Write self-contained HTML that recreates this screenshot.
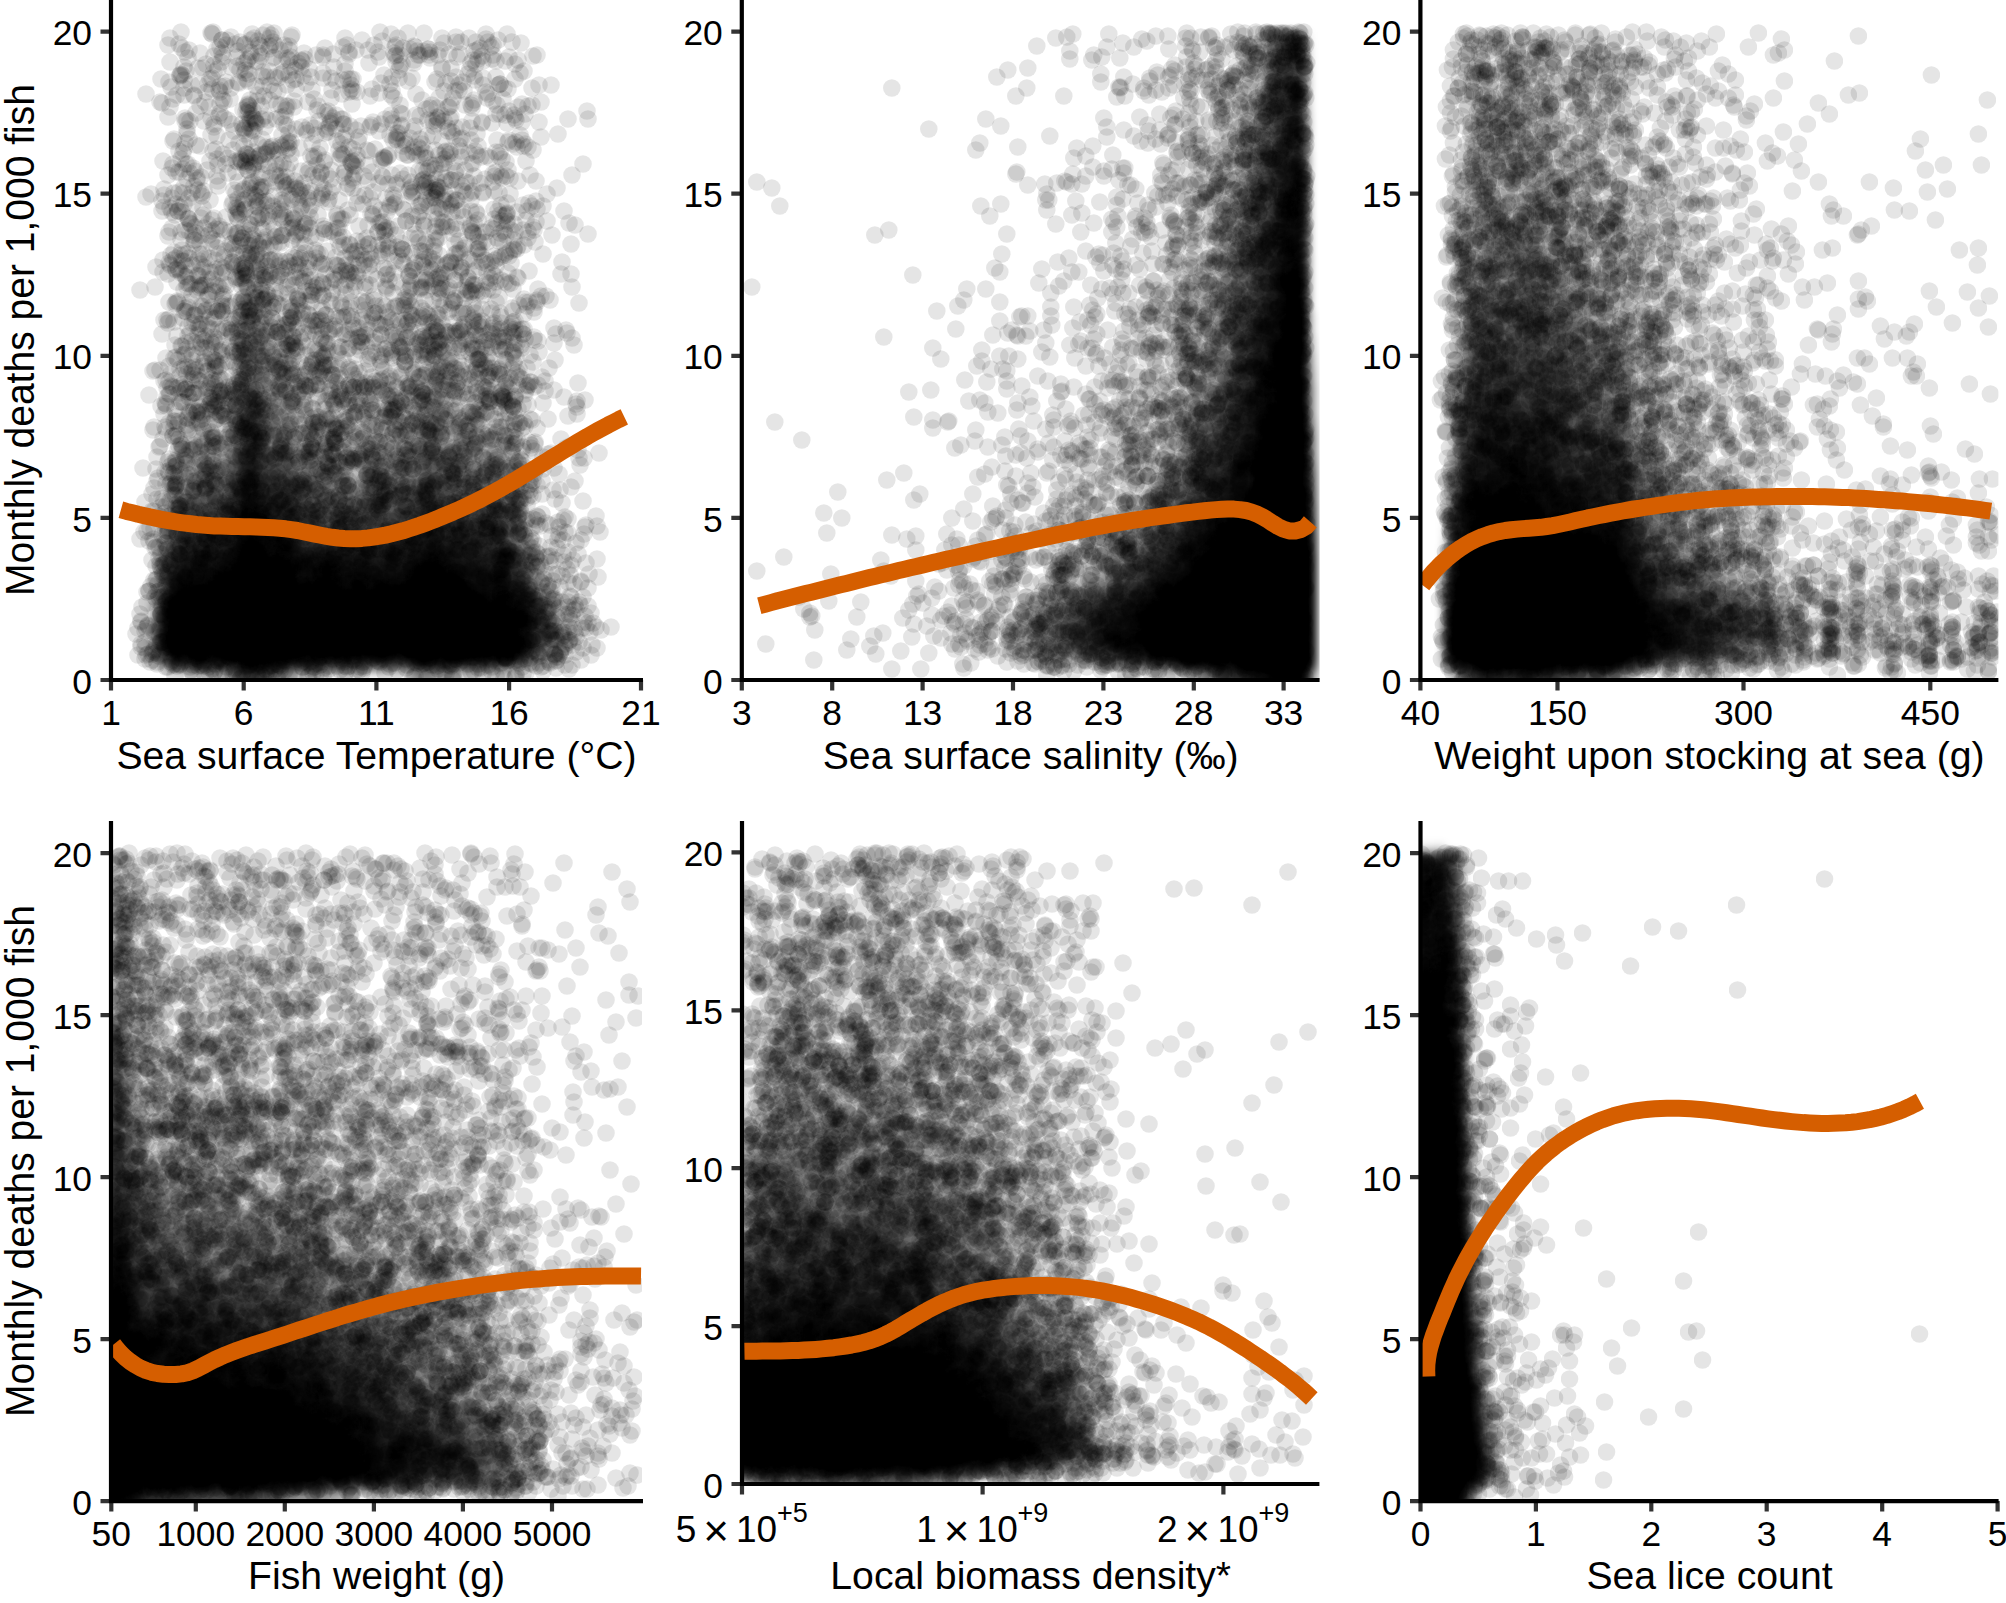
<!DOCTYPE html>
<html><head><meta charset="utf-8"><title>Mortality scatter panels</title>
<style>
html,body{margin:0;padding:0;background:#fff}
svg{display:block}
text{font-family:"Liberation Sans",sans-serif;fill:#000}
.tk{font-size:35.4px}
.tt{font-size:39.2px}
.ax{stroke:#000;stroke-width:4.2;fill:none;stroke-linecap:butt}
.ti{stroke:#333;stroke-width:4.2;fill:none}
.cv{stroke:#d55e00;stroke-width:17;fill:none;stroke-linejoin:round}
.d{fill:none;stroke:none;marker-start:url(#m);marker-mid:url(#m);marker-end:url(#m)}
</style></head><body>
<svg width="2006" height="1603" viewBox="0 0 2006 1603">
<rect width="2006" height="1603" fill="#fff"/>
<defs>
<clipPath id="c1"><rect x="111.0" y="0.0" width="531.0" height="680.0"/></clipPath>
<clipPath id="c2"><rect x="741.8" y="0.0" width="577.8" height="680.0"/></clipPath>
<clipPath id="c3"><rect x="1420.4" y="0.0" width="578.0" height="680.0"/></clipPath>
<clipPath id="c4"><rect x="111.0" y="821.0" width="531.0" height="680.0999999999999"/></clipPath>
<clipPath id="c5"><rect x="742.0" y="821.0" width="577.4000000000001" height="663.0"/></clipPath>
<clipPath id="c6"><rect x="1420.5" y="821.0" width="578.0999999999999" height="680.0999999999999"/></clipPath>
<marker id="m" markerUnits="userSpaceOnUse" markerWidth="18" markerHeight="18" refX="9" refY="9" viewBox="0 0 18 18"><circle cx="9" cy="9" r="8.8" fill="#000" fill-opacity=".1"/></marker>
<filter id="bl" x="-5%" y="-5%" width="110%" height="110%"><feGaussianBlur stdDeviation="4"/></filter>
</defs>
<g clip-path="url(#c1)">
<g filter="url(#bl)">
<path fill="#000" fill-opacity="0.062" d="M239,264h8v8h-8zM239,272h16v8h-16zM247,280h8v8h-8zM255,296h8v8h-8zM263,312h8v8h-8zM287,328h8v8h-8zM231,336h8v8h-8zM287,336h8v8h-8zM423,336h8v8h-8zM231,344h8v8h-8zM279,344h8v8h-8zM431,344h8v8h-8zM231,352h8v8h-8zM431,352h8v8h-8zM231,368h8v8h-8zM279,368h8v8h-8zM423,368h8v8h-8zM439,368h8v8h-8zM231,376h8v8h-8zM415,376h8v8h-8zM439,376h8v8h-8zM487,376h16v8h-16zM223,384h8v8h-8zM295,384h8v8h-8zM439,384h8v8h-8zM479,384h8v8h-8zM495,384h8v8h-8zM215,392h8v8h-8zM295,392h8v8h-8zM375,392h8v8h-8zM407,392h8v8h-8zM439,392h8v8h-8zM463,392h8v8h-8zM367,400h16v8h-16zM415,400h8v8h-8zM447,400h8v8h-8zM295,408h8v8h-8zM367,408h8v8h-8zM415,408h8v8h-8zM471,408h32v8h-32zM199,416h16v8h-16zM295,416h8v8h-8zM319,416h24v8h-24zM367,416h32v8h-32zM487,416h16v8h-16zM215,424h8v8h-8zM295,424h8v8h-8zM311,424h8v8h-8zM327,424h8v8h-8zM359,424h8v8h-8zM375,424h24v8h-24zM407,424h8v8h-8zM487,424h8v8h-8zM327,432h8v8h-8zM359,432h8v8h-8zM391,432h16v8h-16zM503,432h8v8h-8zM175,440h8v8h-8zM207,440h8v8h-8zM359,440h8v8h-8zM207,448h8v8h-8zM343,448h16v8h-16zM511,456h8v8h-8zM175,464h8v8h-8zM159,520h8v8h-8zM159,528h8v8h-8zM159,536h8v8h-8zM527,544h8v8h-8zM535,560h8v8h-8zM559,608h8v8h-8zM567,632h8v8h-8zM567,640h8v8h-8zM191,672h32v8h-32zM303,672h8v8h-8zM471,672h8v8h-8zM191,680h32v8h-32zM303,680h8v8h-8zM471,680h8v8h-8zM191,688h32v8h-32zM303,688h8v8h-8zM471,688h8v8h-8z"/>
<path fill="#000" fill-opacity="0.125" d="M247,240h8v8h-8zM255,248h8v8h-8zM247,256h16v8h-16zM247,264h8v8h-8zM239,288h8v8h-8zM255,304h8v8h-8zM263,320h24v8h-24zM271,336h16v8h-16zM271,344h8v8h-8zM423,344h8v8h-8zM279,352h8v8h-8zM423,352h8v8h-8zM231,360h8v8h-8zM279,360h8v8h-8zM423,360h16v8h-16zM431,368h8v8h-8zM279,376h16v8h-16zM431,376h8v8h-8zM487,384h8v8h-8zM223,392h8v8h-8zM223,400h8v8h-8zM223,408h8v8h-8zM375,408h8v8h-8zM447,408h8v8h-8zM223,416h8v8h-8zM455,416h16v8h-16zM479,416h8v8h-8zM183,424h8v8h-8zM199,424h16v8h-16zM223,424h8v8h-8zM319,424h8v8h-8zM367,424h8v8h-8zM455,424h16v8h-16zM479,424h8v8h-8zM199,432h24v8h-24zM295,432h32v8h-32zM375,432h8v8h-8zM407,432h8v8h-8zM463,432h8v8h-8zM487,432h16v8h-16zM199,440h8v8h-8zM311,440h24v8h-24zM383,440h24v8h-24zM175,448h8v8h-8zM199,448h8v8h-8zM335,448h8v8h-8zM359,448h8v8h-8zM391,448h16v8h-16zM175,456h8v8h-8zM199,456h16v8h-16zM343,456h16v8h-16zM511,464h8v8h-8zM175,472h8v8h-8zM511,472h8v8h-8zM167,488h8v8h-8zM167,496h8v8h-8zM519,504h8v8h-8zM535,568h8v8h-8zM543,584h8v8h-8zM551,600h8v8h-8zM151,656h8v8h-8zM407,672h8v8h-8zM447,672h24v8h-24zM407,680h8v8h-8zM447,680h24v8h-24zM407,688h8v8h-8zM447,688h24v8h-24z"/>
<path fill="#000" fill-opacity="0.188" d="M247,248h8v8h-8zM247,288h8v8h-8zM239,296h8v8h-8zM239,304h8v8h-8zM255,312h8v8h-8zM263,328h24v8h-24zM263,336h8v8h-8zM263,344h8v8h-8zM271,352h8v8h-8zM271,368h8v8h-8zM271,376h8v8h-8zM423,376h8v8h-8zM231,384h8v8h-8zM287,384h8v8h-8zM415,384h8v8h-8zM431,384h8v8h-8zM287,392h8v8h-8zM415,392h8v8h-8zM431,392h8v8h-8zM287,400h8v8h-8zM439,400h8v8h-8zM439,408h8v8h-8zM415,416h8v8h-8zM439,416h16v8h-16zM471,416h8v8h-8zM191,424h8v8h-8zM447,424h8v8h-8zM471,424h8v8h-8zM183,432h8v8h-8zM223,432h8v8h-8zM367,432h8v8h-8zM439,432h24v8h-24zM471,432h16v8h-16zM215,440h8v8h-8zM295,440h16v8h-16zM367,440h16v8h-16zM407,440h8v8h-8zM463,440h16v8h-16zM503,440h8v8h-8zM183,448h16v8h-16zM215,448h8v8h-8zM311,448h24v8h-24zM383,448h8v8h-8zM407,448h8v8h-8zM471,448h8v8h-8zM503,448h8v8h-8zM183,456h8v8h-8zM311,456h32v8h-32zM383,456h24v8h-24zM311,464h8v8h-8zM343,464h8v8h-8zM175,480h8v8h-8zM519,512h8v8h-8zM519,520h8v8h-8zM159,544h8v8h-8zM527,552h8v8h-8zM535,576h8v8h-8zM151,592h8v8h-8zM559,616h8v8h-8zM559,640h8v8h-8zM551,648h8v8h-8zM223,672h8v8h-8zM295,672h8v8h-8zM439,672h8v8h-8zM223,680h8v8h-8zM295,680h8v8h-8zM439,680h8v8h-8zM223,688h8v8h-8zM295,688h8v8h-8zM439,688h8v8h-8z"/>
<path fill="#000" fill-opacity="0.250" d="M247,296h8v8h-8zM247,304h8v8h-8zM239,312h16v8h-16zM239,320h8v8h-8zM255,320h8v8h-8zM263,352h8v8h-8zM271,360h8v8h-8zM263,368h8v8h-8zM263,376h8v8h-8zM263,384h24v8h-24zM423,384h8v8h-8zM271,392h16v8h-16zM423,392h8v8h-8zM271,400h16v8h-16zM423,400h8v8h-8zM287,408h8v8h-8zM423,408h8v8h-8zM287,416h8v8h-8zM287,424h8v8h-8zM415,424h8v8h-8zM439,424h8v8h-8zM191,432h8v8h-8zM415,432h8v8h-8zM183,440h16v8h-16zM223,440h8v8h-8zM447,440h16v8h-16zM479,440h24v8h-24zM295,448h16v8h-16zM367,448h16v8h-16zM463,448h8v8h-8zM479,448h8v8h-8zM495,448h8v8h-8zM191,456h8v8h-8zM215,456h8v8h-8zM303,456h8v8h-8zM359,456h8v8h-8zM375,456h8v8h-8zM463,456h24v8h-24zM503,456h8v8h-8zM183,464h24v8h-24zM303,464h8v8h-8zM319,464h24v8h-24zM351,464h8v8h-8zM471,464h8v8h-8zM183,472h8v8h-8zM343,472h16v8h-16zM511,480h8v8h-8zM167,504h8v8h-8zM519,528h8v8h-8zM543,592h8v8h-8zM551,608h8v8h-8zM559,624h8v8h-8zM559,632h8v8h-8zM535,656h8v8h-8zM167,664h8v8h-8zM511,664h8v8h-8z"/>
<path fill="#000" fill-opacity="0.312" d="M239,328h8v8h-8zM239,336h8v8h-8zM239,344h8v8h-8zM255,344h8v8h-8zM239,352h8v8h-8zM263,360h8v8h-8zM231,392h8v8h-8zM263,392h8v8h-8zM263,400h8v8h-8zM431,400h8v8h-8zM431,408h8v8h-8zM423,416h16v8h-16zM431,424h8v8h-8zM287,432h8v8h-8zM431,432h8v8h-8zM287,440h8v8h-8zM415,440h8v8h-8zM439,440h8v8h-8zM223,448h8v8h-8zM455,448h8v8h-8zM487,448h8v8h-8zM223,456h8v8h-8zM295,456h8v8h-8zM367,456h8v8h-8zM407,456h8v8h-8zM487,456h16v8h-16zM207,464h24v8h-24zM295,464h8v8h-8zM359,464h48v8h-48zM463,464h8v8h-8zM479,464h32v8h-32zM191,472h8v8h-8zM303,472h16v8h-16zM335,472h8v8h-8zM471,472h16v8h-16zM495,472h16v8h-16zM183,480h8v8h-8zM335,480h16v8h-16zM175,488h8v8h-8zM335,488h8v8h-8zM511,488h8v8h-8zM511,496h8v8h-8zM519,536h8v8h-8zM159,552h8v8h-8zM527,560h8v8h-8zM543,600h8v8h-8zM551,616h8v8h-8zM287,672h8v8h-8zM415,672h8v8h-8zM431,672h8v8h-8zM287,680h8v8h-8zM415,680h8v8h-8zM431,680h8v8h-8zM287,688h8v8h-8zM415,688h8v8h-8zM431,688h8v8h-8z"/>
<path fill="#000" fill-opacity="0.375" d="M247,320h8v8h-8zM255,328h8v8h-8zM255,336h8v8h-8zM247,344h8v8h-8zM247,352h16v8h-16zM239,360h8v8h-8zM255,360h8v8h-8zM239,368h8v8h-8zM255,368h8v8h-8zM239,376h8v8h-8zM255,376h8v8h-8zM231,400h8v8h-8zM231,408h8v8h-8zM263,408h24v8h-24zM231,416h8v8h-8zM263,416h8v8h-8zM231,424h8v8h-8zM279,424h8v8h-8zM423,424h8v8h-8zM231,432h8v8h-8zM271,432h16v8h-16zM423,432h8v8h-8zM415,448h8v8h-8zM447,448h8v8h-8zM447,456h16v8h-16zM407,464h8v8h-8zM447,464h16v8h-16zM199,472h8v8h-8zM223,472h8v8h-8zM319,472h16v8h-16zM359,472h8v8h-8zM391,472h24v8h-24zM455,472h16v8h-16zM487,472h8v8h-8zM191,480h8v8h-8zM311,480h8v8h-8zM327,480h8v8h-8zM351,480h8v8h-8zM391,480h24v8h-24zM471,480h40v8h-40zM327,488h8v8h-8zM343,488h8v8h-8zM375,488h8v8h-8zM391,488h16v8h-16zM175,496h8v8h-8zM335,496h8v8h-8zM511,504h8v8h-8zM167,512h8v8h-8zM519,544h8v8h-8zM159,560h8v8h-8zM535,584h8v8h-8zM151,600h8v8h-8zM543,608h8v8h-8zM551,624h8v8h-8zM551,640h8v8h-8zM271,672h16v8h-16zM423,672h8v8h-8zM271,680h16v8h-16zM423,680h8v8h-8zM271,688h16v8h-16zM423,688h8v8h-8z"/>
<path fill="#000" fill-opacity="0.438" d="M247,328h8v8h-8zM247,336h8v8h-8zM247,360h8v8h-8zM247,368h8v8h-8zM239,384h8v8h-8zM255,384h8v8h-8zM255,392h8v8h-8zM271,416h16v8h-16zM271,424h8v8h-8zM231,440h8v8h-8zM279,440h8v8h-8zM423,440h16v8h-16zM287,448h8v8h-8zM439,448h8v8h-8zM415,456h8v8h-8zM439,456h8v8h-8zM439,464h8v8h-8zM207,472h16v8h-16zM295,472h8v8h-8zM367,472h24v8h-24zM447,472h8v8h-8zM199,480h32v8h-32zM303,480h8v8h-8zM319,480h8v8h-8zM359,480h16v8h-16zM455,480h16v8h-16zM183,488h8v8h-8zM215,488h16v8h-16zM303,488h24v8h-24zM351,488h24v8h-24zM383,488h8v8h-8zM455,488h16v8h-16zM487,488h24v8h-24zM215,496h8v8h-8zM319,496h16v8h-16zM343,496h16v8h-16zM367,496h40v8h-40zM503,496h8v8h-8zM175,504h8v8h-8zM335,504h16v8h-16zM511,512h8v8h-8zM167,520h8v8h-8zM511,520h8v8h-8zM167,528h8v8h-8zM527,568h8v8h-8zM543,616h8v8h-8zM551,632h8v8h-8zM543,648h8v8h-8zM175,664h8v8h-8zM351,664h8v8h-8zM391,664h16v8h-16zM503,664h8v8h-8zM231,672h8v8h-8zM263,672h8v8h-8zM231,680h8v8h-8zM263,680h8v8h-8zM231,688h8v8h-8zM263,688h8v8h-8z"/>
<path fill="#000" fill-opacity="0.500" d="M247,376h8v8h-8zM247,384h8v8h-8zM239,392h8v8h-8zM255,400h8v8h-8zM263,424h8v8h-8zM263,432h8v8h-8zM271,440h8v8h-8zM231,448h8v8h-8zM279,448h8v8h-8zM423,448h16v8h-16zM287,456h8v8h-8zM431,456h8v8h-8zM287,464h8v8h-8zM415,464h8v8h-8zM431,464h8v8h-8zM415,472h8v8h-8zM439,472h8v8h-8zM295,480h8v8h-8zM375,480h16v8h-16zM447,480h8v8h-8zM191,488h24v8h-24zM407,488h8v8h-8zM447,488h8v8h-8zM471,488h16v8h-16zM183,496h8v8h-8zM207,496h8v8h-8zM223,496h8v8h-8zM303,496h16v8h-16zM359,496h8v8h-8zM463,496h40v8h-40zM311,504h24v8h-24zM351,504h16v8h-16zM471,504h40v8h-40zM319,512h40v8h-40zM479,512h16v8h-16zM511,528h8v8h-8zM167,536h8v8h-8zM519,552h8v8h-8zM159,568h8v8h-8zM527,576h8v8h-8zM535,592h8v8h-8zM151,608h8v8h-8zM151,648h8v8h-8zM527,656h8v8h-8zM335,664h16v8h-16zM359,664h8v8h-8zM383,664h8v8h-8zM487,664h16v8h-16z"/>
<path fill="#000" fill-opacity="0.562" d="M247,392h8v8h-8zM239,400h8v8h-8zM255,408h8v8h-8zM255,416h8v8h-8zM263,440h8v8h-8zM263,448h16v8h-16zM231,456h8v8h-8zM271,456h16v8h-16zM423,456h8v8h-8zM423,464h8v8h-8zM287,472h8v8h-8zM431,472h8v8h-8zM415,480h8v8h-8zM439,480h8v8h-8zM295,488h8v8h-8zM191,496h16v8h-16zM407,496h8v8h-8zM447,496h16v8h-16zM183,504h40v8h-40zM303,504h8v8h-8zM367,504h48v8h-48zM463,504h8v8h-8zM175,512h32v8h-32zM311,512h8v8h-8zM359,512h8v8h-8zM447,512h8v8h-8zM471,512h8v8h-8zM495,512h16v8h-16zM335,520h40v8h-40zM511,536h8v8h-8zM167,544h8v8h-8zM519,560h8v8h-8zM159,576h8v8h-8zM151,616h8v8h-8zM543,624h8v8h-8zM151,640h8v8h-8zM543,640h8v8h-8zM183,664h8v8h-8zM311,664h24v8h-24zM367,664h16v8h-16zM471,664h16v8h-16z"/>
<path fill="#000" fill-opacity="0.625" d="M247,400h8v8h-8zM239,408h8v8h-8zM239,416h8v8h-8zM239,424h8v8h-8zM255,424h8v8h-8zM239,432h8v8h-8zM239,440h8v8h-8zM263,456h8v8h-8zM231,464h8v8h-8zM271,464h16v8h-16zM231,472h8v8h-8zM279,472h8v8h-8zM423,472h8v8h-8zM231,480h8v8h-8zM287,480h8v8h-8zM431,480h8v8h-8zM415,488h8v8h-8zM439,488h8v8h-8zM295,496h8v8h-8zM439,496h8v8h-8zM223,504h8v8h-8zM447,504h16v8h-16zM207,512h16v8h-16zM303,512h8v8h-8zM367,512h48v8h-48zM455,512h16v8h-16zM175,520h32v8h-32zM215,520h8v8h-8zM311,520h24v8h-24zM375,520h32v8h-32zM447,520h8v8h-8zM479,520h16v8h-16zM503,520h8v8h-8zM175,528h8v8h-8zM351,528h32v8h-32zM503,528h8v8h-8zM511,544h8v8h-8zM519,568h8v8h-8zM159,584h8v8h-8zM527,584h8v8h-8zM535,600h8v8h-8zM151,624h8v8h-8zM151,632h8v8h-8zM543,632h8v8h-8zM535,648h8v8h-8zM159,656h8v8h-8zM191,664h32v8h-32zM303,664h8v8h-8zM407,664h8v8h-8zM447,664h24v8h-24zM255,672h8v8h-8zM255,680h8v8h-8zM255,688h8v8h-8z"/>
<path fill="#000" fill-opacity="0.688" d="M247,408h8v8h-8zM247,416h8v8h-8zM247,424h8v8h-8zM247,432h16v8h-16zM247,440h16v8h-16zM239,448h8v8h-8zM255,448h8v8h-8zM263,464h8v8h-8zM263,472h16v8h-16zM279,480h8v8h-8zM423,480h8v8h-8zM231,488h8v8h-8zM287,488h8v8h-8zM423,488h16v8h-16zM231,496h8v8h-8zM287,496h8v8h-8zM415,496h8v8h-8zM431,496h8v8h-8zM287,504h16v8h-16zM415,504h8v8h-8zM439,504h8v8h-8zM223,512h8v8h-8zM295,512h8v8h-8zM439,512h8v8h-8zM207,520h8v8h-8zM223,520h8v8h-8zM295,520h16v8h-16zM407,520h8v8h-8zM455,520h24v8h-24zM495,520h8v8h-8zM183,528h24v8h-24zM215,528h16v8h-16zM303,528h48v8h-48zM383,528h32v8h-32zM455,528h8v8h-8zM479,528h24v8h-24zM175,536h8v8h-8zM311,536h16v8h-16zM351,536h8v8h-8zM399,536h8v8h-8zM503,536h8v8h-8zM167,552h8v8h-8zM511,552h8v8h-8zM527,592h8v8h-8zM535,608h8v8h-8zM535,616h8v8h-8zM519,656h8v8h-8zM223,664h8v8h-8zM295,664h8v8h-8zM439,664h8v8h-8zM239,672h16v8h-16zM239,680h16v8h-16zM239,688h16v8h-16z"/>
<path fill="#000" fill-opacity="0.750" d="M247,448h8v8h-8zM239,456h8v8h-8zM255,456h8v8h-8zM263,480h16v8h-16zM263,488h24v8h-24zM271,496h16v8h-16zM423,496h8v8h-8zM231,504h8v8h-8zM423,504h16v8h-16zM287,512h8v8h-8zM415,512h8v8h-8zM439,520h8v8h-8zM207,528h8v8h-8zM295,528h8v8h-8zM447,528h8v8h-8zM463,528h16v8h-16zM183,536h48v8h-48zM327,536h24v8h-24zM359,536h40v8h-40zM407,536h8v8h-8zM447,536h16v8h-16zM479,536h24v8h-24zM175,544h24v8h-24zM383,544h24v8h-24zM479,544h32v8h-32zM167,560h8v8h-8zM511,560h8v8h-8zM511,568h8v8h-8zM519,576h8v8h-8zM159,592h8v8h-8zM535,624h8v8h-8zM535,632h8v8h-8zM535,640h8v8h-8zM287,664h8v8h-8zM415,664h8v8h-8zM431,664h8v8h-8z"/>
<path fill="#000" fill-opacity="0.812" d="M247,456h8v8h-8zM239,464h8v8h-8zM255,464h8v8h-8zM239,472h8v8h-8zM255,472h8v8h-8zM239,480h8v8h-8zM255,480h8v8h-8zM255,488h8v8h-8zM263,496h8v8h-8zM271,504h16v8h-16zM271,512h16v8h-16zM423,512h16v8h-16zM287,520h8v8h-8zM415,520h24v8h-24zM415,528h8v8h-8zM439,528h8v8h-8zM295,536h16v8h-16zM415,536h8v8h-8zM439,536h8v8h-8zM463,536h16v8h-16zM199,544h24v8h-24zM303,544h80v8h-80zM407,544h8v8h-8zM447,544h32v8h-32zM175,552h16v8h-16zM199,552h16v8h-16zM327,552h32v8h-32zM375,552h8v8h-8zM399,552h8v8h-8zM471,552h40v8h-40zM487,560h24v8h-24zM167,568h8v8h-8zM511,576h8v8h-8zM519,584h8v8h-8zM159,600h8v8h-8zM527,600h8v8h-8zM527,648h8v8h-8zM511,656h8v8h-8zM231,664h8v8h-8zM263,664h24v8h-24zM423,664h8v8h-8z"/>
<path fill="#000" fill-opacity="0.875" d="M247,464h8v8h-8zM247,472h8v8h-8zM247,480h8v8h-8zM239,488h16v8h-16zM239,496h8v8h-8zM255,496h8v8h-8zM255,504h16v8h-16zM231,512h8v8h-8zM263,512h8v8h-8zM231,520h8v8h-8zM263,520h24v8h-24zM231,528h8v8h-8zM263,528h32v8h-32zM423,528h16v8h-16zM231,536h8v8h-8zM287,536h8v8h-8zM423,536h16v8h-16zM223,544h8v8h-8zM295,544h8v8h-8zM415,544h8v8h-8zM439,544h8v8h-8zM191,552h8v8h-8zM215,552h16v8h-16zM295,552h32v8h-32zM359,552h16v8h-16zM383,552h16v8h-16zM407,552h8v8h-8zM447,552h24v8h-24zM175,560h48v8h-48zM311,560h72v8h-72zM399,560h8v8h-8zM471,560h16v8h-16zM487,568h24v8h-24zM167,576h8v8h-8zM503,576h8v8h-8zM511,584h8v8h-8zM519,592h8v8h-8zM519,600h8v8h-8zM159,608h8v8h-8zM527,608h8v8h-8zM527,616h8v8h-8zM527,624h8v8h-8zM527,632h8v8h-8zM159,640h8v8h-8zM527,640h8v8h-8zM159,648h8v8h-8zM167,656h8v8h-8zM503,656h8v8h-8z"/>
<path fill="#000" fill-opacity="0.938" d="M247,496h8v8h-8zM239,504h16v8h-16zM239,512h24v8h-24zM239,520h24v8h-24zM239,528h24v8h-24zM239,536h8v8h-8zM255,536h32v8h-32zM231,544h8v8h-8zM263,544h32v8h-32zM423,544h16v8h-16zM231,552h8v8h-8zM271,552h24v8h-24zM415,552h32v8h-32zM223,560h8v8h-8zM287,560h24v8h-24zM383,560h16v8h-16zM407,560h16v8h-16zM431,560h40v8h-40zM175,568h56v8h-56zM295,568h120v8h-120zM439,568h48v8h-48zM175,576h48v8h-48zM295,576h120v8h-120zM463,576h40v8h-40zM167,584h16v8h-16zM343,584h8v8h-8zM367,584h8v8h-8zM471,584h40v8h-40zM167,592h8v8h-8zM487,592h32v8h-32zM167,600h8v8h-8zM503,600h16v8h-16zM519,608h8v8h-8zM159,616h8v8h-8zM519,616h8v8h-8zM159,624h8v8h-8zM519,624h8v8h-8zM159,632h8v8h-8zM519,632h8v8h-8zM519,640h8v8h-8zM511,648h16v8h-16zM175,656h48v8h-48zM303,656h112v8h-112zM463,656h40v8h-40zM239,664h24v8h-24z"/>
<path fill="#000" fill-opacity="1.000" d="M247,536h8v8h-8zM239,544h24v8h-24zM239,552h32v8h-32zM231,560h56v8h-56zM423,560h8v8h-8zM231,568h64v8h-64zM415,568h24v8h-24zM223,576h72v8h-72zM415,576h48v8h-48zM183,584h160v8h-160zM351,584h16v8h-16zM375,584h96v8h-96zM175,592h312v8h-312zM175,600h328v8h-328zM167,608h352v8h-352zM167,616h352v8h-352zM167,624h352v8h-352zM167,632h352v8h-352zM167,640h352v8h-352zM167,648h344v8h-344zM223,656h80v8h-80zM415,656h48v8h-48z"/>
</g>
<polyline class="d" fill="none" stroke="none" marker-start="url(#m)" marker-mid="url(#m)" marker-end="url(#m)" transform="translate(111.0,0.0)" points="59,38 70,32 100,33 101,34 102,32 120,37 140,40 141,34 143,38 152,35 156,32 159,38 160,35 163,33 180,37 181,35 234,38 269,32 280,34 287,38 297,33 313,33 331,38 345,37 358,38 375,34 375,39 396,34 50,79 57,45 59,62 68,44 69,76 69,75 70,74 71,48 71,75 73,67 74,52 75,71 77,58 78,50 87,68 89,53 92,68 95,64 99,79 101,78 103,65 103,56 103,72 106,49 107,69 109,47 110,62 111,40 111,53 111,40 112,57 115,45 116,40 120,67 124,44 126,57 126,66 127,51 129,42 129,70 133,45 133,63 134,73 134,44 135,70 135,79 136,61 137,59 138,74 139,52 140,56 145,61 147,41 147,62 148,45 148,53 150,47 150,56 151,76 152,72 156,77 158,71 158,49 159,46 162,42 162,58 163,57 164,45 164,77 167,78 169,50 170,74 171,61 173,45 173,72 176,58 178,50 178,60 178,75 178,46 180,67 180,57 184,70 185,79 187,63 190,60 190,67 191,61 192,76 193,53 194,59 198,69 200,77 205,55 212,78 212,73 212,55 212,57 214,48 220,78 222,54 223,67 232,47 234,71 234,64 236,45 237,79 238,52 238,54 240,79 242,79 245,50 251,40 257,50 258,63 263,45 267,52 268,57 271,41 273,75 281,77 283,53 284,47 284,56 285,55 285,62 285,45 288,70 288,78 289,55 289,66 291,64 292,48 299,49 301,78 303,63 303,46 303,60 304,47 306,51 307,55 309,55 313,51 317,49 318,49 318,55 319,52 319,58 326,79 327,55 329,50 331,67 331,69 333,43 338,54 340,68 345,77 345,42 346,57 349,54 350,42 357,74 359,69 360,63 362,60 363,76 363,51 364,80 365,64 365,42 366,50 367,59 369,48 371,56 372,61 372,78 377,42 380,47 381,59 382,55 382,45 385,77 385,61 387,40 394,61 398,57 401,42 404,64 404,79 407,60 409,73 410,43 413,71 422,56 426,55 35,94 49,102 51,103 57,117 58,82 59,107 60,87 62,99 66,95 73,80 73,95 73,88 74,118 80,84 83,95 83,96 85,113 88,85 89,106 94,102 95,92 97,84 98,107 100,118 101,89 108,90 108,116 109,92 109,104 109,113 109,86 111,99 113,101 113,118 114,86 115,82 117,120 119,99 120,88 127,82 128,83 132,110 135,112 136,107 137,105 137,113 137,81 137,104 138,110 138,106 139,100 139,119 141,116 142,118 142,111 144,119 145,86 146,101 147,95 150,106 151,119 152,86 153,96 154,116 159,85 159,100 163,91 165,119 166,104 167,91 170,117 170,105 174,116 175,106 175,110 176,85 177,106 182,80 183,101 183,107 185,89 195,83 197,102 201,90 203,99 206,110 207,106 214,112 217,111 218,115 220,98 221,90 222,118 225,115 225,81 230,119 231,94 232,80 232,119 238,92 240,89 240,85 241,104 242,91 246,92 259,96 261,89 268,93 270,83 274,119 279,84 280,95 280,119 280,115 281,91 283,98 289,105 289,113 291,114 297,81 305,94 305,115 309,116 311,100 315,109 317,120 319,108 321,105 324,82 326,108 326,120 326,117 327,118 328,98 330,115 333,91 335,83 337,107 338,107 339,119 340,81 340,117 340,105 342,98 344,91 348,90 348,85 352,82 353,91 354,105 360,105 361,108 362,103 363,100 372,85 375,92 376,98 377,94 382,101 385,114 386,105 387,85 389,84 389,84 389,114 392,99 393,88 394,115 397,89 398,111 403,115 404,118 407,107 411,104 414,114 417,106 421,105 421,88 428,85 430,102 440,85 457,119 476,111 477,119 62,141 63,139 68,151 70,159 72,153 73,149 74,143 74,121 76,133 76,129 76,120 78,139 79,121 85,145 89,146 93,121 100,135 102,151 103,124 103,127 105,149 106,159 106,136 112,154 117,158 118,140 121,124 122,150 123,131 128,143 129,159 131,124 132,128 133,146 133,130 134,134 134,128 135,154 136,158 136,154 137,123 137,155 139,157 139,128 139,139 139,123 141,130 142,152 143,131 144,159 144,121 145,123 146,123 147,144 148,156 149,155 151,139 153,154 154,127 155,147 155,154 156,152 157,120 159,149 160,147 162,151 162,146 164,150 167,154 170,145 171,147 171,135 173,124 175,143 176,126 176,150 177,141 178,133 178,143 178,148 180,142 180,154 185,129 188,148 191,127 195,130 196,133 199,125 200,156 201,144 203,158 203,128 203,156 205,135 207,154 208,121 209,148 214,160 214,133 215,129 217,132 218,127 219,123 220,121 225,129 226,141 228,150 229,158 230,144 230,154 231,155 232,138 232,124 233,124 233,154 235,135 238,147 239,126 242,149 245,130 246,160 246,155 247,141 248,137 250,126 256,150 258,151 259,127 260,125 262,122 264,149 268,131 270,124 273,157 273,160 273,158 274,158 277,156 278,155 279,135 282,140 282,123 285,139 286,140 286,137 286,133 288,133 290,126 291,125 292,146 292,153 293,140 295,144 296,155 297,155 299,138 302,131 302,152 303,147 304,126 306,155 307,147 309,139 309,155 310,149 311,144 314,158 314,153 316,136 316,158 322,136 322,121 323,126 324,150 326,124 328,155 331,141 333,121 333,159 334,152 335,151 336,157 337,128 337,131 339,154 339,151 341,132 343,136 345,128 348,146 349,139 350,157 350,151 351,138 351,127 358,153 359,128 360,140 361,121 364,151 366,134 366,155 367,146 370,157 371,123 371,122 375,156 379,158 381,123 385,152 386,140 388,156 389,152 391,159 396,123 397,142 398,140 402,144 405,142 405,120 406,147 409,135 411,140 411,122 412,146 414,144 417,147 422,150 428,122 430,137 447,134 35,197 40,194 52,161 53,189 53,195 57,175 61,198 61,168 62,164 63,193 65,172 68,172 68,192 72,193 72,169 73,187 75,164 76,179 77,164 78,198 79,173 81,193 82,168 83,186 84,171 86,180 86,178 87,190 90,193 90,177 91,196 93,191 96,170 99,161 106,176 107,181 107,165 107,186 115,164 117,173 123,190 125,161 125,193 125,172 127,162 127,199 127,182 130,160 131,191 131,162 133,189 134,166 134,161 135,163 137,170 137,198 137,170 139,185 139,162 139,188 140,194 140,183 142,168 142,182 142,166 144,195 144,163 146,185 146,197 148,177 149,190 149,161 150,190 150,187 151,174 152,164 152,187 156,186 158,166 159,178 163,196 164,171 165,164 165,175 165,182 169,165 169,176 171,200 172,163 172,182 172,181 173,188 175,177 175,186 176,169 176,185 179,195 179,163 179,184 181,199 184,181 184,187 185,189 187,188 187,198 189,191 190,171 190,195 191,188 193,183 196,193 197,173 197,200 198,198 198,169 200,191 202,175 206,165 207,177 207,198 209,183 210,172 210,173 211,193 211,195 211,199 213,189 213,162 216,175 218,199 219,192 220,179 220,170 222,187 233,173 233,177 234,171 236,188 237,184 240,162 240,163 241,164 242,161 242,166 242,180 242,188 242,178 244,174 245,166 247,196 253,176 254,195 257,181 257,165 259,198 261,172 262,192 268,183 270,160 271,176 272,177 275,198 277,184 281,175 282,195 283,198 285,185 286,183 289,173 292,179 297,175 298,191 299,189 300,182 301,196 301,193 301,187 303,192 308,171 310,185 311,181 312,170 312,180 313,191 313,179 314,183 314,187 316,171 316,182 318,168 318,188 319,183 320,165 320,198 321,192 323,197 324,165 324,190 324,169 324,198 325,190 325,179 326,186 326,190 326,194 326,192 327,187 329,188 330,164 330,173 332,199 333,163 334,194 334,182 335,178 340,199 340,180 341,180 343,190 343,162 344,173 345,171 345,200 346,180 351,186 352,191 354,170 355,182 355,194 358,183 360,164 360,193 362,163 362,191 363,176 369,183 372,192 372,193 374,179 382,182 382,174 383,191 384,176 385,172 388,193 390,176 391,178 395,162 395,176 397,170 399,194 399,178 407,181 415,161 419,175 425,181 436,194 446,188 461,175 472,164 51,211 51,201 53,207 57,236 58,232 59,208 61,228 61,212 64,215 65,204 67,211 67,211 69,207 70,232 70,240 71,212 73,204 74,230 77,219 77,218 78,231 78,219 79,223 80,224 82,235 82,203 84,227 85,233 90,235 90,218 92,208 92,215 93,228 97,224 98,235 99,200 101,239 101,231 101,220 103,218 105,229 108,226 109,229 113,230 115,217 119,232 121,205 122,202 124,234 125,236 125,207 125,214 126,208 126,233 126,217 127,233 127,210 127,219 128,212 130,214 131,238 131,238 132,204 133,200 133,227 133,234 134,210 134,209 138,224 139,230 140,225 141,239 142,235 143,216 144,200 145,206 147,202 147,218 147,218 147,207 149,201 150,215 150,228 152,218 152,229 153,202 155,237 156,205 156,201 157,216 158,213 158,221 162,206 163,229 163,211 164,237 165,236 169,218 169,214 169,209 170,236 171,203 171,235 172,211 172,235 172,220 174,202 174,217 177,228 181,228 181,223 182,220 182,218 183,227 183,219 184,236 184,215 185,234 187,232 188,204 190,208 191,232 191,206 193,234 193,223 194,226 195,224 197,223 198,210 199,228 199,217 200,206 200,236 205,238 207,215 212,226 213,229 213,233 214,229 217,202 219,231 222,232 226,216 226,214 226,228 227,220 228,200 228,228 228,236 230,219 232,237 232,219 237,210 239,215 246,203 248,226 252,204 256,238 257,225 260,214 262,214 262,216 263,206 267,232 267,232 268,223 270,222 270,210 272,222 272,227 273,231 274,230 274,235 276,228 276,212 279,205 279,207 279,229 283,204 285,235 285,202 287,226 292,209 293,210 295,221 295,221 300,238 301,216 302,224 304,234 307,238 307,216 308,206 309,212 310,205 311,203 313,226 313,221 313,225 315,200 318,206 323,213 324,232 325,240 325,226 325,206 325,238 326,219 328,238 328,208 330,227 331,222 331,210 332,227 333,222 334,201 335,209 336,226 340,204 340,227 340,206 341,212 342,234 343,202 345,223 346,229 346,200 347,211 351,210 353,217 359,228 360,225 360,231 360,211 360,200 362,234 362,232 362,233 363,223 365,212 366,214 367,236 367,220 372,232 375,232 380,228 383,229 383,209 383,219 386,238 386,223 387,211 389,215 389,233 390,205 391,221 393,216 393,231 395,215 395,235 396,221 396,203 396,224 396,213 396,214 400,230 403,224 404,232 406,212 412,205 412,230 415,220 416,211 417,238 417,232 418,203 421,206 422,227 423,230 425,222 425,201 426,209 432,206 436,221 441,235 453,211 458,223 464,225 477,234 45,267 52,260 52,272 57,274 58,263 59,265 60,255 62,260 63,252 65,270 65,258 65,269 67,268 68,270 69,255 70,273 71,250 71,261 73,261 74,254 74,276 75,266 75,277 77,274 77,253 78,258 81,265 83,244 83,240 84,240 87,276 87,275 87,260 89,254 89,276 89,243 89,264 91,270 92,254 93,259 93,267 97,279 98,258 99,272 100,243 101,279 104,260 104,272 105,269 106,248 106,241 108,254 110,267 111,273 113,257 113,268 114,251 115,272 120,244 121,249 121,264 121,262 122,243 122,262 123,266 123,248 125,277 125,255 125,279 126,265 128,278 129,245 130,279 130,241 130,271 131,269 131,264 132,273 132,276 132,278 133,253 134,263 134,268 134,268 135,275 135,273 135,270 136,275 136,253 137,256 137,245 138,258 138,242 140,255 140,246 140,253 142,263 144,241 145,271 145,255 146,268 146,254 146,261 146,279 147,244 148,246 149,264 149,275 149,270 151,275 151,259 152,278 152,242 152,248 153,240 154,275 154,277 155,248 156,266 157,261 158,277 159,272 159,245 159,260 160,260 160,275 163,245 164,259 164,261 166,277 167,275 168,242 168,266 169,276 169,261 170,243 170,272 173,269 175,261 176,268 177,280 178,262 179,266 181,240 181,257 184,265 184,277 184,258 185,272 187,264 188,253 189,243 189,278 189,260 189,270 190,258 194,245 194,276 194,253 195,268 197,268 198,261 198,259 199,276 204,250 205,258 206,253 208,262 209,254 210,266 211,264 213,264 215,274 216,251 223,279 223,274 224,265 225,257 226,265 227,240 227,266 229,247 230,275 230,271 233,245 234,258 235,271 235,265 236,270 237,274 237,280 238,244 239,272 239,245 240,273 240,252 241,264 242,254 244,251 244,275 245,258 246,273 246,241 246,251 247,276 248,265 250,255 252,241 253,265 253,247 253,260 256,259 257,244 258,244 258,266 259,253 260,259 260,275 261,264 266,279 267,245 268,256 271,253 271,250 272,244 273,268 275,275 276,274 277,241 277,269 277,248 278,246 278,253 283,273 284,261 286,247 287,256 290,243 291,261 291,249 291,249 292,250 293,264 293,254 298,276 298,276 298,272 301,253 301,270 302,270 303,268 304,263 308,242 309,251 311,251 311,262 312,265 313,259 314,252 314,244 314,267 315,278 316,242 316,280 318,257 319,268 321,270 322,262 322,259 322,279 323,246 323,251 325,279 326,264 327,277 328,255 329,278 329,275 331,273 333,274 335,265 337,263 338,271 339,262 340,261 340,263 344,280 344,254 344,280 344,263 344,244 346,253 348,241 349,253 349,272 349,250 350,267 350,270 351,268 353,248 353,262 355,245 357,277 357,278 358,259 363,271 363,261 366,249 367,249 367,252 368,248 368,242 368,267 370,255 371,262 372,242 374,260 376,264 376,272 376,242 379,278 380,262 381,273 383,256 384,276 384,260 385,266 387,258 388,241 390,257 390,280 392,242 394,255 395,253 397,273 398,256 399,251 400,263 403,250 403,240 403,249 406,277 406,249 407,278 407,246 413,245 418,271 424,242 432,254 450,274 451,262 460,244 460,274 29,290 44,287 53,320 58,302 58,319 64,304 65,303 66,301 66,282 67,302 72,318 73,290 73,311 74,308 74,311 76,312 76,283 76,287 77,307 78,284 79,302 80,284 81,295 83,315 84,315 86,290 86,311 88,287 89,288 89,285 90,286 90,306 91,314 92,306 92,285 94,311 94,285 95,310 96,299 97,295 98,295 99,317 101,291 101,307 103,319 104,285 104,318 105,292 106,311 107,286 107,309 107,311 109,288 111,304 111,311 111,306 111,311 112,296 112,313 112,299 113,284 113,294 116,306 116,285 120,306 121,318 124,319 125,302 128,317 129,302 130,285 130,312 130,316 131,309 131,299 133,302 133,311 133,283 133,301 133,297 135,282 136,308 136,287 137,288 137,302 137,317 138,310 138,311 138,316 139,310 140,316 140,308 141,298 141,320 143,315 143,293 144,314 144,290 144,283 145,305 145,297 146,311 146,298 147,302 148,285 149,318 150,290 150,294 151,286 151,300 152,299 152,304 152,310 153,300 153,316 154,299 155,280 155,317 156,297 156,293 157,295 158,310 159,301 161,318 161,318 162,307 162,307 164,291 164,298 164,283 165,303 167,304 169,293 171,306 175,317 176,287 177,294 178,302 179,318 180,311 180,285 180,318 180,311 181,307 182,316 183,285 183,317 186,296 186,311 187,299 187,300 187,298 188,305 189,301 190,318 191,313 192,281 192,311 193,282 195,291 196,301 197,314 198,315 199,291 200,302 200,295 200,280 201,295 202,287 203,292 206,285 206,288 208,295 209,282 209,319 210,311 211,308 212,295 212,284 212,296 212,283 215,315 215,315 219,301 220,282 221,304 221,293 222,290 225,280 225,316 228,318 230,287 230,305 230,303 232,317 232,307 233,317 234,285 235,294 236,315 239,308 240,291 240,302 240,316 241,319 243,282 244,286 248,305 251,320 251,301 251,317 254,283 254,287 254,310 254,303 256,301 259,285 261,316 262,318 263,313 263,300 263,296 264,313 265,306 267,312 272,305 275,306 275,286 275,288 276,289 276,312 277,317 278,280 282,293 282,320 283,308 285,282 285,306 287,306 292,305 292,288 293,308 293,300 294,320 294,305 295,297 297,301 298,312 298,298 298,290 300,281 300,306 300,286 300,288 300,315 301,319 301,315 304,302 309,318 310,288 310,289 310,280 310,308 310,287 311,316 312,287 313,311 313,317 314,300 315,282 316,290 316,314 318,316 321,286 322,301 326,314 327,318 327,293 328,288 328,315 329,307 329,299 329,289 330,283 331,290 332,288 333,305 337,312 337,290 338,287 340,309 341,300 341,303 343,301 343,302 345,298 347,313 349,290 349,313 352,313 353,309 354,287 354,298 355,293 356,314 357,290 357,281 360,292 360,291 361,294 362,304 362,318 362,285 363,284 364,313 364,310 365,290 365,285 366,293 371,309 371,291 372,295 375,282 377,289 379,283 380,309 381,313 382,290 385,302 385,282 388,297 389,313 390,317 394,282 397,284 400,283 401,308 402,289 402,311 408,305 413,314 413,299 414,302 416,306 418,302 423,312 423,308 426,300 426,302 427,289 430,296 435,296 439,300 461,287 468,303 51,334 55,358 56,320 57,323 63,322 63,358 64,345 65,357 66,336 67,360 70,346 71,346 72,355 74,354 75,343 76,349 77,336 77,327 79,333 81,341 81,355 81,323 81,360 84,322 85,343 86,354 87,335 87,327 88,324 89,329 90,343 90,324 90,347 92,348 92,339 94,358 94,341 95,336 96,348 96,327 97,325 100,342 100,354 100,329 101,344 102,359 103,337 104,342 106,339 107,329 108,351 109,345 111,352 111,355 111,331 111,350 113,328 116,328 119,347 119,330 120,324 121,336 121,332 121,333 122,352 122,351 126,328 126,353 126,344 127,356 127,341 127,338 127,331 129,350 129,353 129,351 129,320 129,329 130,339 131,345 131,331 132,341 132,355 133,348 134,349 134,355 134,331 136,322 136,330 137,357 138,328 138,353 139,344 139,343 141,322 142,341 144,336 145,347 146,339 146,329 146,355 146,350 148,343 148,357 149,327 150,337 150,323 150,356 151,335 152,356 156,334 156,331 156,348 156,351 157,342 158,348 160,327 160,331 162,357 162,355 164,339 165,323 166,332 166,332 167,332 168,328 169,357 170,334 170,349 171,338 172,349 174,325 174,333 174,349 176,350 176,343 177,324 177,345 177,330 177,323 178,356 179,346 180,320 181,343 181,344 181,350 181,340 182,336 182,337 182,323 182,358 183,343 184,346 184,348 186,328 186,351 186,327 186,348 189,337 191,342 193,333 195,355 196,346 197,334 198,326 200,320 200,351 202,321 202,331 203,325 204,349 205,335 205,321 206,326 207,351 207,320 210,339 210,338 210,358 211,329 211,354 211,321 212,356 213,358 213,343 214,355 214,326 214,342 216,353 216,343 216,344 217,350 218,331 218,333 218,324 221,329 224,329 224,326 227,351 227,353 229,347 230,347 231,335 232,359 233,334 235,334 237,349 238,330 238,348 240,339 242,325 242,328 244,355 246,346 246,342 247,338 248,328 248,336 249,337 249,350 250,342 251,337 251,342 254,334 255,335 256,347 256,323 257,359 258,330 259,356 261,353 262,342 264,338 265,352 266,323 268,324 269,360 269,344 270,335 270,334 270,325 271,356 274,354 274,323 274,349 275,327 276,348 279,337 280,350 280,322 281,358 281,353 281,355 282,332 282,335 285,338 286,341 287,321 288,346 289,337 289,348 289,347 289,357 290,324 291,353 291,347 292,345 294,355 294,331 295,356 296,337 296,325 296,338 297,323 297,322 299,331 299,337 302,357 302,321 302,347 304,352 305,354 306,344 307,339 309,342 309,345 310,337 310,355 311,350 312,336 312,332 313,324 313,355 314,341 315,338 316,357 316,338 317,345 317,354 317,322 317,352 320,335 320,346 320,332 321,359 321,322 322,355 322,331 323,356 323,342 323,323 323,349 324,351 324,330 324,356 326,327 326,331 326,331 326,340 326,332 327,349 327,343 328,342 329,340 329,347 331,344 331,324 332,340 332,351 333,352 335,331 336,335 336,343 336,332 336,360 338,332 338,348 340,358 343,323 343,333 343,348 343,336 345,331 346,333 348,345 349,330 349,348 349,330 349,344 351,332 351,351 352,327 352,341 353,324 353,329 355,339 358,352 358,340 361,345 361,348 361,355 361,336 362,349 362,321 362,327 363,320 364,330 365,334 366,360 366,349 366,347 367,322 367,359 367,359 367,325 368,360 368,336 369,354 369,359 369,324 370,336 371,347 371,321 371,327 373,342 375,348 376,340 377,355 378,340 378,333 378,358 380,331 381,347 382,342 382,325 382,328 382,334 383,323 386,329 387,341 388,337 388,346 389,349 390,329 390,323 391,350 392,338 393,341 394,349 394,347 394,359 395,335 395,337 395,360 398,328 399,327 401,332 401,324 402,352 402,353 402,337 402,322 402,355 403,333 403,343 404,321 404,350 404,329 405,358 406,343 408,330 410,345 411,348 411,329 412,334 412,334 413,329 414,339 419,355 423,340 423,337 427,341 428,352 443,328 443,343 445,334 455,330 456,333 461,338 463,345 38,395 42,371 44,370 49,370 53,381 55,380 56,388 56,397 58,394 58,382 58,366 59,394 60,386 60,374 62,387 66,388 68,393 69,369 69,376 69,386 70,388 73,369 73,390 73,384 74,366 75,389 75,389 76,374 77,367 77,392 78,397 80,382 81,369 81,372 82,379 82,393 82,393 83,375 83,393 84,367 85,370 85,393 87,376 87,380 88,389 89,381 92,366 93,362 95,391 96,382 96,364 96,388 96,371 97,371 98,397 98,388 99,398 100,379 100,383 101,398 102,362 102,394 103,387 104,380 104,371 104,360 104,384 104,368 105,361 105,366 107,395 107,366 108,367 108,380 109,392 109,391 109,378 110,395 111,391 111,364 112,390 112,380 113,395 113,398 115,393 117,361 117,387 118,391 121,376 121,399 122,392 122,389 123,385 123,362 124,394 125,367 126,397 126,383 127,389 128,377 129,382 129,392 129,367 129,379 130,385 130,384 130,390 131,361 131,397 132,379 132,380 133,369 134,362 134,372 134,400 136,378 137,373 137,368 137,368 137,385 138,396 138,397 139,363 140,394 141,399 141,389 143,367 143,374 144,399 145,373 145,390 145,390 145,399 149,396 150,374 151,380 151,367 151,375 152,365 152,399 152,361 153,385 157,398 158,382 158,364 160,388 161,393 161,377 163,367 163,365 164,361 165,365 166,372 167,386 167,399 168,370 168,369 168,382 168,372 168,389 169,362 169,392 170,391 170,384 171,368 172,380 172,374 174,390 174,377 174,373 174,363 175,390 176,392 176,373 178,364 179,393 180,375 180,363 180,369 181,366 181,373 181,399 182,398 182,375 183,383 183,374 186,382 187,386 187,394 189,391 189,362 190,382 190,389 190,380 191,376 192,399 194,392 194,386 194,374 194,385 195,386 196,366 197,390 197,370 198,372 199,386 199,387 200,367 201,364 201,363 202,360 202,384 204,376 205,370 205,398 205,385 205,360 206,385 206,368 207,396 208,377 208,384 209,373 209,389 211,370 212,367 212,374 212,363 213,376 213,365 214,367 216,365 218,365 218,395 219,388 219,391 220,380 220,365 221,391 221,399 221,374 221,375 223,375 225,382 226,397 227,384 227,368 228,391 228,364 228,378 229,389 229,375 229,396 230,394 232,399 234,389 237,399 238,385 238,369 238,367 238,385 239,395 239,387 240,371 242,375 242,388 242,392 243,387 243,387 244,369 245,379 248,382 248,398 248,373 249,400 249,387 250,385 253,390 253,388 253,387 254,371 255,383 256,387 256,396 257,387 258,364 259,399 261,384 261,377 262,388 262,387 263,394 264,381 268,387 269,381 269,380 270,390 270,363 270,367 271,393 272,379 273,391 273,370 276,395 277,384 277,378 277,396 279,390 279,376 279,399 280,395 282,381 283,397 285,400 285,371 286,387 286,388 289,377 290,374 294,361 294,365 294,362 294,362 295,383 295,398 296,394 296,388 297,389 297,386 298,385 299,387 300,386 301,369 301,392 302,374 303,373 305,370 306,388 306,382 308,396 308,377 309,377 311,391 311,392 311,393 311,397 312,375 312,364 313,391 313,394 314,375 314,394 316,372 321,376 322,370 322,397 323,387 324,385 325,379 325,377 325,399 326,381 326,396 326,373 327,375 328,367 329,390 329,371 329,384 330,363 331,367 331,400 331,397 332,389 333,381 334,368 335,400 336,385 336,376 337,371 337,390 338,383 338,360 339,365 339,378 340,372 341,390 342,399 343,380 343,368 343,391 344,393 345,369 345,391 346,388 346,373 346,383 347,382 347,362 348,397 349,376 350,370 351,366 352,393 353,387 353,377 357,394 357,399 358,374 359,379 360,385 361,394 361,372 362,362 364,377 365,370 365,388 366,368 366,392 367,379 368,373 370,395 370,364 370,370 372,386 373,387 373,365 375,396 375,388 375,368 376,362 376,399 376,377 377,375 377,386 378,376 378,390 378,398 378,399 379,368 379,372 380,394 381,379 382,368 383,372 388,374 388,374 388,369 388,398 389,371 390,392 391,396 391,396 391,399 391,391 392,375 392,366 393,394 393,398 393,397 394,383 395,386 395,382 398,388 399,378 401,385 401,369 403,363 404,396 404,397 404,399 405,375 406,372 407,385 408,377 408,369 411,379 414,394 415,390 416,368 416,385 417,386 418,385 419,382 420,382 422,362 423,387 427,385 431,377 434,391 434,381 438,368 443,390 444,360 453,397 467,383 474,400 42,430 43,427 50,406 52,439 53,414 54,403 54,427 55,406 55,404 55,430 58,423 62,436 62,436 63,428 63,421 64,421 64,410 65,436 65,417 66,434 67,424 68,439 68,421 69,402 71,402 71,402 73,402 76,429 76,418 76,425 77,418 78,412 78,430 79,413 81,415 81,420 82,402 83,410 86,412 86,423 86,413 87,411 88,420 88,406 89,423 89,407 90,412 91,419 91,415 92,428 93,431 96,409 96,411 97,439 97,424 99,404 99,404 100,432 100,409 100,413 100,401 101,438 101,435 102,437 103,407 103,438 103,405 104,401 104,437 104,420 105,406 106,419 106,412 106,403 108,402 109,415 110,415 111,411 112,416 113,413 113,409 114,424 114,416 116,437 116,404 116,419 117,406 119,438 119,434 120,430 122,405 123,435 123,435 123,419 124,416 125,423 125,405 125,406 125,406 126,436 126,425 126,419 129,408 129,424 130,422 130,437 130,421 131,431 131,428 132,403 132,428 133,426 134,433 134,422 134,413 135,429 136,428 136,434 137,423 137,439 137,416 138,419 138,428 138,406 139,436 140,433 140,431 141,431 142,408 142,411 143,435 143,401 144,419 144,412 146,421 146,410 146,406 147,432 147,405 147,432 148,417 148,434 149,428 149,401 150,417 150,438 151,411 151,438 151,422 151,408 152,438 152,404 152,433 153,428 154,410 155,415 155,433 159,406 160,421 160,411 161,423 162,401 162,430 163,435 163,436 164,413 167,407 169,434 169,417 173,438 173,435 174,433 177,413 177,431 177,425 177,406 179,402 179,421 180,429 180,424 181,401 181,404 183,437 183,437 183,402 183,405 185,416 185,439 188,420 188,434 189,424 191,406 191,433 193,433 193,410 194,404 194,423 194,407 195,415 195,439 198,429 198,431 199,434 200,432 201,418 201,408 202,422 202,424 202,439 202,409 203,423 204,437 205,430 205,416 206,422 206,432 207,422 207,427 208,417 208,424 209,422 211,438 212,430 212,406 214,409 215,401 215,418 216,419 217,416 218,430 218,439 219,419 219,428 222,417 222,403 222,439 222,424 222,400 222,426 223,405 223,437 223,437 223,429 223,439 224,404 225,429 225,427 226,410 226,428 226,433 229,434 230,428 230,433 231,401 232,400 232,422 232,440 234,439 234,420 234,417 234,432 234,406 236,426 236,421 236,428 238,405 238,403 238,425 239,417 242,432 243,415 243,416 243,413 244,437 244,405 245,412 246,402 246,404 246,412 246,433 248,429 250,439 251,406 252,438 252,417 252,432 253,418 253,434 253,414 256,410 258,423 258,421 259,404 260,403 261,425 261,410 262,413 262,410 262,405 263,437 264,430 265,426 270,418 271,428 271,434 271,430 272,422 273,408 274,415 274,417 275,416 275,410 276,428 278,409 279,417 279,404 280,417 280,410 281,413 282,407 282,411 282,434 282,433 283,410 284,409 284,429 284,425 284,416 285,430 286,436 286,406 286,403 287,421 287,408 288,432 289,434 289,422 290,436 290,401 290,402 291,403 291,422 291,415 293,431 293,418 294,412 294,405 295,435 296,419 296,430 297,435 298,425 298,405 299,401 299,431 301,423 301,424 302,408 302,421 302,438 303,410 305,421 306,413 306,425 307,419 308,403 309,430 309,402 309,427 310,422 310,414 311,400 312,431 312,400 314,435 314,415 314,410 315,405 316,428 317,430 317,421 317,439 317,431 317,409 318,401 318,430 319,440 319,435 319,423 320,432 320,423 321,407 322,424 323,407 324,436 325,424 326,423 327,432 329,427 329,415 330,433 330,417 330,437 330,413 330,436 331,434 331,411 334,419 334,409 335,420 336,434 337,416 340,426 340,410 343,428 344,411 344,432 345,410 348,427 348,404 348,418 349,426 349,423 350,421 351,438 352,420 354,437 355,416 355,431 356,426 357,431 358,431 358,424 358,436 358,412 359,412 360,439 362,416 362,414 362,412 364,403 365,419 365,425 365,402 365,414 366,437 366,436 367,420 368,409 368,424 370,410 372,414 372,434 372,401 374,403 375,439 375,412 376,436 376,412 378,432 378,402 379,414 379,402 379,438 379,401 383,435 383,439 384,419 385,427 386,432 387,407 388,401 389,427 390,408 391,421 391,427 393,400 393,435 394,413 394,402 395,436 396,424 396,405 398,401 398,413 400,436 401,405 401,400 402,406 402,407 402,407 402,431 403,425 403,437 403,422 403,411 405,429 405,419 406,439 407,409 408,423 409,423 411,428 412,404 413,422 414,426 417,405 419,419 421,420 426,428 432,403 437,419 450,439 457,416 465,404 466,401 466,414 466,407 32,468 45,469 46,457 47,478 48,447 49,446 54,472 57,462 57,471 58,459 58,473 60,466 62,474 62,463 63,467 63,473 64,476 65,462 65,466 65,460 66,465 67,450 68,446 68,476 69,470 70,444 71,449 71,445 72,449 73,460 74,477 74,455 75,456 75,473 75,460 76,463 79,475 79,450 81,450 83,467 83,449 83,445 86,447 89,459 89,465 90,447 90,479 90,452 91,440 92,461 92,471 93,444 94,464 94,479 95,468 95,469 95,475 96,457 97,450 97,452 97,466 99,472 99,468 100,471 101,446 102,465 102,454 102,442 102,461 102,446 104,447 104,473 106,444 106,471 108,443 110,448 110,470 111,462 111,460 112,467 113,444 115,479 115,477 116,468 121,451 122,444 123,479 123,456 124,468 125,457 126,467 128,460 128,441 130,456 131,451 131,447 133,477 133,476 135,456 136,469 136,457 136,478 136,459 137,449 137,443 138,453 139,479 139,465 140,477 140,451 140,448 143,456 143,451 143,468 144,441 144,480 144,467 144,453 146,450 147,443 148,446 149,442 149,462 149,473 150,461 150,446 151,451 151,441 156,454 157,462 159,456 160,478 160,455 160,460 161,472 164,459 164,476 164,458 166,452 167,472 167,478 168,453 169,448 170,445 170,446 170,441 170,449 170,453 173,464 173,450 174,454 175,478 175,453 175,462 176,452 178,461 178,451 179,446 180,477 181,479 181,465 183,455 184,468 187,458 188,462 188,462 190,474 190,480 191,452 192,476 192,480 193,454 194,451 194,446 194,457 196,461 197,478 198,474 198,457 198,452 199,452 199,449 199,468 199,460 199,461 200,446 200,445 201,447 201,449 202,440 202,462 203,448 204,458 206,474 206,451 206,469 207,469 210,457 210,471 211,474 213,444 213,454 213,477 214,451 214,463 214,473 215,446 215,443 215,457 215,472 216,463 216,447 217,466 217,476 217,464 218,467 220,455 221,454 221,451 221,467 222,470 222,443 222,465 222,454 223,474 223,455 224,443 224,441 224,443 225,473 225,443 225,466 225,453 227,461 228,449 228,462 229,463 230,478 231,476 232,447 233,452 234,467 234,475 236,458 236,462 236,463 236,457 237,480 238,455 239,444 240,458 240,460 240,448 241,441 242,461 242,463 243,461 243,458 243,459 247,458 247,441 248,454 249,459 250,456 251,454 252,461 252,465 253,450 255,451 256,475 256,475 256,473 256,448 256,444 258,449 259,465 259,477 260,456 260,477 260,470 260,444 261,449 261,457 261,454 262,459 262,475 263,474 265,441 265,460 267,452 267,479 268,466 268,442 269,459 269,453 269,476 269,442 270,467 270,476 270,471 272,466 273,457 274,478 275,445 275,451 275,462 276,441 277,443 278,479 281,449 281,460 282,472 282,448 284,462 285,465 285,456 286,459 287,453 287,468 289,470 290,477 290,463 290,467 291,448 292,468 293,448 293,468 294,449 294,446 294,455 295,461 296,455 297,451 298,474 298,464 298,450 298,457 298,466 301,465 301,457 302,469 302,469 302,446 302,444 307,446 308,446 308,451 309,449 310,454 311,462 312,461 312,472 312,467 315,457 317,451 320,451 321,448 321,466 321,453 321,448 322,445 323,465 323,452 326,457 326,454 326,462 331,477 332,460 332,464 333,475 334,466 334,463 335,446 336,451 337,471 338,455 338,457 338,457 339,466 341,474 341,471 341,465 341,473 341,452 342,477 342,448 343,474 343,473 343,453 344,479 347,453 347,468 347,469 348,463 348,479 349,462 349,447 350,450 350,461 351,441 351,443 351,479 351,465 352,474 353,456 353,453 354,464 354,448 358,457 360,480 361,449 361,477 362,469 362,464 363,469 363,452 363,448 363,479 363,472 364,444 364,455 364,447 366,442 367,443 370,477 372,457 372,473 372,458 373,475 374,475 375,467 376,472 376,470 376,460 379,451 380,467 380,440 381,464 382,472 382,473 384,454 385,460 385,469 385,465 386,479 387,464 387,457 388,467 390,470 391,462 392,445 392,479 394,441 395,472 395,446 396,443 396,468 400,471 401,453 401,451 401,443 402,465 402,447 404,461 404,475 404,467 404,444 405,443 407,462 407,463 407,471 407,480 409,459 410,469 411,451 411,465 411,461 412,447 415,474 418,442 419,480 420,445 420,448 423,451 423,474 424,444 424,442 426,468 432,457 432,469 437,454 440,453 443,468 448,474 455,448 459,446 467,450 468,458 469,465 473,458 488,453 34,502 41,494 41,511 43,488 43,511 46,481 46,499 48,516 50,507 51,498 53,501 54,517 54,513 55,506 55,484 59,484 59,501 59,516 60,490 60,483 62,495 62,486 63,484 64,495 64,487 65,490 65,483 65,485 65,486 65,508 66,484 66,504 66,519 67,514 68,514 68,508 68,508 68,505 69,501 69,506 69,510 70,506 72,497 73,518 75,506 75,502 75,487 77,502 78,515 81,511 82,491 82,490 82,481 82,517 83,488 83,491 83,505 84,481 85,513 85,502 85,483 88,518 89,504 89,488 89,511 92,520 93,511 94,486 94,488 94,490 95,488 95,488 98,512 98,499 98,481 99,510 100,484 100,511 101,496 102,516 102,480 103,481 104,496 104,519 104,497 104,494 105,501 105,485 105,484 105,507 109,502 111,510 111,485 114,507 114,514 114,503 115,501 115,510 115,505 116,483 116,492 117,512 117,513 118,506 118,500 119,514 119,484 119,510 119,518 120,495 120,491 122,506 122,489 123,481 126,497 126,482 127,518 127,486 128,509 128,509 128,513 128,489 129,487 130,497 130,489 131,497 131,494 132,510 132,518 132,514 132,493 135,481 136,519 136,483 136,501 138,508 138,487 138,509 138,517 138,486 138,517 138,493 139,502 139,492 139,513 140,482 140,510 140,482 144,492 144,501 146,488 146,500 147,517 147,499 147,519 147,520 147,516 148,483 149,513 150,480 150,489 150,514 150,491 151,491 151,498 152,514 152,504 152,510 152,482 153,519 154,503 159,506 160,496 160,511 160,492 161,511 161,484 163,508 163,509 164,492 164,494 165,503 165,491 167,503 169,482 169,500 169,518 169,500 171,501 171,484 172,500 173,509 173,514 175,512 175,516 176,497 176,488 176,481 177,509 177,494 178,492 179,504 179,504 180,517 180,485 181,506 181,517 181,487 182,497 183,500 183,517 185,507 186,514 186,484 186,514 186,486 188,511 189,483 189,512 189,492 189,495 190,485 191,490 192,492 192,500 192,515 193,503 193,483 193,487 193,489 196,509 197,510 197,489 199,520 199,483 200,500 201,484 201,512 201,515 201,505 202,505 202,505 203,497 204,484 204,490 205,491 206,518 206,511 206,489 206,511 207,489 208,509 208,511 208,518 210,507 210,494 212,515 213,515 213,481 213,495 213,501 215,500 217,497 217,506 217,485 219,505 220,489 220,500 220,511 222,497 223,515 223,488 225,508 226,518 227,520 227,502 228,480 228,500 228,496 228,495 228,519 228,500 228,514 230,511 230,516 231,512 232,486 232,511 232,485 233,519 234,486 234,493 234,506 235,505 236,514 236,501 237,486 237,485 237,485 238,491 238,514 239,517 240,519 240,492 240,507 241,514 243,505 243,504 244,518 246,519 247,507 249,515 249,503 250,488 252,498 253,515 253,507 254,505 254,480 255,500 256,488 257,506 258,502 259,488 259,517 260,493 261,512 261,485 262,519 263,493 263,489 264,505 264,502 264,487 265,520 266,509 266,502 267,482 267,510 268,498 268,518 268,505 269,505 269,512 269,481 269,501 270,497 270,490 271,505 271,507 271,495 271,514 272,482 272,504 273,481 274,495 274,501 274,495 274,492 274,488 275,481 277,501 278,490 278,501 278,492 279,499 279,485 279,486 280,499 281,517 283,496 284,495 286,516 286,481 288,517 288,497 289,495 290,485 291,511 291,492 291,494 291,485 291,506 291,489 292,491 292,510 293,505 294,494 295,507 295,519 295,494 295,506 296,487 296,507 296,483 297,519 297,482 298,515 299,493 301,514 303,498 303,487 303,519 304,494 305,508 306,516 307,500 308,505 308,488 309,486 311,507 311,492 311,497 312,514 313,501 314,490 315,491 315,498 315,481 315,486 316,495 316,494 316,480 317,499 317,485 317,483 318,510 318,518 318,503 318,514 321,520 321,509 322,488 322,487 323,504 323,483 324,510 325,504 325,513 325,480 325,481 326,498 326,481 328,513 329,508 329,502 332,483 332,505 332,489 335,482 335,491 336,499 337,513 338,504 339,504 340,484 340,516 342,482 343,483 343,493 343,502 344,503 345,507 345,499 345,510 346,503 347,509 348,488 348,510 349,494 349,498 350,510 350,515 351,512 351,510 351,506 352,487 352,499 354,509 354,483 354,487 356,501 357,500 358,483 359,491 359,508 360,510 361,487 362,495 363,485 363,490 363,484 365,515 366,511 367,497 369,494 369,515 370,483 370,516 371,482 372,487 372,495 373,515 373,496 374,513 376,485 377,509 377,513 377,499 379,514 380,480 381,501 382,506 382,504 384,500 384,505 384,492 384,510 384,511 385,482 385,481 385,507 386,489 387,506 387,511 390,514 390,510 391,510 391,512 391,492 394,487 394,514 394,485 395,504 396,485 397,505 397,491 399,497 399,512 400,511 400,497 401,512 401,494 402,510 402,514 402,494 403,497 404,513 405,501 406,484 406,491 406,504 407,510 407,517 407,499 407,483 407,518 408,515 409,509 409,502 409,500 409,489 409,497 410,513 410,486 412,498 415,491 416,519 416,505 416,498 418,485 419,495 419,490 420,484 422,496 422,519 422,481 425,520 426,485 426,516 427,517 431,494 431,514 431,481 442,490 444,499 449,490 451,503 454,517 457,519 460,487 464,481 472,501 485,516 29,539 33,532 36,531 38,541 39,528 42,539 43,542 43,529 44,548 45,547 48,558 48,547 49,520 50,554 51,535 52,520 54,543 54,536 55,543 55,531 55,550 56,548 57,531 57,549 57,528 57,531 57,533 59,523 62,521 63,550 65,552 66,535 66,533 67,535 68,554 68,544 68,554 69,556 69,521 70,524 70,546 70,554 71,540 71,534 72,536 75,536 76,545 77,552 77,548 77,521 78,554 78,535 80,527 80,545 82,540 82,542 83,538 83,524 83,544 84,558 86,557 89,559 90,521 90,549 90,534 90,548 90,558 91,552 91,533 92,558 92,554 93,524 93,534 93,559 94,536 94,550 94,538 95,525 95,539 96,527 96,539 97,535 97,534 98,548 99,520 99,553 99,554 99,539 99,552 101,545 101,530 101,552 103,550 103,525 104,534 104,535 105,537 105,555 106,526 107,524 107,527 107,537 108,539 108,527 108,559 109,537 109,522 110,532 111,539 112,540 112,538 113,551 113,558 115,538 115,547 116,556 117,525 117,545 117,538 118,534 118,527 119,527 119,527 120,534 120,557 121,556 122,536 123,542 124,559 126,551 127,531 127,530 129,552 130,548 131,524 133,545 134,545 134,534 134,537 135,543 135,522 138,535 139,527 139,540 139,557 140,553 141,528 142,558 143,550 144,528 144,534 144,524 145,549 145,521 146,524 146,555 146,524 147,534 147,524 147,553 147,552 148,541 149,522 149,522 150,556 151,532 151,537 151,525 151,544 152,529 154,540 155,526 155,546 158,528 158,540 158,523 159,522 159,557 161,532 162,545 163,541 163,533 164,527 164,527 165,554 165,547 166,538 166,524 166,534 167,532 167,530 169,552 170,534 170,529 170,528 171,546 172,557 172,548 173,545 173,554 174,542 174,553 175,537 176,542 179,540 179,549 180,523 181,544 181,526 182,549 182,545 182,522 185,534 185,545 185,559 188,555 188,526 189,531 193,537 194,555 195,521 195,556 195,532 196,537 197,527 198,555 199,523 199,559 201,522 202,550 204,541 205,552 206,522 206,528 207,535 207,524 208,535 209,551 210,555 211,547 213,534 214,558 214,551 215,524 217,554 218,533 219,548 220,560 221,521 221,535 222,527 222,559 222,559 224,557 224,553 224,544 224,550 226,552 226,537 227,523 227,528 228,528 228,528 229,530 230,528 230,558 231,527 231,538 232,539 232,556 233,541 234,543 235,547 235,553 235,548 235,539 235,524 236,536 237,543 238,548 238,545 238,539 239,532 239,535 239,525 240,528 241,538 241,540 241,544 242,535 242,557 242,531 242,545 243,540 244,538 244,521 246,552 246,542 247,543 247,536 248,521 249,559 249,543 249,526 251,558 252,547 252,525 253,524 254,544 254,533 255,523 255,548 256,556 257,538 257,547 257,545 257,523 258,549 258,551 258,550 258,536 258,551 260,538 264,549 265,528 266,540 267,541 268,531 268,549 269,550 272,526 274,531 274,558 275,550 276,532 276,548 276,530 276,551 277,530 279,526 280,552 280,535 280,521 280,553 282,528 282,541 282,555 283,549 283,553 283,559 284,556 286,547 286,546 286,557 286,553 287,543 287,530 288,537 288,547 290,528 290,542 291,559 292,531 293,541 295,556 295,535 296,549 296,551 297,534 297,538 298,542 299,550 300,555 301,548 301,537 301,536 302,538 302,523 303,543 303,545 304,544 304,539 305,559 306,552 308,537 309,537 310,529 312,558 313,530 313,531 314,529 316,548 316,521 316,549 317,529 319,526 319,540 321,551 322,521 322,542 324,547 324,528 325,535 325,538 325,534 326,550 327,558 329,534 329,523 331,554 331,524 332,544 332,559 333,521 333,532 335,547 336,524 336,544 336,530 337,549 338,534 338,533 341,544 341,560 342,559 342,524 344,535 344,527 344,538 344,547 344,550 345,521 345,524 346,523 346,550 346,535 347,537 347,549 347,554 348,550 349,530 349,521 349,531 349,541 350,535 350,534 353,542 354,526 354,523 355,524 355,529 357,552 357,528 357,542 359,551 359,551 359,542 361,537 361,526 362,547 362,558 363,522 363,549 364,555 365,538 366,527 366,526 368,540 369,529 369,550 369,539 371,554 372,522 372,529 373,547 373,542 374,522 374,540 375,528 376,529 376,528 376,520 376,531 377,537 378,521 378,524 378,522 378,551 379,527 381,558 382,555 382,522 382,537 384,520 384,545 385,528 385,535 386,538 386,536 387,551 387,559 387,556 387,533 388,535 388,528 389,524 389,535 389,555 389,529 390,537 390,531 391,550 392,557 393,547 395,556 396,557 396,550 397,556 397,555 397,548 397,549 398,528 398,526 399,529 399,551 401,552 402,560 403,560 404,552 405,557 405,525 406,555 407,535 407,534 407,533 407,523 408,527 408,532 409,529 410,558 410,534 411,548 413,530 413,552 413,535 414,536 414,560 415,521 416,543 418,555 419,541 420,538 420,555 421,552 421,548 421,528 422,541 425,557 425,552 425,558 426,525 427,554 428,546 429,526 435,523 435,557 437,556 439,525 440,547 440,556 441,536 446,548 447,522 447,539 448,527 448,534 452,555 452,520 452,540 454,532 457,552 457,533 465,543 467,554 470,540 473,534 474,527 475,525 486,559 486,526 489,532 36,592 38,591 38,591 40,586 41,560 43,580 44,597 45,566 45,580 46,579 46,600 46,592 47,584 48,597 48,591 49,566 49,563 50,568 51,597 51,572 52,565 52,575 53,563 53,596 54,564 54,576 55,586 56,579 56,560 57,572 57,577 58,560 59,598 59,565 60,566 61,595 62,560 63,580 64,587 65,573 67,585 67,583 67,591 69,561 71,573 74,582 74,577 74,578 74,594 75,596 75,577 75,589 77,560 78,566 80,570 82,564 84,582 84,577 85,575 85,595 86,597 87,573 87,587 87,594 88,564 88,569 90,593 90,594 91,564 92,585 93,592 94,572 96,563 96,569 97,597 98,565 99,561 100,581 101,576 101,589 101,586 101,577 102,592 104,578 105,589 106,584 106,584 106,591 107,595 107,588 108,565 108,571 108,600 109,594 110,578 111,579 111,561 111,573 111,575 112,600 113,587 113,569 113,575 115,562 115,582 116,580 116,575 116,573 116,587 118,585 119,582 121,580 122,573 122,596 125,597 126,585 126,594 127,590 127,575 128,582 129,565 129,592 129,594 130,572 131,600 131,585 132,590 133,578 134,569 135,584 137,580 137,578 138,590 138,586 139,574 139,574 139,570 141,594 142,576 143,563 143,572 143,575 143,577 144,574 145,595 146,575 147,599 147,562 149,564 149,585 149,572 149,585 152,576 153,582 153,568 153,597 153,574 154,583 154,570 156,571 156,566 156,599 156,589 156,594 159,584 160,571 161,561 162,588 162,593 163,569 164,564 165,564 165,596 166,570 166,562 166,584 166,567 167,590 167,597 168,579 168,562 168,577 169,572 169,572 169,568 170,590 171,595 171,597 171,584 171,564 172,574 172,584 173,581 174,573 175,576 176,583 176,585 177,569 177,578 177,580 178,592 178,596 178,571 179,562 180,566 181,594 181,568 182,567 182,577 183,565 185,587 186,565 186,594 189,595 190,582 190,561 190,594 190,572 191,590 191,585 191,585 193,562 193,564 194,592 194,600 195,567 197,573 198,566 198,585 200,590 201,593 201,583 202,565 203,590 203,581 203,563 204,584 204,576 205,561 206,597 209,565 209,571 210,577 210,568 210,574 210,595 211,586 211,575 211,570 211,595 211,587 212,572 212,596 213,584 215,562 215,599 216,586 216,591 216,598 216,566 216,590 217,568 217,570 218,563 218,583 220,570 220,581 220,574 220,567 220,596 221,568 221,595 222,575 222,586 223,582 223,579 223,564 224,598 224,573 225,564 227,584 229,585 231,595 232,562 232,575 233,563 233,574 234,598 236,562 237,569 237,591 237,569 237,599 237,581 238,598 239,584 239,560 243,577 245,588 246,589 246,576 246,567 247,562 247,598 248,580 249,583 250,598 250,581 250,567 251,588 251,562 252,560 252,579 252,574 252,595 254,570 258,598 259,599 259,584 260,563 260,571 262,574 263,562 263,598 263,574 265,587 265,582 265,588 267,594 269,590 269,564 270,580 270,578 271,588 273,593 276,587 276,573 278,563 278,583 282,587 282,572 282,563 284,586 284,600 287,594 289,581 290,595 291,571 292,583 295,577 297,595 297,589 298,588 299,585 299,570 299,563 300,568 300,566 300,593 301,583 301,570 303,577 303,587 304,585 304,587 304,579 305,598 305,587 307,584 307,574 309,580 309,597 310,567 312,570 313,574 314,571 314,585 315,587 316,590 316,578 316,575 317,585 317,578 318,566 318,588 318,561 319,571 319,582 319,577 319,597 320,563 320,588 321,573 321,567 322,561 324,580 324,585 324,566 325,594 325,573 326,560 327,569 328,577 328,580 330,576 331,586 331,574 331,562 332,575 333,592 334,571 334,596 334,584 335,560 336,575 338,574 338,568 339,584 339,598 339,597 339,591 341,599 342,597 342,583 342,572 343,592 344,577 345,592 345,591 345,579 346,571 346,572 346,587 347,598 347,586 348,573 351,588 352,599 353,588 353,574 355,588 357,591 357,568 358,589 360,571 362,599 362,568 366,579 367,564 367,591 369,596 369,575 371,563 371,592 373,578 374,567 374,578 374,581 376,573 379,562 380,589 380,583 383,572 386,594 386,574 386,577 386,600 387,575 388,578 388,561 388,588 389,570 389,594 389,561 390,570 390,594 390,585 390,594 391,578 391,565 391,574 391,569 392,576 392,569 392,579 392,583 394,599 394,599 394,560 395,561 395,594 396,562 399,571 400,589 402,589 402,568 405,588 405,597 406,584 406,580 408,568 409,569 409,596 410,584 410,590 411,579 413,582 414,576 414,565 414,600 416,599 416,570 416,595 417,589 417,600 418,594 418,596 418,586 419,572 420,562 420,590 421,564 421,594 422,562 423,599 425,577 426,567 426,566 427,596 429,562 430,582 430,566 431,583 432,592 433,579 434,573 437,597 437,585 437,586 439,591 439,562 441,574 441,589 442,599 442,581 443,598 444,560 446,574 449,587 451,576 453,562 456,569 457,582 459,596 459,575 460,597 460,565 462,560 463,584 470,581 470,582 472,597 475,563 477,588 478,574 487,577 25,634 27,628 29,614 30,622 30,621 31,607 34,631 35,628 36,603 37,626 37,625 43,632 49,637 49,629 50,614 50,614 50,615 51,607 53,617 54,619 55,602 56,601 56,640 56,635 57,640 57,608 58,605 59,610 60,610 60,618 60,604 60,624 61,605 61,631 62,603 63,615 64,637 64,637 65,607 65,602 66,630 66,605 67,640 67,633 67,600 68,626 68,604 68,623 69,632 70,602 73,634 74,638 74,610 75,639 76,604 77,625 78,630 80,604 81,613 81,628 81,619 82,616 82,623 82,609 82,639 83,618 84,631 85,608 85,613 86,617 87,608 87,619 89,629 89,629 90,638 91,625 92,600 92,612 92,624 92,618 93,640 95,611 95,615 96,619 96,612 96,630 96,624 97,604 98,625 98,626 100,602 102,601 102,613 103,631 104,618 104,624 105,605 106,601 106,623 106,630 108,639 108,633 108,615 108,614 111,635 111,614 111,612 112,629 112,632 113,639 113,627 114,607 114,621 114,620 115,632 115,606 116,624 116,621 117,627 117,632 119,607 122,613 123,618 124,603 126,626 127,611 127,607 127,635 127,625 127,605 127,627 128,603 130,639 131,606 131,638 131,629 132,635 134,608 134,627 134,624 135,618 135,608 137,604 137,624 138,619 139,619 139,630 139,619 139,618 139,627 140,611 140,621 141,631 143,639 144,607 144,611 144,627 144,616 146,632 147,605 147,626 147,628 148,636 148,622 148,629 149,634 150,613 150,626 150,638 151,603 151,622 151,619 152,603 153,620 153,602 156,609 156,624 158,618 158,610 159,608 160,621 161,602 162,603 162,634 163,627 163,635 163,609 166,610 166,636 167,601 168,617 171,616 172,625 172,634 173,638 173,630 173,601 174,601 174,631 174,618 174,612 175,632 175,638 176,612 176,613 176,627 176,625 176,615 177,630 178,635 178,610 179,610 180,603 184,605 184,602 186,627 187,621 187,620 187,631 188,614 189,632 189,630 190,618 191,636 193,612 193,601 194,614 194,611 195,603 196,611 197,604 199,626 199,601 200,606 201,628 204,636 204,602 204,603 205,604 206,615 206,610 207,609 207,616 208,615 208,634 208,635 208,630 210,640 210,626 211,604 211,605 214,625 215,612 216,634 217,603 217,605 218,621 219,626 220,624 221,631 221,631 221,608 222,636 222,639 223,629 223,624 225,619 226,629 227,626 228,637 229,617 229,629 229,623 231,604 231,632 232,634 232,614 233,616 233,617 234,608 234,628 235,600 235,614 235,639 236,636 236,608 238,613 241,622 241,607 241,614 241,631 243,614 244,635 246,622 248,637 250,622 250,639 252,634 252,631 253,610 253,606 253,624 254,614 254,624 254,630 254,614 255,637 256,622 256,625 257,616 258,602 258,611 259,612 261,626 261,611 261,620 263,612 264,640 264,616 264,632 265,628 265,614 266,617 267,639 268,626 268,633 268,633 270,633 270,603 271,614 271,617 272,633 273,623 273,639 273,610 274,623 274,606 274,603 276,613 277,603 277,629 277,619 278,623 278,629 279,622 279,638 280,631 280,617 283,602 284,615 285,636 285,638 286,638 287,612 287,617 287,602 287,613 287,623 289,625 290,632 290,636 290,611 290,616 291,624 291,623 291,632 292,620 292,615 293,618 294,629 295,609 295,601 295,637 297,602 298,627 298,627 299,603 300,626 300,610 301,612 302,640 302,636 304,611 304,605 307,629 308,615 308,624 309,636 310,600 310,611 310,620 313,610 313,632 315,631 316,622 317,628 318,631 319,610 319,634 320,626 322,612 322,625 322,615 323,613 323,614 323,635 324,632 324,609 325,608 327,631 327,607 328,607 329,602 330,623 330,616 330,628 332,601 332,615 332,613 332,610 333,603 333,614 334,639 337,629 337,621 338,623 338,614 338,626 339,603 339,606 340,636 340,638 344,613 345,600 345,613 345,624 346,625 346,629 347,615 348,613 349,610 349,634 349,615 349,632 351,614 352,626 352,612 353,635 354,608 354,614 355,624 356,610 357,601 357,604 358,621 359,610 360,626 361,616 361,629 362,635 362,612 362,615 363,607 363,603 364,609 366,605 368,637 368,614 370,615 371,607 372,618 372,624 373,620 373,633 373,631 374,619 374,623 375,617 376,625 376,601 377,620 377,627 379,634 379,638 380,631 380,612 382,633 383,620 383,631 384,636 384,612 386,606 386,633 387,628 387,609 388,617 388,610 388,639 389,638 390,638 390,600 393,620 394,603 394,640 394,603 395,634 396,626 396,636 396,630 396,640 396,639 398,615 399,620 400,601 400,631 400,602 402,636 402,606 404,637 404,631 406,609 408,619 409,615 410,611 410,619 410,631 410,608 411,613 411,620 412,626 412,603 412,607 413,639 413,622 413,618 414,624 414,618 416,605 417,624 418,640 418,624 419,622 419,628 419,614 422,620 422,622 424,636 425,600 426,607 426,606 427,616 427,612 428,606 429,606 429,624 429,617 429,639 430,604 430,621 431,625 431,622 433,605 433,618 433,639 433,637 435,612 436,633 437,621 437,609 437,612 438,630 438,619 439,608 439,634 440,621 440,631 441,633 441,639 442,605 442,631 442,601 442,623 443,625 444,631 444,600 446,617 448,608 450,633 451,602 451,637 452,632 453,635 455,614 457,607 457,602 458,614 458,627 458,632 458,640 458,618 460,621 461,615 463,610 463,629 464,633 464,605 465,609 465,637 468,602 469,605 471,628 473,622 474,616 475,628 477,606 477,623 479,632 480,613 482,623 485,627 490,630 500,627 27,655 30,647 30,644 34,659 34,648 34,642 35,655 37,654 39,662 41,660 41,654 42,652 43,650 45,653 46,662 46,644 46,664 48,656 49,654 50,642 50,642 52,642 54,647 55,667 57,667 58,644 59,648 59,644 60,662 61,647 61,660 62,665 63,664 63,648 64,676 65,646 65,643 66,666 66,649 67,664 68,653 68,649 69,658 69,664 69,665 71,643 72,661 74,644 75,655 78,643 79,667 80,670 81,645 81,642 82,650 82,665 82,674 83,657 84,641 85,653 85,662 86,658 86,641 86,653 86,656 86,646 87,666 87,645 87,659 88,651 89,661 89,654 90,641 90,665 91,652 92,666 92,653 92,655 92,651 93,660 93,663 94,674 95,665 97,667 98,641 99,675 101,669 101,654 102,649 102,646 103,672 104,671 104,664 106,660 107,661 108,647 109,646 109,658 110,642 110,656 110,661 110,673 111,659 112,663 113,671 114,645 116,667 117,643 117,656 119,658 119,644 119,652 119,657 122,653 122,653 122,674 123,670 124,668 126,642 126,674 127,654 127,653 128,656 129,679 130,678 130,646 131,651 132,672 133,650 135,657 135,666 136,660 136,660 138,651 138,644 138,666 139,671 139,665 139,664 140,644 141,671 141,651 142,654 142,661 142,641 144,649 146,673 146,647 146,663 147,677 147,655 147,666 150,665 150,675 151,660 152,677 154,669 154,653 154,662 155,660 155,656 155,674 155,641 156,671 156,658 158,666 159,671 160,649 160,677 160,666 162,665 163,648 163,643 164,646 164,669 164,650 165,648 165,651 166,652 166,664 166,642 166,677 166,644 166,646 167,642 168,661 168,665 169,642 169,643 169,671 170,650 170,666 170,649 171,647 172,656 172,660 172,650 174,661 174,670 177,654 178,675 179,657 181,655 183,641 184,647 184,646 184,640 186,659 190,663 191,667 192,667 192,654 193,661 196,659 197,663 197,645 197,677 198,676 201,666 201,661 201,668 202,673 203,667 203,641 204,664 205,674 205,657 206,644 207,642 207,663 207,652 208,644 208,658 208,652 209,665 209,656 210,673 210,657 211,649 211,649 212,677 213,647 213,668 214,656 215,647 217,647 218,669 218,666 220,656 221,648 221,652 222,651 222,659 223,650 225,655 226,666 229,651 229,670 229,646 230,643 231,645 231,655 231,660 232,649 232,658 232,662 234,641 234,674 234,666 235,671 235,653 236,667 237,655 238,666 241,656 242,660 242,643 242,659 244,661 244,647 245,651 245,670 248,670 249,667 249,653 251,673 252,645 252,662 253,650 253,666 253,668 254,656 256,647 261,649 262,643 262,658 266,654 267,656 267,661 269,654 269,662 270,649 271,647 273,648 273,648 273,659 274,642 274,673 274,650 276,646 276,656 277,652 278,667 279,664 281,647 283,663 285,641 286,641 286,670 289,642 290,656 290,641 290,644 292,652 295,659 295,640 295,668 296,647 296,665 297,649 297,641 298,649 300,649 300,651 302,652 302,678 303,662 304,676 306,655 306,663 308,657 309,661 309,640 309,658 311,664 312,642 312,650 313,657 313,663 314,656 316,651 316,678 316,651 317,662 317,646 318,648 318,658 319,658 319,652 320,643 321,665 323,649 324,646 326,666 327,669 328,657 329,641 332,664 333,660 333,673 335,674 335,646 338,665 339,661 339,653 340,663 340,666 340,650 341,679 342,655 342,664 342,678 342,675 343,652 344,650 344,659 345,655 345,659 348,663 351,646 351,653 351,644 352,660 353,657 353,643 354,651 355,649 355,656 355,640 356,641 356,657 357,664 357,642 358,643 358,653 360,650 360,672 361,657 361,647 363,657 363,645 363,652 363,671 365,649 367,664 367,668 369,653 370,668 370,645 370,654 370,650 370,659 372,674 372,657 372,649 372,642 373,657 374,646 375,648 377,665 381,660 381,672 381,667 381,659 382,652 384,652 384,647 384,650 385,676 385,655 390,663 391,645 391,647 391,654 392,658 392,671 393,678 394,656 394,657 394,658 395,658 395,658 396,642 396,661 397,643 397,658 397,660 398,644 398,649 400,642 400,653 400,650 401,646 401,652 403,652 403,661 404,678 404,647 405,676 405,660 405,674 405,644 406,643 406,651 406,645 408,663 409,660 410,657 411,645 411,667 412,674 412,644 413,647 414,659 415,649 415,673 416,641 418,663 418,642 419,658 421,651 421,640 421,640 421,664 425,666 426,652 427,654 428,663 429,656 430,667 432,671 432,666 433,652 438,662 438,660 439,663 439,649 442,640 443,654 444,655 444,654 445,668 445,661 445,657 445,640 446,660 446,640 447,657 449,654 449,653 450,649 450,651 454,665 454,644 454,655 454,647 458,669 458,642 459,640 461,665 462,645 465,652 468,642 470,660 472,648 480,655 481,645 486,648"/>
<path class="cv" d="M120.9,509.8 126.6,511.4 132.4,512.8 138.1,514.3 143.9,515.6 149.7,516.9 155.5,518.1 161.4,519.3 167.2,520.4 173.1,521.4 179.0,522.3 184.9,523.1 190.8,523.8 196.7,524.5 202.6,525.0 208.5,525.5 214.4,525.9 220.4,526.1 226.3,526.3 232.2,526.5 238.2,526.6 244.1,526.7 250.1,526.8 256.0,527.0 261.9,527.2 267.9,527.4 273.8,527.8 279.7,528.2 285.7,528.8 291.5,529.6 297.4,530.5 303.2,531.7 309.1,532.9 314.9,534.1 320.7,535.3 326.5,536.4 332.4,537.3 338.3,538.0 344.2,538.5 350.2,538.7 356.1,538.7 362.1,538.4 368.0,537.9 373.9,537.1 379.8,536.2 385.6,535.1 391.4,533.8 397.2,532.3 402.9,530.8 408.6,529.0 414.3,527.2 419.9,525.3 425.5,523.2 431.1,521.1 436.6,519.0 442.1,516.7 447.6,514.4 453.1,512.1 458.5,509.7 464.0,507.2 469.3,504.7 474.7,502.1 480.0,499.5 485.3,496.8 490.5,494.0 495.8,491.2 501.0,488.3 506.1,485.4 511.3,482.5 516.4,479.4 521.5,476.4 526.6,473.3 531.7,470.2 536.7,467.1 541.8,464.0 546.9,460.9 551.9,457.8 557.0,454.7 562.0,451.6 567.1,448.5 572.2,445.4 577.3,442.3 582.4,439.3 587.5,436.3 592.7,433.4 597.9,430.5 603.1,427.7 608.3,424.9 613.6,422.2 618.9,419.5 624.3,416.9"/>
</g>
<g clip-path="url(#c2)">
<g filter="url(#bl)">
<path fill="#000" fill-opacity="0.062" d="M1253,56h8v8h-8zM1253,64h8v8h-8zM1245,104h8v8h-8zM1245,112h8v8h-8zM1245,120h8v8h-8zM1245,144h8v8h-8zM1245,152h8v8h-8zM1245,160h8v8h-8zM1237,176h8v8h-8zM1237,184h8v8h-8zM1229,200h8v8h-8zM1205,288h8v8h-8zM1213,304h8v8h-8zM1309,312h8v8h-8zM1205,320h8v8h-8zM1309,320h8v8h-8zM1205,328h8v8h-8zM1309,328h8v8h-8zM1197,344h8v8h-8zM1189,352h8v8h-8zM1189,360h8v8h-8zM1181,384h8v8h-8zM1173,408h8v8h-8zM1173,416h8v8h-8zM1173,424h8v8h-8zM1173,432h8v8h-8zM1173,440h8v8h-8zM1165,456h8v8h-8zM1149,480h8v8h-8zM1125,512h16v8h-16zM1101,544h8v8h-8zM1093,552h8v8h-8zM1069,576h8v8h-8zM1061,584h8v8h-8zM1053,592h8v8h-8zM1037,600h8v8h-8zM1029,608h8v8h-8zM1021,640h8v8h-8z"/>
<path fill="#000" fill-opacity="0.125" d="M1301,32h8v8h-8zM1253,72h8v8h-8zM1253,80h8v8h-8zM1245,168h8v8h-8zM1229,208h8v8h-8zM1221,216h8v8h-8zM1221,224h8v8h-8zM1229,232h8v8h-8zM1229,240h8v8h-8zM1221,248h8v8h-8zM1213,256h8v8h-8zM1213,264h8v8h-8zM1213,272h8v8h-8zM1213,280h8v8h-8zM1213,296h8v8h-8zM1205,336h8v8h-8zM1309,336h8v8h-8zM1309,344h8v8h-8zM1197,352h8v8h-8zM1189,368h8v8h-8zM1181,392h8v8h-8zM1181,400h8v8h-8zM1181,408h8v8h-8zM1181,416h8v8h-8zM1181,424h8v8h-8zM1173,448h8v8h-8zM1165,464h8v8h-8zM1157,472h8v8h-8zM1141,512h8v8h-8zM1125,520h16v8h-16zM1125,528h8v8h-8zM1117,536h8v8h-8zM1085,560h16v8h-16zM1077,568h8v8h-8zM1021,624h8v8h-8zM1021,632h8v8h-8zM1029,640h8v8h-8zM1045,648h8v8h-8zM1069,656h8v8h-8zM1181,672h8v8h-8zM1181,680h8v8h-8zM1181,688h8v8h-8z"/>
<path fill="#000" fill-opacity="0.188" d="M1261,40h8v8h-8zM1261,48h8v8h-8zM1261,56h8v8h-8zM1253,88h8v8h-8zM1253,96h8v8h-8zM1253,104h8v8h-8zM1253,112h8v8h-8zM1253,120h8v8h-8zM1253,128h8v8h-8zM1253,136h8v8h-8zM1245,176h8v8h-8zM1237,192h8v8h-8zM1229,216h8v8h-8zM1229,224h16v8h-16zM1237,232h8v8h-8zM1221,280h8v8h-8zM1213,288h8v8h-8zM1213,312h8v8h-8zM1205,344h8v8h-8zM1309,352h8v8h-8zM1197,360h8v8h-8zM1309,360h8v8h-8zM1197,368h16v8h-16zM1189,376h8v8h-8zM1189,408h8v8h-8zM1189,416h8v8h-8zM1181,432h8v8h-8zM1181,440h8v8h-8zM1173,456h8v8h-8zM1165,472h8v8h-8zM1157,480h8v8h-8zM1149,488h8v8h-8zM1149,496h8v8h-8zM1149,504h8v8h-8zM1141,520h8v8h-8zM1125,536h8v8h-8zM1109,544h8v8h-8zM1101,552h8v8h-8zM1085,568h16v8h-16zM1077,576h8v8h-8zM1069,584h8v8h-8zM1061,592h8v8h-8zM1045,600h8v8h-8zM1029,616h8v8h-8zM1029,624h16v8h-16zM1029,632h8v8h-8zM1037,640h8v8h-8zM1053,648h8v8h-8zM1077,656h8v8h-8zM1141,664h8v8h-8zM1189,672h8v8h-8zM1189,680h8v8h-8zM1189,688h8v8h-8z"/>
<path fill="#000" fill-opacity="0.250" d="M1261,64h8v8h-8zM1261,72h8v8h-8zM1261,80h8v8h-8zM1253,144h8v8h-8zM1253,152h8v8h-8zM1253,160h8v8h-8zM1245,184h8v8h-8zM1237,200h8v8h-8zM1237,208h8v8h-8zM1237,216h8v8h-8zM1245,224h8v8h-8zM1237,240h8v8h-8zM1229,248h8v8h-8zM1221,256h8v8h-8zM1221,264h8v8h-8zM1221,272h8v8h-8zM1221,288h8v8h-8zM1221,296h8v8h-8zM1221,304h8v8h-8zM1213,328h8v8h-8zM1213,336h8v8h-8zM1205,352h8v8h-8zM1205,360h8v8h-8zM1213,368h8v8h-8zM1309,368h8v8h-8zM1197,376h16v8h-16zM1309,376h8v8h-8zM1189,384h8v8h-8zM1189,400h16v8h-16zM1197,408h8v8h-8zM1197,416h8v8h-8zM1189,424h8v8h-8zM1181,448h8v8h-8zM1173,464h8v8h-8zM1173,472h8v8h-8zM1165,480h16v8h-16zM1133,528h8v8h-8zM1117,544h8v8h-8zM1101,560h8v8h-8zM1085,576h8v8h-8zM1053,600h16v8h-16zM1037,608h8v8h-8zM1037,616h16v8h-16zM1045,624h8v8h-8zM1037,632h16v8h-16zM1045,640h8v8h-8zM1085,656h8v8h-8zM1149,664h8v8h-8z"/>
<path fill="#000" fill-opacity="0.312" d="M1269,32h8v8h-8zM1301,40h8v8h-8zM1261,88h8v8h-8zM1261,112h8v8h-8zM1261,120h8v8h-8zM1245,192h8v8h-8zM1245,216h8v8h-8zM1245,232h8v8h-8zM1237,248h8v8h-8zM1229,256h8v8h-8zM1229,280h8v8h-8zM1229,288h8v8h-8zM1213,320h8v8h-8zM1213,344h8v8h-8zM1213,352h8v8h-8zM1213,360h8v8h-8zM1213,376h8v8h-8zM1197,384h16v8h-16zM1309,384h8v8h-8zM1189,392h16v8h-16zM1309,392h8v8h-8zM1309,400h8v8h-8zM1205,408h8v8h-8zM1309,408h8v8h-8zM1181,456h8v8h-8zM1157,488h8v8h-8zM1149,512h8v8h-8zM1149,520h8v8h-8zM1141,528h8v8h-8zM1125,544h8v8h-8zM1109,552h8v8h-8zM1101,568h8v8h-8zM1093,576h8v8h-8zM1077,584h8v8h-8zM1069,592h8v8h-8zM1045,608h16v8h-16zM1053,616h8v8h-8zM1061,648h8v8h-8zM1093,656h8v8h-8zM1197,672h8v8h-8zM1197,680h8v8h-8zM1197,688h8v8h-8z"/>
<path fill="#000" fill-opacity="0.375" d="M1277,32h8v8h-8zM1301,48h8v8h-8zM1261,96h8v8h-8zM1261,104h8v8h-8zM1261,128h8v8h-8zM1261,136h8v8h-8zM1261,144h8v8h-8zM1253,168h8v8h-8zM1253,184h8v8h-8zM1245,200h8v8h-8zM1245,208h8v8h-8zM1229,264h8v8h-8zM1229,272h8v8h-8zM1229,296h8v8h-8zM1229,304h8v8h-8zM1221,312h8v8h-8zM1221,320h8v8h-8zM1221,328h8v8h-8zM1221,336h8v8h-8zM1221,344h8v8h-8zM1221,352h8v8h-8zM1221,360h8v8h-8zM1205,392h8v8h-8zM1205,400h8v8h-8zM1205,416h8v8h-8zM1309,416h8v8h-8zM1197,424h8v8h-8zM1189,432h8v8h-8zM1189,440h8v8h-8zM1181,464h8v8h-8zM1181,472h8v8h-8zM1181,480h8v8h-8zM1165,488h16v8h-16zM1157,496h8v8h-8zM1157,504h8v8h-8zM1133,536h8v8h-8zM1117,552h16v8h-16zM1109,560h8v8h-8zM1101,576h8v8h-8zM1085,584h8v8h-8zM1069,600h8v8h-8zM1061,608h8v8h-8zM1053,624h8v8h-8zM1053,632h8v8h-8zM1053,640h8v8h-8zM1157,664h8v8h-8zM1309,672h8v8h-8zM1309,680h8v8h-8zM1309,688h8v8h-8z"/>
<path fill="#000" fill-opacity="0.438" d="M1269,40h8v8h-8zM1269,48h8v8h-8zM1269,56h8v8h-8zM1301,56h8v8h-8zM1269,64h8v8h-8zM1301,64h8v8h-8zM1301,72h8v8h-8zM1301,96h8v8h-8zM1301,104h8v8h-8zM1261,152h8v8h-8zM1261,160h8v8h-8zM1253,176h8v8h-8zM1253,192h8v8h-8zM1253,200h8v8h-8zM1253,208h8v8h-8zM1253,216h8v8h-8zM1253,224h8v8h-8zM1245,240h8v8h-8zM1237,256h8v8h-8zM1237,264h8v8h-8zM1237,272h8v8h-8zM1237,280h8v8h-8zM1237,288h8v8h-8zM1237,296h8v8h-8zM1237,304h8v8h-8zM1229,312h8v8h-8zM1229,320h8v8h-8zM1229,328h8v8h-8zM1221,368h8v8h-8zM1213,384h8v8h-8zM1309,424h8v8h-8zM1189,448h8v8h-8zM1189,456h8v8h-8zM1165,496h8v8h-8zM1165,504h8v8h-8zM1157,512h8v8h-8zM1157,520h8v8h-8zM1149,528h8v8h-8zM1141,536h8v8h-8zM1133,544h8v8h-8zM1133,552h8v8h-8zM1117,560h8v8h-8zM1109,568h8v8h-8zM1093,584h8v8h-8zM1077,592h8v8h-8zM1061,640h8v8h-8zM1069,648h8v8h-8zM1101,656h8v8h-8zM1165,664h8v8h-8zM1205,672h8v8h-8zM1205,680h8v8h-8zM1205,688h8v8h-8z"/>
<path fill="#000" fill-opacity="0.500" d="M1285,32h16v8h-16zM1277,40h8v8h-8zM1277,48h8v8h-8zM1269,72h8v8h-8zM1269,80h8v8h-8zM1301,80h8v8h-8zM1269,88h8v8h-8zM1301,88h8v8h-8zM1269,104h8v8h-8zM1269,112h8v8h-8zM1269,120h8v8h-8zM1253,232h8v8h-8zM1245,248h8v8h-8zM1245,256h8v8h-8zM1245,280h8v8h-8zM1237,312h8v8h-8zM1229,336h8v8h-8zM1229,344h8v8h-8zM1229,352h8v8h-8zM1229,360h8v8h-8zM1221,376h8v8h-8zM1213,392h8v8h-8zM1213,400h8v8h-8zM1213,408h8v8h-8zM1213,416h8v8h-8zM1205,424h8v8h-8zM1197,432h8v8h-8zM1309,432h8v8h-8zM1309,440h8v8h-8zM1309,448h8v8h-8zM1189,464h8v8h-8zM1189,472h8v8h-8zM1181,488h8v8h-8zM1173,496h8v8h-8zM1165,512h8v8h-8zM1165,520h8v8h-8zM1157,528h8v8h-8zM1149,536h8v8h-8zM1141,544h8v8h-8zM1141,552h8v8h-8zM1125,560h8v8h-8zM1117,568h8v8h-8zM1109,576h8v8h-8zM1101,584h8v8h-8zM1077,600h8v8h-8zM1069,608h8v8h-8zM1061,616h8v8h-8zM1061,632h8v8h-8z"/>
<path fill="#000" fill-opacity="0.562" d="M1277,56h8v8h-8zM1269,96h8v8h-8zM1301,112h8v8h-8zM1269,128h8v8h-8zM1269,136h8v8h-8zM1301,136h8v8h-8zM1269,144h8v8h-8zM1301,144h8v8h-8zM1269,152h8v8h-8zM1261,168h8v8h-8zM1261,176h8v8h-8zM1261,184h8v8h-8zM1261,192h8v8h-8zM1261,200h8v8h-8zM1261,208h8v8h-8zM1261,216h8v8h-8zM1253,240h8v8h-8zM1253,248h8v8h-8zM1253,256h8v8h-8zM1245,264h8v8h-8zM1245,272h8v8h-8zM1245,288h8v8h-8zM1245,296h8v8h-8zM1245,304h8v8h-8zM1237,320h8v8h-8zM1221,384h8v8h-8zM1221,392h8v8h-8zM1213,424h8v8h-8zM1197,440h8v8h-8zM1197,448h16v8h-16zM1197,456h8v8h-8zM1309,456h8v8h-8zM1189,480h8v8h-8zM1173,504h8v8h-8zM1173,512h8v8h-8zM1133,560h8v8h-8zM1125,568h8v8h-8zM1117,576h8v8h-8zM1109,584h8v8h-8zM1085,592h8v8h-8zM1077,608h8v8h-8zM1061,624h8v8h-8zM1069,640h8v8h-8zM1077,648h8v8h-8zM1109,656h8v8h-8zM1173,664h8v8h-8z"/>
<path fill="#000" fill-opacity="0.625" d="M1285,40h16v8h-16zM1285,48h8v8h-8zM1285,56h8v8h-8zM1277,64h8v8h-8zM1277,72h8v8h-8zM1301,120h8v8h-8zM1301,128h8v8h-8zM1301,152h8v8h-8zM1261,224h8v8h-8zM1261,248h8v8h-8zM1261,256h8v8h-8zM1253,264h8v8h-8zM1253,272h8v8h-8zM1253,280h8v8h-8zM1253,288h8v8h-8zM1245,312h8v8h-8zM1237,328h8v8h-8zM1237,336h8v8h-8zM1237,344h8v8h-8zM1237,352h8v8h-8zM1237,360h8v8h-8zM1229,368h8v8h-8zM1229,376h8v8h-8zM1221,400h8v8h-8zM1221,408h8v8h-8zM1221,416h8v8h-8zM1221,424h8v8h-8zM1205,432h8v8h-8zM1205,440h8v8h-8zM1197,464h8v8h-8zM1309,464h8v8h-8zM1197,472h8v8h-8zM1197,480h8v8h-8zM1189,488h8v8h-8zM1181,496h8v8h-8zM1181,504h8v8h-8zM1173,520h8v8h-8zM1165,528h8v8h-8zM1157,536h8v8h-8zM1149,544h8v8h-8zM1149,552h8v8h-8zM1141,560h8v8h-8zM1133,568h8v8h-8zM1125,576h8v8h-8zM1117,584h8v8h-8zM1093,592h8v8h-8zM1069,616h8v8h-8zM1069,632h8v8h-8zM1085,648h8v8h-8zM1117,656h8v8h-8zM1181,664h8v8h-8zM1213,672h8v8h-8zM1213,680h8v8h-8zM1213,688h8v8h-8z"/>
<path fill="#000" fill-opacity="0.688" d="M1293,48h8v8h-8zM1277,80h8v8h-8zM1277,88h8v8h-8zM1277,96h8v8h-8zM1277,104h8v8h-8zM1277,112h8v8h-8zM1277,120h8v8h-8zM1269,160h8v8h-8zM1301,160h8v8h-8zM1301,168h8v8h-8zM1269,176h8v8h-8zM1301,176h8v8h-8zM1269,184h8v8h-8zM1301,184h8v8h-8zM1269,192h8v8h-8zM1261,232h8v8h-8zM1261,240h8v8h-8zM1261,264h8v8h-8zM1253,296h8v8h-8zM1253,304h8v8h-8zM1245,320h8v8h-8zM1245,344h8v8h-8zM1237,368h8v8h-8zM1237,376h8v8h-8zM1229,384h8v8h-8zM1229,392h8v8h-8zM1229,400h8v8h-8zM1229,408h8v8h-8zM1213,432h16v8h-16zM1213,440h8v8h-8zM1213,448h8v8h-8zM1205,456h8v8h-8zM1205,464h8v8h-8zM1205,472h8v8h-8zM1309,472h8v8h-8zM1309,480h8v8h-8zM1197,488h8v8h-8zM1181,512h8v8h-8zM1165,536h8v8h-8zM1157,544h8v8h-8zM1141,568h8v8h-8zM1133,576h8v8h-8zM1125,584h8v8h-8zM1101,592h16v8h-16zM1085,600h8v8h-8zM1085,608h8v8h-8zM1077,616h8v8h-8zM1069,624h8v8h-8zM1077,640h8v8h-8zM1093,648h8v8h-8zM1125,656h8v8h-8zM1221,672h8v8h-8zM1221,680h8v8h-8zM1221,688h8v8h-8z"/>
<path fill="#000" fill-opacity="0.750" d="M1293,56h8v8h-8zM1285,64h16v8h-16zM1285,72h16v8h-16zM1285,80h8v8h-8zM1285,88h8v8h-8zM1285,96h8v8h-8zM1285,104h16v8h-16zM1277,128h8v8h-8zM1277,136h8v8h-8zM1277,144h8v8h-8zM1277,152h8v8h-8zM1269,168h8v8h-8zM1301,192h8v8h-8zM1269,200h8v8h-8zM1301,200h8v8h-8zM1269,208h8v8h-8zM1301,208h8v8h-8zM1269,216h8v8h-8zM1269,224h8v8h-8zM1261,272h8v8h-8zM1261,280h8v8h-8zM1253,312h8v8h-8zM1245,328h8v8h-8zM1245,336h8v8h-8zM1245,352h8v8h-8zM1245,360h8v8h-8zM1245,368h8v8h-8zM1245,376h8v8h-8zM1237,384h8v8h-8zM1237,392h8v8h-8zM1237,400h8v8h-8zM1237,408h8v8h-8zM1229,416h8v8h-8zM1229,424h8v8h-8zM1221,440h8v8h-8zM1221,448h8v8h-8zM1213,456h8v8h-8zM1205,480h8v8h-8zM1205,488h8v8h-8zM1309,488h8v8h-8zM1189,496h16v8h-16zM1309,496h8v8h-8zM1189,504h16v8h-16zM1189,512h8v8h-8zM1181,520h8v8h-8zM1173,528h8v8h-8zM1165,544h8v8h-8zM1157,552h8v8h-8zM1149,560h8v8h-8zM1141,576h8v8h-8zM1117,592h8v8h-8zM1093,600h16v8h-16zM1093,608h8v8h-8zM1085,616h8v8h-8zM1077,624h8v8h-8zM1077,632h8v8h-8zM1085,640h8v8h-8zM1101,648h8v8h-8zM1133,656h8v8h-8zM1189,664h8v8h-8zM1229,672h8v8h-8zM1229,680h8v8h-8zM1229,688h8v8h-8z"/>
<path fill="#000" fill-opacity="0.812" d="M1293,80h8v8h-8zM1293,88h8v8h-8zM1293,96h8v8h-8zM1285,112h16v8h-16zM1285,120h8v8h-8zM1285,128h8v8h-8zM1285,136h16v8h-16zM1285,144h16v8h-16zM1285,152h16v8h-16zM1277,160h8v8h-8zM1277,176h8v8h-8zM1277,184h8v8h-8zM1277,192h8v8h-8zM1277,200h8v8h-8zM1301,216h8v8h-8zM1301,224h8v8h-8zM1269,232h8v8h-8zM1301,232h8v8h-8zM1269,240h8v8h-8zM1301,240h8v8h-8zM1269,248h8v8h-8zM1301,248h8v8h-8zM1269,256h8v8h-8zM1269,264h8v8h-8zM1261,288h8v8h-8zM1261,296h8v8h-8zM1261,304h8v8h-8zM1261,312h8v8h-8zM1253,320h8v8h-8zM1253,328h8v8h-8zM1253,336h8v8h-8zM1253,344h8v8h-8zM1253,352h8v8h-8zM1245,384h8v8h-8zM1245,392h8v8h-8zM1245,400h8v8h-8zM1237,416h8v8h-8zM1237,424h8v8h-8zM1229,432h16v8h-16zM1229,440h8v8h-8zM1229,448h8v8h-8zM1221,456h16v8h-16zM1213,464h16v8h-16zM1213,472h16v8h-16zM1213,480h8v8h-8zM1213,488h8v8h-8zM1205,496h8v8h-8zM1309,504h8v8h-8zM1197,512h8v8h-8zM1309,512h8v8h-8zM1189,520h8v8h-8zM1181,528h8v8h-8zM1173,536h16v8h-16zM1173,544h8v8h-8zM1165,552h16v8h-16zM1157,560h16v8h-16zM1149,568h8v8h-8zM1133,584h8v8h-8zM1125,592h8v8h-8zM1109,600h16v8h-16zM1101,608h16v8h-16zM1093,616h16v8h-16zM1085,624h16v8h-16zM1085,632h16v8h-16zM1093,640h8v8h-8zM1109,648h8v8h-8zM1141,656h8v8h-8zM1197,664h8v8h-8zM1309,664h8v8h-8zM1237,672h8v8h-8zM1237,680h8v8h-8zM1237,688h8v8h-8z"/>
<path fill="#000" fill-opacity="0.875" d="M1293,120h8v8h-8zM1293,128h8v8h-8zM1285,160h16v8h-16zM1277,168h8v8h-8zM1285,176h8v8h-8zM1285,184h8v8h-8zM1285,192h8v8h-8zM1285,200h16v8h-16zM1277,208h8v8h-8zM1277,216h8v8h-8zM1277,224h8v8h-8zM1277,232h8v8h-8zM1277,248h8v8h-8zM1277,256h8v8h-8zM1301,256h8v8h-8zM1301,264h8v8h-8zM1269,272h8v8h-8zM1301,272h8v8h-8zM1269,280h8v8h-8zM1301,280h8v8h-8zM1269,288h8v8h-8zM1301,288h8v8h-8zM1269,296h8v8h-8zM1301,296h8v8h-8zM1269,304h8v8h-8zM1269,312h8v8h-8zM1261,320h8v8h-8zM1261,328h8v8h-8zM1261,336h8v8h-8zM1261,344h8v8h-8zM1261,352h8v8h-8zM1253,360h8v8h-8zM1253,368h8v8h-8zM1253,376h8v8h-8zM1253,384h8v8h-8zM1253,392h8v8h-8zM1253,400h8v8h-8zM1245,408h8v8h-8zM1245,416h8v8h-8zM1245,424h8v8h-8zM1245,432h8v8h-8zM1237,440h16v8h-16zM1237,448h8v8h-8zM1237,456h8v8h-8zM1229,464h8v8h-8zM1229,472h8v8h-8zM1221,480h8v8h-8zM1221,488h8v8h-8zM1213,496h16v8h-16zM1205,504h16v8h-16zM1205,512h8v8h-8zM1197,520h8v8h-8zM1309,520h8v8h-8zM1189,528h16v8h-16zM1309,528h8v8h-8zM1189,536h8v8h-8zM1181,544h8v8h-8zM1173,560h8v8h-8zM1157,568h16v8h-16zM1149,576h16v8h-16zM1141,584h16v8h-16zM1133,592h16v8h-16zM1125,600h16v8h-16zM1117,608h16v8h-16zM1109,616h8v8h-8zM1101,624h16v8h-16zM1101,632h8v8h-8zM1101,640h8v8h-8zM1117,648h16v8h-16zM1149,656h16v8h-16zM1205,664h8v8h-8zM1245,672h8v8h-8zM1245,680h8v8h-8zM1245,688h8v8h-8z"/>
<path fill="#000" fill-opacity="0.938" d="M1285,168h16v8h-16zM1293,176h8v8h-8zM1293,184h8v8h-8zM1293,192h8v8h-8zM1285,208h16v8h-16zM1285,216h16v8h-16zM1285,224h16v8h-16zM1285,232h16v8h-16zM1277,240h24v8h-24zM1285,248h16v8h-16zM1285,256h8v8h-8zM1277,264h16v8h-16zM1277,272h8v8h-8zM1277,280h8v8h-8zM1277,288h8v8h-8zM1277,296h8v8h-8zM1277,304h8v8h-8zM1301,304h8v8h-8zM1277,312h8v8h-8zM1301,312h8v8h-8zM1269,320h16v8h-16zM1301,320h8v8h-8zM1269,328h16v8h-16zM1301,328h8v8h-8zM1269,336h8v8h-8zM1301,336h8v8h-8zM1269,344h8v8h-8zM1301,344h8v8h-8zM1269,352h8v8h-8zM1301,352h8v8h-8zM1261,360h16v8h-16zM1301,360h8v8h-8zM1261,368h16v8h-16zM1301,368h8v8h-8zM1261,376h16v8h-16zM1261,384h16v8h-16zM1261,392h16v8h-16zM1261,400h16v8h-16zM1253,408h16v8h-16zM1253,416h16v8h-16zM1253,424h8v8h-8zM1253,432h16v8h-16zM1253,440h8v8h-8zM1245,448h16v8h-16zM1245,456h8v8h-8zM1237,464h16v8h-16zM1237,472h16v8h-16zM1229,480h24v8h-24zM1229,488h16v8h-16zM1229,496h16v8h-16zM1221,504h16v8h-16zM1213,512h16v8h-16zM1205,520h24v8h-24zM1205,528h16v8h-16zM1197,536h24v8h-24zM1309,536h8v8h-8zM1189,544h24v8h-24zM1309,544h8v8h-8zM1181,552h24v8h-24zM1181,560h16v8h-16zM1173,568h16v8h-16zM1165,576h16v8h-16zM1157,584h16v8h-16zM1149,592h16v8h-16zM1141,600h16v8h-16zM1133,608h16v8h-16zM1117,616h24v8h-24zM1117,624h24v8h-24zM1109,632h24v8h-24zM1109,640h32v8h-32zM1133,648h16v8h-16zM1165,656h16v8h-16zM1213,664h24v8h-24zM1253,672h16v8h-16zM1253,680h16v8h-16zM1253,688h16v8h-16z"/>
<path fill="#000" fill-opacity="1.000" d="M1293,256h8v8h-8zM1293,264h8v8h-8zM1285,272h16v8h-16zM1285,280h16v8h-16zM1285,288h16v8h-16zM1285,296h16v8h-16zM1285,304h16v8h-16zM1285,312h16v8h-16zM1285,320h16v8h-16zM1285,328h16v8h-16zM1277,336h24v8h-24zM1277,344h24v8h-24zM1277,352h24v8h-24zM1277,360h24v8h-24zM1277,368h24v8h-24zM1277,376h32v8h-32zM1277,384h32v8h-32zM1277,392h32v8h-32zM1277,400h32v8h-32zM1269,408h40v8h-40zM1269,416h40v8h-40zM1261,424h48v8h-48zM1269,432h40v8h-40zM1261,440h48v8h-48zM1261,448h48v8h-48zM1253,456h56v8h-56zM1253,464h56v8h-56zM1253,472h56v8h-56zM1253,480h56v8h-56zM1245,488h64v8h-64zM1245,496h64v8h-64zM1237,504h72v8h-72zM1229,512h80v8h-80zM1229,520h80v8h-80zM1221,528h88v8h-88zM1221,536h88v8h-88zM1213,544h96v8h-96zM1205,552h112v8h-112zM1197,560h120v8h-120zM1189,568h128v8h-128zM1181,576h136v8h-136zM1173,584h144v8h-144zM1165,592h152v8h-152zM1157,600h160v8h-160zM1149,608h168v8h-168zM1141,616h176v8h-176zM1141,624h176v8h-176zM1133,632h184v8h-184zM1141,640h176v8h-176zM1149,648h168v8h-168zM1181,656h136v8h-136zM1237,664h72v8h-72zM1269,672h40v8h-40zM1269,680h40v8h-40zM1269,688h40v8h-40z"/>
</g>
<polyline class="d" fill="none" stroke="none" marker-start="url(#m)" marker-mid="url(#m)" marker-end="url(#m)" transform="translate(741.8,0.0)" points="314,38 325,37 331,34 367,34 400,39 414,36 426,36 444,38 445,33 449,38 459,37 467,37 467,38 470,36 489,34 496,32 502,36 503,33 514,32 515,34 522,33 525,32 526,34 526,38 527,34 527,33 530,33 530,34 532,35 534,37 535,33 539,33 540,35 541,33 544,36 544,33 545,37 548,35 549,33 550,39 552,38 555,38 557,37 557,32 558,39 558,39 558,33 562,32 255,77 266,70 286,68 295,46 328,59 328,51 350,60 352,55 359,74 360,57 365,47 378,58 381,43 382,77 392,47 405,41 408,78 415,72 416,75 427,49 427,77 429,75 430,69 433,65 433,71 444,67 444,46 445,57 447,74 450,78 450,49 451,51 452,63 453,69 455,66 455,76 458,52 460,80 464,70 466,69 470,66 470,79 472,47 474,67 474,48 474,61 474,72 475,45 476,54 479,78 480,59 483,79 483,47 489,80 489,44 490,76 491,75 492,73 492,50 493,76 494,77 495,66 496,42 498,70 499,43 500,51 501,48 502,57 502,53 503,45 503,68 505,67 505,44 506,73 506,61 507,50 507,46 508,47 508,69 509,52 509,74 510,65 512,54 512,71 512,44 513,65 514,57 515,73 515,54 515,59 515,53 516,47 516,58 517,58 519,52 521,40 522,47 524,72 525,64 526,61 527,60 529,71 530,49 530,67 531,61 532,59 532,57 532,78 533,49 533,68 534,43 534,50 535,57 536,64 536,65 539,67 539,52 540,62 541,80 541,43 541,65 542,47 542,57 542,57 542,65 543,58 543,52 543,73 544,71 546,53 546,42 547,50 548,53 548,46 548,51 550,57 551,43 551,55 552,51 552,42 553,61 554,64 555,55 555,54 555,48 556,62 556,56 557,46 557,51 558,43 559,43 559,61 560,56 560,45 560,50 561,74 561,61 561,54 562,67 562,44 562,59 562,67 563,66 563,74 563,43 563,66 563,68 564,45 565,63 150,88 244,119 274,96 285,88 322,96 359,82 362,118 375,97 377,87 378,88 379,87 383,96 391,84 398,117 402,88 402,91 407,95 408,81 414,90 418,114 420,92 427,88 429,118 432,115 432,85 434,111 441,119 442,98 443,84 446,92 447,113 447,80 448,99 448,89 449,105 449,91 455,106 459,107 464,80 466,90 467,87 467,120 468,94 470,92 473,99 475,104 476,86 476,97 477,108 477,110 477,94 478,83 480,108 480,118 480,115 481,99 481,107 483,115 485,100 485,106 485,88 486,81 486,83 486,90 486,90 490,110 491,85 493,85 495,95 498,90 498,100 498,112 498,105 499,107 502,94 502,102 503,80 503,113 506,88 507,105 507,103 508,89 509,81 509,110 512,107 515,98 516,97 516,101 517,110 518,107 519,103 520,113 521,118 521,112 522,90 522,81 522,102 522,94 524,96 524,117 524,116 525,109 525,103 525,116 527,98 527,92 528,84 528,96 528,101 529,115 530,110 530,82 531,82 531,92 531,87 532,81 532,109 533,112 533,85 533,108 533,106 534,114 534,93 534,82 534,99 535,106 536,87 536,119 536,95 536,105 536,111 536,108 538,90 539,88 539,81 540,112 541,107 542,94 542,104 544,118 546,84 547,100 548,104 549,84 549,81 549,85 549,118 550,100 550,106 550,90 551,91 551,84 552,89 552,117 552,112 553,85 553,102 553,95 554,93 555,94 555,91 556,102 557,89 557,105 557,84 557,115 557,100 558,89 558,105 558,90 559,112 559,97 559,100 561,97 561,83 561,114 562,94 563,93 564,98 187,129 234,150 238,143 259,126 276,147 308,136 332,158 335,148 344,156 351,146 365,137 365,127 371,155 382,130 392,136 399,141 406,143 406,125 407,131 414,139 418,130 419,144 426,138 426,135 427,134 433,125 434,124 434,142 435,152 436,157 436,151 440,152 446,140 447,139 447,136 447,143 448,122 448,148 448,127 451,153 451,153 454,121 455,153 455,135 457,134 457,143 458,158 459,150 460,135 460,146 460,157 465,158 467,154 468,122 470,145 474,150 474,136 475,121 479,123 479,146 480,130 480,160 483,123 483,157 484,149 486,132 487,142 488,121 488,140 489,159 489,153 490,160 490,156 494,155 494,121 494,137 494,136 495,143 495,143 496,139 497,146 497,128 500,127 501,159 501,157 502,136 502,139 502,160 502,152 503,151 504,142 504,129 504,143 504,159 505,160 505,121 505,124 506,134 506,139 506,130 506,138 507,121 507,155 507,150 507,127 508,134 510,143 510,146 511,135 511,135 513,134 514,157 515,136 515,153 516,126 516,156 517,151 517,134 517,147 520,122 520,137 520,121 521,131 521,153 521,140 521,147 521,138 521,121 523,122 523,157 524,153 524,152 524,135 524,148 526,149 527,158 527,154 527,156 527,159 528,140 529,126 530,129 530,159 530,159 532,150 532,160 533,158 533,127 533,145 536,134 536,126 538,152 538,139 539,158 539,145 539,156 539,149 539,150 541,124 541,136 542,150 542,145 543,132 543,147 546,139 548,125 548,136 548,133 549,125 549,149 549,132 551,159 551,141 551,140 552,128 553,154 553,143 553,141 553,124 554,135 554,124 555,145 556,128 560,147 560,130 561,152 561,133 561,134 561,135 562,122 563,149 563,136 563,133 564,145 564,138 15,182 30,188 274,174 275,172 286,185 303,184 304,200 305,194 307,200 315,183 323,181 325,182 330,184 331,174 340,184 344,176 351,167 362,176 362,171 370,169 375,197 377,180 381,168 381,199 382,173 383,168 386,185 389,185 394,189 413,193 416,196 419,175 419,181 421,183 421,163 422,195 422,165 425,195 427,175 428,193 430,170 431,189 434,183 435,168 435,196 436,183 438,183 441,199 443,186 445,200 447,169 448,185 449,185 450,160 451,197 453,180 455,184 455,165 457,180 457,199 459,198 460,169 460,183 462,161 463,174 464,193 464,163 464,192 464,199 465,192 465,190 466,198 470,197 471,164 471,189 473,191 473,173 473,186 473,167 473,174 473,194 474,189 474,163 475,185 476,194 476,183 476,179 477,178 478,183 480,173 481,168 481,187 481,185 482,162 483,186 483,171 485,180 486,162 487,177 490,198 490,189 490,181 492,180 492,190 492,190 493,166 495,166 496,189 496,178 497,196 498,193 498,187 500,197 500,190 501,169 501,163 502,161 502,171 503,178 504,196 504,195 505,197 506,180 506,193 507,160 508,173 508,163 509,183 511,165 511,185 512,177 512,196 513,190 513,183 513,180 514,168 514,176 514,160 516,192 516,191 516,186 517,197 517,188 517,196 518,192 520,166 520,171 520,161 520,194 522,193 523,170 523,177 523,161 523,192 524,185 525,182 525,180 526,189 526,193 526,197 527,192 527,166 527,185 529,186 531,166 531,164 533,188 535,172 535,179 535,197 537,179 537,163 537,191 537,166 538,160 538,180 539,198 540,197 540,183 540,166 541,199 541,200 543,173 544,200 545,195 545,191 545,189 548,164 549,184 550,197 550,198 551,170 551,187 552,194 552,176 553,196 554,167 555,188 555,164 556,199 556,162 556,190 557,182 557,194 558,167 558,191 558,164 558,178 559,161 560,184 560,179 560,178 561,178 561,168 562,198 562,193 562,172 562,170 562,179 562,193 563,184 563,190 563,184 564,180 564,195 565,176 38,206 133,235 147,230 239,206 248,216 259,204 265,234 305,210 314,224 330,215 334,201 339,232 340,213 352,223 358,202 370,219 370,232 372,222 375,205 375,227 376,216 391,239 393,219 394,216 395,227 396,203 400,224 400,232 403,218 403,233 405,222 405,227 406,205 407,230 407,210 409,237 414,207 420,230 426,203 428,218 429,220 429,215 432,224 432,222 433,221 434,234 435,240 435,226 435,235 441,236 444,227 446,218 447,217 447,212 448,206 449,220 449,238 450,232 450,204 452,213 452,223 454,222 455,233 455,227 455,215 457,203 459,200 460,202 462,202 467,237 467,231 468,222 468,206 469,234 470,217 471,231 474,237 474,232 474,225 474,211 476,233 476,238 478,208 478,226 479,211 479,225 479,227 480,217 481,204 482,210 482,210 482,234 483,205 483,224 483,233 485,202 486,218 486,239 486,232 486,220 487,233 487,216 488,204 488,217 489,224 489,206 491,233 492,216 493,229 494,236 494,222 495,210 496,209 496,239 497,201 499,209 499,206 500,231 500,211 500,233 501,231 502,239 502,218 502,236 502,227 503,212 505,234 505,226 505,210 505,220 505,234 507,208 507,203 509,224 509,213 509,221 510,216 510,228 510,203 510,211 511,216 511,214 512,223 514,202 514,204 515,208 516,233 516,209 517,212 517,204 517,214 517,235 517,213 518,212 518,205 519,237 520,226 521,203 521,230 522,220 522,202 523,229 523,219 525,235 525,223 527,230 528,229 528,238 529,228 529,225 530,205 533,212 534,211 534,231 535,207 535,231 536,231 537,237 537,231 538,219 539,229 539,238 539,223 540,231 540,219 540,206 540,210 541,213 542,202 542,214 543,220 543,232 543,209 544,201 545,205 548,209 548,213 548,213 548,219 548,239 549,204 550,202 551,234 553,207 553,210 553,221 554,216 554,208 554,231 556,211 556,220 558,224 559,207 559,207 560,219 560,211 561,239 561,231 562,209 562,207 562,229 562,214 563,238 563,226 564,204 564,224 171,275 253,268 258,272 260,254 300,269 316,262 327,258 330,272 337,272 344,251 354,257 357,254 358,263 361,255 362,271 371,265 372,253 374,269 374,243 379,256 380,272 380,280 381,261 382,269 389,246 394,265 398,269 401,253 410,251 411,264 421,264 422,264 424,243 425,255 428,267 428,279 430,249 431,247 431,272 432,245 432,260 433,264 434,259 436,245 436,246 437,262 440,279 443,270 448,258 448,243 448,268 448,265 450,260 452,241 452,246 453,267 453,253 455,276 459,277 460,240 461,271 463,271 463,261 465,259 466,268 467,258 467,255 467,263 471,266 472,263 473,257 473,256 473,243 474,261 477,263 478,253 478,259 479,248 479,263 480,241 480,277 481,264 482,269 483,261 485,269 485,247 486,242 487,261 487,256 488,278 489,245 490,280 491,263 494,270 494,263 494,257 494,269 494,251 494,259 495,247 496,250 497,248 498,272 498,271 499,268 499,241 500,258 501,244 501,269 502,257 503,248 504,253 504,249 505,257 506,279 506,250 506,262 506,259 506,263 508,247 508,244 508,266 509,266 510,259 511,261 512,243 513,245 513,240 513,242 513,259 513,250 514,276 514,267 515,259 516,245 516,254 517,259 517,257 517,272 517,250 518,278 519,272 519,242 520,251 521,253 521,273 521,241 521,255 522,245 522,246 523,257 523,259 524,262 524,268 525,244 525,248 525,261 525,242 527,240 527,261 527,246 528,244 528,247 528,264 530,259 532,241 533,250 533,249 534,272 535,267 535,268 536,278 539,261 539,246 539,245 540,259 542,273 543,245 543,258 544,241 544,256 544,255 545,255 546,248 547,280 547,276 548,270 548,246 549,270 549,244 549,248 550,258 552,252 553,268 553,244 555,254 555,242 558,250 558,272 559,280 559,266 559,253 561,261 561,278 562,249 562,275 563,250 563,272 10,287 195,311 216,306 222,300 225,289 244,289 258,302 278,317 280,316 286,316 297,283 309,307 309,293 309,316 317,286 322,281 332,307 348,305 349,285 351,310 353,317 355,314 356,298 360,289 368,288 371,294 373,311 374,303 376,287 381,293 383,314 386,314 387,318 387,293 388,309 394,307 398,285 403,304 404,287 405,290 405,291 405,310 406,317 407,316 407,313 408,313 410,315 410,307 411,281 412,317 412,281 413,307 415,290 415,305 416,298 417,295 420,315 420,293 422,309 422,291 425,309 427,295 429,317 430,309 432,288 432,304 435,305 436,307 439,302 439,289 439,297 440,283 440,308 440,291 440,316 441,294 442,316 444,310 444,313 445,287 446,290 446,316 447,283 447,306 447,310 447,315 448,307 448,308 449,294 450,282 451,303 451,291 452,283 452,309 452,315 456,313 457,294 460,280 460,291 461,297 461,306 462,315 462,317 463,290 464,316 464,319 464,283 465,284 466,314 466,318 467,281 467,308 467,282 468,301 468,304 469,285 470,300 472,285 472,303 473,280 474,300 476,307 476,308 476,317 476,294 476,300 476,289 477,290 479,291 480,319 481,306 481,309 481,301 482,295 483,285 483,304 486,296 486,293 486,318 487,282 487,307 488,315 490,311 491,306 491,303 492,291 492,294 493,315 494,288 494,311 495,310 495,296 495,289 496,309 496,304 497,313 498,295 498,285 498,283 499,318 500,312 500,303 500,304 501,300 502,290 502,319 502,316 503,304 505,306 506,305 507,304 508,295 508,289 509,308 509,300 511,315 512,282 512,313 513,283 514,294 515,288 515,300 515,309 517,319 517,283 518,307 519,284 521,305 521,291 523,305 523,312 524,292 525,312 525,283 525,283 527,284 528,302 528,309 529,306 531,319 533,296 534,310 534,282 535,282 536,309 536,284 536,308 536,280 537,307 540,317 541,289 541,285 541,282 542,305 542,315 543,284 543,302 543,285 545,296 546,310 547,281 547,288 550,287 551,284 551,297 553,304 553,302 553,287 553,313 554,306 554,314 554,286 554,315 554,285 555,299 557,287 557,309 558,283 559,286 559,292 559,316 560,310 560,317 560,292 562,305 562,300 563,288 563,305 564,306 142,337 191,348 199,359 214,329 240,350 251,335 258,321 258,356 266,333 267,356 270,330 275,335 276,336 276,359 284,336 288,331 300,352 302,330 304,343 308,357 310,325 328,345 331,328 333,358 337,344 338,322 339,341 346,348 346,320 349,325 350,348 352,339 354,355 355,334 355,353 363,358 366,330 371,347 379,350 379,355 380,339 381,343 382,331 388,326 389,348 391,349 395,347 396,320 397,324 397,338 397,330 400,351 401,325 404,338 405,359 405,352 406,353 407,346 407,348 408,342 410,344 412,335 412,360 414,325 414,343 414,349 415,351 417,343 420,323 421,347 421,324 422,350 422,341 424,347 427,347 429,325 430,325 432,359 433,325 433,332 434,332 437,346 437,336 438,335 438,343 438,352 438,354 439,325 440,331 440,337 441,348 441,332 441,324 442,344 442,320 443,335 443,332 443,349 445,354 446,353 447,353 447,348 447,346 448,349 448,332 449,354 450,341 451,341 452,335 452,354 452,360 453,344 455,327 456,358 456,328 456,321 457,348 458,357 458,341 459,322 461,325 462,360 462,322 463,332 463,329 464,351 466,328 466,332 467,358 467,355 467,329 468,349 470,344 471,348 471,346 471,337 472,334 475,358 476,337 476,342 477,347 478,354 479,339 479,338 479,329 481,331 481,336 481,357 482,323 484,359 485,336 486,327 486,324 487,327 487,326 488,327 490,321 490,341 490,331 491,322 493,341 494,328 495,338 495,345 495,348 496,339 496,335 497,346 497,322 497,351 498,351 498,349 499,325 500,348 500,343 501,330 503,357 505,338 506,322 506,341 507,337 507,343 511,346 512,346 512,328 512,332 513,341 513,322 513,343 514,325 514,357 514,359 516,327 517,325 518,343 518,333 520,325 520,356 520,322 520,359 520,328 523,345 523,329 523,334 525,326 526,322 527,338 527,326 529,340 530,348 531,320 532,323 533,351 533,341 533,329 534,347 535,357 535,354 536,358 536,351 538,349 539,352 539,357 540,323 540,358 540,359 541,347 543,321 544,328 546,326 546,324 546,341 547,332 547,332 547,325 547,356 547,330 547,337 549,322 549,342 550,338 550,346 550,346 551,323 551,341 552,336 552,351 553,328 553,346 553,325 553,347 554,333 554,323 554,343 554,347 555,334 557,347 557,358 558,328 558,335 558,336 559,320 560,323 560,356 560,325 561,351 561,326 561,326 561,350 561,356 561,353 561,340 561,341 562,328 562,354 563,337 564,348 167,392 189,390 223,380 235,366 240,361 245,382 249,369 261,369 265,389 265,371 265,381 280,386 288,397 296,376 306,381 319,392 319,384 320,391 332,387 344,394 344,366 347,399 348,399 353,387 357,366 360,381 366,388 367,380 368,364 371,380 372,386 375,373 377,382 377,366 378,381 378,400 381,382 383,398 383,387 384,385 385,365 387,399 387,363 387,385 395,372 396,377 397,398 398,397 398,386 398,399 403,390 406,390 406,380 406,377 406,376 408,378 409,394 411,376 414,366 416,373 418,400 419,365 419,387 420,390 422,385 425,382 426,377 428,394 431,380 431,399 432,362 435,398 435,386 435,371 437,378 437,397 438,367 439,398 440,361 442,368 443,381 443,379 443,375 444,393 444,375 445,378 445,378 445,377 446,363 446,361 447,380 449,369 449,361 451,361 452,383 453,387 453,363 454,388 454,362 455,373 456,383 456,390 456,376 457,384 457,380 458,362 459,398 461,384 461,365 463,364 465,364 466,376 467,392 467,369 468,372 468,360 469,369 470,393 471,399 471,390 472,364 472,368 474,394 475,379 477,366 478,398 480,394 480,374 482,390 483,394 483,391 484,377 484,379 487,368 488,389 490,368 490,388 491,362 491,390 491,377 492,366 492,393 493,394 493,387 494,368 494,390 495,371 496,373 497,364 497,397 497,363 498,365 499,373 499,365 499,376 501,384 501,397 502,377 502,363 502,373 504,390 505,372 505,367 507,397 507,366 508,362 508,372 508,398 509,395 510,389 511,367 512,367 512,368 512,361 512,389 513,395 513,360 515,370 516,373 516,398 516,384 516,398 518,378 519,367 520,370 520,376 520,388 521,388 522,395 522,389 522,389 522,379 523,382 525,390 525,373 525,377 526,367 527,374 528,360 528,380 529,369 530,371 531,392 531,382 531,392 532,367 532,379 533,380 534,362 535,371 535,378 535,376 536,365 537,389 537,398 539,383 539,392 539,380 540,389 543,368 543,386 544,387 545,380 545,387 546,392 548,387 549,367 551,368 551,367 552,363 552,399 554,369 557,387 558,383 558,360 559,392 559,386 559,384 560,385 561,388 561,367 561,376 562,376 33,422 60,440 172,417 191,428 191,420 206,422 207,421 227,401 234,430 238,400 243,403 246,412 256,413 263,437 275,410 276,403 277,429 279,436 290,406 292,421 304,429 311,415 312,427 312,420 315,401 324,409 326,426 329,421 329,424 333,428 342,415 345,425 346,437 347,414 349,440 353,404 353,422 358,411 358,401 358,433 359,428 360,414 362,410 365,416 368,412 370,436 371,409 371,418 373,428 373,416 374,439 374,424 374,407 376,428 378,423 379,416 380,430 382,413 383,425 384,407 385,410 385,423 387,426 388,436 389,435 390,407 390,435 391,426 394,433 395,408 397,413 398,423 399,420 399,440 400,418 403,418 404,412 405,409 405,433 407,431 409,406 410,404 410,439 411,421 412,409 412,439 413,407 415,430 416,411 416,408 417,429 417,416 417,408 418,434 418,436 420,411 420,410 421,401 421,402 422,424 422,417 422,431 424,407 424,432 425,429 426,415 426,429 428,405 430,438 430,429 431,407 433,412 433,414 435,402 436,420 437,427 437,407 438,424 438,430 438,402 439,424 441,419 441,417 441,408 442,419 442,428 444,425 446,434 446,413 447,433 448,429 448,437 449,426 449,435 450,418 450,402 450,420 450,403 451,422 453,401 454,431 455,438 455,408 455,415 455,418 457,409 457,432 458,428 458,438 459,414 460,413 460,412 461,409 461,413 461,415 462,424 462,409 463,425 464,430 464,413 464,429 466,413 467,413 469,402 471,407 472,423 475,417 475,406 475,405 476,404 476,405 476,420 476,414 477,403 477,417 478,414 478,429 479,432 479,439 479,428 480,433 481,404 484,423 486,402 486,417 487,435 489,436 489,432 490,425 490,405 490,432 490,417 490,422 492,400 492,412 492,412 492,423 493,429 493,413 494,408 494,417 495,423 495,413 498,432 500,440 500,419 501,416 502,403 502,407 503,432 503,423 505,403 505,432 506,401 507,407 508,405 509,408 510,419 512,431 512,400 514,406 514,415 515,422 520,425 520,423 521,400 521,438 522,431 522,434 522,428 522,415 523,422 523,406 523,408 525,418 525,438 525,427 525,436 526,413 527,423 527,434 527,440 527,409 529,425 531,412 531,401 531,411 532,401 533,440 533,406 533,431 534,401 534,433 535,439 536,416 536,440 537,413 539,436 540,431 540,425 541,439 541,404 541,433 542,436 542,416 543,422 544,411 544,401 547,418 547,403 548,430 549,400 549,404 550,411 550,412 550,438 551,417 552,413 552,428 553,420 554,415 554,435 557,423 557,436 557,421 558,416 558,439 558,409 558,410 559,404 559,436 559,421 560,414 561,422 562,401 563,414 563,434 563,440 563,432 564,430 564,438 145,480 162,473 213,448 219,445 233,441 236,477 243,474 246,447 250,467 260,445 263,471 264,456 274,476 274,455 279,453 285,458 286,441 289,473 296,452 296,449 305,473 307,471 307,443 311,460 312,447 319,455 323,475 323,460 323,441 324,479 325,455 327,450 328,464 330,451 331,453 334,474 337,458 337,443 339,445 339,459 341,459 343,449 345,449 346,480 346,465 347,468 348,455 348,448 358,479 358,457 360,457 361,476 363,466 365,461 367,450 368,472 368,452 370,467 374,477 374,452 375,466 379,479 380,472 382,471 383,457 384,444 384,456 384,450 385,469 386,474 386,443 388,445 388,441 389,456 390,457 390,466 390,453 390,465 390,441 391,464 391,457 392,441 392,480 394,477 394,462 395,477 396,476 397,456 397,442 399,461 401,447 401,455 402,450 402,475 403,463 405,476 405,445 405,440 406,476 406,476 406,449 408,462 408,454 409,474 410,455 410,457 412,466 416,442 418,466 420,458 422,459 422,460 423,465 424,441 424,480 425,452 425,454 425,476 426,469 426,470 427,465 427,446 428,462 429,479 429,462 430,474 431,477 431,478 431,472 432,441 433,475 433,464 434,461 435,443 436,443 436,478 437,467 439,477 439,458 439,467 442,464 443,444 443,457 443,472 445,455 445,445 447,467 447,442 448,450 449,476 449,465 449,479 449,476 449,478 451,441 451,462 451,468 452,478 453,454 453,472 454,473 455,468 455,441 455,459 456,475 456,472 456,445 456,454 456,464 458,458 458,442 458,457 458,447 458,466 459,469 461,460 461,444 461,460 461,478 462,473 463,454 463,458 463,452 465,457 465,474 466,447 467,477 467,468 468,443 468,473 469,442 471,461 472,459 472,449 473,456 473,459 473,441 474,467 475,449 476,458 481,441 482,460 482,453 482,457 483,445 484,443 485,477 485,453 485,463 487,445 488,475 488,451 490,478 490,470 491,448 494,470 494,454 495,468 496,462 497,472 497,467 498,449 499,468 499,464 500,461 500,459 500,460 500,456 500,470 500,462 504,464 504,443 504,469 504,472 506,456 506,449 507,442 508,443 510,442 511,445 511,463 512,449 512,459 513,468 515,448 515,466 516,468 517,477 517,471 518,457 518,470 518,459 519,448 520,450 521,458 522,443 522,454 522,479 522,448 523,467 525,447 525,469 525,459 526,478 526,455 527,466 528,444 529,445 529,472 530,465 530,440 530,449 530,454 530,468 531,440 531,453 531,451 532,478 532,477 533,467 534,463 534,455 535,441 536,462 537,453 538,446 539,463 539,463 540,479 540,471 540,450 542,444 542,460 542,457 542,449 543,447 545,440 546,472 548,457 548,458 549,472 549,474 550,449 550,457 550,446 551,463 552,452 552,477 552,468 553,464 554,454 555,458 556,466 557,454 557,463 557,461 558,449 559,441 561,459 561,471 561,444 561,443 561,466 562,454 562,440 562,444 563,463 563,474 563,467 564,454 564,463 82,513 96,492 100,518 172,500 178,494 210,518 222,509 231,494 251,519 251,506 254,518 255,516 264,518 264,510 265,485 267,486 269,503 269,494 276,500 280,503 281,503 286,483 286,493 291,487 293,497 302,513 309,516 312,506 314,511 315,499 315,490 317,482 318,506 322,506 323,515 324,500 326,496 331,494 333,516 334,498 334,506 334,520 335,482 338,514 339,487 339,494 341,514 341,512 341,517 343,499 344,488 344,490 347,502 347,492 348,520 352,505 353,480 353,505 355,505 356,504 357,502 362,482 364,492 364,515 365,493 365,484 367,511 369,515 369,495 376,497 379,505 382,518 382,514 382,502 383,495 383,504 383,503 384,513 384,501 385,518 386,503 387,487 387,500 392,513 392,502 393,503 393,503 394,485 395,483 398,503 399,514 402,491 403,515 403,481 404,498 406,502 406,503 407,513 407,515 407,519 408,520 408,497 408,501 409,501 409,511 410,497 412,505 412,495 414,498 415,484 416,519 416,505 416,500 416,481 417,481 417,494 417,508 417,496 418,490 418,511 419,516 420,500 420,515 420,513 421,481 421,510 422,509 422,499 422,519 422,509 422,493 423,502 425,496 426,494 426,517 426,509 428,502 429,491 429,489 430,493 430,490 431,483 432,517 434,491 436,492 436,513 436,516 437,490 437,505 440,488 440,489 440,518 441,514 441,517 442,503 442,500 443,509 443,510 444,509 444,510 445,498 447,519 447,481 448,513 450,486 452,483 453,487 453,500 454,498 455,508 456,515 456,485 457,503 457,504 457,486 458,517 460,483 460,511 460,483 460,482 460,511 461,506 462,490 463,487 463,519 465,485 466,497 468,487 468,504 468,508 469,516 469,483 470,489 470,514 472,490 472,490 472,497 472,493 473,500 474,489 475,484 476,482 476,511 477,485 478,486 478,480 479,517 480,502 481,506 483,510 484,486 486,495 486,485 486,503 488,496 492,513 495,502 496,485 496,494 497,480 497,481 499,490 500,513 501,502 501,495 501,516 503,489 505,508 506,513 508,511 509,512 509,505 510,504 511,508 512,495 513,508 514,519 515,520 515,507 515,510 516,505 516,489 517,495 519,486 520,485 520,483 521,499 525,489 525,510 526,495 527,487 528,489 528,490 528,514 528,492 529,491 530,481 531,514 531,487 532,491 533,514 534,508 536,519 538,519 539,520 540,515 541,507 541,518 542,481 543,489 543,496 543,486 544,497 546,509 546,519 546,488 547,511 548,511 548,518 550,500 550,497 550,484 550,514 551,510 551,480 551,518 551,505 553,493 553,497 553,518 554,491 556,495 556,493 556,511 557,514 558,500 559,484 560,514 561,486 561,513 561,500 561,514 562,497 562,495 562,493 563,496 563,506 563,502 563,515 564,488 564,481 564,501 42,557 85,533 150,535 165,539 174,536 174,550 203,550 205,534 210,545 215,539 217,545 231,559 231,521 232,557 234,546 236,540 243,553 243,535 245,534 249,522 250,551 259,550 261,530 263,556 264,558 265,558 268,531 269,552 269,541 272,532 272,548 273,525 274,543 274,536 274,551 276,559 277,559 278,547 278,549 278,544 284,522 288,557 290,533 292,524 294,560 295,531 297,536 298,558 299,539 302,557 303,557 304,521 306,551 308,520 309,534 313,543 314,523 314,539 317,530 317,557 318,530 319,521 319,560 320,531 322,556 324,540 324,536 325,551 327,521 328,552 331,553 331,560 332,533 332,551 333,530 333,555 334,533 336,553 338,528 338,528 340,556 340,556 340,527 343,550 344,545 345,533 345,542 346,538 346,550 346,540 346,541 348,552 348,546 350,556 351,534 351,556 351,554 352,551 355,531 355,521 356,537 356,537 358,553 359,556 360,522 361,538 362,555 362,538 362,531 362,547 364,552 364,539 368,529 368,533 369,522 369,530 370,544 371,540 371,542 374,533 374,538 374,555 375,546 375,548 375,536 376,532 376,554 377,536 378,550 379,524 379,537 379,547 380,547 381,545 382,550 383,527 384,526 384,553 385,543 385,540 385,544 386,548 386,559 386,551 387,555 387,553 387,543 387,525 387,539 387,542 388,548 388,553 388,531 389,540 389,553 390,558 390,525 391,520 392,521 393,538 394,551 394,549 397,555 397,530 399,530 402,523 402,522 403,537 403,528 403,532 405,547 405,536 406,555 406,551 407,536 408,549 409,534 410,542 410,539 410,560 410,532 411,541 413,555 414,545 414,556 415,531 416,548 417,528 418,538 419,535 419,551 420,558 420,525 422,526 424,521 424,532 424,527 424,545 424,536 424,526 425,533 425,551 426,540 426,530 427,541 429,548 432,540 432,555 435,554 435,556 436,546 437,557 437,532 439,532 440,528 441,539 442,553 442,551 442,554 442,543 443,536 444,552 445,550 445,546 447,528 447,554 447,546 448,543 448,521 449,559 450,552 451,529 452,530 452,549 453,537 454,523 455,529 455,546 455,543 457,559 460,543 460,520 460,557 460,527 462,537 464,554 464,542 464,539 465,536 465,543 466,552 466,560 468,560 469,520 470,537 470,555 470,539 470,549 471,538 472,529 472,546 473,524 473,556 473,521 474,539 475,528 476,550 476,539 478,544 478,540 480,559 480,551 480,532 481,545 481,535 481,557 481,550 481,557 482,554 482,525 482,527 482,524 483,531 483,531 483,545 484,534 485,527 485,533 486,557 487,522 490,529 490,548 492,536 493,523 494,524 495,534 495,549 495,531 496,552 496,549 497,535 498,530 498,523 501,544 501,559 503,524 505,553 505,546 507,542 507,538 507,547 508,536 509,553 510,555 510,536 511,545 511,523 512,525 512,556 513,559 514,532 514,537 514,543 515,525 515,529 518,528 518,552 519,537 522,551 522,538 522,530 525,531 526,557 527,537 527,537 528,556 530,547 530,555 531,556 532,527 533,560 533,548 533,539 534,537 534,545 535,526 538,558 538,559 539,531 539,559 540,541 540,532 541,557 542,540 545,530 545,531 546,542 546,541 546,553 547,539 548,552 548,552 549,524 550,522 550,522 550,557 551,541 551,536 552,540 552,538 554,534 554,559 556,537 557,532 558,533 558,544 558,554 558,524 559,554 559,532 561,553 561,534 561,551 561,548 562,528 562,558 562,559 563,530 563,548 563,534 564,547 565,523 15,571 57,597 89,574 139,560 142,571 149,576 174,581 175,596 177,594 190,598 193,587 197,591 197,564 200,563 205,570 212,588 214,565 217,572 217,585 218,580 218,569 221,582 222,566 223,588 228,584 230,590 235,591 237,561 239,562 248,581 251,584 252,576 253,567 253,594 253,582 254,586 260,597 260,560 260,579 261,579 263,581 263,568 267,579 268,594 269,584 269,590 269,571 270,575 271,578 272,574 273,573 275,566 277,567 280,560 282,576 283,579 284,597 285,597 289,582 292,600 297,596 300,582 301,591 304,597 305,591 305,598 305,584 306,593 307,561 308,593 310,570 312,575 312,578 313,572 315,592 315,593 315,570 316,577 316,580 316,597 316,566 317,564 317,586 318,575 318,561 318,570 319,590 319,575 319,592 320,575 320,585 320,587 321,563 321,589 322,575 322,575 322,563 323,566 324,597 325,569 326,580 326,596 326,564 326,565 327,591 329,571 329,590 329,595 329,575 330,597 330,569 331,598 332,564 332,592 334,569 334,567 336,595 337,569 337,583 339,596 343,594 343,597 347,590 347,561 347,580 347,597 349,581 349,575 350,596 350,575 351,590 352,567 354,594 355,585 357,563 358,561 359,573 360,590 363,564 363,563 365,594 365,566 367,566 368,596 370,564 371,566 371,573 371,568 372,581 372,570 372,578 373,591 373,588 373,594 374,593 374,596 374,587 375,573 377,589 377,592 378,571 378,572 380,585 380,581 380,594 380,578 384,581 386,568 386,598 386,572 387,571 388,569 389,589 390,572 390,587 391,562 392,572 392,599 392,585 394,565 395,569 395,572 396,598 396,590 396,597 398,594 399,563 399,563 400,564 403,599 403,573 403,560 404,567 404,587 404,564 404,581 407,587 409,577 409,593 409,566 411,586 411,579 412,564 414,569 414,565 415,576 415,598 416,591 418,586 418,581 418,599 419,596 421,589 422,572 422,592 422,592 422,588 423,591 424,580 424,589 426,593 426,573 427,591 427,596 428,566 428,563 428,581 429,563 430,568 430,589 432,587 432,563 432,571 434,582 438,568 438,596 439,580 441,590 442,564 442,591 442,584 444,585 444,595 444,580 446,596 446,593 447,597 449,583 450,569 452,586 452,567 454,589 454,584 455,565 456,583 456,564 456,593 456,566 456,574 458,564 459,575 460,571 461,561 462,587 462,570 462,577 463,584 463,591 463,575 465,568 465,596 465,594 466,595 466,566 468,569 468,571 468,561 469,598 469,582 470,593 471,562 471,570 471,595 472,587 472,564 472,580 472,570 474,564 474,593 474,597 475,576 476,588 476,569 476,592 481,581 482,571 483,563 484,594 485,566 487,592 487,573 488,574 488,590 489,587 489,599 490,569 492,598 492,596 492,560 493,595 493,592 495,580 495,563 498,563 499,562 499,581 501,563 502,580 503,570 504,586 504,581 505,583 506,582 509,584 510,592 510,578 510,577 510,589 510,578 511,561 511,577 511,565 513,582 513,576 513,585 513,561 516,594 516,577 518,585 519,579 520,572 521,575 521,583 522,561 522,599 524,585 524,586 524,585 525,562 526,565 527,596 527,562 527,580 527,575 528,599 528,579 528,563 530,592 530,590 531,571 531,596 531,594 533,584 534,588 535,577 536,569 537,575 538,590 538,563 538,587 539,577 540,572 540,584 540,595 541,574 541,597 542,594 542,560 542,592 544,573 544,573 545,569 545,574 546,579 546,600 546,583 547,586 547,581 548,576 549,586 549,564 550,592 550,565 551,575 551,595 553,564 553,567 553,560 553,596 554,584 555,589 556,566 557,562 560,570 560,563 560,575 561,579 561,577 561,565 561,590 561,583 562,591 564,567 564,587 564,589 34,601 62,609 68,613 68,617 70,616 73,630 87,601 109,639 115,617 119,602 132,636 141,633 161,618 167,610 170,637 171,604 172,624 181,603 185,626 190,615 192,636 199,638 199,620 202,616 206,612 208,615 209,633 210,606 211,622 213,624 214,621 219,635 221,600 222,624 223,605 223,633 224,619 225,608 225,639 225,602 229,627 232,628 235,636 236,600 237,602 238,634 239,622 240,629 241,632 242,606 243,605 244,622 246,620 246,637 248,632 249,617 250,620 250,631 250,631 251,615 255,622 256,610 258,606 262,604 263,605 265,640 266,630 266,627 266,636 268,634 268,617 268,632 270,635 271,622 272,630 273,620 275,636 276,632 278,629 279,629 279,614 279,612 280,634 280,613 281,609 282,618 282,602 283,626 283,611 284,621 284,637 284,601 287,617 289,638 290,616 291,631 292,614 293,629 293,632 294,603 294,620 294,640 295,604 295,629 295,625 296,600 296,623 297,627 297,609 297,638 298,624 298,624 299,629 300,627 300,634 301,622 302,618 302,612 303,623 303,619 304,621 305,613 306,636 308,606 308,639 308,633 308,627 309,604 310,615 310,600 313,613 313,607 313,615 314,634 314,618 314,629 315,611 316,609 316,633 316,630 318,622 318,632 320,621 320,611 321,614 322,630 322,633 322,605 324,605 326,611 326,632 327,633 327,627 328,637 329,608 330,631 330,622 331,612 332,631 332,610 333,606 335,632 335,634 335,618 335,640 336,611 336,608 336,637 336,604 339,629 340,639 342,608 342,608 343,626 343,634 343,611 344,614 345,610 345,607 346,624 349,632 349,612 351,617 352,627 353,621 353,619 355,639 356,619 356,617 356,602 357,638 358,625 358,624 358,617 358,636 359,638 360,607 361,601 361,637 362,622 362,608 362,611 364,636 364,618 365,615 366,618 366,627 366,609 366,605 368,632 369,603 370,632 370,633 370,635 371,623 371,639 372,640 372,606 373,630 374,639 374,616 375,601 376,616 376,621 378,617 378,602 380,638 380,640 381,613 382,606 382,624 383,607 385,602 385,628 386,638 388,611 388,609 388,608 389,636 389,612 391,623 392,638 392,614 393,622 394,600 395,619 396,628 397,623 398,613 399,619 400,607 402,639 402,620 402,612 403,632 403,636 403,610 403,613 404,601 405,619 405,612 406,607 407,618 407,605 407,608 407,623 408,619 409,628 411,637 411,637 413,601 413,607 414,639 415,623 415,615 415,624 415,631 415,611 416,608 417,616 417,610 417,635 419,629 419,602 420,608 421,627 421,635 422,634 422,635 422,613 423,637 424,615 425,618 426,610 426,607 427,636 427,606 428,614 429,611 431,639 431,602 431,622 433,622 433,633 434,619 434,623 434,619 435,606 435,609 435,615 435,632 436,631 436,628 436,608 437,624 437,633 437,611 438,620 438,635 438,634 438,627 439,618 439,636 439,632 439,613 439,617 440,630 441,627 442,616 442,631 443,623 444,631 445,635 445,640 445,626 446,609 446,626 446,605 446,637 448,631 448,634 448,625 448,633 449,606 450,636 451,625 451,629 451,614 452,613 452,604 453,629 453,606 453,605 453,601 454,626 454,635 455,619 456,639 456,634 456,612 457,636 457,632 457,626 458,630 459,630 460,620 462,622 463,627 464,635 464,613 464,616 464,634 465,623 468,619 469,633 472,608 472,613 472,614 472,637 474,615 474,635 475,608 475,631 475,618 476,615 478,604 479,604 479,604 479,636 480,627 481,617 481,639 481,609 482,638 483,603 483,638 484,601 484,635 484,601 485,608 486,631 486,600 486,631 486,601 486,623 486,636 486,628 487,604 487,624 487,624 488,604 488,635 488,635 490,606 491,625 491,613 494,628 494,610 495,623 495,636 496,605 496,629 498,631 498,633 498,638 498,637 498,625 499,620 499,626 499,624 500,630 500,626 500,603 500,636 501,636 503,639 504,615 504,625 504,633 505,627 505,614 506,623 506,602 508,613 509,637 510,613 511,622 511,639 511,609 511,617 513,605 515,634 515,608 515,639 516,605 517,626 519,602 520,613 521,634 523,630 524,601 525,621 527,617 527,622 528,619 528,612 529,622 529,633 531,617 531,607 531,609 532,614 532,629 532,639 533,607 534,617 534,627 535,637 536,617 537,640 537,621 539,625 539,609 539,630 540,628 540,625 540,603 541,623 541,634 541,621 542,619 544,612 545,619 545,605 547,602 547,634 548,604 549,628 550,603 550,615 551,639 551,602 551,622 551,640 551,603 552,627 552,623 553,601 554,614 555,608 555,603 557,638 557,636 558,627 558,603 558,608 558,610 559,626 560,620 560,601 560,631 560,618 560,630 561,619 561,619 562,636 562,614 562,632 563,623 24,644 72,660 105,650 128,646 134,654 150,669 159,651 179,669 187,653 210,644 213,649 217,644 219,647 221,664 222,668 226,641 229,663 233,649 237,652 238,640 238,645 243,644 246,650 247,647 250,649 256,656 264,649 265,662 266,642 268,641 269,653 271,648 273,651 274,646 276,661 279,656 279,653 281,650 282,655 282,650 282,664 283,644 286,652 290,650 291,663 293,650 293,642 293,664 294,650 295,647 296,661 297,649 297,662 297,644 299,659 299,654 301,661 302,644 303,654 304,653 304,656 305,666 305,657 305,665 305,675 306,645 307,650 307,652 307,666 309,649 311,647 312,667 312,667 312,663 313,644 315,668 315,652 315,655 317,654 317,660 319,660 319,645 320,651 320,665 320,666 321,648 322,671 322,659 323,648 324,649 324,642 325,645 327,660 327,664 332,649 332,651 332,671 336,665 337,654 338,645 338,646 340,641 341,660 342,656 344,661 344,651 344,660 345,667 347,647 347,654 348,654 350,654 350,656 352,653 353,642 353,662 355,651 356,649 356,646 359,670 360,658 360,664 360,658 360,666 361,667 361,661 361,653 364,665 366,655 366,661 366,665 366,662 366,656 368,647 370,663 370,642 373,653 373,644 375,664 376,671 376,644 377,662 377,663 378,664 380,652 380,650 381,647 381,646 383,652 384,660 384,675 385,641 386,664 388,650 388,671 389,672 390,646 390,656 390,674 391,655 391,664 391,664 391,662 392,645 393,656 393,661 394,642 394,668 394,657 396,669 396,642 399,647 399,667 401,662 402,657 403,667 406,653 407,656 409,673 410,661 410,642 410,645 411,646 411,669 412,650 413,646 413,662 413,641 413,662 414,670 414,643 414,653 414,644 415,660 416,644 416,658 416,648 417,672 417,670 417,657 418,657 418,652 421,663 421,653 422,641 422,661 423,661 424,646 424,646 425,648 425,678 427,657 427,648 428,648 428,640 429,648 430,647 430,652 431,672 432,653 432,645 432,663 432,660 435,663 436,654 436,665 438,653 439,663 439,640 439,640 439,667 440,668 440,652 441,645 441,649 441,641 442,669 443,657 445,656 446,641 446,673 446,656 446,660 447,657 447,653 447,656 447,648 447,659 448,661 448,649 448,658 449,670 449,645 451,657 451,662 452,672 453,668 453,655 454,657 456,666 457,656 457,660 458,657 460,673 461,664 461,655 462,657 463,648 465,676 465,661 467,645 467,644 470,664 470,657 470,644 471,658 472,647 472,669 472,656 474,669 475,667 475,642 477,640 478,660 478,663 478,651 479,673 479,658 479,677 480,657 480,643 481,647 482,673 482,674 483,661 483,652 484,647 485,675 487,646 488,643 489,656 489,652 490,650 493,650 494,669 495,649 495,647 496,656 496,652 497,673 498,653 499,645 499,654 499,666 500,661 500,648 502,668 502,659 504,655 504,671 504,665 507,674 507,641 507,641 507,659 508,656 508,662 508,662 509,676 509,655 509,652 510,667 510,647 512,643 512,652 512,651 513,669 513,643 514,645 514,646 515,640 515,661 515,652 516,644 519,664 520,665 520,648 521,673 522,643 523,650 524,659 525,675 525,670 526,643 526,665 526,651 527,642 527,665 528,661 528,645 529,658 530,650 531,640 532,670 533,649 533,642 535,652 535,662 537,648 539,665 539,657 539,658 540,657 541,652 541,645 541,645 541,660 541,647 542,644 542,661 542,649 542,652 543,641 543,655 544,673 544,673 545,650 548,645 548,676 548,640 549,640 550,657 550,649 551,644 551,658 551,663 554,644 554,657 556,662 557,660 558,674 559,661 559,652 559,647 559,646 560,674 560,668 560,655 560,658 561,644 561,664 561,660 561,662 562,664 563,676 564,651"/>
<path class="cv" d="M759.3,605.7 765.1,604.2 770.9,602.6 776.7,601.1 782.5,599.6 788.3,598.1 794.1,596.6 799.9,595.1 805.7,593.6 811.5,592.2 817.3,590.7 823.1,589.2 828.9,587.7 834.7,586.3 840.5,584.8 846.3,583.4 852.1,581.9 857.9,580.5 863.8,579.1 869.6,577.6 875.4,576.2 881.2,574.8 887.0,573.4 892.9,572.0 898.7,570.6 904.5,569.2 910.3,567.8 916.2,566.4 922.0,565.1 927.8,563.7 933.7,562.3 939.5,561.0 945.3,559.6 951.2,558.3 957.0,556.9 962.8,555.6 968.7,554.3 974.5,552.9 980.4,551.6 986.2,550.3 992.0,549.0 997.9,547.7 1003.7,546.4 1009.6,545.1 1015.4,543.8 1021.3,542.5 1027.1,541.2 1033.0,540.0 1038.8,538.7 1044.7,537.4 1050.6,536.2 1056.4,534.9 1062.3,533.7 1068.1,532.5 1074.0,531.3 1079.9,530.1 1085.8,529.0 1091.6,527.8 1097.5,526.7 1103.4,525.6 1109.3,524.5 1115.2,523.4 1121.1,522.4 1127.0,521.4 1132.9,520.4 1138.8,519.5 1144.7,518.6 1150.7,517.7 1156.6,516.8 1162.5,516.0 1168.5,515.2 1174.4,514.4 1180.3,513.6 1186.3,512.8 1192.2,512.1 1198.2,511.4 1204.1,510.8 1210.1,510.1 1216.1,509.6 1222.0,509.2 1228.0,509.0 1234.0,509.1 1240.0,509.6 1246.0,510.5 1251.8,512.1 1257.4,514.2 1262.6,516.9 1267.8,520.0 1272.8,523.3 1278.0,526.5 1283.4,529.2 1289.2,530.9 1295.2,531.0 1301.1,529.5 1306.3,526.5 1310.3,521.9"/>
</g>
<g clip-path="url(#c3)">
<g filter="url(#bl)">
<path fill="#000" fill-opacity="0.062" d="M1492,96h8v8h-8zM1492,104h8v8h-8zM1500,152h8v8h-8zM1484,160h8v8h-8zM1508,160h8v8h-8zM1516,168h40v8h-40zM1484,176h16v8h-16zM1508,176h40v8h-40zM1492,184h16v8h-16zM1532,184h16v8h-16zM1476,200h8v8h-8zM1508,200h8v8h-8zM1564,208h8v8h-8zM1468,216h8v8h-8zM1548,216h8v8h-8zM1572,216h8v8h-8zM1468,232h8v8h-8zM1564,240h8v8h-8zM1604,240h8v8h-8zM1460,248h8v8h-8zM1572,248h8v8h-8zM1604,248h8v8h-8zM1572,256h8v8h-8zM1580,264h8v8h-8zM1580,272h24v8h-24zM1580,280h16v8h-16zM1460,288h8v8h-8zM1620,296h8v8h-8zM1612,304h8v8h-8zM1596,312h16v8h-16zM1596,320h8v8h-8zM1604,328h24v8h-24zM1452,360h8v8h-8zM1628,360h8v8h-8zM1452,368h8v8h-8zM1452,376h8v8h-8zM1452,384h8v8h-8zM1636,384h8v8h-8zM1452,392h8v8h-8zM1636,392h8v8h-8zM1636,400h8v8h-8zM1636,408h8v8h-8zM1636,416h8v8h-8zM1636,440h8v8h-8zM1644,448h8v8h-8zM1660,480h8v8h-8zM1668,504h8v8h-8zM1668,512h8v8h-8zM1668,520h24v8h-24zM1692,528h8v8h-8zM1692,536h24v8h-24zM1708,544h8v8h-8zM1708,560h8v8h-8zM1716,568h8v8h-8zM1780,608h8v8h-8zM1788,616h8v8h-8zM1828,624h8v8h-8zM1444,664h8v8h-8z"/>
<path fill="#000" fill-opacity="0.125" d="M1492,160h16v8h-16zM1492,168h8v8h-8zM1508,168h8v8h-8zM1500,176h8v8h-8zM1476,184h16v8h-16zM1508,184h24v8h-24zM1476,192h40v8h-40zM1524,192h24v8h-24zM1484,200h24v8h-24zM1516,200h16v8h-16zM1476,208h48v8h-48zM1540,208h8v8h-8zM1500,216h8v8h-8zM1532,216h16v8h-16zM1556,216h16v8h-16zM1468,224h8v8h-8zM1540,224h16v8h-16zM1564,224h8v8h-8zM1564,232h8v8h-8zM1468,240h8v8h-8zM1564,248h8v8h-8zM1468,264h8v8h-8zM1572,264h8v8h-8zM1468,272h8v8h-8zM1564,272h16v8h-16zM1564,280h16v8h-16zM1596,280h16v8h-16zM1580,288h40v8h-40zM1460,296h8v8h-8zM1588,296h32v8h-32zM1596,304h16v8h-16zM1588,312h8v8h-8zM1620,336h8v8h-8zM1620,344h8v8h-8zM1628,368h8v8h-8zM1644,456h8v8h-8zM1652,472h8v8h-8zM1660,488h8v8h-8zM1444,520h8v8h-8zM1684,528h8v8h-8zM1684,536h8v8h-8zM1692,544h16v8h-16zM1700,552h8v8h-8zM1724,568h16v8h-16zM1740,584h8v8h-8zM1764,592h8v8h-8zM1772,600h8v8h-8zM1780,616h8v8h-8zM1796,616h8v8h-8zM1780,624h16v8h-16zM1804,624h8v8h-8zM1780,632h16v8h-16zM1804,632h8v8h-8zM1828,632h8v8h-8zM1780,640h16v8h-16zM1804,640h8v8h-8zM1828,640h8v8h-8zM1748,648h8v8h-8zM1660,664h8v8h-8z"/>
<path fill="#000" fill-opacity="0.188" d="M1500,168h8v8h-8zM1516,192h8v8h-8zM1532,200h16v8h-16zM1524,208h16v8h-16zM1476,216h24v8h-24zM1508,216h24v8h-24zM1500,224h16v8h-16zM1532,224h8v8h-8zM1556,224h8v8h-8zM1500,232h16v8h-16zM1476,240h16v8h-16zM1556,240h8v8h-8zM1556,248h8v8h-8zM1564,256h8v8h-8zM1564,264h8v8h-8zM1556,272h8v8h-8zM1556,280h8v8h-8zM1556,288h24v8h-24zM1580,296h8v8h-8zM1460,304h8v8h-8zM1588,304h8v8h-8zM1460,312h8v8h-8zM1460,320h8v8h-8zM1588,320h8v8h-8zM1460,328h8v8h-8zM1596,328h8v8h-8zM1460,336h8v8h-8zM1612,336h8v8h-8zM1628,376h8v8h-8zM1628,384h8v8h-8zM1452,400h8v8h-8zM1452,408h8v8h-8zM1628,408h8v8h-8zM1452,416h8v8h-8zM1628,416h8v8h-8zM1636,448h8v8h-8zM1644,464h8v8h-8zM1644,472h8v8h-8zM1660,496h8v8h-8zM1660,504h8v8h-8zM1660,520h8v8h-8zM1444,528h8v8h-8zM1668,528h16v8h-16zM1676,536h8v8h-8zM1684,544h8v8h-8zM1692,552h8v8h-8zM1700,560h8v8h-8zM1708,568h8v8h-8zM1716,576h24v8h-24zM1748,592h16v8h-16zM1748,608h8v8h-8zM1756,648h8v8h-8zM1772,648h8v8h-8zM1716,656h8v8h-8zM1644,664h16v8h-16zM1628,672h8v8h-8zM1628,680h8v8h-8zM1628,688h8v8h-8z"/>
<path fill="#000" fill-opacity="0.250" d="M1476,224h8v8h-8zM1492,224h8v8h-8zM1516,224h16v8h-16zM1476,232h24v8h-24zM1540,232h24v8h-24zM1492,240h8v8h-8zM1548,240h8v8h-8zM1468,248h24v8h-24zM1516,248h8v8h-8zM1548,248h8v8h-8zM1468,256h8v8h-8zM1540,256h24v8h-24zM1476,264h8v8h-8zM1548,264h16v8h-16zM1476,272h8v8h-8zM1468,280h8v8h-8zM1556,296h24v8h-24zM1572,304h16v8h-16zM1572,312h16v8h-16zM1580,320h8v8h-8zM1604,336h8v8h-8zM1612,344h8v8h-8zM1620,352h8v8h-8zM1612,368h16v8h-16zM1612,376h16v8h-16zM1620,384h8v8h-8zM1628,392h8v8h-8zM1628,400h8v8h-8zM1452,424h8v8h-8zM1628,424h8v8h-8zM1452,432h8v8h-8zM1452,440h8v8h-8zM1628,440h8v8h-8zM1636,456h8v8h-8zM1652,480h8v8h-8zM1652,488h8v8h-8zM1660,512h8v8h-8zM1660,528h8v8h-8zM1444,536h8v8h-8zM1668,536h8v8h-8zM1676,544h8v8h-8zM1692,560h8v8h-8zM1740,592h8v8h-8zM1748,600h8v8h-8zM1772,608h8v8h-8zM1796,624h8v8h-8zM1796,648h8v8h-8zM1732,656h8v8h-8zM1452,672h8v8h-8zM1452,680h8v8h-8zM1452,688h8v8h-8z"/>
<path fill="#000" fill-opacity="0.312" d="M1484,224h8v8h-8zM1516,232h8v8h-8zM1532,232h8v8h-8zM1500,240h24v8h-24zM1540,240h8v8h-8zM1492,248h24v8h-24zM1524,248h8v8h-8zM1540,248h8v8h-8zM1476,256h48v8h-48zM1532,256h8v8h-8zM1484,264h8v8h-8zM1540,264h8v8h-8zM1484,272h8v8h-8zM1548,272h8v8h-8zM1492,280h16v8h-16zM1548,280h8v8h-8zM1468,288h8v8h-8zM1548,288h8v8h-8zM1468,296h8v8h-8zM1548,296h8v8h-8zM1564,304h8v8h-8zM1572,320h8v8h-8zM1572,328h24v8h-24zM1596,336h8v8h-8zM1460,344h8v8h-8zM1596,344h16v8h-16zM1596,352h24v8h-24zM1588,360h40v8h-40zM1588,368h24v8h-24zM1604,376h8v8h-8zM1612,384h8v8h-8zM1628,432h8v8h-8zM1452,448h8v8h-8zM1628,448h8v8h-8zM1636,464h8v8h-8zM1644,480h8v8h-8zM1652,496h8v8h-8zM1660,536h8v8h-8zM1684,552h8v8h-8zM1684,560h8v8h-8zM1684,568h24v8h-24zM1708,576h8v8h-8zM1716,584h8v8h-8zM1732,584h8v8h-8zM1756,600h16v8h-16zM1748,616h8v8h-8zM1748,624h8v8h-8zM1796,632h8v8h-8zM1748,640h8v8h-8zM1796,640h8v8h-8zM1740,648h8v8h-8zM1764,648h8v8h-8zM1708,656h8v8h-8zM1724,656h8v8h-8z"/>
<path fill="#000" fill-opacity="0.375" d="M1524,232h8v8h-8zM1524,240h16v8h-16zM1532,248h8v8h-8zM1524,256h8v8h-8zM1492,264h24v8h-24zM1532,264h8v8h-8zM1492,272h16v8h-16zM1476,280h16v8h-16zM1540,288h8v8h-8zM1532,296h16v8h-16zM1468,304h8v8h-8zM1548,304h16v8h-16zM1468,312h8v8h-8zM1556,312h16v8h-16zM1468,320h8v8h-8zM1564,320h8v8h-8zM1564,328h8v8h-8zM1572,336h24v8h-24zM1588,344h8v8h-8zM1460,352h8v8h-8zM1588,352h8v8h-8zM1580,360h8v8h-8zM1596,376h8v8h-8zM1604,384h8v8h-8zM1620,392h8v8h-8zM1620,400h8v8h-8zM1620,408h8v8h-8zM1620,416h8v8h-8zM1452,456h8v8h-8zM1628,456h8v8h-8zM1636,472h8v8h-8zM1644,488h8v8h-8zM1652,504h8v8h-8zM1652,512h8v8h-8zM1652,520h8v8h-8zM1652,528h8v8h-8zM1444,544h8v8h-8zM1668,544h8v8h-8zM1676,552h8v8h-8zM1676,560h8v8h-8zM1676,568h8v8h-8zM1684,576h8v8h-8zM1724,584h8v8h-8zM1740,600h8v8h-8zM1740,608h8v8h-8zM1756,608h8v8h-8zM1740,616h8v8h-8zM1772,616h8v8h-8zM1772,624h8v8h-8zM1748,632h8v8h-8zM1772,632h8v8h-8zM1756,640h8v8h-8zM1772,640h8v8h-8zM1636,664h8v8h-8z"/>
<path fill="#000" fill-opacity="0.438" d="M1516,264h16v8h-16zM1508,272h40v8h-40zM1508,280h8v8h-8zM1524,280h24v8h-24zM1476,288h8v8h-8zM1492,288h16v8h-16zM1524,288h16v8h-16zM1524,296h8v8h-8zM1532,304h16v8h-16zM1476,312h8v8h-8zM1548,312h8v8h-8zM1548,320h16v8h-16zM1468,328h8v8h-8zM1556,328h8v8h-8zM1468,336h8v8h-8zM1556,336h16v8h-16zM1468,344h8v8h-8zM1556,344h16v8h-16zM1580,344h8v8h-8zM1556,352h16v8h-16zM1580,352h8v8h-8zM1460,360h8v8h-8zM1564,360h16v8h-16zM1460,368h8v8h-8zM1580,368h8v8h-8zM1460,376h8v8h-8zM1580,376h16v8h-16zM1460,384h8v8h-8zM1580,384h24v8h-24zM1460,392h8v8h-8zM1580,392h16v8h-16zM1604,392h16v8h-16zM1580,400h16v8h-16zM1596,408h8v8h-8zM1636,480h8v8h-8zM1636,488h8v8h-8zM1644,496h8v8h-8zM1644,504h8v8h-8zM1644,512h8v8h-8zM1652,536h8v8h-8zM1660,544h8v8h-8zM1444,552h8v8h-8zM1668,552h8v8h-8zM1668,560h8v8h-8zM1676,576h8v8h-8zM1692,576h8v8h-8zM1684,584h8v8h-8zM1708,584h8v8h-8zM1716,592h8v8h-8zM1732,592h8v8h-8zM1764,608h8v8h-8zM1756,616h8v8h-8zM1740,624h8v8h-8zM1756,624h8v8h-8zM1740,632h8v8h-8zM1756,632h8v8h-8zM1740,640h8v8h-8zM1620,672h8v8h-8zM1620,680h8v8h-8zM1620,688h8v8h-8z"/>
<path fill="#000" fill-opacity="0.500" d="M1516,280h8v8h-8zM1484,288h8v8h-8zM1508,288h16v8h-16zM1476,296h8v8h-8zM1492,296h16v8h-16zM1516,296h8v8h-8zM1476,304h8v8h-8zM1508,304h24v8h-24zM1484,312h16v8h-16zM1540,312h8v8h-8zM1476,320h8v8h-8zM1540,320h8v8h-8zM1516,328h8v8h-8zM1540,328h16v8h-16zM1500,336h16v8h-16zM1548,336h8v8h-8zM1548,344h8v8h-8zM1572,344h8v8h-8zM1548,352h8v8h-8zM1572,352h8v8h-8zM1556,360h8v8h-8zM1564,368h16v8h-16zM1572,376h8v8h-8zM1572,384h8v8h-8zM1572,392h8v8h-8zM1596,392h8v8h-8zM1460,400h8v8h-8zM1572,400h8v8h-8zM1596,400h24v8h-24zM1588,408h8v8h-8zM1604,408h16v8h-16zM1596,416h24v8h-24zM1620,424h8v8h-8zM1620,432h8v8h-8zM1620,440h8v8h-8zM1452,464h8v8h-8zM1628,464h8v8h-8zM1452,472h8v8h-8zM1628,472h8v8h-8zM1636,496h8v8h-8zM1644,520h8v8h-8zM1652,544h8v8h-8zM1660,552h8v8h-8zM1444,560h8v8h-8zM1668,568h8v8h-8zM1700,576h8v8h-8zM1724,592h8v8h-8zM1716,600h16v8h-16zM1716,608h8v8h-8zM1764,616h8v8h-8zM1764,624h8v8h-8zM1764,632h8v8h-8zM1764,640h8v8h-8zM1676,656h32v8h-32z"/>
<path fill="#000" fill-opacity="0.562" d="M1484,296h8v8h-8zM1508,296h8v8h-8zM1484,304h24v8h-24zM1500,312h40v8h-40zM1484,320h16v8h-16zM1508,320h32v8h-32zM1476,328h8v8h-8zM1492,328h24v8h-24zM1524,328h16v8h-16zM1476,336h24v8h-24zM1516,336h32v8h-32zM1476,344h48v8h-48zM1532,344h16v8h-16zM1468,352h8v8h-8zM1500,352h16v8h-16zM1540,352h8v8h-8zM1468,360h8v8h-8zM1548,360h8v8h-8zM1468,368h8v8h-8zM1556,368h8v8h-8zM1564,376h8v8h-8zM1564,384h8v8h-8zM1460,408h8v8h-8zM1580,408h8v8h-8zM1460,416h8v8h-8zM1588,416h8v8h-8zM1460,424h8v8h-8zM1596,424h24v8h-24zM1604,432h16v8h-16zM1620,448h8v8h-8zM1620,456h8v8h-8zM1620,464h8v8h-8zM1452,480h8v8h-8zM1628,480h8v8h-8zM1452,488h8v8h-8zM1628,488h8v8h-8zM1636,504h8v8h-8zM1636,512h8v8h-8zM1636,520h8v8h-8zM1644,528h8v8h-8zM1644,536h8v8h-8zM1660,560h8v8h-8zM1444,568h8v8h-8zM1668,576h8v8h-8zM1676,584h8v8h-8zM1692,584h16v8h-16zM1684,592h8v8h-8zM1708,592h8v8h-8zM1732,600h8v8h-8zM1724,608h16v8h-16zM1716,616h8v8h-8zM1716,648h24v8h-24zM1460,672h8v8h-8zM1604,672h16v8h-16zM1460,680h8v8h-8zM1604,680h16v8h-16zM1460,688h8v8h-8zM1604,688h16v8h-16z"/>
<path fill="#000" fill-opacity="0.625" d="M1500,320h8v8h-8zM1484,328h8v8h-8zM1524,344h8v8h-8zM1476,352h24v8h-24zM1516,352h24v8h-24zM1476,360h8v8h-8zM1500,360h24v8h-24zM1540,360h8v8h-8zM1540,368h16v8h-16zM1468,376h8v8h-8zM1540,376h24v8h-24zM1468,384h8v8h-8zM1532,384h32v8h-32zM1468,392h8v8h-8zM1540,392h8v8h-8zM1564,392h8v8h-8zM1564,400h8v8h-8zM1564,408h16v8h-16zM1572,416h16v8h-16zM1572,424h8v8h-8zM1588,424h8v8h-8zM1460,432h8v8h-8zM1572,432h8v8h-8zM1596,432h8v8h-8zM1460,440h8v8h-8zM1604,440h16v8h-16zM1460,448h8v8h-8zM1612,448h8v8h-8zM1620,472h8v8h-8zM1452,496h8v8h-8zM1628,496h8v8h-8zM1628,504h8v8h-8zM1644,544h8v8h-8zM1652,552h8v8h-8zM1652,560h8v8h-8zM1660,568h8v8h-8zM1660,576h8v8h-8zM1676,592h8v8h-8zM1692,592h16v8h-16zM1708,600h8v8h-8zM1708,608h8v8h-8zM1724,616h16v8h-16zM1716,624h24v8h-24zM1716,632h8v8h-8zM1732,632h8v8h-8zM1732,640h8v8h-8zM1708,648h8v8h-8zM1668,656h8v8h-8zM1628,664h8v8h-8zM1572,672h32v8h-32zM1572,680h32v8h-32zM1572,688h32v8h-32z"/>
<path fill="#000" fill-opacity="0.688" d="M1484,360h16v8h-16zM1524,360h16v8h-16zM1476,368h48v8h-48zM1532,368h8v8h-8zM1476,376h64v8h-64zM1476,384h56v8h-56zM1476,392h16v8h-16zM1508,392h32v8h-32zM1548,392h16v8h-16zM1468,400h8v8h-8zM1532,400h32v8h-32zM1468,408h8v8h-8zM1548,408h16v8h-16zM1468,416h8v8h-8zM1556,416h16v8h-16zM1468,424h8v8h-8zM1564,424h8v8h-8zM1580,424h8v8h-8zM1564,432h8v8h-8zM1580,432h16v8h-16zM1564,440h40v8h-40zM1572,448h40v8h-40zM1460,456h8v8h-8zM1580,456h16v8h-16zM1604,456h16v8h-16zM1612,464h8v8h-8zM1620,480h8v8h-8zM1452,504h8v8h-8zM1452,512h8v8h-8zM1628,512h8v8h-8zM1636,528h8v8h-8zM1636,536h8v8h-8zM1636,544h8v8h-8zM1644,552h8v8h-8zM1644,560h8v8h-8zM1644,568h16v8h-16zM1444,576h8v8h-8zM1652,576h8v8h-8zM1660,584h16v8h-16zM1684,600h24v8h-24zM1708,616h8v8h-8zM1708,624h8v8h-8zM1724,632h8v8h-8zM1716,640h16v8h-16zM1660,656h8v8h-8zM1468,672h8v8h-8zM1564,672h8v8h-8zM1468,680h8v8h-8zM1564,680h8v8h-8zM1468,688h8v8h-8zM1564,688h8v8h-8z"/>
<path fill="#000" fill-opacity="0.750" d="M1524,368h8v8h-8zM1492,392h16v8h-16zM1476,400h56v8h-56zM1476,408h8v8h-8zM1532,408h16v8h-16zM1476,416h8v8h-8zM1540,416h16v8h-16zM1548,424h16v8h-16zM1468,432h8v8h-8zM1548,432h16v8h-16zM1468,440h8v8h-8zM1548,440h16v8h-16zM1468,448h8v8h-8zM1556,448h16v8h-16zM1572,456h8v8h-8zM1596,456h8v8h-8zM1460,464h8v8h-8zM1580,464h32v8h-32zM1580,472h16v8h-16zM1612,472h8v8h-8zM1620,488h8v8h-8zM1620,496h8v8h-8zM1452,520h8v8h-8zM1628,520h8v8h-8zM1636,552h8v8h-8zM1644,576h8v8h-8zM1444,584h8v8h-8zM1652,584h8v8h-8zM1660,592h16v8h-16zM1676,600h8v8h-8zM1684,608h24v8h-24zM1700,616h8v8h-8zM1708,632h8v8h-8zM1708,640h8v8h-8zM1684,648h24v8h-24zM1444,656h8v8h-8zM1652,656h8v8h-8zM1452,664h8v8h-8zM1556,672h8v8h-8zM1556,680h8v8h-8zM1556,688h8v8h-8z"/>
<path fill="#000" fill-opacity="0.812" d="M1484,408h48v8h-48zM1484,416h56v8h-56zM1476,424h72v8h-72zM1476,432h8v8h-8zM1500,432h48v8h-48zM1476,440h8v8h-8zM1500,440h48v8h-48zM1476,448h8v8h-8zM1508,448h8v8h-8zM1540,448h16v8h-16zM1468,456h8v8h-8zM1548,456h24v8h-24zM1548,464h32v8h-32zM1460,472h8v8h-8zM1556,472h24v8h-24zM1596,472h16v8h-16zM1460,480h8v8h-8zM1580,480h40v8h-40zM1460,488h8v8h-8zM1588,488h32v8h-32zM1596,496h24v8h-24zM1620,504h8v8h-8zM1620,512h8v8h-8zM1452,528h8v8h-8zM1628,528h8v8h-8zM1628,536h8v8h-8zM1636,560h8v8h-8zM1636,568h8v8h-8zM1644,584h8v8h-8zM1444,592h8v8h-8zM1652,592h8v8h-8zM1668,600h8v8h-8zM1676,608h8v8h-8zM1684,616h16v8h-16zM1684,624h24v8h-24zM1684,632h24v8h-24zM1684,640h24v8h-24zM1668,648h16v8h-16zM1644,656h8v8h-8zM1620,664h8v8h-8zM1476,672h8v8h-8zM1492,672h24v8h-24zM1532,672h24v8h-24zM1476,680h8v8h-8zM1492,680h24v8h-24zM1532,680h24v8h-24zM1476,688h8v8h-8zM1492,688h24v8h-24zM1532,688h24v8h-24z"/>
<path fill="#000" fill-opacity="0.875" d="M1484,432h16v8h-16zM1484,440h16v8h-16zM1484,448h24v8h-24zM1516,448h24v8h-24zM1476,456h72v8h-72zM1468,464h32v8h-32zM1524,464h24v8h-24zM1468,472h16v8h-16zM1540,472h16v8h-16zM1468,480h8v8h-8zM1548,480h32v8h-32zM1468,488h8v8h-8zM1556,488h32v8h-32zM1460,496h8v8h-8zM1572,496h24v8h-24zM1460,504h8v8h-8zM1580,504h40v8h-40zM1604,512h16v8h-16zM1612,520h16v8h-16zM1620,528h8v8h-8zM1452,536h8v8h-8zM1452,544h8v8h-8zM1628,544h8v8h-8zM1628,552h8v8h-8zM1636,576h8v8h-8zM1636,584h8v8h-8zM1644,592h8v8h-8zM1444,600h8v8h-8zM1652,600h16v8h-16zM1660,608h16v8h-16zM1668,616h16v8h-16zM1668,624h16v8h-16zM1668,632h16v8h-16zM1668,640h16v8h-16zM1652,648h16v8h-16zM1636,656h8v8h-8zM1460,664h8v8h-8zM1612,664h8v8h-8zM1484,672h8v8h-8zM1516,672h16v8h-16zM1484,680h8v8h-8zM1516,680h16v8h-16zM1484,688h8v8h-8zM1516,688h16v8h-16z"/>
<path fill="#000" fill-opacity="0.938" d="M1500,464h24v8h-24zM1484,472h56v8h-56zM1476,480h72v8h-72zM1476,488h80v8h-80zM1468,496h104v8h-104zM1468,504h8v8h-8zM1532,504h48v8h-48zM1460,512h16v8h-16zM1548,512h56v8h-56zM1460,520h16v8h-16zM1556,520h56v8h-56zM1460,528h8v8h-8zM1572,528h48v8h-48zM1460,536h8v8h-8zM1596,536h32v8h-32zM1620,544h8v8h-8zM1452,552h8v8h-8zM1620,552h8v8h-8zM1452,560h8v8h-8zM1628,560h8v8h-8zM1452,568h8v8h-8zM1628,568h8v8h-8zM1628,576h8v8h-8zM1636,592h8v8h-8zM1636,600h16v8h-16zM1444,608h8v8h-8zM1644,608h16v8h-16zM1444,616h8v8h-8zM1644,616h24v8h-24zM1444,624h8v8h-8zM1644,624h24v8h-24zM1444,632h8v8h-8zM1644,632h24v8h-24zM1444,640h8v8h-8zM1644,640h24v8h-24zM1444,648h8v8h-8zM1644,648h8v8h-8zM1628,656h8v8h-8zM1468,664h8v8h-8zM1556,664h56v8h-56z"/>
<path fill="#000" fill-opacity="1.000" d="M1476,504h56v8h-56zM1476,512h72v8h-72zM1476,520h80v8h-80zM1468,528h104v8h-104zM1468,536h128v8h-128zM1460,544h160v8h-160zM1460,552h160v8h-160zM1460,560h168v8h-168zM1460,568h168v8h-168zM1452,576h176v8h-176zM1452,584h184v8h-184zM1452,592h184v8h-184zM1452,600h184v8h-184zM1452,608h192v8h-192zM1452,616h192v8h-192zM1452,624h192v8h-192zM1452,632h192v8h-192zM1452,640h192v8h-192zM1452,648h192v8h-192zM1452,656h176v8h-176zM1476,664h80v8h-80z"/>
</g>
<polyline class="d" fill="none" stroke="none" marker-start="url(#m)" marker-mid="url(#m)" marker-end="url(#m)" transform="translate(1420.4,0.0)" points="43,34 43,38 46,33 47,36 51,40 59,35 60,36 66,36 73,37 73,34 75,38 77,35 80,40 81,33 82,38 87,35 100,33 102,37 102,37 103,38 113,33 120,38 126,34 130,37 138,35 144,40 155,33 155,35 169,35 170,34 175,38 181,33 195,39 206,37 212,32 226,32 241,37 296,34 338,33 361,39 438,36 27,70 32,67 33,59 33,50 38,42 39,78 41,61 41,67 46,72 46,54 46,54 47,65 48,51 49,54 50,43 52,73 52,71 53,45 54,77 55,67 55,74 57,40 57,65 58,73 59,54 59,47 60,73 61,58 62,61 62,67 63,50 63,70 64,71 65,76 66,78 66,71 66,43 67,71 67,69 68,51 68,74 69,44 71,75 73,53 75,47 75,69 79,49 80,73 80,43 82,49 82,64 82,72 83,58 84,48 85,64 85,65 86,76 88,52 88,70 89,61 89,74 89,59 91,80 93,78 93,56 93,61 94,71 95,59 95,72 95,76 95,41 96,72 96,63 97,49 97,53 97,51 97,79 99,63 99,78 101,58 101,78 101,40 103,64 108,77 108,50 108,75 109,68 110,59 112,68 112,60 114,47 115,52 115,58 116,47 117,48 117,65 118,50 118,76 118,42 119,75 120,53 120,68 121,56 122,52 123,48 124,41 124,53 125,48 126,48 126,73 129,46 129,68 130,50 132,49 132,59 133,62 133,66 134,63 134,66 138,75 140,52 141,50 144,67 145,42 146,74 147,49 148,74 151,67 156,77 156,64 157,77 158,53 159,59 159,59 159,64 160,63 160,49 161,46 164,53 168,79 168,58 169,55 169,71 169,72 169,68 170,68 173,51 173,63 174,73 174,49 176,66 176,61 177,45 179,52 179,44 181,65 182,52 182,54 183,64 184,74 187,65 187,59 188,77 189,71 191,62 192,51 193,50 195,42 196,74 196,55 200,66 200,74 201,61 202,62 207,61 207,78 209,55 211,72 212,55 213,68 214,60 214,49 214,62 217,54 220,67 223,67 224,58 227,41 228,65 229,62 237,74 243,70 244,47 245,73 245,40 247,69 253,41 254,59 255,67 255,55 260,47 264,61 266,80 266,43 268,71 268,58 276,78 277,51 281,41 289,47 298,71 302,65 308,74 315,80 328,47 353,55 358,53 364,50 414,61 511,75 26,107 30,101 30,113 30,86 33,96 34,96 35,117 38,88 38,88 41,116 42,83 43,95 45,94 46,109 47,105 50,91 51,81 52,91 52,97 53,83 54,94 54,92 57,112 59,117 59,120 59,107 60,103 61,95 61,105 61,80 62,106 62,118 63,95 63,99 63,115 64,82 65,120 67,103 67,103 67,96 69,87 70,83 70,103 71,115 71,99 72,97 72,115 74,81 74,111 74,103 76,112 77,108 77,119 78,110 81,93 82,106 82,107 84,119 84,104 84,90 86,94 87,107 88,83 88,88 88,97 88,118 89,113 89,104 91,95 91,109 91,102 91,93 92,111 95,108 96,86 96,119 97,118 97,92 98,108 98,87 98,117 101,85 102,112 102,80 104,93 104,103 104,89 105,99 108,116 108,94 109,112 109,106 110,101 111,86 111,98 114,118 114,115 115,111 115,82 118,104 119,100 121,92 121,108 121,91 123,87 124,119 124,109 124,112 125,92 125,97 125,114 126,83 128,109 129,100 129,93 130,104 130,104 130,106 131,115 131,120 131,83 132,107 132,102 135,104 136,81 138,120 139,92 140,116 142,93 146,90 146,93 147,103 149,84 151,90 151,86 152,87 153,90 153,115 153,88 154,110 156,107 157,80 158,108 160,82 160,98 160,99 160,92 161,101 162,120 163,102 163,112 163,109 165,96 166,92 166,117 166,84 167,85 170,113 172,95 173,109 173,85 173,110 177,116 179,118 181,81 182,92 182,113 183,99 183,86 184,107 185,96 185,83 187,106 187,82 188,104 191,88 192,105 193,98 193,91 194,85 196,109 197,95 199,86 199,88 199,119 200,90 202,93 203,104 206,110 210,82 211,99 213,118 215,87 220,111 222,114 224,107 226,81 229,88 234,113 237,87 237,95 246,102 247,107 251,105 252,107 252,115 254,96 256,100 265,119 266,96 267,96 267,113 271,112 274,109 277,100 282,83 286,94 290,86 295,98 298,91 308,98 313,105 314,107 315,95 326,116 326,120 330,111 334,104 353,98 364,81 398,103 409,114 428,95 439,93 567,100 25,159 25,126 29,155 30,131 31,128 33,143 43,152 44,126 46,144 50,134 50,123 51,122 51,158 51,157 51,130 52,146 52,160 53,125 53,142 55,155 55,151 56,145 56,130 59,128 59,136 61,143 61,155 62,133 64,129 64,124 64,120 65,140 65,138 65,140 66,153 66,150 67,129 68,144 68,143 69,123 69,155 71,144 71,152 71,159 72,150 73,132 73,142 76,141 76,127 76,128 76,123 77,127 77,127 77,136 77,146 79,158 80,128 80,125 80,153 81,145 82,153 82,121 82,132 83,136 84,139 84,132 84,145 85,142 85,155 87,139 87,128 87,142 88,157 91,132 91,120 91,147 91,140 92,129 92,153 92,125 93,122 94,152 95,153 97,135 97,142 97,131 97,121 97,130 100,151 101,153 101,122 102,133 103,122 104,126 104,138 105,139 105,147 105,143 106,150 106,154 107,143 108,120 109,126 109,138 111,142 112,144 114,131 114,150 115,155 117,147 118,155 120,129 120,144 121,131 121,155 122,147 122,140 122,128 123,132 123,152 124,159 124,158 125,135 128,142 129,142 129,142 130,132 132,134 133,149 133,141 134,129 134,144 137,154 137,139 138,139 140,130 142,132 142,159 142,156 146,126 147,159 147,148 148,133 150,160 150,151 150,149 150,133 152,126 155,154 155,147 158,143 158,148 159,143 161,128 163,142 165,125 167,151 168,152 169,144 170,136 170,149 171,134 171,128 173,140 174,156 175,144 176,160 176,130 177,128 179,124 181,142 184,132 186,136 191,149 191,158 192,122 193,126 195,148 195,138 195,134 197,128 197,122 197,152 200,125 201,133 202,124 204,129 205,135 206,148 209,159 209,148 209,132 210,122 210,156 211,150 212,152 213,133 213,136 214,156 215,130 221,158 225,145 228,155 233,147 236,144 237,137 240,128 240,141 243,145 244,144 245,121 246,148 253,158 259,130 264,130 265,154 265,139 266,127 269,131 270,128 271,127 273,157 273,147 277,135 286,126 295,148 303,148 303,130 310,146 316,150 320,139 324,152 345,143 352,153 357,156 363,132 374,160 378,144 387,124 495,151 500,139 558,134 32,176 33,174 35,192 35,187 40,195 41,171 41,181 41,160 42,167 43,181 43,186 47,177 48,176 49,194 50,166 51,169 52,182 52,189 53,196 53,175 53,171 54,177 55,181 56,162 56,190 57,200 58,165 58,173 59,182 59,162 59,180 60,194 60,187 60,166 61,169 62,171 63,195 64,187 64,190 65,176 65,200 66,169 66,198 67,187 67,188 68,182 68,181 71,164 71,192 71,187 72,196 72,197 72,174 75,181 75,178 76,162 77,166 77,166 78,170 78,196 79,171 80,171 86,194 86,182 86,179 87,178 88,163 89,169 89,172 89,191 92,178 92,180 92,183 92,184 93,174 94,161 95,161 95,194 95,176 96,178 96,160 96,168 97,162 97,170 99,183 99,165 100,180 100,170 101,168 102,168 103,160 105,200 106,173 107,161 107,177 107,190 109,170 109,170 109,178 110,168 110,194 111,194 112,200 112,182 113,163 114,192 114,166 115,179 115,161 116,199 119,163 120,161 120,179 120,189 121,198 122,174 122,188 123,185 123,195 123,164 124,197 125,164 126,172 126,200 126,181 127,168 132,192 133,177 133,182 133,167 134,181 134,191 136,168 136,177 136,189 137,196 137,178 138,186 139,192 139,178 140,188 140,194 141,187 141,189 141,190 144,163 144,184 145,186 145,188 145,197 147,195 147,163 148,186 149,172 150,173 150,189 151,178 152,181 153,200 155,180 156,176 156,185 158,164 158,179 161,190 162,189 162,161 162,167 162,199 163,199 163,169 163,175 167,175 168,172 169,188 169,164 170,184 173,189 173,187 174,170 175,167 176,186 176,171 178,180 178,167 178,161 180,181 181,163 182,178 182,182 182,167 184,196 184,180 186,169 188,177 188,179 190,189 191,183 198,189 199,186 199,189 199,186 199,190 200,174 201,169 203,167 205,188 209,197 209,189 210,165 213,193 214,184 218,194 221,198 224,198 225,164 225,163 226,176 226,184 227,195 229,175 229,172 232,177 233,171 234,191 236,165 236,197 237,182 237,173 238,169 238,199 239,190 239,173 241,173 243,177 244,179 247,188 249,192 249,167 251,182 253,192 257,164 258,200 259,167 261,185 267,183 270,199 272,182 275,163 277,198 278,195 280,177 286,165 286,179 287,175 293,198 295,172 305,166 307,198 312,174 312,173 319,200 320,190 324,183 327,173 329,186 347,161 372,191 381,171 398,182 449,182 473,188 505,170 507,192 523,165 527,189 561,165 24,206 28,204 28,235 30,203 31,240 31,238 32,216 32,207 33,229 35,240 36,221 37,211 39,237 39,220 40,209 41,224 41,206 42,220 42,229 42,203 43,232 44,222 45,213 45,216 45,222 47,228 48,227 48,239 50,222 50,215 52,215 52,208 53,201 54,219 54,230 55,239 58,205 58,237 59,237 60,210 61,217 61,215 61,230 63,227 63,232 63,213 64,223 64,201 66,209 67,238 68,203 69,220 69,233 69,212 69,204 69,232 72,209 72,218 72,205 73,237 73,230 74,215 75,225 75,209 77,218 77,204 77,227 77,219 78,230 79,212 79,231 80,219 81,222 81,236 82,227 82,221 82,224 83,211 83,207 85,228 86,224 86,207 86,221 86,226 87,203 87,231 88,205 89,238 91,218 91,202 91,232 92,234 92,229 93,239 95,231 95,227 96,225 99,221 99,222 99,202 100,233 100,211 101,224 101,215 101,227 101,215 102,202 103,212 103,230 104,234 105,236 105,213 105,227 105,217 107,214 109,216 110,202 110,220 111,227 113,236 114,205 115,234 115,212 115,210 115,221 116,236 117,235 117,213 117,208 118,227 119,231 119,221 120,202 121,212 121,226 122,202 123,215 123,211 124,207 124,234 124,221 125,224 126,210 127,205 127,216 128,216 129,217 130,217 130,215 130,205 133,238 134,210 134,236 135,211 135,222 137,219 137,216 137,202 137,223 137,215 137,237 138,235 139,230 139,217 139,234 140,212 140,207 140,229 141,227 142,227 142,228 143,239 143,201 144,203 144,210 145,210 146,220 149,214 149,233 149,213 149,210 150,203 153,219 155,240 156,224 158,218 158,235 158,220 158,234 159,210 160,206 162,217 162,218 163,210 163,233 164,225 164,201 164,227 165,218 165,226 166,204 168,225 168,219 168,205 170,212 171,213 173,201 174,223 174,205 175,210 175,221 175,209 176,227 176,231 177,232 177,232 179,236 180,235 180,226 180,216 180,211 183,240 183,230 186,208 186,227 186,226 186,235 186,229 187,208 187,225 187,204 189,218 190,220 190,227 190,220 191,211 192,208 192,223 192,218 193,223 193,231 194,218 195,203 196,201 196,211 196,240 196,223 197,212 198,226 198,202 199,225 199,201 200,230 201,214 201,205 203,207 204,236 204,239 204,205 205,227 206,218 208,225 214,228 217,206 217,223 218,212 219,237 220,218 220,231 220,240 223,208 226,238 227,207 228,231 229,214 230,211 231,228 232,222 233,231 235,239 236,232 239,205 246,238 246,211 246,216 246,208 247,227 248,221 248,228 250,230 250,226 251,232 254,203 259,221 259,229 260,215 263,229 265,204 268,207 270,223 271,204 271,238 273,203 276,225 276,232 276,206 277,233 282,232 284,204 286,204 289,224 290,201 290,232 292,206 293,219 306,239 310,201 321,221 321,231 333,214 334,235 336,209 351,229 361,234 368,226 409,204 411,216 413,210 423,216 437,235 438,234 441,230 451,226 474,210 489,211 515,220 26,257 27,255 31,245 33,251 34,257 34,244 34,247 35,244 37,273 38,249 38,278 39,273 40,258 40,250 40,254 41,258 42,271 42,279 42,242 42,248 42,247 43,250 43,257 43,262 43,266 44,273 44,244 45,243 45,276 45,277 46,258 46,269 46,275 47,255 47,260 47,254 48,265 48,269 50,240 51,259 52,267 53,273 53,245 54,243 54,258 56,263 57,271 60,241 60,276 61,271 61,273 61,241 62,271 63,252 63,269 64,264 64,263 65,243 65,246 65,268 66,258 67,276 68,267 69,274 69,266 70,276 70,255 71,268 72,254 73,273 74,250 75,246 76,265 76,270 76,259 77,272 77,262 79,247 79,241 80,270 81,255 81,243 82,259 83,245 84,271 85,269 85,247 85,271 87,242 87,250 87,260 91,256 91,249 92,268 92,263 93,241 93,262 95,258 95,241 96,243 96,256 97,271 97,247 98,269 99,264 101,267 101,254 102,256 102,261 103,275 104,243 104,242 105,275 105,273 105,258 107,268 108,273 109,271 110,265 110,245 111,244 111,257 113,254 114,250 114,260 115,269 115,271 116,270 116,245 116,259 117,280 118,254 119,268 119,260 120,265 122,273 122,254 123,264 123,270 125,273 125,265 125,271 127,271 129,272 130,256 130,267 130,242 131,262 131,264 132,268 132,279 133,275 135,258 135,276 136,247 136,247 137,248 138,248 139,266 139,249 140,248 141,264 141,266 141,279 141,266 142,245 144,278 145,249 145,256 145,242 145,255 146,262 149,262 149,254 150,268 150,256 152,276 152,263 152,274 154,255 154,242 154,255 154,253 155,279 155,252 155,256 156,270 157,255 157,242 157,277 158,271 158,269 158,247 159,254 159,272 162,258 162,273 162,264 162,271 163,263 163,279 164,279 165,242 165,266 165,253 166,244 166,272 166,250 167,279 168,254 168,249 170,278 172,268 172,240 172,271 173,241 173,276 174,249 180,274 180,256 180,240 180,279 181,249 181,263 183,250 184,268 186,266 187,260 188,258 188,261 189,248 189,246 190,269 190,250 190,273 191,268 191,255 193,280 193,266 193,251 194,250 196,266 197,279 197,243 198,277 198,277 198,279 198,275 198,243 199,241 199,242 202,268 202,246 202,263 202,258 203,245 205,272 207,256 207,244 207,255 207,266 210,241 210,280 211,267 212,272 214,274 214,264 215,247 215,258 216,273 216,256 217,277 217,270 218,256 218,242 220,265 220,276 221,252 223,245 225,277 226,256 226,259 227,243 233,269 233,273 234,279 234,278 234,254 237,245 237,247 238,274 239,278 240,274 244,254 244,254 245,251 246,263 246,262 247,279 247,268 251,263 252,246 252,253 253,241 255,242 259,261 259,254 263,243 263,276 265,264 268,270 268,270 269,276 269,257 270,266 271,280 271,279 274,249 279,267 280,276 282,259 283,255 283,269 289,274 290,259 293,248 294,254 295,245 296,260 298,255 304,262 310,244 315,248 317,273 320,245 326,268 329,262 340,260 346,244 347,250 347,276 350,248 352,261 353,258 363,260 367,241 368,274 371,245 375,264 376,252 402,250 412,248 539,250 557,265 558,248 22,298 26,302 30,282 30,284 30,304 33,302 33,318 34,309 35,285 35,299 36,287 37,310 37,282 38,286 41,285 41,310 42,308 43,288 43,306 44,296 44,296 45,311 47,315 47,283 48,282 48,308 48,309 49,287 49,296 51,311 51,291 51,305 51,307 51,292 52,297 53,285 54,290 54,302 55,319 55,311 56,300 56,294 57,304 58,317 58,295 59,296 60,316 60,302 61,296 62,282 64,320 65,299 66,285 66,314 67,284 68,311 69,293 70,306 70,305 71,284 72,310 72,281 73,311 73,297 74,291 75,317 76,288 78,309 79,291 79,306 80,316 81,284 81,310 82,309 83,293 83,314 84,317 85,315 85,295 85,313 85,298 86,298 86,283 87,290 87,294 88,311 89,290 90,315 90,315 90,309 92,287 93,307 94,297 94,319 94,303 94,308 96,302 96,281 96,281 97,288 98,308 98,287 99,312 99,313 101,286 101,307 102,314 104,310 104,314 105,302 106,292 107,281 107,296 108,305 108,306 110,299 110,285 111,308 111,294 112,289 113,290 115,319 115,315 115,302 115,313 115,317 116,307 118,293 118,282 119,319 119,287 120,304 120,301 120,301 120,290 122,315 123,293 123,302 125,302 125,304 125,316 125,282 127,281 127,312 127,292 128,294 129,282 130,316 130,284 131,299 132,317 132,298 133,291 136,302 137,305 137,280 138,293 139,281 139,302 139,315 139,315 140,287 141,283 141,311 142,309 143,309 144,320 144,317 145,308 145,298 145,294 147,316 148,291 149,295 150,311 153,302 154,310 154,302 154,318 154,293 156,294 156,302 156,304 157,284 157,299 158,315 159,299 159,297 161,281 162,295 162,301 163,307 165,293 166,290 166,309 166,293 168,299 170,283 170,297 170,287 170,308 172,314 175,319 176,307 177,298 177,304 177,295 177,303 177,318 178,308 178,309 178,299 180,280 180,304 181,299 182,281 182,287 182,283 184,312 184,313 185,303 185,304 187,312 189,313 189,283 190,307 190,297 191,295 191,295 191,283 192,290 196,303 197,281 197,301 200,319 200,293 200,319 201,315 202,290 205,299 206,320 206,316 207,293 208,310 209,302 210,285 211,290 211,307 212,282 214,319 215,291 216,284 218,295 221,295 221,316 221,311 223,309 224,294 224,312 225,281 229,319 230,314 230,294 231,299 231,281 232,314 233,317 233,291 235,291 238,287 238,319 239,282 240,300 240,319 241,312 243,315 244,310 246,296 249,293 249,304 251,312 252,300 252,320 252,287 253,300 253,305 254,313 256,295 256,298 262,285 266,306 267,319 267,312 267,297 268,308 270,314 271,304 273,296 273,316 273,311 277,293 278,284 280,282 282,312 282,305 286,282 288,315 295,305 296,312 298,301 301,316 304,293 305,309 312,291 312,309 322,306 325,294 333,310 333,295 334,320 335,298 336,285 337,309 338,285 345,320 347,288 350,291 355,298 361,301 382,287 384,300 394,287 407,283 417,315 438,309 438,281 438,299 445,297 447,301 509,291 516,307 547,292 558,308 569,296 29,350 31,324 32,326 32,330 33,351 34,360 37,328 37,345 39,337 42,330 43,346 44,342 45,343 47,325 47,341 48,333 49,342 50,337 50,355 50,326 51,322 51,353 51,323 52,324 52,331 53,339 55,339 56,352 56,344 57,341 57,346 58,320 58,325 59,322 59,329 60,352 61,343 61,328 62,349 63,351 64,333 64,327 64,336 65,337 66,330 66,356 67,350 67,353 68,352 69,359 69,353 69,332 71,339 71,352 72,344 73,337 74,327 74,354 75,329 75,334 76,329 76,331 76,333 77,345 77,346 79,348 79,352 81,348 81,341 81,326 84,339 85,342 86,346 87,357 88,349 89,351 90,347 93,334 93,333 93,354 93,332 93,346 94,341 96,323 98,359 98,339 99,351 100,322 100,321 101,349 101,355 102,326 103,333 103,334 104,327 105,331 105,323 105,320 107,345 107,325 107,357 107,334 110,320 110,330 111,343 111,347 112,339 113,358 113,344 113,326 113,331 113,329 114,351 119,358 119,320 119,333 119,330 120,337 120,325 120,336 121,356 121,334 121,324 122,338 122,324 123,350 123,328 123,349 123,320 125,358 126,324 126,344 127,320 128,327 130,329 130,326 131,337 132,341 134,358 135,356 135,356 136,323 136,339 136,355 137,320 137,344 137,334 138,358 139,329 139,353 139,342 142,345 142,349 142,324 143,328 144,322 145,354 145,342 145,333 145,341 148,356 150,340 150,330 150,354 151,341 153,335 155,344 156,330 156,346 157,348 157,348 158,335 158,344 158,338 159,322 159,324 160,346 160,336 161,357 163,343 165,326 166,325 168,343 168,331 168,354 168,327 170,330 171,353 171,350 171,331 171,329 174,358 175,350 176,330 177,336 178,335 179,348 180,328 180,327 180,343 180,335 180,337 181,342 181,339 182,353 183,334 183,356 184,356 185,331 186,343 187,322 189,349 189,329 190,334 191,342 191,354 192,323 192,354 192,352 193,338 193,332 194,334 195,359 196,351 197,332 197,334 197,359 197,352 198,348 198,326 199,339 199,326 200,348 200,357 202,337 204,330 205,357 206,360 207,331 207,342 207,347 208,322 208,353 209,326 209,332 210,321 211,342 211,325 213,342 213,352 214,356 215,350 216,332 217,351 219,347 222,340 222,344 223,359 224,340 225,330 225,343 226,325 226,331 226,326 227,347 227,322 227,330 229,346 229,341 229,323 230,341 230,356 231,331 232,332 233,359 233,336 233,346 233,352 233,355 233,342 234,333 235,322 236,354 236,326 239,335 240,331 240,355 241,349 241,355 241,325 242,326 242,360 243,341 244,354 244,329 245,330 245,332 247,336 248,347 253,353 254,327 255,355 255,354 257,345 261,357 265,358 266,346 270,343 273,325 274,359 275,341 279,343 279,329 280,344 281,355 281,325 290,351 292,333 294,335 297,341 298,352 298,350 299,358 304,335 306,340 309,348 312,359 313,322 322,340 323,352 328,336 333,342 334,360 337,337 339,320 339,352 339,327 342,358 346,335 347,349 348,342 388,345 397,329 398,330 411,342 412,334 413,329 437,358 444,358 460,326 464,339 472,358 474,332 486,336 487,358 489,332 494,324 532,323 568,327 21,381 22,398 24,377 26,393 29,374 30,397 31,385 31,383 32,371 33,392 33,390 33,387 34,360 35,380 36,378 36,373 36,360 36,377 37,380 38,378 40,393 42,392 43,373 45,368 45,376 45,386 45,386 46,386 47,367 47,374 50,365 51,389 52,393 52,397 53,381 53,379 53,390 55,392 55,372 55,370 55,386 56,382 56,387 57,400 59,364 60,394 60,371 60,360 60,387 61,361 62,400 62,381 63,388 63,382 64,377 64,398 65,376 65,367 66,368 67,376 68,372 69,400 73,392 73,384 73,398 73,398 74,377 74,371 74,388 75,361 76,392 77,364 78,364 78,373 78,369 79,376 80,369 80,379 80,366 80,361 81,392 82,397 82,389 85,373 85,368 85,397 85,396 86,396 86,364 87,378 88,398 88,396 88,361 88,390 90,386 90,389 90,367 91,399 91,366 92,389 92,369 92,392 94,379 95,377 96,381 98,384 101,388 101,386 103,381 104,367 104,389 104,373 106,361 106,380 108,375 109,390 111,391 111,379 113,396 114,367 114,380 115,368 116,369 117,381 117,398 117,367 118,389 118,383 120,373 121,397 123,387 123,388 123,393 124,370 124,383 124,367 125,395 125,399 127,377 127,375 127,385 128,383 128,365 130,364 130,391 130,395 130,361 130,370 131,375 134,365 134,378 134,399 134,395 136,396 137,394 137,379 139,361 139,366 140,397 140,377 141,389 141,378 142,394 143,381 144,397 144,365 144,378 144,364 145,360 146,370 146,361 147,369 147,382 147,394 148,376 149,388 149,394 151,396 152,377 153,390 153,394 153,374 154,364 157,371 157,392 158,383 159,373 159,389 159,361 161,377 161,360 161,371 163,364 163,397 164,364 164,390 165,373 166,361 167,395 167,386 167,379 167,384 168,376 168,366 170,382 170,390 171,394 171,367 173,393 174,387 174,390 175,391 175,372 175,393 176,376 177,381 177,361 178,376 179,376 179,381 180,368 181,373 183,378 183,381 184,371 184,383 185,387 185,397 185,366 187,380 187,364 187,362 188,377 189,361 190,373 191,383 192,365 192,366 193,367 193,385 193,395 195,385 195,372 195,381 196,364 196,375 197,374 198,377 198,388 198,389 202,382 202,382 203,396 204,391 204,373 206,395 206,369 207,376 209,383 209,377 209,367 210,390 211,378 212,394 214,364 214,392 216,398 217,391 218,365 219,365 220,398 220,389 220,386 222,397 224,360 224,395 224,382 225,373 225,363 226,396 227,394 229,376 229,387 229,370 230,386 231,372 231,396 233,388 233,371 235,384 235,397 238,386 238,363 239,363 239,394 239,377 240,366 240,388 242,389 243,385 243,384 245,394 246,394 247,363 248,394 250,379 252,381 254,391 255,379 255,384 256,374 257,384 261,363 263,381 263,398 264,385 266,369 266,397 268,368 269,380 272,394 273,395 276,388 277,365 277,381 279,367 279,368 282,391 285,389 288,364 289,362 289,393 292,397 299,387 300,375 301,366 302,363 302,374 303,380 305,386 308,366 310,368 313,371 314,376 315,366 316,394 316,365 319,389 320,373 321,380 323,367 324,386 324,371 328,383 332,363 336,384 345,361 349,380 350,361 351,394 355,360 355,366 361,399 362,396 362,399 371,387 380,374 382,364 395,374 405,376 410,399 417,381 419,388 423,375 433,382 437,384 449,364 456,398 491,376 493,372 496,376 497,364 509,388 549,384 570,394 20,400 25,432 25,431 26,432 28,417 29,402 29,407 29,410 30,409 32,412 32,417 33,404 34,410 35,438 36,405 36,408 37,412 37,422 38,433 38,429 38,428 39,429 39,411 39,424 39,435 39,410 39,415 39,431 40,424 40,437 41,415 41,429 41,414 41,437 42,403 42,408 43,402 43,400 45,414 46,430 46,428 47,424 47,408 48,413 48,406 50,420 51,402 52,406 52,411 52,401 53,420 54,414 54,414 55,420 55,430 56,439 56,431 58,414 60,420 60,437 61,434 62,403 62,434 63,415 64,400 64,416 65,422 66,428 66,423 68,423 68,413 68,406 69,417 69,418 69,434 70,427 71,420 72,420 73,432 73,402 73,401 75,436 75,403 77,410 77,416 78,414 78,423 80,434 80,425 80,406 80,401 81,425 81,433 81,433 82,430 82,402 82,421 82,406 83,437 83,432 83,439 84,436 84,403 86,425 86,416 86,437 87,432 89,421 90,419 90,433 92,425 92,407 93,428 95,434 95,401 96,413 97,433 99,419 99,409 100,437 100,427 101,421 101,420 101,435 102,421 106,426 106,429 107,429 107,436 109,420 109,436 109,400 109,439 111,435 112,402 114,425 114,433 115,426 116,412 116,436 116,416 117,429 117,404 118,437 118,407 119,416 120,407 120,408 121,425 121,419 123,417 123,424 124,409 124,421 125,410 126,439 126,431 127,434 127,425 128,427 128,428 129,437 129,421 129,401 129,416 129,410 130,427 130,424 132,416 133,422 134,414 135,422 135,435 136,419 137,430 139,423 139,438 139,433 140,407 140,421 141,430 141,429 142,414 142,435 142,405 143,432 143,410 143,415 144,406 144,421 145,432 145,439 146,410 147,437 147,413 147,403 148,437 148,435 149,400 150,439 150,416 151,409 151,437 153,438 154,404 156,412 156,404 156,434 156,437 156,432 156,436 157,405 157,401 158,401 159,410 159,407 161,400 162,429 162,433 162,439 163,409 163,427 163,400 163,411 164,423 166,422 166,428 168,434 168,429 169,415 170,423 171,440 171,423 171,438 173,405 173,400 173,405 174,416 175,413 175,438 177,402 179,437 179,428 179,437 179,407 180,416 181,423 183,402 184,433 186,438 187,426 189,435 189,416 189,431 189,419 190,439 191,422 191,406 191,409 195,436 195,406 196,419 196,427 197,415 198,427 199,403 199,406 200,412 200,415 200,415 201,406 201,402 202,423 202,401 202,402 202,407 202,413 203,415 203,420 204,430 206,403 206,436 207,412 207,415 209,420 210,402 210,432 210,419 211,430 212,409 216,431 216,406 219,418 220,433 221,426 223,416 223,428 223,423 225,421 226,408 227,400 227,404 228,438 228,401 229,426 230,438 231,416 231,419 231,433 232,417 232,421 232,417 232,432 232,421 234,424 235,405 235,425 235,412 236,408 236,409 237,436 238,437 240,419 242,436 243,409 244,411 244,414 245,410 246,412 248,424 248,421 248,430 249,423 250,420 251,429 252,402 253,410 255,433 256,412 257,426 258,426 260,435 262,413 264,413 265,432 266,404 266,425 266,404 266,405 267,430 267,407 269,416 271,434 272,437 273,405 273,423 273,417 274,418 274,409 275,438 277,429 277,422 278,409 279,406 280,404 281,400 282,403 282,412 284,400 288,433 290,430 291,409 293,433 296,424 296,431 297,419 297,403 298,413 299,412 299,424 300,428 300,421 303,402 303,421 304,414 305,404 305,435 307,439 308,435 310,430 319,401 322,405 323,404 325,418 327,425 327,435 328,433 329,402 330,410 330,426 331,403 332,403 333,438 335,417 337,409 338,400 338,428 338,420 338,431 340,436 340,405 341,438 342,416 344,415 348,430 349,414 353,418 355,425 355,433 358,423 358,438 360,430 360,412 362,425 364,404 366,430 393,405 397,404 397,427 399,419 403,409 404,426 407,439 409,406 410,430 416,432 440,405 452,416 463,424 463,427 510,426 513,434 23,477 26,480 27,458 29,448 29,472 30,476 31,469 31,480 32,463 34,478 35,475 35,456 40,450 41,447 41,451 42,451 43,471 43,464 44,442 45,476 46,452 46,466 46,479 46,461 47,473 47,473 48,450 49,457 49,463 49,463 52,477 54,465 55,442 55,443 55,444 55,446 56,468 56,452 58,459 58,447 59,447 61,463 61,469 62,471 62,450 62,455 62,449 63,445 64,444 65,447 68,447 69,449 69,445 70,451 70,461 71,445 73,457 74,464 74,450 74,469 75,478 75,476 76,453 76,465 77,454 78,476 79,457 80,447 82,451 83,443 83,459 83,458 84,463 86,454 86,467 87,451 87,453 87,449 88,472 89,465 89,464 89,460 89,472 90,464 90,466 93,476 93,453 94,463 96,448 96,456 97,461 97,453 97,477 97,453 98,472 98,466 98,452 98,465 99,469 99,470 100,443 100,480 100,446 101,447 101,455 101,441 101,449 104,456 105,469 105,474 107,470 107,440 109,463 109,448 110,458 110,465 110,460 110,447 112,446 115,473 117,465 117,472 118,461 118,441 118,445 118,468 121,441 121,444 121,456 123,453 124,476 124,469 124,451 126,473 126,455 126,477 127,476 127,466 127,449 128,479 128,451 129,449 130,453 130,452 131,463 132,475 133,469 133,461 133,473 135,440 138,444 140,448 140,445 141,452 142,455 143,449 143,459 144,472 145,466 149,480 149,444 150,464 150,465 150,478 150,446 152,478 155,454 156,455 157,450 158,465 159,444 162,461 163,464 163,442 163,464 164,443 166,477 166,450 166,462 167,455 167,468 168,441 168,472 169,463 169,443 170,471 170,442 171,441 171,479 172,475 172,474 173,476 173,447 174,464 175,443 177,447 177,467 177,459 179,452 179,451 179,459 180,458 181,479 181,457 182,467 182,463 182,442 183,477 185,469 185,445 188,467 188,450 188,453 188,445 189,479 189,452 189,441 189,453 190,471 191,471 192,456 193,475 194,452 195,464 196,461 196,449 196,443 196,445 196,478 196,444 197,448 198,477 198,460 198,452 199,449 199,480 200,464 201,474 202,447 203,479 203,462 203,472 203,454 203,474 204,463 204,449 204,469 205,450 205,479 205,448 206,469 207,470 209,470 209,464 209,448 210,463 211,472 211,462 212,473 212,449 212,470 213,447 213,474 213,443 215,469 216,478 216,454 218,456 218,441 220,474 221,450 221,477 221,459 222,442 222,458 222,441 223,468 224,456 225,456 225,447 226,440 227,458 227,480 227,448 228,453 228,474 228,466 229,461 229,441 229,441 230,462 230,447 231,449 231,467 234,475 235,448 235,476 235,469 236,447 236,454 237,457 237,460 238,477 238,466 238,451 240,452 240,453 242,473 242,465 242,455 242,475 243,461 245,459 246,475 246,441 248,469 249,450 249,480 252,477 253,473 253,471 254,465 255,440 255,470 257,471 257,445 259,464 259,468 259,449 259,459 261,478 262,453 262,465 262,441 264,452 265,451 265,465 266,447 266,464 269,461 271,477 271,458 271,440 272,470 272,459 274,455 276,458 277,474 277,450 278,466 280,441 280,460 281,463 284,444 284,449 287,444 287,470 288,458 290,473 291,444 293,475 298,473 299,478 301,440 303,465 303,474 304,467 306,441 307,448 309,450 310,473 311,445 313,465 313,446 313,448 316,471 317,456 318,442 326,457 326,459 328,460 328,458 331,465 332,470 334,461 340,448 342,456 342,440 342,445 343,473 345,458 348,465 349,476 352,460 358,456 362,473 363,478 364,468 366,444 366,457 370,441 374,448 379,442 380,441 410,450 416,460 417,448 424,470 460,476 470,479 470,446 487,450 491,475 508,466 508,473 509,472 510,476 511,478 521,472 531,480 545,449 554,454 559,479 572,479 24,512 25,515 25,499 26,483 27,520 27,516 28,506 28,497 28,520 29,516 29,492 30,516 31,514 32,514 32,484 32,492 34,501 35,489 35,515 36,513 36,480 37,515 37,490 38,506 39,500 39,502 40,498 40,501 42,503 42,507 43,505 43,518 43,494 44,513 45,508 46,504 48,482 48,487 48,502 48,520 49,498 49,515 50,495 50,489 50,487 50,481 50,491 52,488 52,501 53,489 53,507 53,512 54,506 55,499 55,500 55,510 56,506 56,496 57,488 57,498 58,507 60,488 60,482 60,505 60,490 61,503 61,501 63,494 63,489 63,503 64,499 65,484 67,488 68,507 68,516 68,514 69,505 70,483 70,499 71,513 72,502 72,504 72,508 73,516 73,481 74,494 74,490 74,492 74,500 76,503 77,509 77,504 78,496 78,511 79,511 79,512 80,511 80,500 81,497 82,498 83,497 84,515 84,516 84,505 85,493 85,483 86,501 87,502 87,493 87,490 88,493 88,485 88,504 89,503 89,517 90,504 90,490 91,496 91,491 92,512 92,490 92,492 94,505 94,513 95,501 95,492 95,516 96,497 96,512 97,482 98,481 99,494 99,510 99,508 101,502 102,484 102,490 104,511 105,500 105,484 106,503 106,497 106,493 108,484 108,481 108,492 108,512 111,493 112,510 112,503 112,492 113,502 113,510 113,509 114,497 115,491 115,510 116,520 116,515 117,508 118,520 118,483 119,506 119,485 119,503 121,483 123,483 124,510 124,491 127,493 128,484 129,490 130,514 130,508 131,492 131,487 134,489 134,498 135,504 135,497 136,499 136,520 137,484 137,518 138,490 138,488 138,520 139,511 139,502 139,482 139,502 140,509 142,499 145,505 146,516 146,484 146,490 148,486 149,512 150,484 151,511 152,499 152,495 153,503 154,482 154,490 155,497 155,518 156,504 157,483 157,486 158,518 158,497 159,491 159,505 159,504 159,504 160,487 160,514 161,511 162,506 164,490 164,510 164,483 166,482 167,495 168,517 170,515 171,505 171,493 172,495 173,482 173,491 174,517 175,502 175,515 175,494 176,514 177,480 178,504 179,503 181,493 181,508 182,499 183,490 183,486 185,496 185,494 186,508 187,507 188,512 190,512 192,510 192,514 192,486 193,486 194,503 194,518 197,506 198,514 199,491 199,503 199,505 200,487 200,516 201,497 201,519 202,491 203,509 204,493 204,513 205,492 206,493 206,496 206,493 207,482 207,498 208,486 208,513 208,492 210,514 211,505 214,504 214,484 215,518 215,518 215,509 216,503 216,484 217,508 217,493 217,507 218,510 218,498 221,511 222,507 222,486 222,507 223,498 224,516 224,492 226,498 226,496 226,505 228,480 228,494 229,497 232,483 233,518 234,516 234,494 235,480 235,495 236,499 237,490 237,480 238,483 238,514 238,491 239,506 239,494 241,485 241,487 242,485 242,512 242,505 242,506 243,493 244,492 244,484 245,506 245,488 246,505 247,511 248,494 248,496 248,517 250,516 250,488 252,497 253,516 253,481 254,508 255,510 256,487 256,487 257,515 258,484 259,500 259,483 259,519 261,515 261,518 261,497 262,508 262,484 262,510 263,492 264,497 265,519 267,506 267,484 267,490 268,509 269,505 271,484 273,484 274,487 274,518 274,498 276,514 276,508 277,511 279,484 279,495 279,492 280,505 280,506 282,519 282,491 282,513 284,480 286,496 287,494 287,513 288,518 289,485 291,516 294,517 295,480 296,483 297,516 298,514 299,491 300,502 300,496 300,488 301,517 302,488 305,513 305,507 306,489 306,489 307,516 308,519 309,489 309,492 309,484 310,484 311,510 311,487 311,506 314,509 315,512 316,519 317,494 318,483 320,519 320,493 321,502 322,485 322,480 323,498 323,517 325,487 327,516 327,495 331,511 332,506 339,484 341,496 341,501 343,501 343,516 343,498 344,512 344,484 346,506 347,483 348,517 353,519 353,515 356,509 362,505 372,517 374,512 376,512 381,480 406,484 426,519 436,490 439,515 440,505 445,489 460,517 469,484 472,504 472,495 482,485 488,517 491,518 508,502 508,511 510,497 532,502 533,519 536,506 537,498 558,493 566,507 570,515 25,552 28,551 29,558 29,531 30,551 30,533 30,536 30,528 30,522 31,521 32,548 32,532 32,532 34,526 35,523 35,541 36,553 36,540 36,532 38,539 38,533 40,527 40,547 41,540 43,551 46,560 46,520 46,556 46,556 47,556 48,551 48,556 49,560 49,551 50,523 51,554 52,530 52,544 53,549 53,539 54,551 54,556 55,529 55,554 56,526 58,531 58,528 58,524 60,532 61,554 61,538 62,526 63,558 64,522 64,535 64,548 64,530 64,535 67,558 68,556 68,551 69,539 70,522 70,539 71,559 72,557 72,557 73,549 73,544 74,538 75,531 75,558 76,558 77,531 77,538 77,532 79,544 79,555 79,535 82,559 82,559 82,535 82,558 82,524 83,533 83,547 85,558 85,521 85,533 85,540 86,545 87,558 87,552 87,522 87,559 88,554 89,544 91,553 91,537 92,559 93,540 93,546 93,544 94,530 95,559 95,551 95,522 95,559 95,540 96,544 96,528 97,531 98,523 100,520 102,520 102,521 102,554 105,553 105,531 105,556 106,558 107,551 107,553 107,540 107,557 109,545 109,549 110,552 110,543 110,553 110,544 112,550 112,539 112,540 112,529 113,520 114,554 114,536 114,531 115,545 115,548 115,523 116,548 116,559 117,553 117,559 118,533 118,547 118,548 119,538 120,539 120,560 120,536 120,553 121,560 121,536 122,557 122,537 124,553 124,547 125,549 126,549 126,555 126,550 128,551 129,529 129,551 129,530 131,549 131,527 131,527 131,526 132,552 132,557 133,557 133,554 134,537 134,558 135,528 135,555 135,528 135,538 135,520 136,538 136,522 137,550 137,526 137,528 139,521 140,521 141,558 141,559 144,536 145,549 145,521 145,540 147,521 147,545 149,560 150,548 151,548 154,542 155,527 156,538 156,554 156,530 157,524 157,557 157,559 158,542 160,546 162,541 162,532 162,556 163,535 163,529 164,555 164,526 164,537 164,538 164,521 165,545 166,545 166,555 166,544 169,543 170,554 170,546 170,534 171,545 173,541 173,521 173,539 173,554 174,530 174,558 174,544 175,542 175,544 175,524 176,553 176,550 176,543 180,538 181,538 184,557 184,560 185,528 186,555 187,524 187,532 187,552 188,549 188,544 188,538 190,534 191,535 192,528 193,522 193,535 194,541 194,547 195,523 198,521 198,557 200,544 201,527 201,531 204,523 204,534 205,524 205,533 206,520 206,520 208,541 211,555 212,547 212,548 214,556 215,530 216,537 216,552 217,553 217,547 217,532 218,532 218,529 220,526 220,549 220,546 222,528 222,542 222,551 224,521 226,544 226,532 227,545 228,552 229,552 229,526 232,545 233,544 234,542 236,544 237,539 237,533 238,531 238,535 238,543 240,553 241,544 241,552 243,531 243,537 243,554 244,553 246,527 246,537 247,529 248,527 248,552 248,520 249,551 250,551 251,555 251,529 252,522 254,540 255,550 256,543 256,539 258,524 258,526 259,544 259,529 260,532 260,536 263,535 263,532 264,541 265,553 266,537 266,544 267,530 271,556 272,536 274,545 274,551 275,538 277,525 277,530 277,531 277,524 278,549 278,532 278,554 279,548 280,522 280,550 281,556 281,533 282,540 283,555 284,521 284,544 284,555 284,527 284,531 285,546 286,526 286,559 287,545 289,525 290,543 290,547 290,550 291,524 291,530 291,522 292,557 296,538 296,559 296,554 297,521 298,546 298,543 299,549 300,541 303,556 305,527 306,552 306,538 308,550 308,542 309,549 310,537 310,525 311,540 311,531 311,527 311,532 313,548 313,553 313,555 313,540 316,560 316,551 316,560 316,558 316,545 317,525 318,538 318,549 321,549 321,553 321,556 322,536 323,530 325,558 327,551 328,537 330,530 331,557 331,560 331,556 332,553 333,558 334,550 334,549 334,542 335,555 337,525 338,537 340,536 342,522 344,526 345,538 345,557 346,529 346,543 347,527 348,524 348,551 349,543 350,542 352,560 352,527 354,556 355,521 357,526 357,537 360,557 360,559 360,529 371,526 372,548 380,533 382,540 388,526 393,543 404,521 404,544 411,541 411,554 418,548 419,537 423,550 431,530 432,557 438,527 438,549 440,542 442,524 442,528 449,534 453,547 456,531 464,554 471,549 471,546 472,530 475,533 475,529 476,557 477,551 482,530 482,522 482,540 485,560 490,526 496,547 505,537 508,549 520,558 526,536 529,525 533,545 556,537 556,525 556,543 557,530 559,545 561,551 568,537 568,551 568,522 569,521 570,523 571,540 577,535 19,599 21,581 23,597 23,591 24,589 25,596 27,578 28,566 29,571 30,582 30,569 30,591 31,599 31,563 31,591 32,568 34,600 34,563 34,577 34,584 35,588 37,585 37,575 37,561 37,579 38,564 39,598 39,562 40,570 41,591 42,580 42,560 42,585 43,599 43,595 44,587 46,571 46,583 47,584 47,562 47,581 48,569 48,579 48,565 49,577 49,572 49,598 49,585 50,591 50,593 50,593 50,574 51,563 51,565 52,564 53,587 53,596 54,586 54,582 54,595 54,583 55,569 56,580 56,561 57,584 58,587 58,588 60,594 60,560 61,583 61,597 62,570 62,587 64,573 66,581 66,587 66,570 67,583 67,584 68,564 71,575 71,582 71,576 72,567 73,561 76,574 77,563 77,588 77,586 78,596 78,570 78,579 80,595 80,574 81,586 81,563 83,573 84,586 84,561 85,592 86,583 87,562 87,592 87,595 88,586 88,589 88,570 89,569 89,600 90,566 90,592 91,577 92,566 92,592 93,565 93,577 94,565 94,581 95,578 97,594 98,575 98,571 99,581 100,576 100,591 100,596 100,596 101,594 103,593 103,591 103,577 104,586 104,577 105,563 105,562 106,594 108,598 108,595 109,582 109,578 109,587 109,595 110,597 110,590 110,595 113,572 113,581 113,573 114,585 114,585 114,588 115,596 115,576 116,575 116,569 116,587 118,567 119,586 119,567 119,581 120,582 121,585 122,597 123,590 123,574 124,593 124,590 126,569 126,574 128,587 129,575 129,578 130,586 130,569 131,582 132,598 133,599 133,580 135,582 140,578 140,579 142,579 144,562 144,576 145,584 146,583 146,566 147,599 147,572 147,560 149,579 149,565 151,593 151,562 152,571 153,570 153,585 153,585 153,590 155,571 157,583 157,578 157,596 158,568 158,579 160,569 161,597 161,586 162,563 163,580 163,566 164,595 165,592 166,593 166,598 167,585 167,586 167,582 168,588 168,581 170,586 170,562 170,580 171,567 171,566 172,575 172,566 176,578 177,577 178,569 178,581 179,595 181,574 181,584 181,576 182,589 182,570 182,592 184,594 184,583 184,564 184,587 185,571 185,592 186,571 186,560 187,581 188,600 189,572 189,571 189,589 189,590 189,564 190,598 191,562 191,569 193,564 194,592 194,578 194,587 195,591 195,596 195,584 196,594 197,595 198,599 198,591 199,600 199,562 200,594 201,587 202,582 203,571 203,593 204,584 204,581 204,597 209,594 210,593 210,584 210,568 211,597 211,561 212,572 213,564 214,581 215,560 216,579 217,589 218,585 219,568 220,569 222,592 222,568 223,596 224,595 226,567 226,579 226,567 226,576 227,586 227,590 228,576 228,579 228,583 228,587 228,571 229,583 229,574 229,576 229,599 230,574 232,584 232,563 233,566 236,598 236,564 237,582 237,577 238,587 238,598 238,589 238,568 240,563 241,580 242,569 242,580 244,582 246,567 246,576 246,568 247,567 247,572 248,568 248,563 249,595 250,576 250,581 251,586 252,573 252,561 253,578 254,566 255,565 258,571 259,578 260,561 260,578 260,588 261,578 261,568 261,577 262,575 263,569 263,567 264,564 265,567 265,571 266,590 267,577 267,570 267,581 267,571 267,587 268,581 268,571 268,598 269,578 270,599 271,581 274,568 274,589 275,582 275,588 276,562 277,561 277,570 277,570 277,572 278,564 278,575 278,597 279,562 280,580 280,565 281,564 282,562 282,578 285,583 285,599 285,599 286,562 287,600 288,598 288,595 288,587 289,599 289,563 291,565 291,564 292,572 292,570 292,590 293,563 294,570 294,572 297,589 297,576 297,581 297,589 297,593 298,597 298,568 300,563 300,563 301,593 302,584 302,561 304,567 308,565 308,580 311,563 311,598 311,567 312,590 312,599 312,563 313,588 314,577 316,575 317,587 319,598 323,565 325,588 325,592 326,591 326,574 327,571 328,596 329,588 330,579 331,593 331,582 332,573 333,570 335,561 338,590 338,584 340,563 340,587 340,592 341,588 342,560 342,589 343,567 343,565 343,575 345,570 345,569 346,591 347,590 347,582 347,595 348,584 350,582 352,577 357,574 358,584 359,590 361,595 365,593 366,591 367,577 372,569 372,566 373,590 377,581 379,572 379,584 379,585 381,585 383,600 383,578 384,586 384,585 384,592 385,566 386,594 387,566 388,588 390,594 391,585 392,596 393,565 393,565 394,597 397,600 398,576 398,576 399,597 408,569 409,562 409,582 409,589 409,595 411,589 412,578 414,582 417,590 418,583 424,561 426,582 430,594 434,574 436,598 436,584 436,568 436,571 437,572 437,564 437,579 437,588 438,598 438,566 439,573 445,576 446,598 450,561 455,594 455,561 457,584 457,594 462,572 462,585 470,571 471,597 471,589 471,596 472,581 472,593 472,569 472,584 473,591 473,586 473,573 474,592 484,569 488,567 489,585 490,597 491,588 492,586 492,565 495,590 495,587 497,567 499,591 504,596 507,567 509,587 510,565 510,592 510,572 510,589 511,566 511,596 511,587 511,570 513,580 517,576 518,579 518,593 521,587 523,586 524,563 527,587 531,570 533,600 537,584 537,572 538,579 543,590 544,578 558,576 558,589 562,584 567,581 570,592 570,585 573,576 573,586 575,591 21,637 22,640 23,625 26,602 28,618 28,618 28,639 29,610 30,637 31,635 31,617 32,626 34,632 34,610 34,614 35,623 37,623 38,638 39,609 39,621 39,627 40,609 40,628 40,633 40,639 41,609 42,640 43,637 44,626 44,601 46,632 47,613 48,631 49,603 50,624 50,633 52,607 52,604 52,634 52,615 53,638 53,637 54,604 54,632 54,623 54,636 55,606 55,619 56,624 56,614 57,608 57,637 58,600 58,621 59,611 59,627 59,612 59,608 61,624 63,623 64,625 64,624 64,632 65,605 66,625 67,638 70,627 71,622 72,629 72,624 73,608 74,601 75,622 77,608 78,607 79,633 80,621 81,610 81,629 82,634 82,622 82,625 84,604 85,610 89,617 91,628 92,618 93,622 93,615 93,627 93,629 94,631 95,635 95,621 95,607 95,606 96,609 96,628 97,627 98,635 98,637 99,614 99,614 100,606 104,605 104,625 105,621 106,632 106,600 107,635 107,623 108,604 109,619 112,621 113,604 113,621 113,622 113,626 114,603 114,610 114,637 114,616 115,624 117,622 117,603 118,626 118,623 118,636 118,638 119,635 119,631 119,615 120,629 120,618 121,612 121,634 121,634 123,612 125,636 126,619 127,610 128,636 128,619 128,633 129,622 129,602 130,619 130,614 131,618 132,626 132,626 133,623 134,611 134,612 137,638 137,601 138,624 139,619 139,621 140,628 142,622 143,609 143,638 145,620 145,614 145,621 146,625 147,616 148,640 151,615 152,622 152,635 153,603 153,614 156,606 156,638 158,615 158,625 158,619 159,611 160,614 160,634 162,601 162,607 163,619 163,619 164,615 164,619 165,620 166,627 166,634 167,639 167,607 169,638 170,633 170,609 175,602 175,625 177,627 177,630 178,631 179,632 179,611 180,624 180,602 181,618 181,612 181,614 183,605 183,616 183,622 183,611 185,620 185,612 188,609 190,608 191,638 191,626 192,605 192,608 192,628 193,631 193,639 193,619 193,623 194,611 195,635 196,637 196,627 197,637 197,608 198,627 199,603 200,634 201,629 201,626 201,617 201,610 201,631 202,639 203,632 204,616 204,614 204,639 205,635 206,637 206,620 207,633 208,612 209,629 209,638 210,627 212,631 213,624 213,629 215,630 215,614 217,615 217,635 218,605 219,628 219,600 219,606 220,608 220,604 221,622 221,612 221,608 221,625 222,632 224,639 224,631 226,611 226,614 226,632 226,603 228,637 228,620 229,624 230,609 230,632 230,622 232,634 234,619 235,629 236,608 236,635 236,607 237,622 238,620 239,636 239,624 239,622 241,628 241,612 243,637 243,638 245,627 245,630 246,618 246,607 247,602 248,627 249,617 249,610 251,637 252,607 253,612 253,625 255,629 255,607 256,628 257,607 258,637 258,630 258,640 260,601 261,606 261,624 261,614 261,615 261,613 261,637 262,616 262,609 263,617 264,614 264,604 264,631 265,616 267,613 268,611 268,603 269,630 270,637 270,610 271,624 271,618 273,615 273,600 274,627 276,612 276,605 278,635 279,625 279,628 280,619 281,629 282,606 283,628 283,613 283,637 283,613 283,625 285,637 285,617 287,627 288,638 289,601 290,602 291,629 292,606 292,623 293,621 293,626 293,626 294,629 295,622 295,636 296,631 296,612 296,618 297,618 297,608 298,638 299,631 299,623 300,623 301,606 304,615 304,622 304,635 304,609 305,634 305,612 305,604 306,612 306,627 307,632 308,614 309,627 309,616 310,637 310,613 311,612 312,635 312,625 312,606 312,611 313,624 314,613 314,612 315,615 315,632 315,627 316,611 317,625 317,630 318,610 320,624 321,602 322,616 322,638 322,601 323,631 323,630 324,619 325,636 326,622 326,637 326,614 326,619 327,604 328,623 328,634 328,606 328,617 329,621 330,609 330,628 331,635 331,612 332,617 332,615 332,630 333,617 333,638 334,607 334,605 334,630 334,614 334,627 336,637 338,630 338,639 339,616 340,631 341,609 341,608 342,633 342,618 344,600 344,624 344,633 344,619 344,600 345,639 346,631 346,603 346,617 346,615 347,606 347,629 347,616 348,600 349,637 349,628 350,601 350,628 351,632 351,618 351,608 352,640 352,631 353,624 353,615 354,619 354,619 355,603 355,615 356,624 356,630 356,637 358,633 360,638 361,604 361,639 363,612 364,604 365,624 365,623 365,609 366,610 367,630 367,638 368,639 368,639 370,616 370,617 371,625 373,635 373,623 374,608 375,614 375,603 376,618 376,618 376,600 376,612 378,627 379,618 379,635 380,628 380,613 380,613 381,630 382,602 383,621 384,631 385,633 388,629 389,628 390,634 391,606 394,626 395,600 396,621 403,622 403,607 404,627 406,629 407,609 407,635 408,626 408,614 408,636 408,603 408,607 409,609 409,634 410,609 410,639 410,633 410,607 410,627 410,612 411,604 411,630 411,628 411,634 412,607 412,612 412,628 413,633 414,635 414,618 415,640 419,625 419,617 420,610 420,602 421,633 423,636 424,614 425,610 426,621 428,617 430,602 430,627 431,636 433,632 434,621 436,608 436,613 436,609 436,631 437,632 437,635 437,625 438,624 438,640 438,635 439,623 439,628 440,601 440,610 442,606 445,621 448,615 452,606 454,629 454,619 454,623 455,602 455,634 457,610 460,637 460,609 461,628 461,629 463,624 464,635 465,600 466,613 470,630 472,601 474,618 474,614 475,610 476,608 477,629 479,624 482,614 482,634 483,632 483,625 492,624 492,602 493,634 493,630 494,621 494,600 494,603 499,617 501,616 501,605 502,624 503,624 505,630 507,619 507,628 507,626 508,639 510,601 510,615 510,618 510,602 510,624 511,622 512,602 512,629 513,626 513,636 516,638 516,634 517,638 519,613 520,635 529,624 530,602 530,634 531,630 532,622 532,629 532,601 532,627 532,637 532,627 533,601 541,622 546,607 551,632 552,638 553,637 554,634 554,623 557,634 558,634 558,633 558,607 559,613 560,608 560,627 561,613 561,623 564,602 566,608 567,619 568,611 568,634 568,611 569,621 569,618 569,634 570,632 570,615 570,633 571,615 571,638 571,632 572,626 576,612 578,618 21,659 23,642 28,665 28,667 29,657 29,665 30,656 30,655 31,663 32,655 32,672 34,646 35,646 35,643 36,660 36,646 36,641 37,661 38,666 38,649 39,666 40,643 41,648 41,648 41,665 42,680 42,648 42,666 43,642 44,647 44,678 45,669 46,648 46,674 46,644 48,642 48,645 49,655 49,645 50,649 51,646 51,642 51,655 51,652 52,654 52,646 53,649 54,656 56,672 56,643 56,657 57,643 58,652 59,663 59,662 59,674 60,673 60,642 61,667 61,653 61,644 62,662 63,659 63,646 64,655 65,661 66,646 67,661 68,641 69,647 70,670 71,665 71,664 72,647 72,659 73,659 73,660 73,671 74,667 74,678 75,675 77,645 77,654 79,647 80,647 81,663 82,643 82,649 82,661 82,642 83,669 83,641 84,662 84,674 84,652 85,668 85,658 86,651 88,652 89,660 90,645 90,649 90,661 92,656 93,660 94,660 94,652 95,668 95,655 95,649 96,658 96,666 96,676 98,660 99,650 99,660 99,642 102,645 104,659 104,670 104,679 105,649 105,654 109,672 109,654 110,673 110,662 111,666 112,661 112,670 113,645 113,648 114,649 114,648 114,661 114,675 115,668 115,650 115,647 116,665 117,652 118,648 118,654 118,663 121,648 121,658 121,668 124,671 125,671 126,658 126,641 127,667 128,654 128,669 128,642 129,642 131,646 131,651 132,647 132,658 133,642 135,671 135,655 136,643 136,665 136,649 136,652 138,664 139,642 140,654 143,667 143,657 144,655 146,667 147,644 148,656 149,662 149,672 150,664 150,668 150,666 151,661 151,644 153,647 153,665 154,660 154,664 155,648 155,640 156,648 156,656 157,672 157,657 157,676 159,645 160,669 161,643 164,643 165,663 165,645 165,640 165,659 166,649 167,665 168,645 169,662 170,658 170,664 171,657 171,646 172,644 173,648 174,642 175,659 176,669 176,642 176,646 177,676 177,670 177,671 178,648 178,675 180,651 180,642 180,641 181,665 182,655 183,647 183,666 184,657 184,667 186,656 186,665 187,668 187,652 187,663 187,657 189,646 190,666 190,657 191,648 191,677 193,646 193,653 195,653 195,658 195,670 195,664 195,660 196,661 196,643 197,648 198,653 200,653 201,645 203,643 204,656 204,653 204,644 204,641 204,652 204,660 204,666 206,666 206,644 206,655 211,648 212,674 213,664 213,645 213,668 215,648 215,668 216,644 217,652 218,642 218,666 219,642 220,659 220,668 221,650 221,647 222,659 222,655 223,641 224,655 225,660 225,651 226,640 226,662 226,659 226,665 228,670 229,669 231,659 232,666 232,644 233,664 234,657 234,660 234,657 237,650 240,653 240,651 243,670 243,642 243,641 246,642 247,669 247,642 248,649 248,659 248,652 248,641 250,667 250,670 250,660 250,646 250,677 251,663 252,643 253,670 253,642 254,664 256,646 256,654 257,664 260,648 262,659 263,668 265,652 265,641 266,645 266,656 267,645 267,659 270,676 271,655 272,647 273,642 273,669 273,670 274,658 275,651 277,667 277,654 278,658 278,670 278,662 279,644 281,652 282,649 283,675 283,665 284,659 285,646 285,658 286,642 286,650 286,671 287,654 288,666 289,663 290,667 290,671 290,657 292,645 293,670 293,677 293,651 295,658 296,676 297,647 298,650 299,661 299,655 299,650 300,665 304,647 306,669 308,649 310,655 310,652 311,673 312,655 312,665 313,654 315,656 316,657 318,665 319,653 320,647 321,659 321,662 322,664 324,660 325,648 327,655 328,642 328,660 329,668 329,654 331,657 331,651 333,669 334,640 336,649 336,658 336,665 337,656 338,664 338,657 341,661 347,647 347,650 348,661 349,654 349,644 350,646 350,658 351,641 352,655 354,649 356,663 357,670 358,655 359,642 359,657 359,658 361,667 362,654 362,648 363,671 365,654 371,664 371,645 375,655 375,648 375,644 375,665 376,649 380,642 383,662 383,660 383,643 384,653 384,657 384,645 384,650 387,648 392,656 396,653 397,659 398,658 403,654 403,650 404,656 404,640 407,648 408,650 408,643 409,659 409,649 409,651 409,667 410,643 412,648 412,653 412,650 412,653 417,675 419,651 421,656 423,654 423,653 431,641 432,663 432,647 433,666 434,666 437,649 437,651 438,664 440,655 441,642 442,657 449,642 453,640 454,650 458,650 459,641 460,653 465,668 466,646 466,666 468,649 468,641 470,672 471,667 472,641 472,649 472,654 473,651 473,643 474,664 474,663 474,670 474,654 475,649 475,642 477,673 481,647 484,643 488,647 488,646 491,659 491,652 493,642 493,649 494,649 495,665 497,650 497,645 499,656 500,663 506,659 507,656 508,649 508,656 509,656 509,654 509,642 509,644 509,660 509,673 509,661 509,655 510,666 511,641 511,661 511,666 511,643 517,660 521,646 530,662 530,660 530,645 532,660 533,662 533,650 533,650 534,646 535,658 535,656 535,642 537,657 537,656 541,659 547,669 547,657 551,648 551,647 554,671 555,651 556,644 557,665 557,648 557,650 557,658 558,643 559,642 559,642 561,645 562,656 568,651 568,671 568,668 568,672 569,641 571,653 572,653 572,657 572,648 572,651"/>
<path class="cv" d="M1422.5,585.1 1426.1,580.4 1429.9,575.9 1433.8,571.4 1438.0,567.0 1442.2,562.8 1446.7,558.8 1451.3,554.9 1456.1,551.2 1461.0,547.8 1466.0,544.6 1471.2,541.7 1476.6,539.0 1482.1,536.7 1487.7,534.7 1493.4,533.0 1499.3,531.6 1505.1,530.5 1511.1,529.7 1517.0,529.1 1523.0,528.6 1528.9,528.2 1534.9,527.8 1540.8,527.3 1546.7,526.5 1552.6,525.6 1558.4,524.5 1564.2,523.3 1570.1,522.0 1575.9,520.6 1581.7,519.3 1587.6,517.9 1593.4,516.7 1599.2,515.5 1605.1,514.3 1610.9,513.2 1616.8,512.1 1622.7,511.0 1628.5,510.0 1634.4,509.0 1640.3,508.1 1646.2,507.2 1652.1,506.3 1658.0,505.4 1663.9,504.6 1669.8,503.7 1675.7,503.0 1681.6,502.2 1687.6,501.6 1693.5,500.9 1699.4,500.3 1705.4,499.8 1711.3,499.3 1717.3,498.8 1723.2,498.5 1729.2,498.1 1735.1,497.8 1741.1,497.5 1747.0,497.3 1753.0,497.1 1759.0,496.9 1764.9,496.8 1770.9,496.7 1776.9,496.6 1782.8,496.5 1788.8,496.5 1794.7,496.4 1800.7,496.5 1806.7,496.5 1812.6,496.6 1818.6,496.7 1824.6,496.8 1830.5,497.0 1836.5,497.2 1842.4,497.4 1848.4,497.6 1854.3,497.9 1860.3,498.3 1866.2,498.6 1872.2,499.0 1878.2,499.4 1884.1,499.8 1890.1,500.2 1896.0,500.7 1901.9,501.1 1907.9,501.6 1913.8,502.1 1919.8,502.7 1925.7,503.3 1931.6,503.8 1937.6,504.5 1943.5,505.1 1949.4,505.8 1955.3,506.5 1961.3,507.2 1967.2,507.9 1973.1,508.7 1979.0,509.5 1984.9,510.3 1990.8,511.2"/>
</g>
<g clip-path="url(#c4)">
<g filter="url(#bl)">
<path fill="#000" fill-opacity="0.062" d="M95,973h24v8h-24zM95,981h24v8h-24zM119,989h8v8h-8zM119,997h8v8h-8zM127,1053h8v8h-8zM135,1117h8v8h-8zM159,1125h8v8h-8zM159,1133h8v8h-8zM143,1141h24v8h-24zM231,1141h16v8h-16zM159,1149h8v8h-8zM231,1149h16v8h-16zM151,1165h8v8h-8zM183,1165h8v8h-8zM207,1165h8v8h-8zM151,1173h32v8h-32zM215,1173h24v8h-24zM255,1181h32v8h-32zM239,1189h8v8h-8zM255,1189h16v8h-16zM287,1189h24v8h-24zM239,1197h8v8h-8zM255,1197h8v8h-8zM271,1197h40v8h-40zM255,1205h8v8h-8zM279,1205h8v8h-8zM295,1205h24v8h-24zM271,1213h8v8h-8zM319,1213h8v8h-8zM327,1221h8v8h-8zM335,1237h8v8h-8zM351,1237h8v8h-8zM375,1253h16v8h-16zM367,1261h24v8h-24zM399,1261h16v8h-16zM375,1269h16v8h-16zM407,1269h8v8h-8zM407,1277h8v8h-8zM391,1285h8v8h-8zM423,1293h16v8h-16zM431,1301h8v8h-8zM415,1309h8v8h-8zM407,1317h8v8h-8zM447,1317h8v8h-8zM415,1325h8v8h-8zM431,1325h16v8h-16zM455,1325h8v8h-8zM439,1333h24v8h-24zM455,1349h16v8h-16zM463,1357h8v8h-8zM471,1365h8v8h-8zM487,1381h8v8h-8zM487,1397h8v8h-8zM511,1413h8v8h-8zM511,1437h8v8h-8zM511,1445h8v8h-8zM511,1453h8v8h-8zM511,1469h8v8h-8z"/>
<path fill="#000" fill-opacity="0.125" d="M95,989h24v8h-24zM95,997h24v8h-24zM95,1005h32v8h-32zM95,1013h32v8h-32zM119,1037h8v8h-8zM119,1045h8v8h-8zM127,1061h8v8h-8zM135,1125h8v8h-8zM135,1133h8v8h-8zM143,1149h16v8h-16zM143,1157h24v8h-24zM143,1165h8v8h-8zM159,1165h8v8h-8zM191,1165h16v8h-16zM143,1173h8v8h-8zM199,1173h16v8h-16zM239,1173h16v8h-16zM151,1181h24v8h-24zM207,1181h48v8h-48zM231,1189h8v8h-8zM247,1189h8v8h-8zM271,1189h16v8h-16zM231,1197h8v8h-8zM247,1197h8v8h-8zM231,1205h24v8h-24zM287,1205h8v8h-8zM263,1213h8v8h-8zM279,1213h8v8h-8zM295,1213h24v8h-24zM271,1221h40v8h-40zM263,1229h8v8h-8zM303,1229h8v8h-8zM343,1245h8v8h-8zM359,1245h8v8h-8zM367,1253h8v8h-8zM391,1261h8v8h-8zM367,1269h8v8h-8zM391,1269h16v8h-16zM383,1277h16v8h-16zM383,1285h8v8h-8zM399,1285h16v8h-16zM391,1293h8v8h-8zM415,1293h8v8h-8zM415,1301h16v8h-16zM407,1309h8v8h-8zM447,1325h8v8h-8zM423,1333h16v8h-16zM439,1341h16v8h-16zM463,1365h8v8h-8zM479,1373h8v8h-8zM479,1389h8v8h-8zM479,1397h8v8h-8zM487,1405h24v8h-24zM503,1413h8v8h-8zM495,1421h8v8h-8zM495,1429h8v8h-8zM511,1461h8v8h-8zM407,1485h8v8h-8zM423,1485h8v8h-8zM343,1493h8v8h-8zM343,1501h8v8h-8zM343,1509h8v8h-8zM343,1517h8v8h-8z"/>
<path fill="#000" fill-opacity="0.188" d="M119,1021h8v8h-8zM127,1069h8v8h-8zM127,1077h8v8h-8zM127,1101h8v8h-8zM135,1141h8v8h-8zM135,1149h8v8h-8zM183,1173h16v8h-16zM143,1181h8v8h-8zM175,1181h32v8h-32zM167,1189h64v8h-64zM223,1205h8v8h-8zM231,1213h32v8h-32zM287,1213h8v8h-8zM255,1221h16v8h-16zM311,1221h16v8h-16zM255,1229h8v8h-8zM271,1229h32v8h-32zM311,1229h8v8h-8zM327,1229h8v8h-8zM295,1237h24v8h-24zM287,1245h24v8h-24zM335,1245h8v8h-8zM351,1245h8v8h-8zM287,1253h8v8h-8zM343,1253h8v8h-8zM359,1253h8v8h-8zM351,1261h16v8h-16zM351,1269h16v8h-16zM351,1277h16v8h-16zM375,1277h8v8h-8zM399,1277h8v8h-8zM351,1285h16v8h-16zM351,1293h16v8h-16zM383,1293h8v8h-8zM399,1293h16v8h-16zM399,1301h16v8h-16zM399,1309h8v8h-8zM399,1317h8v8h-8zM407,1325h8v8h-8zM423,1341h16v8h-16zM431,1349h8v8h-8zM447,1349h8v8h-8zM439,1357h24v8h-24zM455,1365h8v8h-8zM479,1381h8v8h-8zM479,1405h8v8h-8zM495,1413h8v8h-8zM503,1437h8v8h-8zM503,1469h8v8h-8zM495,1477h8v8h-8zM399,1485h8v8h-8zM415,1485h8v8h-8zM335,1493h8v8h-8zM335,1501h8v8h-8zM335,1509h8v8h-8zM335,1517h8v8h-8z"/>
<path fill="#000" fill-opacity="0.250" d="M95,1021h24v8h-24zM119,1029h8v8h-8zM95,1037h24v8h-24zM95,1045h24v8h-24zM119,1053h8v8h-8zM127,1085h8v8h-8zM127,1093h8v8h-8zM127,1109h8v8h-8zM135,1157h8v8h-8zM135,1165h8v8h-8zM135,1173h8v8h-8zM151,1189h16v8h-16zM159,1197h32v8h-32zM215,1197h16v8h-16zM159,1205h16v8h-16zM167,1213h8v8h-8zM207,1213h8v8h-8zM223,1213h8v8h-8zM191,1221h64v8h-64zM215,1229h16v8h-16zM247,1229h8v8h-8zM319,1229h8v8h-8zM255,1237h40v8h-40zM327,1237h8v8h-8zM279,1245h8v8h-8zM311,1245h24v8h-24zM279,1253h8v8h-8zM295,1253h24v8h-24zM335,1253h8v8h-8zM351,1253h8v8h-8zM343,1261h8v8h-8zM343,1269h8v8h-8zM335,1277h16v8h-16zM367,1277h8v8h-8zM319,1285h16v8h-16zM343,1285h8v8h-8zM367,1285h16v8h-16zM327,1293h8v8h-8zM367,1293h16v8h-16zM359,1301h40v8h-40zM367,1309h8v8h-8zM391,1309h8v8h-8zM383,1317h16v8h-16zM383,1325h8v8h-8zM399,1325h8v8h-8zM415,1333h8v8h-8zM415,1341h8v8h-8zM423,1349h8v8h-8zM439,1349h8v8h-8zM431,1357h8v8h-8zM431,1365h24v8h-24zM439,1373h40v8h-40zM471,1381h8v8h-8zM471,1389h8v8h-8zM471,1397h8v8h-8zM479,1413h16v8h-16zM487,1421h8v8h-8zM495,1437h8v8h-8zM503,1445h8v8h-8zM503,1453h8v8h-8zM503,1461h8v8h-8zM487,1477h8v8h-8zM327,1493h8v8h-8zM327,1501h8v8h-8zM327,1509h8v8h-8zM327,1517h8v8h-8z"/>
<path fill="#000" fill-opacity="0.312" d="M95,1029h24v8h-24zM95,1053h24v8h-24zM95,1061h32v8h-32zM127,1117h8v8h-8zM135,1181h8v8h-8zM143,1189h8v8h-8zM191,1197h24v8h-24zM175,1205h16v8h-16zM215,1205h8v8h-8zM159,1213h8v8h-8zM175,1213h32v8h-32zM215,1213h8v8h-8zM159,1221h32v8h-32zM207,1229h8v8h-8zM231,1229h8v8h-8zM215,1237h16v8h-16zM247,1237h8v8h-8zM319,1237h8v8h-8zM247,1245h16v8h-16zM271,1245h8v8h-8zM271,1253h8v8h-8zM319,1253h16v8h-16zM303,1261h24v8h-24zM311,1269h8v8h-8zM335,1269h8v8h-8zM319,1277h16v8h-16zM335,1285h8v8h-8zM319,1293h8v8h-8zM335,1293h16v8h-16zM351,1301h8v8h-8zM359,1309h8v8h-8zM375,1309h16v8h-16zM367,1317h16v8h-16zM375,1325h8v8h-8zM391,1325h8v8h-8zM383,1333h16v8h-16zM407,1333h8v8h-8zM391,1341h24v8h-24zM399,1349h24v8h-24zM415,1357h16v8h-16zM423,1365h8v8h-8zM431,1373h8v8h-8zM439,1381h32v8h-32zM463,1389h8v8h-8zM471,1405h8v8h-8zM471,1413h8v8h-8zM479,1421h8v8h-8zM487,1429h8v8h-8zM391,1485h8v8h-8zM319,1493h8v8h-8zM319,1501h8v8h-8zM319,1509h8v8h-8zM319,1517h8v8h-8z"/>
<path fill="#000" fill-opacity="0.375" d="M95,1069h32v8h-32zM127,1125h8v8h-8zM127,1141h8v8h-8zM135,1189h8v8h-8zM151,1197h8v8h-8zM151,1205h8v8h-8zM191,1205h24v8h-24zM151,1213h8v8h-8zM151,1221h8v8h-8zM159,1229h48v8h-48zM239,1229h8v8h-8zM231,1237h8v8h-8zM207,1245h24v8h-24zM239,1245h8v8h-8zM263,1245h8v8h-8zM215,1253h56v8h-56zM223,1261h16v8h-16zM271,1261h32v8h-32zM327,1261h16v8h-16zM303,1269h8v8h-8zM319,1269h16v8h-16zM311,1277h8v8h-8zM311,1285h8v8h-8zM311,1293h8v8h-8zM327,1301h24v8h-24zM351,1309h8v8h-8zM359,1317h8v8h-8zM359,1325h16v8h-16zM399,1333h8v8h-8zM383,1341h8v8h-8zM391,1349h8v8h-8zM407,1357h8v8h-8zM423,1373h8v8h-8zM431,1381h8v8h-8zM431,1389h32v8h-32zM439,1397h8v8h-8zM463,1397h8v8h-8zM487,1437h8v8h-8zM495,1445h8v8h-8zM495,1461h8v8h-8zM495,1469h8v8h-8zM479,1477h8v8h-8zM375,1485h16v8h-16zM295,1493h24v8h-24zM295,1501h24v8h-24zM295,1509h24v8h-24zM295,1517h24v8h-24z"/>
<path fill="#000" fill-opacity="0.438" d="M95,1077h32v8h-32zM119,1085h8v8h-8zM127,1133h8v8h-8zM127,1149h8v8h-8zM135,1197h16v8h-16zM143,1205h8v8h-8zM143,1213h8v8h-8zM143,1221h8v8h-8zM143,1229h16v8h-16zM167,1237h48v8h-48zM239,1237h8v8h-8zM167,1245h24v8h-24zM199,1245h8v8h-8zM231,1245h8v8h-8zM167,1253h16v8h-16zM199,1253h16v8h-16zM215,1261h8v8h-8zM239,1261h8v8h-8zM263,1261h8v8h-8zM223,1269h16v8h-16zM271,1269h16v8h-16zM295,1269h8v8h-8zM271,1277h16v8h-16zM303,1277h8v8h-8zM271,1285h16v8h-16zM303,1285h8v8h-8zM303,1293h8v8h-8zM311,1301h16v8h-16zM335,1309h16v8h-16zM351,1317h8v8h-8zM351,1325h8v8h-8zM375,1333h8v8h-8zM399,1357h8v8h-8zM415,1365h8v8h-8zM423,1381h8v8h-8zM423,1389h8v8h-8zM431,1397h8v8h-8zM447,1397h16v8h-16zM463,1405h8v8h-8zM463,1413h8v8h-8zM471,1421h8v8h-8zM479,1429h8v8h-8zM479,1437h8v8h-8zM495,1453h8v8h-8zM463,1477h16v8h-16zM359,1485h16v8h-16zM287,1493h8v8h-8zM287,1501h8v8h-8zM287,1509h8v8h-8zM287,1517h8v8h-8z"/>
<path fill="#000" fill-opacity="0.500" d="M95,1085h24v8h-24zM95,1093h32v8h-32zM95,1101h32v8h-32zM95,1109h32v8h-32zM95,1117h32v8h-32zM95,1125h32v8h-32zM127,1157h8v8h-8zM127,1165h8v8h-8zM135,1205h8v8h-8zM135,1213h8v8h-8zM143,1237h8v8h-8zM159,1237h8v8h-8zM159,1245h8v8h-8zM191,1245h8v8h-8zM159,1253h8v8h-8zM183,1253h16v8h-16zM167,1261h16v8h-16zM199,1261h16v8h-16zM247,1261h16v8h-16zM215,1269h8v8h-8zM239,1269h32v8h-32zM287,1269h8v8h-8zM223,1277h32v8h-32zM263,1277h8v8h-8zM287,1277h16v8h-16zM239,1285h16v8h-16zM263,1285h8v8h-8zM287,1285h16v8h-16zM271,1293h16v8h-16zM295,1293h8v8h-8zM303,1301h8v8h-8zM327,1309h8v8h-8zM335,1317h16v8h-16zM327,1325h24v8h-24zM351,1333h24v8h-24zM343,1341h24v8h-24zM375,1341h8v8h-8zM383,1349h8v8h-8zM391,1357h8v8h-8zM399,1365h16v8h-16zM391,1373h16v8h-16zM415,1373h8v8h-8zM399,1381h24v8h-24zM415,1389h8v8h-8zM423,1397h8v8h-8zM423,1405h40v8h-40zM455,1413h8v8h-8zM471,1429h8v8h-8zM471,1437h8v8h-8zM487,1445h8v8h-8zM487,1453h8v8h-8zM487,1461h8v8h-8zM487,1469h8v8h-8zM431,1477h32v8h-32zM351,1485h8v8h-8zM279,1493h8v8h-8zM279,1501h8v8h-8zM279,1509h8v8h-8zM279,1517h8v8h-8z"/>
<path fill="#000" fill-opacity="0.562" d="M95,1133h32v8h-32zM119,1141h8v8h-8zM127,1173h8v8h-8zM127,1181h8v8h-8zM135,1221h8v8h-8zM135,1229h8v8h-8zM135,1237h8v8h-8zM151,1237h8v8h-8zM143,1245h16v8h-16zM143,1253h16v8h-16zM159,1261h8v8h-8zM183,1261h16v8h-16zM167,1269h16v8h-16zM199,1269h16v8h-16zM191,1277h32v8h-32zM255,1277h8v8h-8zM223,1285h16v8h-16zM255,1285h8v8h-8zM239,1293h16v8h-16zM263,1293h8v8h-8zM287,1293h8v8h-8zM279,1301h24v8h-24zM311,1309h16v8h-16zM327,1317h8v8h-8zM319,1325h8v8h-8zM335,1333h16v8h-16zM335,1341h8v8h-8zM367,1341h8v8h-8zM335,1349h48v8h-48zM367,1357h24v8h-24zM367,1365h32v8h-32zM367,1373h8v8h-8zM407,1373h8v8h-8zM391,1381h8v8h-8zM407,1389h8v8h-8zM407,1397h16v8h-16zM415,1405h8v8h-8zM415,1413h40v8h-40zM447,1421h24v8h-24zM471,1445h16v8h-16zM479,1469h8v8h-8zM423,1477h8v8h-8zM343,1485h8v8h-8zM263,1493h16v8h-16zM263,1501h16v8h-16zM263,1509h16v8h-16zM263,1517h16v8h-16z"/>
<path fill="#000" fill-opacity="0.625" d="M95,1141h24v8h-24zM119,1149h8v8h-8zM119,1157h8v8h-8zM127,1189h8v8h-8zM127,1197h8v8h-8zM127,1205h8v8h-8zM135,1245h8v8h-8zM135,1253h8v8h-8zM143,1261h16v8h-16zM159,1269h8v8h-8zM183,1269h16v8h-16zM167,1277h24v8h-24zM183,1285h40v8h-40zM223,1293h16v8h-16zM255,1293h8v8h-8zM231,1301h48v8h-48zM239,1309h8v8h-8zM287,1309h24v8h-24zM319,1317h8v8h-8zM311,1325h8v8h-8zM319,1333h16v8h-16zM327,1341h8v8h-8zM327,1349h8v8h-8zM343,1357h24v8h-24zM359,1373h8v8h-8zM375,1373h16v8h-16zM367,1381h8v8h-8zM383,1381h8v8h-8zM399,1389h8v8h-8zM399,1397h8v8h-8zM407,1405h8v8h-8zM415,1421h32v8h-32zM439,1429h32v8h-32zM463,1437h8v8h-8zM463,1445h8v8h-8zM479,1453h8v8h-8zM479,1461h8v8h-8zM463,1469h16v8h-16zM415,1477h8v8h-8zM335,1485h8v8h-8zM215,1493h8v8h-8zM239,1493h24v8h-24zM215,1501h8v8h-8zM239,1501h24v8h-24zM215,1509h8v8h-8zM239,1509h24v8h-24zM215,1517h8v8h-8zM239,1517h24v8h-24z"/>
<path fill="#000" fill-opacity="0.688" d="M95,1149h24v8h-24zM95,1157h24v8h-24zM95,1165h32v8h-32zM95,1173h32v8h-32zM119,1181h8v8h-8zM127,1213h8v8h-8zM127,1221h8v8h-8zM127,1229h8v8h-8zM135,1261h8v8h-8zM135,1269h24v8h-24zM143,1277h24v8h-24zM151,1285h8v8h-8zM175,1285h8v8h-8zM199,1293h24v8h-24zM159,1301h8v8h-8zM223,1301h8v8h-8zM231,1309h8v8h-8zM247,1309h40v8h-40zM231,1317h40v8h-40zM279,1317h40v8h-40zM287,1325h24v8h-24zM287,1333h32v8h-32zM303,1341h24v8h-24zM319,1349h8v8h-8zM335,1357h8v8h-8zM351,1365h16v8h-16zM351,1373h8v8h-8zM359,1381h8v8h-8zM375,1381h8v8h-8zM367,1389h32v8h-32zM383,1397h16v8h-16zM399,1405h8v8h-8zM407,1413h8v8h-8zM431,1429h8v8h-8zM447,1437h16v8h-16zM463,1453h16v8h-16zM471,1461h8v8h-8zM447,1469h16v8h-16zM399,1477h16v8h-16zM327,1485h8v8h-8zM191,1493h24v8h-24zM223,1493h16v8h-16zM191,1501h24v8h-24zM223,1501h16v8h-16zM191,1509h24v8h-24zM223,1509h16v8h-16zM191,1517h24v8h-24zM223,1517h16v8h-16z"/>
<path fill="#000" fill-opacity="0.750" d="M95,1181h24v8h-24zM95,1189h32v8h-32zM95,1197h32v8h-32zM119,1205h8v8h-8zM127,1237h8v8h-8zM135,1277h8v8h-8zM143,1285h8v8h-8zM159,1285h16v8h-16zM143,1293h56v8h-56zM143,1301h16v8h-16zM167,1301h56v8h-56zM151,1309h80v8h-80zM175,1317h16v8h-16zM215,1317h16v8h-16zM271,1317h8v8h-8zM223,1325h64v8h-64zM247,1333h8v8h-8zM271,1333h16v8h-16zM287,1341h16v8h-16zM303,1349h16v8h-16zM327,1357h8v8h-8zM327,1365h24v8h-24zM343,1373h8v8h-8zM351,1381h8v8h-8zM359,1389h8v8h-8zM367,1397h16v8h-16zM383,1405h16v8h-16zM391,1413h16v8h-16zM399,1421h16v8h-16zM415,1429h16v8h-16zM423,1437h24v8h-24zM455,1445h8v8h-8zM455,1453h8v8h-8zM447,1461h24v8h-24zM423,1469h24v8h-24zM391,1477h8v8h-8zM303,1485h24v8h-24zM143,1493h48v8h-48zM143,1501h48v8h-48zM143,1509h48v8h-48zM143,1517h48v8h-48z"/>
<path fill="#000" fill-opacity="0.812" d="M95,1205h24v8h-24zM95,1213h32v8h-32zM95,1221h32v8h-32zM95,1229h32v8h-32zM119,1237h8v8h-8zM127,1245h8v8h-8zM127,1253h8v8h-8zM127,1261h8v8h-8zM127,1269h8v8h-8zM135,1285h8v8h-8zM135,1293h8v8h-8zM135,1301h8v8h-8zM135,1309h16v8h-16zM143,1317h32v8h-32zM191,1317h24v8h-24zM159,1325h64v8h-64zM215,1333h32v8h-32zM255,1333h16v8h-16zM239,1341h48v8h-48zM247,1349h8v8h-8zM279,1349h24v8h-24zM287,1357h40v8h-40zM311,1365h16v8h-16zM319,1373h24v8h-24zM327,1381h24v8h-24zM343,1389h16v8h-16zM359,1397h8v8h-8zM367,1405h16v8h-16zM375,1413h16v8h-16zM383,1421h16v8h-16zM391,1429h24v8h-24zM415,1437h8v8h-8zM423,1445h32v8h-32zM423,1453h32v8h-32zM423,1461h24v8h-24zM407,1469h16v8h-16zM383,1477h8v8h-8zM287,1485h16v8h-16zM135,1493h8v8h-8zM135,1501h8v8h-8zM135,1509h8v8h-8zM135,1517h8v8h-8z"/>
<path fill="#000" fill-opacity="0.875" d="M95,1237h24v8h-24zM95,1245h32v8h-32zM119,1253h8v8h-8zM119,1261h8v8h-8zM127,1277h8v8h-8zM127,1285h8v8h-8zM135,1317h8v8h-8zM135,1325h24v8h-24zM143,1333h72v8h-72zM167,1341h72v8h-72zM183,1349h64v8h-64zM255,1349h24v8h-24zM239,1357h48v8h-48zM255,1365h16v8h-16zM287,1365h24v8h-24zM295,1373h24v8h-24zM311,1381h16v8h-16zM319,1389h24v8h-24zM327,1397h32v8h-32zM351,1405h16v8h-16zM359,1413h16v8h-16zM367,1421h16v8h-16zM375,1429h16v8h-16zM383,1437h32v8h-32zM383,1445h40v8h-40zM415,1453h8v8h-8zM407,1461h16v8h-16zM391,1469h16v8h-16zM359,1477h24v8h-24zM263,1485h24v8h-24z"/>
<path fill="#000" fill-opacity="0.938" d="M95,1253h24v8h-24zM95,1261h24v8h-24zM95,1269h32v8h-32zM95,1277h32v8h-32zM95,1285h32v8h-32zM95,1293h40v8h-40zM127,1301h8v8h-8zM127,1309h8v8h-8zM127,1317h8v8h-8zM127,1325h8v8h-8zM135,1333h8v8h-8zM135,1341h32v8h-32zM135,1349h48v8h-48zM143,1357h96v8h-96zM151,1365h104v8h-104zM271,1365h16v8h-16zM183,1373h112v8h-112zM223,1381h88v8h-88zM287,1389h32v8h-32zM295,1397h32v8h-32zM303,1405h48v8h-48zM319,1413h40v8h-40zM335,1421h32v8h-32zM343,1429h32v8h-32zM351,1437h32v8h-32zM359,1445h24v8h-24zM359,1453h56v8h-56zM367,1461h40v8h-40zM359,1469h32v8h-32zM319,1477h40v8h-40zM143,1485h120v8h-120zM127,1493h8v8h-8zM127,1501h8v8h-8zM127,1509h8v8h-8zM127,1517h8v8h-8z"/>
<path fill="#000" fill-opacity="1.000" d="M95,1301h32v8h-32zM95,1309h32v8h-32zM95,1317h32v8h-32zM95,1325h32v8h-32zM95,1333h40v8h-40zM95,1341h40v8h-40zM95,1349h40v8h-40zM95,1357h48v8h-48zM95,1365h56v8h-56zM95,1373h88v8h-88zM95,1381h128v8h-128zM95,1389h192v8h-192zM95,1397h200v8h-200zM95,1405h208v8h-208zM95,1413h224v8h-224zM95,1421h240v8h-240zM95,1429h248v8h-248zM95,1437h256v8h-256zM95,1445h264v8h-264zM95,1453h264v8h-264zM95,1461h272v8h-272zM95,1469h264v8h-264zM95,1477h224v8h-224zM95,1485h48v8h-48zM95,1493h32v8h-32zM95,1501h32v8h-32zM95,1509h32v8h-32zM95,1517h32v8h-32z"/>
</g>
<polyline class="d" fill="none" stroke="none" marker-start="url(#m)" marker-mid="url(#m)" marker-end="url(#m)" transform="translate(111.0,821.0)" points="1,53 1,42 3,44 8,35 8,36 9,51 9,39 9,35 10,54 12,39 15,43 15,38 17,42 18,32 20,50 23,58 25,51 26,55 30,44 34,37 38,39 39,35 45,35 45,41 50,53 52,40 53,52 56,58 59,33 62,41 66,59 66,32 67,53 71,47 73,52 73,43 74,33 78,53 81,40 84,48 87,50 88,47 91,42 92,46 93,55 95,56 96,50 99,49 99,50 109,37 116,40 116,51 119,57 121,43 122,37 126,39 131,42 132,50 133,51 135,34 136,53 140,56 142,54 143,46 147,40 150,53 152,36 153,59 161,54 165,45 166,58 169,59 169,57 171,59 175,35 176,39 179,54 186,37 191,45 192,57 195,32 196,50 197,56 199,52 201,39 202,36 214,45 218,56 218,51 220,48 221,55 224,54 227,53 228,43 235,36 239,33 241,55 242,50 245,56 246,58 251,37 254,34 256,43 259,45 264,48 265,48 268,57 272,58 272,42 273,42 276,42 283,49 283,42 287,45 290,48 294,50 309,47 312,58 314,32 318,59 320,40 324,53 324,44 325,36 341,34 349,48 357,52 360,32 360,33 363,36 368,43 379,35 380,42 386,56 400,49 401,53 403,43 404,33 414,51 453,42 501,51 1,77 1,65 2,79 4,67 4,90 4,86 5,96 5,62 5,91 6,89 7,82 7,78 8,67 8,63 8,98 9,98 9,73 9,74 11,61 11,73 12,93 12,82 13,92 14,94 15,87 15,74 15,59 16,99 17,84 17,94 17,80 17,61 18,77 18,93 19,89 21,80 23,78 23,98 23,84 25,65 26,87 26,86 27,72 28,77 29,97 29,68 29,66 30,83 31,92 34,92 34,86 37,90 38,90 38,73 40,66 43,59 43,91 45,81 48,80 48,86 51,79 51,98 52,83 52,94 53,66 56,91 58,86 58,92 65,82 66,88 67,84 69,84 79,88 80,74 82,88 86,72 86,76 87,83 87,65 87,92 91,94 94,90 95,72 95,66 96,82 98,61 99,79 100,65 101,94 102,69 103,85 104,90 106,91 106,73 106,77 109,80 110,81 111,92 111,73 113,94 117,86 119,89 120,79 122,74 125,69 126,86 126,73 127,93 128,81 128,75 128,81 129,62 130,97 131,69 131,85 137,89 137,91 141,76 142,86 142,98 143,61 144,69 146,78 147,83 148,93 150,59 150,68 160,93 160,69 161,74 162,87 166,85 166,59 169,86 170,98 171,82 171,92 173,60 175,75 178,72 182,79 183,73 188,61 195,61 195,77 195,88 199,72 200,70 201,68 202,64 205,94 209,93 210,74 213,97 213,59 213,59 214,87 220,93 221,66 223,99 226,60 228,92 230,79 233,92 234,94 237,82 242,91 243,70 247,81 249,87 253,93 254,60 263,65 263,70 264,88 270,78 271,60 274,84 276,71 277,70 283,94 285,86 288,76 289,62 289,71 294,65 296,60 300,77 302,71 304,91 305,86 312,84 312,71 315,86 317,92 324,89 324,96 326,60 327,93 329,65 330,75 330,94 334,69 335,67 342,69 343,90 344,79 349,73 351,85 351,62 355,89 357,87 360,88 360,94 363,92 369,95 370,92 376,76 386,66 394,66 396,95 402,65 406,93 409,66 413,89 420,75 442,62 485,94 487,86 516,68 519,81 0,105 1,105 1,139 2,99 3,129 3,128 3,120 4,133 4,112 5,137 5,128 6,128 7,104 8,105 8,111 9,134 9,124 10,133 11,101 11,137 11,122 12,113 12,130 13,107 13,126 13,114 14,113 14,101 14,137 15,112 15,125 15,123 17,126 18,110 18,102 19,127 19,123 19,134 21,113 22,103 23,135 23,106 26,133 27,135 28,136 29,105 33,135 33,117 34,101 34,108 35,129 36,136 38,118 39,122 39,104 42,125 42,117 42,121 44,139 45,132 46,130 47,133 48,100 51,135 52,124 55,131 55,99 59,102 59,124 60,100 63,107 66,104 74,108 75,119 76,113 78,131 86,135 87,108 91,109 92,115 93,100 94,136 96,113 101,103 101,110 102,133 106,113 107,139 109,134 109,116 116,135 121,138 122,101 123,103 125,137 125,136 128,121 133,132 133,125 134,111 135,132 143,114 146,133 153,99 153,109 155,105 159,132 159,117 162,131 164,108 165,105 165,126 166,135 170,111 172,109 174,138 176,125 176,99 177,126 182,107 182,111 184,109 185,114 185,111 185,128 185,126 185,103 187,115 188,126 191,110 192,129 197,135 204,118 205,104 205,101 207,122 208,132 216,117 216,108 220,137 228,120 228,131 232,102 234,130 235,118 236,110 237,107 239,114 239,122 240,122 243,103 243,129 245,135 247,134 248,129 260,107 261,122 266,118 268,114 270,123 270,131 273,128 276,113 281,100 281,119 282,129 284,136 291,130 293,131 293,119 297,126 299,135 300,127 300,119 302,108 303,101 304,106 305,112 308,137 309,133 309,111 314,128 314,112 315,112 315,126 316,130 317,127 317,134 325,103 325,101 328,119 330,137 330,113 337,138 340,115 342,130 344,125 347,110 350,114 352,133 355,137 360,116 361,105 364,111 365,124 367,112 367,111 371,100 371,125 373,134 373,114 376,124 376,115 379,128 382,133 385,118 406,130 411,103 411,105 417,125 428,127 431,127 437,129 448,133 454,109 465,127 488,112 497,115 508,132 0,151 1,176 1,166 1,145 1,176 2,147 4,147 4,140 5,148 6,143 6,166 7,149 7,165 8,175 9,154 10,140 10,150 11,145 11,149 11,151 12,178 13,169 13,149 13,141 13,168 13,160 14,171 16,161 16,179 16,164 18,173 18,147 20,150 21,144 21,160 21,140 22,164 22,144 24,150 24,177 24,164 25,156 25,150 26,175 26,153 27,164 29,164 29,156 32,167 33,144 34,171 34,172 35,167 35,174 36,144 37,161 37,155 39,141 40,146 41,146 42,161 42,146 45,162 45,173 49,167 50,173 50,160 50,158 51,149 51,149 52,173 53,176 53,164 56,176 58,174 60,154 60,166 61,164 61,175 62,173 64,160 64,142 64,178 66,156 67,165 68,143 68,158 69,146 71,159 71,142 72,172 75,175 77,175 78,166 78,153 78,173 78,154 80,175 84,154 85,163 85,146 87,160 87,170 89,146 93,143 94,144 96,163 97,149 98,154 100,146 100,178 101,140 103,173 104,163 104,175 106,144 107,163 109,148 109,150 111,170 111,150 114,157 117,177 117,171 120,166 120,157 120,170 122,149 124,142 126,154 127,166 127,158 127,162 128,173 128,175 133,162 134,144 135,142 136,175 137,150 138,169 138,148 141,172 142,175 142,143 143,179 144,150 145,161 145,176 147,179 148,144 148,141 151,155 152,144 152,147 153,151 154,165 154,157 154,147 156,169 156,160 159,156 161,146 162,179 162,178 163,156 167,159 168,172 168,176 170,161 170,178 172,154 173,145 173,170 175,141 175,156 176,148 180,144 182,178 182,153 183,150 183,160 183,144 183,143 184,178 187,174 187,142 190,170 193,156 194,177 196,177 196,163 199,143 200,169 202,168 203,144 204,149 205,145 205,150 205,154 208,167 210,150 211,165 213,162 216,148 218,164 220,149 221,160 222,163 228,175 230,161 232,152 233,176 234,142 235,173 236,166 236,153 237,154 238,175 240,157 246,151 248,145 251,161 253,147 255,153 263,142 270,176 280,155 281,157 282,167 282,169 283,171 285,161 286,144 291,159 292,167 292,152 296,170 298,145 299,178 299,167 301,156 304,177 305,154 305,163 311,171 313,161 314,155 316,160 318,160 318,157 324,147 325,145 329,150 333,140 339,145 340,168 348,164 350,147 353,177 354,175 357,148 362,164 374,171 374,165 388,156 388,153 390,149 394,161 395,178 399,176 415,175 415,141 425,150 426,149 428,146 429,150 431,175 456,165 469,146 518,161 518,174 527,175 1,192 1,212 1,211 1,180 2,203 2,216 3,209 3,202 4,212 5,217 5,218 6,181 7,200 8,202 9,192 9,189 9,216 10,201 11,215 12,214 12,188 13,193 13,208 14,209 14,184 15,198 15,197 15,195 16,200 17,179 17,187 20,191 20,212 22,185 23,198 24,189 24,185 25,218 26,204 26,193 26,204 27,205 27,185 27,190 28,215 31,192 31,207 31,184 31,214 33,199 34,192 36,191 36,184 37,202 37,190 38,194 38,205 38,210 39,184 42,186 43,194 45,189 45,212 45,198 45,206 46,179 46,182 48,194 49,209 50,211 54,207 54,189 55,191 57,216 65,196 71,196 72,194 73,200 73,215 75,216 75,209 75,199 76,201 76,199 78,215 78,191 79,207 79,218 80,180 82,210 82,212 83,186 84,195 85,189 87,199 88,219 90,216 91,211 92,201 93,184 94,212 95,199 97,198 103,218 104,200 105,199 105,185 105,197 106,192 110,213 114,204 115,182 116,217 116,194 116,215 117,192 118,212 118,189 121,179 121,193 122,211 123,193 123,201 124,217 124,216 126,196 127,189 127,212 127,198 127,189 131,202 132,197 133,206 133,215 134,192 135,200 136,195 138,216 138,195 139,206 139,210 141,187 142,216 144,192 144,209 145,207 145,191 150,211 152,189 154,184 155,216 155,211 155,190 158,194 159,191 160,207 161,202 161,209 161,213 168,196 169,179 171,203 172,181 173,188 175,189 175,188 176,205 177,186 177,211 177,218 177,190 178,195 181,190 181,187 182,209 184,219 190,188 190,186 193,190 194,214 194,190 194,208 194,203 196,187 198,214 199,184 201,192 201,217 201,182 201,201 202,181 203,211 204,219 206,186 211,210 214,214 215,217 215,217 219,205 220,211 223,209 223,183 224,191 224,182 224,192 226,209 233,211 236,196 237,183 240,217 241,210 241,195 242,193 244,180 246,190 247,181 247,201 249,209 250,209 254,186 254,202 255,189 255,211 258,207 258,182 259,191 269,213 274,183 277,195 277,215 279,207 282,192 283,202 283,185 288,204 292,197 298,212 298,218 300,188 300,218 300,216 308,216 309,189 309,193 309,217 309,181 315,186 316,202 316,211 316,203 317,195 317,201 318,216 318,205 320,185 321,217 325,217 328,198 333,201 334,196 334,198 335,185 346,193 349,208 350,183 351,207 352,201 354,204 357,214 357,181 359,179 368,198 374,202 374,197 377,186 378,204 380,217 387,187 388,208 388,191 388,188 389,212 389,180 390,211 391,199 395,212 403,189 406,193 408,200 411,189 425,209 430,192 437,207 451,206 461,195 495,179 498,214 505,201 525,197 0,238 1,235 1,246 1,257 2,256 3,256 3,229 3,221 3,221 3,225 4,226 4,243 4,256 5,224 5,238 5,223 6,222 6,239 7,241 8,246 8,240 9,233 9,225 9,239 10,229 12,243 12,249 13,224 14,238 14,220 14,248 14,234 15,229 15,237 17,247 17,238 17,228 17,241 18,221 19,227 21,247 21,222 22,249 22,252 22,223 24,241 27,227 27,228 28,243 29,236 29,254 29,240 30,231 30,250 32,224 33,244 33,219 34,219 34,233 35,247 36,248 36,232 36,247 37,233 37,247 38,250 39,224 40,234 41,231 42,220 42,235 43,256 43,249 44,256 44,244 45,237 45,258 46,228 49,256 49,252 50,247 50,227 53,234 54,234 56,243 57,237 57,239 58,246 58,240 59,223 59,223 62,235 63,230 64,244 64,243 64,247 64,240 66,251 66,249 68,231 69,258 69,256 69,245 70,220 71,251 72,219 73,240 74,224 75,223 75,240 75,239 75,233 76,223 76,244 77,256 79,226 80,230 80,253 81,251 81,252 82,254 83,237 83,222 84,228 85,227 87,226 90,231 90,256 91,253 92,252 93,232 93,255 94,244 95,254 95,219 96,223 97,227 97,227 98,225 98,246 98,227 101,225 101,223 102,221 102,241 103,249 104,224 105,238 107,232 108,236 108,228 109,233 110,221 110,246 112,234 112,245 113,244 113,254 113,221 115,240 116,249 116,256 116,247 117,236 118,243 118,242 119,255 119,256 120,232 123,237 124,225 125,231 125,223 127,224 128,250 128,234 128,233 129,233 129,229 130,243 131,238 131,247 132,224 138,249 139,247 139,239 139,245 140,226 140,229 141,250 143,224 147,235 148,237 150,245 150,258 152,231 152,243 155,255 156,228 163,227 164,229 168,224 168,226 168,245 169,256 169,246 170,251 170,246 172,230 172,238 173,232 173,227 173,237 174,228 174,246 174,258 175,230 175,256 176,223 177,235 178,257 178,253 182,244 183,251 183,222 184,255 185,244 187,219 189,234 190,223 191,229 192,258 193,258 194,219 195,251 195,226 196,249 198,248 200,227 202,240 202,255 203,240 206,241 207,222 210,253 210,227 213,241 214,254 215,230 216,251 217,236 219,243 220,227 221,241 225,238 227,250 228,256 230,237 232,226 233,221 234,257 234,227 235,239 237,239 238,253 239,231 240,225 240,228 241,234 242,220 243,256 249,257 249,254 250,234 250,245 250,224 251,227 252,229 253,250 255,252 255,220 255,252 255,224 255,223 255,243 257,231 258,237 258,225 262,246 262,220 263,226 264,225 264,222 267,220 268,257 268,242 272,229 276,249 277,246 277,235 282,254 282,252 284,240 287,230 289,221 290,240 291,238 294,228 299,234 301,247 301,240 302,254 304,229 307,219 312,230 313,247 315,227 316,228 319,228 320,222 325,253 328,223 329,234 330,223 331,253 333,255 333,226 334,233 336,258 336,226 337,227 337,236 340,231 342,230 344,224 345,226 345,231 345,250 346,236 346,230 348,226 348,234 350,245 357,232 359,248 359,226 359,236 359,232 363,246 366,230 366,249 367,232 369,245 370,236 371,245 371,237 373,253 377,233 379,252 381,253 382,259 388,229 392,244 393,229 394,256 398,249 402,247 405,229 408,227 409,235 418,226 420,222 422,236 426,246 459,221 463,240 465,235 470,251 473,231 480,250 511,240 0,270 1,267 1,286 2,293 2,287 2,265 3,291 3,268 3,276 4,272 5,292 5,260 6,261 6,289 7,278 7,271 7,296 9,292 9,264 10,281 10,274 11,281 11,294 12,284 12,287 12,270 13,275 13,288 14,297 14,277 14,298 15,265 17,274 17,261 18,287 18,277 23,261 23,297 23,264 24,282 25,268 27,291 28,294 28,267 29,282 30,288 31,297 32,275 32,278 35,288 35,266 36,274 37,267 37,279 38,270 39,273 41,273 41,287 42,269 42,287 43,283 47,272 47,274 48,283 49,280 49,261 49,299 50,282 50,274 51,265 51,284 54,289 55,269 57,278 57,264 58,291 59,262 60,295 60,272 60,290 60,297 61,282 62,263 64,294 66,283 66,284 67,285 67,275 67,268 68,272 68,287 69,290 69,286 71,296 71,281 71,281 71,297 71,299 72,267 73,276 73,273 73,278 75,291 75,275 75,286 76,296 76,262 76,293 76,294 77,262 79,274 79,280 80,290 81,288 83,283 83,282 84,290 86,299 86,263 88,260 88,279 89,276 89,295 92,289 93,292 93,262 93,285 94,296 94,263 95,286 96,298 96,277 97,295 100,293 100,291 101,296 101,269 101,275 103,287 103,279 104,288 105,287 105,295 106,286 106,284 108,295 108,277 109,298 110,291 111,288 112,265 112,294 114,293 114,282 115,271 115,294 117,294 118,297 120,265 120,274 120,266 121,281 123,274 123,286 123,280 123,274 123,286 123,284 126,298 126,263 127,290 127,259 127,282 127,270 128,298 128,280 128,285 129,294 130,268 130,289 130,273 131,295 131,290 131,287 133,266 133,286 134,281 135,293 135,298 136,275 136,282 137,269 138,293 139,262 140,298 140,275 140,288 142,289 143,280 143,286 144,272 146,279 148,282 149,287 150,276 150,275 150,292 150,288 151,281 151,266 151,291 152,286 153,287 154,281 154,291 156,288 157,290 160,292 162,286 162,276 162,275 165,297 166,275 166,292 168,290 169,286 169,270 169,268 170,291 170,291 170,280 170,291 171,293 171,287 171,287 171,272 172,285 175,284 176,285 178,287 179,269 179,264 181,279 182,270 182,266 183,297 183,276 185,298 185,260 186,270 186,296 187,293 187,270 188,274 189,273 190,276 190,298 192,278 192,298 194,289 194,277 195,260 196,271 198,284 199,290 201,283 202,285 202,270 203,265 203,287 205,292 205,288 205,267 206,288 208,271 208,276 211,295 212,279 212,259 212,287 213,286 214,284 214,275 214,289 215,291 217,266 217,293 218,265 219,276 222,260 222,281 222,272 223,282 225,270 225,293 225,263 226,262 227,279 229,274 231,260 231,274 232,265 234,271 234,295 237,288 239,293 240,295 240,283 241,266 242,277 245,263 247,275 249,277 250,286 252,296 253,280 253,288 254,291 255,291 256,289 257,289 259,278 259,264 261,297 261,267 264,278 266,264 267,289 268,272 269,292 271,296 272,269 272,263 273,264 273,295 274,266 277,279 280,280 281,285 282,294 284,278 284,280 285,274 285,273 287,266 289,296 291,263 291,267 294,267 296,276 296,294 299,271 300,263 301,273 302,269 309,276 310,266 311,297 312,260 312,294 312,296 315,288 316,263 316,276 317,262 317,289 318,282 319,277 319,295 320,299 321,268 321,261 322,296 324,265 328,268 330,287 331,269 332,269 334,289 334,262 336,278 340,271 341,291 343,278 344,269 344,281 345,296 348,293 353,274 353,266 354,289 356,283 361,280 362,285 368,260 378,290 379,276 380,297 382,274 384,285 384,287 388,279 390,286 392,264 392,272 393,280 394,260 399,278 403,275 403,297 405,288 407,277 407,288 413,298 414,297 417,297 421,263 431,283 462,294 462,271 463,281 481,266 493,269 499,268 507,266 516,286 0,327 1,315 1,316 2,313 3,302 3,333 4,333 5,301 5,334 5,322 5,330 5,322 5,315 5,317 5,303 6,318 6,316 6,301 8,337 9,319 10,304 10,334 11,332 12,320 12,299 13,319 13,305 14,322 14,320 16,320 16,333 20,336 20,303 21,302 22,305 22,317 23,309 24,338 25,307 25,335 26,317 26,334 26,302 27,333 27,328 28,335 28,316 28,336 29,333 29,336 30,309 30,329 31,304 31,318 32,320 32,303 33,313 34,337 34,314 34,309 35,310 35,306 35,337 35,322 37,323 40,300 43,306 44,301 44,309 45,300 46,311 47,338 47,308 48,329 48,312 48,306 49,300 49,309 49,316 52,313 52,310 52,305 54,328 55,324 55,336 56,308 56,338 56,300 56,308 57,308 58,330 59,303 59,309 60,338 61,315 61,310 63,310 64,334 65,325 65,305 66,310 67,300 67,302 67,329 67,331 67,336 68,309 68,325 69,309 70,308 71,337 71,312 71,313 71,313 71,309 72,323 72,332 73,302 74,327 77,325 77,310 77,325 78,317 78,311 79,319 79,300 80,335 81,333 82,299 83,310 85,310 85,316 85,319 85,333 86,301 86,320 87,312 87,325 87,305 88,338 88,313 89,310 89,317 89,318 89,321 90,321 91,327 91,303 91,320 94,335 94,327 94,314 96,331 96,331 96,338 96,307 97,329 97,329 97,319 97,319 98,336 98,313 98,330 100,324 100,304 101,311 102,307 102,301 103,308 103,329 105,333 107,338 108,308 108,317 110,310 110,336 111,317 111,303 111,329 112,313 112,315 113,338 113,317 114,301 115,325 115,332 118,300 119,328 119,314 120,328 120,304 120,319 121,307 121,312 122,317 123,314 124,301 125,319 126,337 126,333 126,315 127,311 127,322 128,312 128,305 130,318 131,333 131,305 133,305 134,307 134,313 134,309 136,316 138,309 138,303 139,311 140,333 141,328 141,320 142,303 142,339 142,313 144,338 144,322 146,306 147,304 147,308 147,339 148,321 148,319 149,324 149,338 149,312 151,317 151,332 151,338 152,309 153,331 153,302 153,338 153,321 153,331 156,315 157,333 158,309 159,330 159,329 161,329 162,333 163,302 163,322 163,327 164,318 164,337 169,301 170,308 170,319 171,331 171,332 171,320 171,305 172,330 172,314 172,328 175,315 178,306 178,329 182,329 182,323 183,321 183,319 184,328 185,310 186,327 187,335 190,329 190,334 191,333 191,335 192,309 192,318 193,324 193,322 193,312 193,311 196,327 197,303 197,304 199,301 200,324 200,330 200,311 200,324 202,310 202,306 202,299 203,320 203,319 205,339 206,328 207,335 207,302 207,338 209,300 210,326 211,323 212,301 212,308 214,328 215,301 216,306 216,328 217,318 218,320 220,330 221,322 222,322 222,300 222,308 225,331 228,333 229,302 232,332 232,322 232,334 234,337 235,301 237,323 237,309 238,326 238,313 240,339 240,301 240,314 241,331 244,316 245,319 245,301 246,303 247,309 247,306 248,316 249,306 249,330 249,321 252,329 252,312 253,323 253,318 254,320 255,303 255,327 255,304 256,299 256,336 256,308 257,338 264,327 265,326 266,304 267,316 268,330 269,299 270,322 270,304 271,314 271,307 273,326 274,300 275,333 277,305 277,334 277,328 278,301 279,312 279,309 282,315 283,334 284,320 284,311 286,304 287,320 287,314 288,338 288,320 289,320 289,331 292,330 292,312 295,310 295,301 296,306 300,331 301,320 303,305 304,303 304,333 305,333 305,315 306,305 309,316 310,311 313,330 316,307 317,321 318,329 320,308 320,323 321,337 322,303 322,319 322,316 326,332 327,316 328,332 329,338 330,338 333,314 334,326 335,322 335,301 335,339 337,320 338,333 340,337 341,317 342,306 342,328 350,316 351,326 354,322 356,309 356,316 356,337 359,324 362,326 365,304 366,304 367,335 367,334 367,313 367,333 367,339 367,320 368,299 369,326 369,307 372,326 372,314 378,325 380,310 382,311 386,320 387,310 388,314 391,301 393,327 393,339 399,299 400,322 401,311 402,310 406,305 406,325 408,310 412,320 413,313 415,337 417,333 418,320 420,318 421,317 426,324 433,326 439,329 441,307 449,311 455,334 473,317 474,301 495,312 0,369 1,351 1,365 2,375 4,377 4,346 4,346 6,351 6,350 7,361 10,354 11,364 12,372 12,361 13,370 13,357 13,346 13,357 14,358 16,352 17,359 19,345 19,341 20,357 20,353 21,360 21,372 21,360 21,364 22,356 24,360 24,372 24,371 25,358 25,343 25,363 25,365 26,369 27,377 27,358 28,350 29,357 29,373 29,356 29,370 30,349 31,355 32,350 33,353 33,376 33,366 34,364 37,358 38,347 38,343 39,359 39,346 39,353 39,358 39,365 40,371 40,361 41,348 42,379 44,359 44,350 44,371 45,372 46,342 46,375 47,354 47,355 47,368 48,344 48,360 48,362 50,366 51,366 52,351 53,376 53,356 56,360 58,344 58,343 59,343 59,341 60,357 60,375 62,349 62,350 62,374 62,350 62,354 63,352 63,369 64,348 64,359 65,354 65,347 66,351 66,350 67,366 67,361 67,364 67,376 68,378 70,354 70,353 73,342 73,378 74,340 75,355 75,356 76,369 76,356 76,341 78,362 78,362 79,372 79,368 80,349 81,344 81,349 82,356 82,362 83,350 83,375 83,356 83,343 85,369 85,359 85,353 86,378 87,371 87,349 87,342 88,366 90,369 91,368 91,379 92,375 93,377 93,369 93,356 93,340 94,365 95,361 95,353 97,349 98,351 98,351 99,339 100,370 102,364 103,365 104,364 104,348 105,345 105,377 106,356 106,363 106,364 107,374 108,368 110,364 110,353 111,344 111,377 114,372 115,369 116,357 116,345 117,369 119,358 119,349 119,374 120,351 120,359 120,344 121,375 121,351 121,345 122,377 124,362 125,367 125,356 126,375 126,368 127,357 127,345 127,364 128,365 129,363 131,365 131,367 132,360 132,343 134,343 134,368 134,343 135,366 136,348 136,349 137,360 137,345 137,371 138,345 139,364 140,359 140,372 142,372 142,346 142,343 142,340 145,378 148,368 148,344 148,352 148,375 148,368 149,345 151,377 152,342 153,340 156,375 158,360 159,353 159,344 160,364 160,346 166,354 167,340 168,379 168,346 168,347 169,340 170,378 172,371 172,344 173,371 173,353 174,345 174,375 175,342 177,364 177,358 177,355 177,369 178,356 178,354 178,350 181,372 181,355 182,356 182,356 183,367 183,373 183,341 183,377 184,351 184,370 186,347 186,353 186,368 188,342 190,354 190,347 193,350 194,349 194,362 195,361 195,369 196,346 197,370 198,374 198,368 198,373 200,345 202,343 202,370 203,370 203,353 204,372 205,361 206,359 207,373 208,352 210,354 212,363 213,374 213,344 213,367 214,366 216,366 217,365 217,352 219,373 221,352 222,357 222,348 222,371 228,354 230,357 233,354 233,377 234,359 234,371 234,375 235,379 235,359 235,369 235,370 237,360 238,376 238,353 238,346 239,372 240,350 240,375 241,361 241,347 242,345 243,374 243,350 244,372 245,375 247,347 250,350 252,348 252,364 253,342 253,352 254,365 255,352 256,347 256,349 256,363 257,342 258,371 259,347 262,378 262,343 262,376 267,354 271,378 271,370 272,374 272,348 273,369 273,366 274,360 277,356 278,343 282,364 282,367 282,376 283,346 286,360 286,344 286,373 288,346 289,370 289,366 292,358 293,367 294,349 297,347 297,355 298,349 298,371 299,372 300,364 300,359 303,348 303,340 304,362 307,348 309,363 309,352 312,344 319,349 319,352 320,368 323,379 324,343 324,374 325,371 328,352 328,379 328,377 331,351 332,362 334,376 334,356 336,347 341,369 343,356 343,377 343,374 344,374 350,377 352,350 353,341 353,357 354,367 356,346 358,375 358,346 358,363 359,353 360,359 361,343 362,342 363,344 369,344 376,370 376,363 377,344 378,377 381,347 383,376 383,360 385,353 385,371 386,350 388,374 389,349 392,360 394,342 395,374 396,360 396,358 401,343 403,361 413,375 417,350 419,354 423,349 449,376 499,349 520,363 0,384 1,381 1,411 1,407 2,393 3,404 3,400 3,406 3,415 4,383 5,405 5,394 5,396 6,400 9,412 9,414 10,381 10,410 12,398 12,398 12,387 12,387 12,403 13,380 14,413 15,381 16,416 16,386 17,416 18,395 18,406 18,396 19,400 19,390 19,400 20,383 20,397 21,418 22,380 22,416 25,396 25,405 27,394 28,418 29,410 29,385 30,403 30,387 30,405 30,414 30,397 31,381 31,414 34,396 35,410 35,393 35,418 36,407 36,404 36,381 36,388 36,386 37,401 37,413 38,390 38,380 38,406 39,405 39,409 40,409 40,390 40,411 42,415 44,395 44,389 44,391 45,417 46,404 46,409 47,402 47,414 47,389 50,407 50,381 50,380 51,394 51,387 52,399 52,402 54,387 55,416 56,402 60,389 60,400 60,409 61,395 62,415 63,406 63,395 65,393 65,390 67,382 68,386 68,381 70,410 71,416 71,407 71,401 73,412 74,413 74,389 74,380 75,393 75,381 75,403 77,402 79,388 79,382 79,414 80,381 82,379 82,407 83,414 83,379 83,397 83,398 83,401 84,406 84,397 84,409 85,413 85,417 88,416 89,413 90,380 90,398 91,400 93,404 93,408 94,411 96,398 96,383 97,415 97,405 97,392 97,380 98,385 99,415 99,392 100,401 101,418 103,418 103,414 104,406 105,393 105,388 105,414 107,385 107,410 108,399 108,405 109,399 109,413 110,418 111,398 112,410 114,399 114,379 117,407 117,380 117,395 118,379 118,413 119,384 120,388 121,383 121,395 122,390 122,403 122,393 123,413 123,418 124,411 124,410 124,388 126,419 127,379 128,410 129,408 130,392 130,396 131,416 133,417 133,418 134,402 135,404 135,398 138,390 140,403 140,401 140,417 143,380 143,416 144,393 144,405 146,391 146,395 146,386 147,394 147,407 148,411 148,418 148,384 149,412 151,383 151,406 152,401 152,402 153,388 154,388 154,416 154,408 155,417 155,380 156,413 156,401 156,391 157,384 157,386 158,406 159,380 161,387 161,416 162,404 162,387 163,388 164,393 164,382 165,415 165,398 166,400 171,397 171,391 171,400 171,409 171,397 171,388 172,397 172,392 173,395 173,408 174,389 174,402 175,405 175,380 176,404 177,415 177,383 178,416 178,384 178,418 178,389 179,398 180,393 182,405 182,406 183,383 183,415 183,407 184,411 186,386 186,381 187,381 187,401 188,407 188,402 189,394 189,404 189,406 189,398 192,392 192,413 193,384 193,380 193,405 193,417 194,382 194,380 195,401 196,416 196,380 197,379 198,396 198,386 198,399 198,417 199,419 200,409 201,395 201,414 202,395 202,401 203,410 203,396 203,389 204,382 206,399 206,390 206,385 207,409 207,383 208,412 209,392 209,416 209,396 210,400 210,394 210,413 210,392 212,401 212,386 213,411 213,383 213,417 214,385 215,386 216,386 218,387 219,388 220,386 221,405 221,399 221,381 223,381 225,395 225,402 226,409 226,412 227,385 228,395 230,386 230,380 230,382 231,405 232,387 232,419 232,406 233,402 236,413 236,408 236,383 238,394 239,409 240,410 241,392 241,394 242,416 242,404 242,407 242,416 243,383 244,388 245,395 246,415 246,385 246,417 246,383 247,400 247,393 250,409 251,410 253,406 253,402 253,388 253,405 254,392 254,401 255,387 255,379 256,419 257,398 258,392 258,389 259,407 259,391 259,390 259,397 260,405 260,414 260,384 261,414 265,395 266,410 266,384 267,395 267,407 268,415 270,381 270,381 272,385 273,409 274,404 274,412 274,381 275,418 276,403 277,393 279,391 279,390 280,410 280,398 280,380 282,417 283,405 283,395 284,419 284,412 284,381 285,382 286,386 286,398 287,386 288,383 289,394 291,402 291,411 292,400 292,392 293,412 294,391 295,385 296,417 296,410 297,411 297,382 297,389 299,402 299,409 301,403 303,410 304,413 305,397 307,408 307,382 308,404 309,380 309,382 310,380 311,395 312,418 313,414 313,391 314,381 314,384 315,381 316,401 316,410 317,416 317,414 318,392 318,397 321,395 321,390 325,387 325,410 327,410 330,397 330,418 331,401 332,410 333,383 333,400 335,384 337,417 337,383 338,408 338,409 338,406 339,391 339,387 342,392 342,414 344,399 347,417 347,415 349,414 354,381 357,409 360,393 360,388 361,398 362,397 367,388 367,411 368,413 370,390 371,418 371,408 372,406 372,418 375,414 376,385 379,401 379,397 380,384 381,396 383,384 385,407 385,395 387,398 387,413 388,381 390,410 391,398 392,389 400,401 400,398 402,399 404,394 407,397 410,412 413,391 417,406 418,395 418,391 423,409 423,402 432,388 440,407 444,418 449,401 455,388 457,398 459,402 467,387 470,389 481,396 483,417 488,395 490,396 505,383 513,413 2,427 3,451 3,422 3,443 4,434 5,455 5,454 5,438 7,441 8,430 8,429 9,420 9,429 10,425 11,424 11,432 11,450 11,443 12,443 12,424 12,444 12,452 12,432 12,454 14,449 14,436 14,431 15,431 15,429 15,438 16,450 18,429 19,420 22,448 22,456 23,423 24,454 25,454 25,422 25,457 26,452 28,427 29,426 29,438 29,433 31,435 32,436 32,450 33,432 33,450 34,438 34,445 35,456 35,451 36,432 36,452 37,422 37,443 37,451 38,442 39,458 39,443 40,458 41,459 41,443 42,436 42,450 42,451 43,450 43,453 43,439 47,421 47,434 48,455 48,438 49,421 50,438 51,429 51,435 52,456 53,445 53,438 55,434 55,456 56,430 57,431 57,419 58,449 58,447 59,421 60,424 61,435 61,448 63,444 63,429 64,450 64,427 65,433 65,441 65,436 65,437 66,443 66,442 67,446 68,452 69,456 69,444 70,456 71,427 72,452 72,446 72,449 77,426 77,439 77,439 80,423 80,456 80,447 82,424 82,430 82,447 82,442 83,436 86,439 86,425 88,428 88,450 89,455 91,447 91,434 91,456 91,428 91,426 92,423 93,430 93,419 93,443 93,455 94,455 94,427 94,453 98,422 100,453 100,447 101,450 103,438 105,421 105,426 105,445 107,420 108,444 108,439 111,436 112,427 113,444 114,419 114,440 115,439 116,439 117,436 117,456 117,436 118,424 119,436 122,429 122,426 123,442 123,441 124,433 124,424 125,458 126,427 126,451 127,456 127,452 129,452 129,442 129,430 130,449 130,453 131,437 131,426 133,432 134,421 134,431 136,454 136,453 137,454 138,421 138,443 139,447 140,426 140,435 140,420 141,428 141,431 141,457 144,436 144,434 145,449 147,449 147,449 148,449 148,436 149,441 150,445 150,432 151,451 152,431 152,447 153,448 153,450 153,429 154,436 154,420 154,437 155,440 156,425 157,421 157,443 157,422 158,455 160,450 161,441 161,452 161,445 161,443 163,437 163,420 163,424 165,431 165,455 166,451 166,442 168,448 168,442 169,422 170,456 171,446 171,441 171,432 172,437 172,448 172,445 173,440 175,434 175,439 176,430 178,441 178,446 178,438 178,431 178,423 178,424 180,421 180,453 180,456 181,440 183,433 184,454 185,453 185,452 186,432 188,451 189,427 190,449 190,437 190,441 190,426 190,443 190,421 190,436 192,428 193,432 193,445 193,429 195,452 195,448 196,450 196,420 197,440 197,434 200,421 201,423 201,426 201,449 202,437 202,426 203,448 203,454 203,437 206,445 207,436 209,448 209,424 209,438 209,420 209,437 210,439 210,422 210,431 210,426 210,430 211,453 211,432 213,441 215,459 215,442 215,447 215,424 216,443 216,425 217,456 217,426 217,426 219,439 219,437 220,456 221,446 221,423 223,448 225,434 225,450 225,444 225,446 226,447 227,455 232,440 232,445 233,453 233,453 233,433 234,449 235,439 235,452 235,419 236,458 236,453 237,458 239,434 239,444 241,451 243,458 244,432 245,449 246,442 246,425 247,445 249,424 249,422 249,422 250,453 250,431 251,448 251,450 251,457 252,448 253,449 254,428 255,444 255,444 256,446 256,440 258,454 259,436 259,429 262,436 262,426 263,449 263,445 264,421 266,435 268,433 270,441 270,457 273,447 273,446 273,445 273,454 273,456 274,437 274,420 275,446 275,450 275,444 276,459 276,435 276,451 278,456 279,449 279,449 280,432 281,448 282,451 282,445 283,441 284,427 284,424 286,438 286,426 286,421 288,441 288,423 289,433 290,422 293,452 294,443 295,436 297,436 298,447 298,425 299,458 299,440 302,455 303,433 304,422 305,440 306,446 306,438 306,424 307,440 307,428 307,450 308,451 308,425 309,424 309,431 310,455 310,446 311,431 312,429 312,431 312,454 315,437 315,423 315,449 315,421 315,455 315,428 316,421 316,444 316,431 316,439 317,452 317,440 320,446 320,451 320,437 323,442 323,444 323,451 323,450 325,441 325,449 326,433 327,456 327,446 328,421 328,450 328,454 329,434 329,434 329,440 329,438 330,448 330,454 332,454 332,448 333,431 333,433 333,433 334,441 334,444 335,433 336,459 337,435 338,426 338,448 338,447 339,425 340,426 340,444 344,454 344,445 345,435 347,436 348,429 350,440 350,422 352,443 352,439 352,436 353,432 353,440 354,455 356,434 356,439 357,454 358,436 359,444 360,446 361,426 362,445 365,451 365,422 365,419 366,428 367,449 368,434 369,425 370,458 370,429 371,440 372,422 372,456 374,442 374,438 381,430 384,436 384,458 387,437 392,422 394,454 396,432 396,425 397,458 397,437 399,430 401,421 402,446 403,422 404,431 405,435 408,448 408,447 408,459 409,422 411,448 415,447 416,451 417,442 419,430 419,422 421,456 422,457 425,454 437,457 439,447 442,443 451,437 462,449 468,446 469,424 472,447 476,444 478,426 483,445 484,458 487,442 493,446 494,436 496,430 0,495 0,464 0,466 1,469 1,485 1,491 2,493 2,476 2,470 2,490 2,482 4,479 5,496 6,463 6,459 7,477 7,476 8,487 8,479 8,482 8,461 9,496 10,464 10,471 11,482 11,470 11,473 13,470 14,472 15,480 16,479 16,494 17,484 18,466 18,460 19,492 19,482 20,494 20,487 20,488 20,466 20,468 22,493 23,493 23,461 25,471 27,460 27,495 28,478 29,477 30,493 30,486 32,499 32,479 34,496 35,460 35,470 36,459 41,496 41,462 43,498 43,488 44,462 45,483 45,488 47,481 48,476 48,498 49,484 50,462 50,464 50,498 50,476 50,491 51,472 51,490 52,478 53,491 53,494 53,476 53,499 54,463 57,497 57,498 60,474 61,475 61,484 61,487 61,496 62,475 63,482 64,499 64,483 66,488 66,485 68,486 70,484 71,482 71,485 73,460 73,497 74,479 74,488 74,494 74,467 75,470 76,467 76,495 76,465 76,496 76,492 76,469 76,487 78,473 78,498 79,476 79,498 79,499 81,461 82,467 83,463 83,464 85,489 85,479 85,498 88,492 88,479 88,463 88,487 89,493 89,463 90,486 90,477 91,462 91,482 91,469 92,473 92,484 94,486 94,464 94,492 95,464 95,496 96,472 96,486 97,472 97,471 98,469 98,471 99,465 99,461 99,498 100,471 100,471 103,475 104,467 106,459 107,488 107,465 107,485 107,469 110,483 111,497 112,471 113,468 114,498 114,487 114,497 114,490 115,494 115,473 115,490 116,490 116,465 116,486 117,461 117,484 117,494 118,466 119,466 119,475 121,464 122,466 124,464 124,485 126,490 127,474 127,479 129,495 131,472 131,482 131,473 131,497 132,486 133,468 134,459 134,495 134,473 135,463 137,463 137,488 138,496 138,489 138,467 140,473 140,472 140,463 140,491 143,499 143,483 143,474 144,496 145,473 146,473 147,489 148,463 148,471 149,471 150,491 151,478 152,480 152,492 154,494 154,463 154,487 156,464 157,488 158,464 158,487 159,481 159,478 159,482 162,492 162,467 163,462 163,497 163,470 163,491 165,498 166,491 168,475 168,475 168,491 168,487 169,476 171,488 171,496 172,481 173,496 174,477 175,460 175,488 176,460 176,488 177,474 178,473 178,467 178,471 179,469 181,465 181,491 181,492 181,488 182,464 182,471 182,466 183,484 184,496 185,471 186,487 187,466 188,496 188,461 188,464 190,480 190,494 191,478 191,480 193,479 193,494 194,469 195,473 195,471 195,460 197,459 198,476 199,484 199,463 200,479 203,489 203,474 203,488 204,469 206,462 206,484 207,480 207,469 208,464 209,459 211,482 212,476 213,470 213,473 214,494 218,483 218,484 219,491 220,477 223,472 223,486 224,476 225,479 226,483 226,475 227,472 227,467 227,485 227,497 228,481 228,478 229,478 229,489 229,463 231,495 232,472 233,461 233,473 233,479 235,483 235,498 235,499 237,469 238,472 238,482 238,476 239,476 240,479 240,478 241,462 241,468 242,472 244,493 244,464 245,475 245,493 245,483 246,479 247,477 248,498 248,476 248,498 249,461 249,461 250,495 253,462 253,485 253,484 254,468 255,471 255,487 256,469 256,468 257,469 258,489 259,460 259,483 259,484 261,496 262,491 262,476 263,473 263,468 263,476 264,471 265,462 266,459 266,470 266,465 266,477 269,473 269,482 269,497 269,461 269,476 270,477 270,467 272,461 273,460 274,489 275,473 275,466 277,459 279,479 279,495 280,484 281,493 281,490 281,483 282,466 283,488 283,467 284,480 285,474 285,495 287,482 287,464 289,482 290,493 292,479 293,470 293,493 295,499 295,487 296,475 296,487 297,486 299,490 300,478 300,493 300,476 301,482 302,492 303,477 303,473 304,471 304,467 304,480 306,479 308,494 308,481 309,495 309,488 310,471 312,461 312,491 312,491 313,477 313,498 314,473 314,498 315,491 316,496 317,475 317,482 319,470 319,468 320,475 320,478 321,462 321,490 321,489 322,468 322,467 323,499 323,474 323,475 323,499 323,478 324,482 324,486 324,464 324,498 325,486 325,474 327,490 328,479 330,493 331,480 333,477 333,493 334,496 334,461 335,481 336,481 337,489 337,491 338,473 338,480 339,491 340,460 340,489 340,479 341,487 342,488 343,459 343,482 344,478 344,473 345,491 345,498 346,468 347,473 347,492 347,488 347,492 347,489 348,472 349,497 350,473 351,478 351,498 354,470 354,487 354,493 354,485 355,489 356,482 357,489 357,494 358,473 358,495 360,470 361,473 362,469 363,493 364,472 364,475 365,488 366,468 367,493 369,482 369,487 370,498 371,492 372,480 372,488 373,492 375,463 376,483 376,474 377,470 378,485 378,478 378,469 378,461 379,466 379,481 379,476 383,488 386,484 388,492 393,463 395,499 395,472 395,483 396,460 396,466 398,479 399,463 399,480 400,467 404,459 406,477 408,499 410,494 411,480 411,468 412,497 415,480 419,493 423,475 424,499 424,461 428,482 430,465 438,462 438,494 448,484 450,477 457,465 459,463 463,499 472,474 479,489 479,497 511,492 525,464 526,499 0,502 0,513 0,511 2,531 3,533 3,532 3,535 3,502 3,514 4,505 4,520 4,508 5,503 5,511 6,538 7,502 7,517 8,517 8,517 9,516 10,509 10,499 11,522 12,531 13,499 13,519 13,530 13,511 14,519 18,503 18,537 19,520 19,527 20,536 20,525 20,502 21,510 21,529 22,527 23,516 23,519 24,518 24,534 25,516 25,519 25,508 26,528 27,521 27,537 27,528 27,520 28,523 28,521 28,512 30,507 30,535 30,518 31,515 31,538 31,504 32,506 32,528 33,527 34,534 34,533 34,507 34,522 35,529 35,504 36,513 36,523 36,525 36,521 37,532 37,507 38,515 39,524 40,535 41,522 41,527 42,511 43,517 43,530 43,527 44,504 45,525 45,516 46,512 47,520 47,507 47,530 47,501 47,512 48,516 48,524 49,503 49,521 50,515 51,531 52,513 53,521 54,506 54,501 54,506 54,518 55,518 55,500 55,499 56,507 56,518 57,515 59,527 59,501 62,527 63,501 63,521 64,510 64,526 64,532 65,526 65,499 66,534 66,505 67,519 69,521 69,503 69,523 71,517 71,509 72,502 72,534 72,527 73,506 74,525 74,500 75,507 75,522 76,502 76,523 77,534 77,537 77,524 77,514 78,513 78,533 79,524 80,530 80,520 80,501 82,536 82,531 82,505 83,500 84,505 87,533 88,516 88,534 88,534 88,528 89,516 89,538 90,535 92,505 92,511 93,514 93,516 93,539 95,507 95,536 95,515 96,510 96,525 97,500 100,501 100,529 100,522 100,518 100,510 100,517 102,510 102,514 102,536 103,530 103,522 103,508 104,529 106,515 108,509 109,529 109,523 112,509 112,506 113,538 113,523 113,507 113,511 114,524 114,507 116,533 117,507 118,538 118,506 119,531 120,499 121,519 121,521 121,524 121,500 122,508 123,499 123,503 123,529 123,505 126,531 126,538 127,519 127,538 127,505 127,529 127,513 128,529 128,501 131,506 131,536 131,505 132,520 132,519 132,519 133,534 134,524 136,510 136,514 136,517 137,530 138,526 139,510 139,510 139,522 140,535 140,527 141,512 143,538 143,511 144,500 145,508 145,531 146,519 146,522 146,514 148,515 149,508 149,519 149,537 150,518 151,505 151,522 152,528 152,526 154,518 156,525 156,537 156,538 157,514 160,513 160,515 162,509 162,531 164,507 164,525 165,537 166,526 166,533 166,500 166,536 167,515 168,511 168,529 168,519 168,531 169,508 170,521 171,519 171,500 172,508 173,508 174,526 174,531 175,533 175,513 175,506 176,513 176,516 178,519 179,536 180,539 181,522 181,519 182,538 182,531 182,505 183,511 183,525 184,510 185,519 185,511 185,504 186,520 186,514 188,504 190,534 190,506 190,537 192,525 193,521 193,528 194,527 195,533 195,533 196,537 198,539 198,511 199,517 199,538 200,518 200,501 201,526 201,534 201,516 201,503 202,517 202,521 203,525 203,528 204,518 204,529 204,517 206,515 209,522 210,526 210,538 210,507 212,523 213,536 213,502 213,513 214,537 215,515 216,523 218,500 218,510 218,513 218,535 219,502 219,529 219,502 220,525 221,504 221,534 222,535 222,518 224,510 225,522 225,531 226,514 227,533 227,504 228,525 229,512 229,517 232,532 233,512 233,522 235,538 236,502 236,521 237,506 237,535 237,528 239,518 239,539 241,501 242,516 242,516 242,534 242,528 243,521 243,530 244,514 245,536 245,517 245,515 245,514 246,508 246,524 247,521 248,538 249,504 249,536 250,533 250,521 251,516 251,527 252,513 252,511 252,522 252,502 253,514 253,524 254,528 254,536 255,521 255,520 256,521 257,511 257,506 259,518 259,500 259,510 261,517 261,505 262,537 262,530 263,502 263,535 263,505 265,522 266,531 267,532 267,520 269,523 269,502 270,505 270,527 270,519 270,536 270,517 271,532 272,517 273,499 273,520 274,504 274,526 274,503 276,515 279,506 279,513 280,506 280,508 281,516 281,521 282,533 282,507 283,530 284,535 284,524 284,524 285,507 286,534 287,528 288,530 288,523 288,533 289,507 290,513 290,513 290,519 291,528 291,501 291,531 291,532 294,507 294,533 294,513 296,519 296,506 296,510 296,514 296,524 297,523 298,508 298,519 299,509 299,506 300,523 301,535 301,525 301,527 301,501 302,507 302,507 303,509 303,512 303,505 303,525 304,519 305,533 306,505 306,520 307,520 308,505 308,538 309,526 309,503 310,501 310,517 310,502 311,503 311,502 312,524 313,526 313,534 313,505 314,530 314,500 315,501 315,517 315,527 315,516 317,506 317,504 318,505 318,518 319,528 319,510 320,522 321,515 323,534 323,516 325,528 326,533 326,535 327,520 328,533 328,529 330,514 330,506 331,511 331,506 333,514 333,502 334,502 334,518 334,517 334,519 335,507 337,533 339,520 339,499 339,515 342,514 342,527 343,522 345,514 346,523 346,508 347,523 348,529 348,509 349,534 349,522 349,524 350,529 351,533 352,519 352,539 353,512 354,524 355,534 356,501 358,539 358,507 358,530 360,535 360,537 361,517 362,518 362,521 364,533 365,530 365,521 366,509 366,501 367,528 367,518 368,507 368,532 368,506 370,516 370,512 372,513 372,510 372,509 373,520 373,529 373,537 375,535 375,512 376,500 378,513 378,525 379,534 379,532 379,523 380,504 380,524 381,539 382,534 383,520 384,538 386,512 389,500 390,535 391,525 392,512 393,520 393,526 393,528 396,512 399,530 402,509 403,525 404,525 407,531 409,501 410,513 413,530 414,522 415,530 416,529 416,506 416,531 416,525 418,535 418,511 421,523 421,510 427,524 427,500 430,516 433,531 449,538 454,538 458,509 470,533 470,520 470,526 473,512 473,536 475,505 475,524 477,528 478,521 483,522 485,518 488,529 503,499 509,531 519,506 523,501 0,570 0,546 1,566 1,561 2,552 2,573 2,569 2,550 3,543 4,546 4,567 6,547 7,546 7,564 8,559 8,548 9,549 10,548 11,571 12,572 13,564 14,557 14,548 14,541 15,542 16,550 17,566 17,554 17,545 18,557 19,560 19,551 19,543 21,553 22,550 23,567 23,545 23,539 23,545 24,564 26,559 27,577 27,558 27,569 28,556 28,576 28,542 29,564 29,562 30,543 31,579 32,552 32,551 33,546 34,568 36,573 38,562 38,556 40,575 41,546 41,561 42,562 42,579 43,543 44,556 45,568 47,566 48,555 48,570 49,548 50,573 50,553 50,560 52,561 52,553 53,573 54,574 54,559 55,554 56,567 57,547 58,542 58,566 59,559 60,558 61,553 61,574 61,541 61,543 63,574 63,557 63,539 64,540 64,552 65,557 65,542 66,562 66,561 67,559 67,554 68,573 69,555 70,545 71,566 71,545 73,549 73,542 74,553 74,567 74,575 75,568 75,555 75,559 76,574 76,563 77,542 78,578 79,567 80,567 80,540 80,550 80,570 81,567 83,557 84,543 84,542 84,557 85,559 85,573 86,568 87,557 87,557 88,573 89,556 89,560 89,546 89,559 90,565 91,556 92,548 93,558 94,576 94,565 94,567 94,575 97,576 98,575 98,561 99,568 99,561 99,565 101,558 102,565 103,550 103,546 103,544 105,545 106,549 106,553 107,558 107,552 108,571 109,573 109,552 110,542 110,539 113,569 113,572 113,579 113,566 114,569 115,560 115,543 116,554 117,577 119,541 119,550 121,548 122,545 122,543 123,562 123,576 124,543 125,579 126,548 126,555 127,556 127,562 127,560 128,569 128,553 129,570 130,564 130,558 131,568 131,545 131,549 131,570 132,542 133,575 133,557 135,541 135,551 135,578 137,560 137,564 137,553 137,573 138,575 140,577 142,567 143,565 143,545 144,568 145,544 145,569 145,575 147,574 147,549 147,549 148,574 148,549 150,546 150,571 151,545 152,545 153,572 153,560 154,577 154,555 156,544 156,576 156,577 157,553 157,558 158,541 158,568 158,540 159,550 159,576 160,539 160,557 160,550 161,577 162,546 162,554 162,562 163,549 163,540 164,558 166,557 166,553 166,575 166,566 167,550 167,554 168,557 168,544 168,553 168,548 169,557 171,549 174,575 174,540 174,564 175,553 175,566 175,578 176,559 177,578 177,542 177,543 178,570 178,555 179,541 180,572 182,571 185,546 185,557 185,574 186,547 187,551 188,564 188,546 188,546 190,563 191,567 191,566 191,545 192,575 194,549 197,554 197,540 198,577 198,550 199,578 200,579 201,562 202,546 202,565 203,558 203,549 203,568 204,570 205,546 205,561 205,562 205,565 205,550 206,546 206,539 207,570 209,559 210,569 210,565 211,562 211,550 211,567 212,552 213,576 213,576 214,571 214,577 215,551 215,575 215,540 215,566 218,567 218,567 218,557 219,544 220,578 220,548 222,577 223,545 225,545 225,541 227,554 228,548 229,567 229,557 231,551 231,561 232,564 236,549 236,574 238,569 239,553 239,545 239,568 240,562 240,553 240,576 241,546 241,563 242,570 242,556 243,552 244,545 244,561 245,559 247,576 247,557 248,555 248,573 249,563 249,570 251,551 252,546 252,562 253,551 255,546 255,559 256,561 256,541 257,542 257,573 257,564 258,564 259,557 260,552 261,541 262,561 262,573 262,577 262,567 262,552 262,571 263,575 264,540 264,575 264,541 264,548 265,565 265,547 266,571 267,558 267,569 267,567 268,565 270,556 270,564 271,564 271,561 271,550 271,554 272,544 273,543 273,555 274,546 274,545 275,574 275,572 276,549 277,577 277,561 278,546 279,575 279,571 280,556 280,551 280,557 281,548 282,564 282,542 283,540 284,565 285,547 285,540 286,567 286,565 286,557 288,555 288,548 289,576 290,552 290,559 290,552 291,570 291,560 294,556 295,557 296,552 296,552 297,567 297,575 297,549 298,545 298,579 300,573 301,569 302,563 302,542 303,565 304,540 305,575 305,579 306,566 306,568 306,564 307,571 308,567 308,551 308,541 309,572 312,576 312,543 313,570 313,576 315,544 316,562 316,540 317,578 317,577 317,573 318,549 319,576 321,551 322,578 323,560 324,542 325,553 325,555 326,545 326,562 326,560 327,563 327,550 327,562 327,542 328,545 329,571 331,578 332,575 332,574 333,546 333,546 334,574 334,543 334,563 334,572 335,572 335,550 336,565 338,550 338,560 339,543 339,555 339,565 340,571 340,565 340,563 341,565 342,551 342,561 342,551 343,543 345,571 346,549 347,563 347,566 347,541 348,552 348,558 349,551 350,567 350,566 352,557 352,569 352,541 352,563 353,559 354,562 354,565 354,551 356,554 356,544 357,561 357,557 358,548 358,570 359,551 359,542 360,545 361,556 362,546 362,558 362,579 363,540 366,551 367,560 367,552 369,550 369,550 369,550 370,577 371,572 371,571 372,562 372,553 373,576 376,546 377,572 378,540 378,550 378,571 378,549 378,562 378,566 380,572 382,572 383,541 384,544 385,579 385,564 386,561 386,555 388,566 389,557 390,561 391,554 392,562 393,548 393,567 395,565 395,544 396,579 399,570 401,558 402,573 403,562 405,546 407,547 407,564 407,570 408,571 408,568 410,563 410,565 412,571 412,562 412,576 413,558 415,548 417,557 418,579 421,570 423,568 423,550 424,561 425,545 425,544 428,553 429,575 432,553 432,570 437,550 437,544 439,579 440,569 443,558 444,544 444,551 445,571 448,541 449,550 458,574 465,559 467,564 470,550 470,561 482,556 484,574 491,553 493,578 493,557 494,539 495,562 502,557 507,542 513,562 513,545 518,569 523,556 524,575 0,596 0,614 1,587 1,603 2,611 2,594 2,583 3,594 4,587 5,596 5,607 5,603 5,613 6,619 6,614 7,609 7,602 7,593 7,605 10,582 10,600 11,597 11,594 12,581 14,600 14,608 14,600 15,613 15,610 15,583 15,583 15,596 18,605 19,614 19,587 20,592 20,580 21,598 24,603 25,594 27,616 27,592 27,617 27,588 28,617 28,614 29,601 30,593 30,591 31,616 31,616 31,605 32,614 34,605 34,587 35,599 36,591 36,599 37,602 38,581 39,613 39,607 40,580 41,612 41,604 41,616 42,613 43,592 43,595 44,594 45,583 45,582 46,601 46,612 49,579 52,602 52,580 54,611 55,601 55,612 56,615 56,609 57,594 58,610 60,583 60,611 60,594 60,592 60,605 60,587 61,581 62,597 62,594 64,584 64,617 68,584 69,599 72,584 72,601 73,614 75,599 75,587 77,616 77,604 78,582 78,587 79,608 79,586 81,588 83,608 83,606 83,613 85,617 87,610 87,590 88,609 88,591 88,590 89,595 89,604 90,585 90,609 91,610 94,615 94,590 94,592 95,618 95,600 96,616 96,615 96,600 98,607 101,584 104,609 104,603 106,607 107,596 108,603 108,611 109,588 110,614 111,616 113,591 114,611 114,619 114,615 115,603 115,592 115,606 116,587 117,587 117,603 117,614 118,605 121,605 121,612 122,582 122,586 122,605 124,611 125,618 125,589 125,605 126,615 126,601 128,617 128,602 129,612 132,617 132,616 132,619 133,609 133,602 134,615 134,611 134,616 136,607 138,596 138,611 140,590 140,588 141,611 141,592 141,615 142,608 142,602 142,607 142,605 142,586 143,583 144,614 147,587 147,614 148,591 150,607 151,584 151,609 153,602 154,609 154,584 155,590 156,593 156,606 156,611 157,587 158,599 159,617 160,587 161,618 163,602 163,603 163,599 163,609 164,602 164,585 164,609 166,585 166,606 166,593 168,613 169,584 169,598 170,582 170,582 170,595 171,610 172,596 172,593 172,581 173,606 176,597 177,600 177,595 179,607 180,614 181,610 181,610 182,612 182,613 183,615 183,609 184,615 185,590 186,582 186,606 187,606 188,596 189,591 189,597 190,618 190,600 191,594 191,597 192,617 192,602 193,610 193,604 193,589 193,609 194,604 194,609 195,589 196,619 197,607 198,583 199,581 201,589 201,606 201,582 204,605 205,590 206,590 206,597 206,601 206,617 206,614 208,610 209,610 209,600 209,615 210,582 210,600 210,588 210,606 210,593 212,593 214,588 215,613 215,593 216,587 216,607 218,609 218,612 218,588 220,615 221,618 222,589 222,594 223,587 223,591 225,598 225,609 225,591 225,602 228,614 229,610 230,600 230,608 231,592 232,605 234,584 234,596 235,604 235,608 236,618 236,607 237,593 238,609 238,592 238,608 239,604 239,579 240,582 241,598 241,582 241,617 242,601 243,602 243,600 244,615 245,619 245,592 246,597 250,593 250,602 251,599 251,584 252,580 252,590 253,601 254,604 254,604 255,593 256,614 256,611 258,600 258,605 258,617 258,599 260,605 260,608 261,614 262,592 262,604 264,602 264,595 265,582 265,605 266,581 270,587 270,579 272,585 274,608 274,602 275,594 275,609 275,582 277,584 278,584 278,602 278,588 279,610 279,609 280,581 280,597 281,592 281,591 281,614 283,597 285,614 286,615 287,597 288,599 288,589 290,611 291,591 293,583 294,619 294,602 294,613 294,598 295,610 297,607 297,596 298,611 298,614 301,607 301,600 302,597 303,589 305,618 305,598 306,584 307,604 308,595 309,588 309,610 310,596 310,612 310,617 310,596 310,604 311,606 311,595 311,585 311,589 312,583 313,585 314,598 314,608 314,618 315,604 316,618 316,584 317,591 318,618 318,597 319,605 320,591 321,583 322,581 324,617 325,606 327,580 328,611 329,589 329,597 329,580 329,586 330,586 331,593 332,610 333,610 333,605 333,600 333,603 334,585 335,617 335,594 336,593 336,591 336,599 337,600 337,580 337,590 337,603 339,589 339,607 339,580 340,589 341,614 341,589 341,586 343,606 343,591 345,618 345,605 346,604 346,614 347,608 350,588 350,610 351,600 351,599 354,605 356,586 357,584 358,595 359,586 361,596 361,586 362,587 364,609 364,594 364,616 365,595 367,587 368,587 368,594 368,597 369,614 370,606 371,593 372,588 372,605 373,594 374,608 374,600 374,592 375,618 376,604 377,601 377,603 379,597 381,609 381,605 381,598 381,594 381,600 382,598 382,600 382,606 384,580 384,618 384,615 385,618 386,614 386,603 386,583 387,585 387,593 388,604 388,593 389,614 389,608 389,604 390,594 390,604 391,601 392,586 392,589 393,601 394,591 394,596 394,597 396,581 396,618 399,585 400,608 401,588 403,618 403,606 404,590 404,601 404,599 405,585 406,610 406,587 406,593 406,599 407,602 409,603 411,615 411,605 414,600 414,596 416,615 416,615 418,586 418,609 420,591 422,592 422,589 423,594 423,605 425,609 426,598 426,598 427,597 427,618 428,604 428,605 432,593 433,584 433,613 433,598 435,609 438,601 440,608 447,593 449,616 451,601 460,592 461,618 463,604 465,597 472,606 475,594 479,617 487,609 489,589 490,584 493,583 496,603 498,605 499,613 501,595 501,587 508,602 509,589 510,594 511,607 515,594 519,614 521,588 521,610 522,580 1,632 1,629 1,627 1,636 1,650 2,642 2,629 2,626 2,655 2,653 3,654 4,659 4,639 5,645 6,628 6,655 6,625 7,640 9,621 9,637 9,649 10,654 10,633 11,636 11,654 11,643 11,637 11,626 11,637 13,637 14,630 14,641 17,654 17,651 17,620 18,641 18,626 18,631 18,638 20,626 20,656 20,651 21,629 25,620 25,651 25,633 26,642 26,626 28,649 30,651 30,627 30,648 30,646 31,629 31,635 33,635 34,655 35,633 35,626 36,637 36,630 37,649 37,645 37,643 38,641 38,620 39,653 41,646 41,641 41,656 41,659 43,649 44,637 45,657 45,656 46,636 50,659 50,656 50,657 51,622 52,655 52,644 52,620 52,658 54,628 54,626 55,645 56,650 56,642 57,629 57,621 57,646 58,633 58,657 59,653 59,623 59,631 60,654 60,649 60,656 60,631 61,651 61,657 61,652 61,633 62,627 63,623 64,631 64,627 65,652 65,634 65,652 66,628 67,651 68,624 69,631 69,639 69,626 70,638 70,652 70,635 74,656 74,654 75,648 75,633 76,645 76,627 76,644 77,635 77,639 78,627 78,651 79,625 79,647 80,651 81,647 82,657 82,630 82,657 83,646 83,629 84,624 84,635 85,625 85,645 86,640 86,655 87,652 88,658 88,651 90,647 91,657 91,623 91,636 93,626 93,652 94,656 96,637 96,654 96,634 98,636 99,621 99,641 99,654 99,650 99,646 100,629 100,643 101,638 101,647 102,653 103,641 103,628 104,622 105,653 105,630 106,644 106,650 107,621 109,623 109,642 110,644 110,629 111,653 111,634 111,651 112,623 112,623 113,634 113,642 113,658 115,648 115,624 116,654 116,653 117,643 117,632 117,644 119,640 120,625 120,638 121,649 121,632 122,652 123,622 124,631 124,658 124,654 124,636 124,657 125,627 128,644 130,647 131,651 132,630 132,654 133,644 133,642 133,635 133,655 134,630 135,621 135,623 136,622 137,650 137,635 138,652 138,633 139,644 139,626 139,626 139,640 140,642 140,623 141,648 142,643 142,624 142,630 142,646 142,624 142,653 142,626 142,621 142,641 143,646 144,621 145,619 146,647 146,648 147,630 147,629 147,626 148,655 149,622 150,651 151,636 151,647 151,652 153,654 153,629 153,650 154,649 154,646 155,629 155,629 155,634 156,637 157,636 158,656 158,643 158,653 160,623 160,635 161,647 163,624 164,641 164,645 165,638 165,644 167,638 167,651 167,643 169,626 169,639 169,636 169,655 171,631 171,630 172,646 172,634 173,653 173,649 173,635 174,648 175,622 175,633 177,625 177,650 177,637 178,659 178,624 179,624 180,654 181,650 182,643 183,621 184,636 185,625 185,623 185,636 187,630 190,650 190,651 191,630 192,647 192,638 193,636 193,641 193,652 193,652 194,645 194,636 195,651 196,640 197,659 197,619 199,619 199,653 199,652 200,652 200,652 201,645 201,648 204,644 205,656 206,634 206,643 210,655 210,621 211,636 212,640 212,656 213,649 214,626 214,633 214,644 215,638 216,637 217,625 217,635 218,647 219,638 221,639 221,653 222,653 222,639 222,636 224,653 224,639 224,625 224,648 225,656 226,624 228,638 228,643 228,658 229,657 229,641 230,645 231,652 231,622 231,639 232,639 232,639 233,655 233,626 234,636 237,637 238,623 240,625 240,628 241,647 241,646 242,659 244,622 244,648 245,632 245,626 245,628 246,643 249,656 249,631 249,649 250,645 250,622 251,641 251,643 251,654 251,624 251,629 252,657 252,644 253,640 253,620 254,628 254,654 258,656 258,630 259,628 259,632 260,641 261,646 261,651 261,635 262,653 263,636 263,640 264,633 264,643 264,634 265,657 265,622 266,652 272,654 273,657 274,658 275,648 275,658 276,633 276,630 277,633 278,629 278,657 278,651 279,655 281,648 282,641 282,629 283,634 284,630 284,632 285,627 285,649 286,630 286,641 286,623 286,622 287,640 287,629 288,643 288,655 289,633 289,625 289,658 289,635 290,628 290,648 291,657 291,621 292,653 293,634 295,623 296,619 297,624 298,650 299,642 299,623 300,626 300,651 301,623 302,625 303,645 304,634 304,657 307,653 307,621 307,636 308,647 308,646 308,636 309,655 310,644 311,632 312,654 312,655 313,629 313,620 314,620 314,649 314,625 314,623 314,639 315,639 317,630 317,649 318,653 318,636 318,637 319,654 320,621 321,623 321,636 322,622 323,658 324,627 325,639 325,635 325,643 326,632 328,658 328,650 329,635 330,649 330,648 331,633 331,626 331,627 331,652 332,637 332,647 333,659 334,650 334,632 336,630 336,641 336,653 338,635 338,640 338,638 339,631 339,650 341,634 342,652 342,627 342,630 343,655 343,650 344,656 344,639 344,630 344,647 345,640 345,630 347,632 347,627 350,645 350,635 351,624 351,633 352,620 352,630 354,626 355,643 356,649 356,644 356,634 356,648 357,639 358,647 358,645 359,647 359,645 359,659 359,626 360,652 360,651 361,655 362,640 364,628 365,655 366,620 366,658 367,628 367,638 367,646 370,657 371,627 371,647 372,627 374,636 377,626 377,623 378,635 379,634 379,628 379,658 380,620 382,658 383,645 383,657 384,644 384,628 387,658 388,629 389,632 389,629 390,647 390,637 391,654 391,621 392,638 392,629 392,632 392,630 393,646 394,642 395,637 396,634 396,658 397,620 397,621 397,633 397,650 397,625 398,643 399,626 399,651 399,643 400,635 401,657 402,638 403,659 404,653 404,659 406,648 406,658 406,633 407,656 407,658 407,640 407,657 408,625 409,651 411,620 412,657 412,632 412,650 413,619 414,629 414,644 415,628 415,632 418,628 418,647 418,626 418,635 419,650 420,641 420,633 421,627 421,625 423,652 424,641 426,653 426,639 426,647 426,620 426,621 428,652 428,629 428,621 428,631 429,620 429,620 429,652 430,645 431,649 432,639 434,656 436,656 437,656 442,648 447,624 448,658 450,654 451,632 455,656 455,632 456,643 457,654 459,638 460,637 460,655 466,647 470,646 471,627 472,630 475,635 477,625 480,649 487,635 487,632 488,638 492,625 501,632 505,657 519,652 526,654 1,669 1,669 1,670 1,676 3,665 3,672 4,668 4,661 5,674 6,660 7,663 12,665 14,667 17,670 19,664 21,675 23,668 23,674 23,670 25,665 25,678 26,677 28,673 32,664 32,670 34,666 35,668 38,666 39,672 41,661 42,668 42,666 43,660 44,674 44,661 44,676 48,668 49,664 51,663 52,673 53,661 54,669 54,660 55,669 57,665 57,671 61,670 61,662 62,661 63,664 65,677 66,669 66,666 66,661 67,664 70,665 70,670 72,669 79,660 79,669 80,662 81,660 82,676 85,664 89,669 89,660 90,665 91,663 91,660 92,668 93,662 96,669 97,662 103,667 106,679 109,668 115,662 116,667 117,660 118,664 119,666 119,664 119,666 120,665 120,665 122,673 124,673 124,667 124,676 125,661 127,673 128,661 129,675 134,663 135,668 135,670 136,662 137,676 138,660 138,663 138,665 138,677 138,665 140,661 142,673 143,674 147,660 149,661 149,663 152,661 153,669 155,663 156,660 159,663 159,675 162,674 164,671 167,669 168,670 168,666 169,666 170,669 171,673 177,668 182,668 183,665 184,666 185,666 185,664 188,662 190,663 191,666 201,671 202,671 202,661 203,665 206,669 206,670 209,668 213,671 219,665 222,661 227,673 230,659 230,661 231,663 231,661 236,670 238,667 239,674 240,674 240,665 241,674 241,673 254,661 254,668 259,670 260,662 261,661 262,660 262,660 264,675 264,664 267,660 269,665 269,673 270,668 273,664 275,669 277,672 279,669 284,673 290,668 290,664 290,665 291,665 292,673 292,664 293,666 296,662 297,667 298,664 300,660 300,668 303,661 303,661 304,665 305,669 305,663 305,663 307,677 308,666 312,677 314,665 314,670 316,672 318,667 318,667 324,670 326,666 329,666 331,662 332,667 332,661 332,668 332,663 343,668 343,661 344,660 348,666 349,660 351,666 351,660 352,671 352,665 354,663 358,668 358,665 359,662 362,673 363,661 365,663 366,661 368,665 368,659 368,673 368,667 371,670 375,674 378,670 378,673 380,665 382,662 382,666 384,667 385,660 387,661 388,667 388,671 388,671 389,675 389,666 392,666 393,669 394,669 400,662 400,664 400,674 401,662 402,671 405,667 405,672 406,669 408,663 414,665 415,661 415,665 418,671 422,661 425,665 440,668 447,675 452,665 461,665 472,668 476,668 487,664 512,667 517,665"/>
<path class="cv" d="M113.4,1344.5 117.1,1349.2 121.1,1353.6 125.5,1357.8 130.2,1361.6 135.2,1365.0 140.4,1368.0 145.9,1370.4 151.6,1372.3 157.5,1373.5 163.5,1374.3 169.5,1374.6 175.6,1374.5 181.6,1373.9 187.4,1372.7 193.0,1370.7 198.4,1368.2 203.8,1365.4 209.1,1362.6 214.5,1359.8 220.0,1357.2 225.5,1354.8 231.0,1352.6 236.6,1350.5 242.3,1348.5 248.0,1346.5 253.7,1344.7 259.4,1342.9 265.1,1341.1 270.8,1339.2 276.5,1337.4 282.2,1335.6 287.9,1333.7 293.6,1331.8 299.3,1329.9 305.0,1328.1 310.7,1326.2 316.4,1324.3 322.1,1322.5 327.8,1320.6 333.6,1318.8 339.3,1317.0 345.0,1315.2 350.7,1313.5 356.5,1311.8 362.2,1310.1 368.0,1308.5 373.8,1306.9 379.6,1305.3 385.4,1303.8 391.2,1302.3 397.0,1300.9 402.9,1299.5 408.7,1298.2 414.6,1296.9 420.4,1295.7 426.3,1294.5 432.2,1293.3 438.1,1292.2 444.0,1291.1 449.9,1290.1 455.8,1289.1 461.7,1288.1 467.7,1287.2 473.6,1286.3 479.5,1285.4 485.5,1284.6 491.4,1283.8 497.4,1283.1 503.3,1282.4 509.3,1281.7 515.2,1281.0 521.2,1280.4 527.2,1279.9 533.1,1279.3 539.1,1278.9 545.1,1278.4 551.1,1278.0 557.1,1277.6 563.1,1277.3 569.1,1277.0 575.0,1276.8 581.0,1276.6 587.0,1276.4 593.0,1276.3 599.0,1276.2 605.0,1276.1 611.0,1276.0 617.0,1276.0 623.0,1276.0 629.0,1276.0 635.0,1276.0 641.0,1276.1"/>
</g>
<g clip-path="url(#c5)">
<g filter="url(#bl)">
<path fill="#000" fill-opacity="0.062" d="M830,1053h16v8h-16zM790,1061h8v8h-8zM838,1061h8v8h-8zM838,1069h8v8h-8zM806,1085h16v8h-16zM862,1085h16v8h-16zM894,1085h16v8h-16zM814,1093h8v8h-8zM854,1093h8v8h-8zM870,1093h8v8h-8zM886,1093h8v8h-8zM902,1093h8v8h-8zM790,1101h8v8h-8zM838,1101h8v8h-8zM878,1101h8v8h-8zM902,1101h8v8h-8zM918,1101h8v8h-8zM934,1101h16v8h-16zM790,1109h8v8h-8zM822,1109h16v8h-16zM918,1109h40v8h-40zM766,1117h16v8h-16zM790,1117h8v8h-8zM942,1117h8v8h-8zM782,1125h16v8h-16zM902,1125h24v8h-24zM942,1125h8v8h-8zM758,1133h8v8h-8zM942,1133h8v8h-8zM750,1141h8v8h-8zM942,1141h8v8h-8zM950,1149h8v8h-8zM974,1149h8v8h-8zM726,1157h24v8h-24zM958,1157h24v8h-24zM726,1165h24v8h-24zM934,1165h16v8h-16zM974,1165h8v8h-8zM726,1173h24v8h-24zM974,1173h8v8h-8zM990,1181h8v8h-8zM726,1189h24v8h-24zM974,1189h16v8h-16zM998,1189h8v8h-8zM726,1213h24v8h-24zM1006,1213h8v8h-8zM726,1221h24v8h-24zM1006,1221h8v8h-8zM1014,1245h8v8h-8zM1014,1253h8v8h-8zM1022,1261h8v8h-8zM1030,1269h8v8h-8zM1030,1277h8v8h-8zM1022,1285h16v8h-16zM1030,1293h8v8h-8zM1030,1301h8v8h-8zM1038,1309h8v8h-8zM1046,1317h8v8h-8zM1062,1325h8v8h-8zM1062,1333h8v8h-8zM1086,1389h8v8h-8zM1086,1397h8v8h-8zM1086,1405h8v8h-8zM1086,1413h8v8h-8zM1030,1469h8v8h-8z"/>
<path fill="#000" fill-opacity="0.125" d="M798,1093h16v8h-16zM862,1093h8v8h-8zM894,1093h8v8h-8zM798,1101h8v8h-8zM814,1101h8v8h-8zM846,1101h8v8h-8zM870,1101h8v8h-8zM886,1101h16v8h-16zM910,1101h8v8h-8zM798,1109h24v8h-24zM894,1109h24v8h-24zM814,1117h40v8h-40zM894,1117h16v8h-16zM926,1117h16v8h-16zM766,1125h8v8h-8zM846,1125h8v8h-8zM894,1125h8v8h-8zM926,1125h16v8h-16zM766,1133h8v8h-8zM782,1133h16v8h-16zM878,1133h8v8h-8zM902,1133h24v8h-24zM934,1133h8v8h-8zM782,1141h16v8h-16zM750,1149h8v8h-8zM934,1149h16v8h-16zM750,1157h8v8h-8zM926,1157h32v8h-32zM750,1165h8v8h-8zM926,1165h8v8h-8zM950,1165h24v8h-24zM942,1173h8v8h-8zM966,1173h8v8h-8zM750,1181h8v8h-8zM966,1181h24v8h-24zM966,1189h8v8h-8zM990,1189h8v8h-8zM966,1197h24v8h-24zM998,1197h8v8h-8zM726,1229h24v8h-24zM1006,1229h8v8h-8zM1014,1237h8v8h-8zM1014,1261h8v8h-8zM1022,1269h8v8h-8zM1014,1277h16v8h-16zM1014,1285h8v8h-8zM1030,1309h8v8h-8zM1038,1317h8v8h-8zM1046,1325h16v8h-16zM1054,1341h8v8h-8zM1062,1357h8v8h-8zM1070,1365h8v8h-8zM1078,1373h8v8h-8zM1086,1421h8v8h-8zM1014,1469h16v8h-16zM958,1477h8v8h-8zM974,1477h8v8h-8zM958,1485h8v8h-8zM974,1485h8v8h-8zM958,1493h8v8h-8zM974,1493h8v8h-8z"/>
<path fill="#000" fill-opacity="0.188" d="M806,1101h8v8h-8zM854,1101h16v8h-16zM838,1109h8v8h-8zM862,1109h32v8h-32zM798,1117h16v8h-16zM854,1117h8v8h-8zM774,1125h8v8h-8zM798,1125h32v8h-32zM838,1125h8v8h-8zM854,1125h8v8h-8zM878,1125h16v8h-16zM774,1133h8v8h-8zM798,1133h8v8h-8zM822,1133h16v8h-16zM870,1133h8v8h-8zM886,1133h16v8h-16zM926,1133h8v8h-8zM774,1141h8v8h-8zM798,1141h8v8h-8zM830,1141h8v8h-8zM870,1141h24v8h-24zM926,1141h16v8h-16zM774,1149h16v8h-16zM830,1149h8v8h-8zM894,1149h8v8h-8zM926,1149h8v8h-8zM758,1157h8v8h-8zM894,1157h32v8h-32zM894,1165h32v8h-32zM750,1173h8v8h-8zM934,1173h8v8h-8zM950,1173h16v8h-16zM958,1181h8v8h-8zM958,1189h8v8h-8zM726,1197h24v8h-24zM958,1197h8v8h-8zM990,1197h8v8h-8zM726,1205h24v8h-24zM966,1205h8v8h-8zM982,1205h24v8h-24zM990,1213h16v8h-16zM750,1221h8v8h-8zM990,1229h16v8h-16zM998,1237h16v8h-16zM998,1245h16v8h-16zM1006,1253h8v8h-8zM1014,1269h8v8h-8zM1006,1277h8v8h-8zM1006,1285h8v8h-8zM1014,1293h16v8h-16zM1038,1325h8v8h-8zM1054,1333h8v8h-8zM1054,1349h8v8h-8zM1062,1365h8v8h-8zM1078,1381h8v8h-8zM1078,1461h8v8h-8zM1006,1469h8v8h-8zM966,1477h8v8h-8zM966,1485h8v8h-8zM966,1493h8v8h-8z"/>
<path fill="#000" fill-opacity="0.250" d="M846,1109h16v8h-16zM862,1117h32v8h-32zM830,1125h8v8h-8zM862,1125h16v8h-16zM806,1133h16v8h-16zM838,1133h32v8h-32zM758,1141h16v8h-16zM822,1141h8v8h-8zM838,1141h8v8h-8zM862,1141h8v8h-8zM894,1141h32v8h-32zM758,1149h16v8h-16zM790,1149h8v8h-8zM822,1149h8v8h-8zM838,1149h8v8h-8zM862,1149h32v8h-32zM902,1149h24v8h-24zM766,1157h16v8h-16zM830,1157h16v8h-16zM886,1157h8v8h-8zM758,1165h8v8h-8zM854,1173h8v8h-8zM894,1173h8v8h-8zM918,1173h16v8h-16zM926,1181h32v8h-32zM750,1189h8v8h-8zM942,1189h16v8h-16zM950,1197h8v8h-8zM766,1205h8v8h-8zM958,1205h8v8h-8zM974,1205h8v8h-8zM750,1213h8v8h-8zM958,1213h16v8h-16zM982,1213h8v8h-8zM982,1221h24v8h-24zM750,1229h8v8h-8zM982,1229h8v8h-8zM726,1237h24v8h-24zM990,1237h8v8h-8zM998,1253h8v8h-8zM1006,1261h8v8h-8zM1006,1269h8v8h-8zM1006,1293h8v8h-8zM1022,1301h8v8h-8zM1022,1309h8v8h-8zM1030,1317h8v8h-8zM1030,1325h8v8h-8zM1030,1333h24v8h-24zM1046,1341h8v8h-8zM1054,1357h8v8h-8zM1070,1373h8v8h-8zM1078,1389h8v8h-8zM1086,1429h8v8h-8zM1086,1453h8v8h-8zM1070,1461h8v8h-8zM726,1477h24v8h-24zM950,1477h8v8h-8zM726,1485h24v8h-24zM950,1485h8v8h-8zM726,1493h24v8h-24zM950,1493h8v8h-8z"/>
<path fill="#000" fill-opacity="0.312" d="M806,1141h16v8h-16zM846,1141h16v8h-16zM798,1149h8v8h-8zM814,1149h8v8h-8zM846,1149h16v8h-16zM782,1157h16v8h-16zM822,1157h8v8h-8zM846,1157h24v8h-24zM766,1165h16v8h-16zM790,1165h24v8h-24zM830,1165h32v8h-32zM886,1165h8v8h-8zM758,1173h8v8h-8zM774,1173h16v8h-16zM806,1173h8v8h-8zM846,1173h8v8h-8zM862,1173h32v8h-32zM902,1173h16v8h-16zM854,1181h16v8h-16zM878,1181h24v8h-24zM918,1181h8v8h-8zM878,1189h24v8h-24zM918,1189h24v8h-24zM750,1197h8v8h-8zM766,1197h8v8h-8zM926,1197h24v8h-24zM750,1205h16v8h-16zM942,1205h16v8h-16zM974,1213h8v8h-8zM958,1221h24v8h-24zM982,1237h8v8h-8zM990,1245h8v8h-8zM990,1253h8v8h-8zM990,1261h16v8h-16zM998,1269h8v8h-8zM998,1277h8v8h-8zM998,1285h8v8h-8zM1014,1301h8v8h-8zM1022,1317h8v8h-8zM1022,1325h8v8h-8zM1038,1341h8v8h-8zM1054,1365h8v8h-8zM1054,1373h16v8h-16zM1078,1397h8v8h-8zM1078,1405h8v8h-8zM1078,1413h8v8h-8zM1086,1437h8v8h-8zM1062,1461h8v8h-8z"/>
<path fill="#000" fill-opacity="0.375" d="M806,1149h8v8h-8zM798,1157h24v8h-24zM870,1157h16v8h-16zM782,1165h8v8h-8zM814,1165h16v8h-16zM862,1165h24v8h-24zM766,1173h8v8h-8zM790,1173h16v8h-16zM814,1173h32v8h-32zM758,1181h8v8h-8zM774,1181h48v8h-48zM846,1181h8v8h-8zM870,1181h8v8h-8zM902,1181h16v8h-16zM774,1189h8v8h-8zM806,1189h16v8h-16zM854,1189h24v8h-24zM902,1189h16v8h-16zM758,1197h8v8h-8zM774,1197h8v8h-8zM814,1197h16v8h-16zM870,1197h56v8h-56zM774,1205h8v8h-8zM934,1205h8v8h-8zM758,1213h16v8h-16zM942,1213h16v8h-16zM942,1221h16v8h-16zM942,1229h40v8h-40zM750,1237h8v8h-8zM950,1237h16v8h-16zM726,1245h24v8h-24zM958,1245h8v8h-8zM982,1245h8v8h-8zM966,1253h24v8h-24zM982,1261h8v8h-8zM990,1269h8v8h-8zM990,1277h8v8h-8zM998,1293h8v8h-8zM1014,1309h8v8h-8zM1014,1317h8v8h-8zM1022,1333h8v8h-8zM1030,1341h8v8h-8zM1046,1349h8v8h-8zM1046,1365h8v8h-8zM1062,1381h16v8h-16zM1070,1389h8v8h-8zM1086,1445h8v8h-8zM998,1469h8v8h-8zM750,1477h8v8h-8zM750,1485h8v8h-8zM750,1493h8v8h-8z"/>
<path fill="#000" fill-opacity="0.438" d="M766,1181h8v8h-8zM822,1181h24v8h-24zM758,1189h16v8h-16zM782,1189h24v8h-24zM822,1189h16v8h-16zM846,1189h8v8h-8zM798,1197h16v8h-16zM830,1197h40v8h-40zM814,1205h40v8h-40zM870,1205h48v8h-48zM926,1205h8v8h-8zM934,1213h8v8h-8zM758,1221h8v8h-8zM934,1221h8v8h-8zM758,1229h8v8h-8zM926,1229h16v8h-16zM966,1237h16v8h-16zM950,1245h8v8h-8zM966,1245h16v8h-16zM726,1253h24v8h-24zM958,1253h8v8h-8zM726,1261h24v8h-24zM966,1261h16v8h-16zM726,1269h24v8h-24zM982,1269h8v8h-8zM990,1285h8v8h-8zM990,1293h8v8h-8zM998,1301h16v8h-16zM1006,1309h8v8h-8zM1014,1325h8v8h-8zM1014,1333h8v8h-8zM1022,1341h8v8h-8zM1030,1349h16v8h-16zM1038,1357h16v8h-16zM1038,1365h8v8h-8zM1046,1373h8v8h-8zM1054,1381h8v8h-8zM1070,1397h8v8h-8zM1070,1405h8v8h-8zM1078,1421h8v8h-8zM1078,1453h8v8h-8zM1054,1461h8v8h-8zM990,1469h8v8h-8zM758,1477h16v8h-16zM926,1477h24v8h-24zM758,1485h16v8h-16zM926,1485h24v8h-24zM758,1493h16v8h-16zM926,1493h24v8h-24z"/>
<path fill="#000" fill-opacity="0.500" d="M838,1189h8v8h-8zM782,1197h16v8h-16zM798,1205h16v8h-16zM854,1205h16v8h-16zM918,1205h8v8h-8zM774,1213h8v8h-8zM838,1213h16v8h-16zM878,1213h40v8h-40zM926,1213h8v8h-8zM766,1221h8v8h-8zM910,1221h24v8h-24zM766,1229h24v8h-24zM910,1229h16v8h-16zM758,1237h32v8h-32zM910,1237h40v8h-40zM750,1245h8v8h-8zM942,1245h8v8h-8zM934,1253h24v8h-24zM750,1261h8v8h-8zM958,1261h8v8h-8zM750,1269h8v8h-8zM974,1269h8v8h-8zM726,1277h24v8h-24zM982,1277h8v8h-8zM982,1285h8v8h-8zM982,1293h8v8h-8zM990,1301h8v8h-8zM998,1309h8v8h-8zM1006,1317h8v8h-8zM1006,1325h8v8h-8zM1014,1341h8v8h-8zM1014,1349h16v8h-16zM1022,1357h16v8h-16zM1030,1365h8v8h-8zM1038,1373h8v8h-8zM1046,1381h8v8h-8zM1062,1389h8v8h-8zM1070,1413h8v8h-8zM1078,1429h8v8h-8zM774,1477h40v8h-40zM846,1477h8v8h-8zM870,1477h16v8h-16zM918,1477h8v8h-8zM774,1485h40v8h-40zM846,1485h8v8h-8zM870,1485h16v8h-16zM918,1485h8v8h-8zM774,1493h40v8h-40zM846,1493h8v8h-8zM870,1493h16v8h-16zM918,1493h8v8h-8z"/>
<path fill="#000" fill-opacity="0.562" d="M782,1205h16v8h-16zM782,1213h56v8h-56zM854,1213h24v8h-24zM918,1213h8v8h-8zM774,1221h40v8h-40zM838,1221h32v8h-32zM886,1221h24v8h-24zM790,1229h24v8h-24zM886,1229h24v8h-24zM790,1237h8v8h-8zM806,1237h8v8h-8zM902,1237h8v8h-8zM758,1245h32v8h-32zM918,1245h24v8h-24zM750,1253h8v8h-8zM766,1253h8v8h-8zM926,1253h8v8h-8zM758,1261h8v8h-8zM934,1261h24v8h-24zM934,1269h40v8h-40zM750,1277h8v8h-8zM942,1277h8v8h-8zM974,1277h8v8h-8zM726,1285h24v8h-24zM974,1285h8v8h-8zM974,1293h8v8h-8zM982,1301h8v8h-8zM990,1309h8v8h-8zM998,1317h8v8h-8zM1006,1333h8v8h-8zM1006,1341h8v8h-8zM1030,1373h8v8h-8zM1054,1389h8v8h-8zM1054,1397h16v8h-16zM1078,1437h8v8h-8zM1078,1445h8v8h-8zM1070,1453h8v8h-8zM1046,1461h8v8h-8zM982,1469h8v8h-8zM814,1477h16v8h-16zM838,1477h8v8h-8zM854,1477h16v8h-16zM886,1477h32v8h-32zM814,1485h16v8h-16zM838,1485h8v8h-8zM854,1485h16v8h-16zM886,1485h32v8h-32zM814,1493h16v8h-16zM838,1493h8v8h-8zM854,1493h16v8h-16zM886,1493h32v8h-32z"/>
<path fill="#000" fill-opacity="0.625" d="M814,1221h24v8h-24zM870,1221h16v8h-16zM814,1229h56v8h-56zM878,1229h8v8h-8zM798,1237h8v8h-8zM814,1237h32v8h-32zM862,1237h40v8h-40zM790,1245h56v8h-56zM862,1245h56v8h-56zM758,1253h8v8h-8zM774,1253h16v8h-16zM838,1253h8v8h-8zM902,1253h24v8h-24zM766,1261h8v8h-8zM926,1261h8v8h-8zM758,1269h8v8h-8zM934,1277h8v8h-8zM950,1277h24v8h-24zM934,1285h40v8h-40zM726,1293h24v8h-24zM958,1293h16v8h-16zM966,1301h16v8h-16zM974,1309h16v8h-16zM990,1317h8v8h-8zM990,1325h16v8h-16zM990,1333h16v8h-16zM998,1341h8v8h-8zM1006,1349h8v8h-8zM1014,1357h8v8h-8zM1022,1365h8v8h-8zM1022,1373h8v8h-8zM1038,1381h8v8h-8zM1046,1389h8v8h-8zM1046,1397h8v8h-8zM1054,1405h16v8h-16zM1070,1421h8v8h-8zM1070,1445h8v8h-8zM1062,1453h8v8h-8zM1038,1461h8v8h-8zM974,1469h8v8h-8zM830,1477h8v8h-8zM830,1485h8v8h-8zM830,1493h8v8h-8z"/>
<path fill="#000" fill-opacity="0.688" d="M870,1229h8v8h-8zM846,1237h16v8h-16zM846,1245h16v8h-16zM790,1253h48v8h-48zM846,1253h56v8h-56zM774,1261h16v8h-16zM822,1261h48v8h-48zM878,1261h48v8h-48zM886,1269h24v8h-24zM926,1269h8v8h-8zM758,1277h8v8h-8zM894,1277h16v8h-16zM926,1277h8v8h-8zM750,1285h8v8h-8zM926,1285h8v8h-8zM934,1293h24v8h-24zM726,1301h24v8h-24zM958,1301h8v8h-8zM726,1309h24v8h-24zM966,1309h8v8h-8zM726,1317h24v8h-24zM974,1317h16v8h-16zM982,1325h8v8h-8zM990,1341h8v8h-8zM998,1349h8v8h-8zM1006,1357h8v8h-8zM1014,1365h8v8h-8zM1014,1373h8v8h-8zM1022,1381h16v8h-16zM1038,1389h8v8h-8zM1038,1397h8v8h-8zM1046,1405h8v8h-8zM1054,1413h16v8h-16zM1070,1429h8v8h-8zM1070,1437h8v8h-8zM1054,1453h8v8h-8zM1030,1461h8v8h-8zM958,1469h16v8h-16z"/>
<path fill="#000" fill-opacity="0.750" d="M790,1261h32v8h-32zM870,1261h8v8h-8zM766,1269h120v8h-120zM910,1269h16v8h-16zM766,1277h80v8h-80zM854,1277h40v8h-40zM910,1277h16v8h-16zM758,1285h8v8h-8zM782,1285h32v8h-32zM886,1285h40v8h-40zM750,1293h8v8h-8zM926,1293h8v8h-8zM750,1301h8v8h-8zM934,1301h24v8h-24zM750,1309h8v8h-8zM950,1309h16v8h-16zM750,1317h8v8h-8zM950,1317h24v8h-24zM726,1325h24v8h-24zM966,1325h16v8h-16zM974,1333h16v8h-16zM982,1341h8v8h-8zM990,1349h8v8h-8zM998,1357h8v8h-8zM1006,1365h8v8h-8zM1006,1373h8v8h-8zM1014,1381h8v8h-8zM1022,1389h16v8h-16zM1030,1397h8v8h-8zM1038,1405h8v8h-8zM1046,1413h8v8h-8zM1054,1421h16v8h-16zM1062,1429h8v8h-8zM1062,1437h8v8h-8zM1062,1445h8v8h-8zM1046,1453h8v8h-8zM1014,1461h16v8h-16zM726,1469h24v8h-24zM950,1469h8v8h-8z"/>
<path fill="#000" fill-opacity="0.812" d="M846,1277h8v8h-8zM766,1285h16v8h-16zM814,1285h72v8h-72zM758,1293h168v8h-168zM758,1301h32v8h-32zM910,1301h24v8h-24zM758,1309h8v8h-8zM774,1309h8v8h-8zM926,1309h24v8h-24zM934,1317h16v8h-16zM750,1325h8v8h-8zM942,1325h24v8h-24zM726,1333h24v8h-24zM958,1333h16v8h-16zM966,1341h16v8h-16zM974,1349h16v8h-16zM982,1357h16v8h-16zM998,1365h8v8h-8zM998,1373h8v8h-8zM1006,1381h8v8h-8zM1014,1389h8v8h-8zM1014,1397h16v8h-16zM1030,1405h8v8h-8zM1038,1413h8v8h-8zM1046,1421h8v8h-8zM1054,1429h8v8h-8zM1054,1437h8v8h-8zM1054,1445h8v8h-8zM1038,1453h8v8h-8zM1006,1461h8v8h-8zM750,1469h8v8h-8zM942,1469h8v8h-8z"/>
<path fill="#000" fill-opacity="0.875" d="M790,1301h120v8h-120zM766,1309h8v8h-8zM782,1309h144v8h-144zM758,1317h48v8h-48zM838,1317h24v8h-24zM870,1317h64v8h-64zM758,1325h24v8h-24zM926,1325h16v8h-16zM750,1333h8v8h-8zM934,1333h24v8h-24zM726,1341h24v8h-24zM958,1341h8v8h-8zM726,1349h24v8h-24zM958,1349h16v8h-16zM966,1357h16v8h-16zM974,1365h24v8h-24zM990,1373h8v8h-8zM990,1381h16v8h-16zM998,1389h16v8h-16zM998,1397h16v8h-16zM1014,1405h16v8h-16zM1022,1413h16v8h-16zM1030,1421h16v8h-16zM1038,1429h16v8h-16zM1038,1437h16v8h-16zM1038,1445h16v8h-16zM1030,1453h8v8h-8zM990,1461h16v8h-16zM758,1469h64v8h-64zM846,1469h56v8h-56zM918,1469h24v8h-24z"/>
<path fill="#000" fill-opacity="0.938" d="M806,1317h32v8h-32zM862,1317h8v8h-8zM782,1325h144v8h-144zM758,1333h176v8h-176zM750,1341h208v8h-208zM750,1349h16v8h-16zM926,1349h32v8h-32zM726,1357h32v8h-32zM942,1357h24v8h-24zM726,1365h24v8h-24zM942,1365h32v8h-32zM950,1373h40v8h-40zM966,1381h24v8h-24zM974,1389h24v8h-24zM982,1397h16v8h-16zM990,1405h24v8h-24zM998,1413h24v8h-24zM1006,1421h24v8h-24zM1006,1429h32v8h-32zM1014,1437h24v8h-24zM1014,1445h24v8h-24zM998,1453h32v8h-32zM974,1461h16v8h-16zM822,1469h24v8h-24zM902,1469h16v8h-16z"/>
<path fill="#000" fill-opacity="1.000" d="M766,1349h160v8h-160zM758,1357h184v8h-184zM750,1365h192v8h-192zM726,1373h224v8h-224zM726,1381h240v8h-240zM726,1389h248v8h-248zM726,1397h256v8h-256zM726,1405h264v8h-264zM726,1413h272v8h-272zM726,1421h280v8h-280zM726,1429h280v8h-280zM726,1437h288v8h-288zM726,1445h288v8h-288zM726,1453h272v8h-272zM726,1461h248v8h-248z"/>
</g>
<polyline class="d" fill="none" stroke="none" marker-start="url(#m)" marker-mid="url(#m)" marker-end="url(#m)" transform="translate(742.0,821.0)" points="13,46 13,48 20,38 28,42 28,41 31,54 32,51 33,34 33,44 37,57 43,52 44,55 45,40 45,56 47,57 50,58 53,42 54,53 55,37 56,40 57,43 58,41 59,59 61,40 63,58 64,46 73,33 81,47 81,55 82,52 83,55 89,39 90,48 92,58 96,45 99,42 101,53 101,48 106,58 108,56 109,56 111,48 115,38 116,44 116,44 117,36 117,47 118,33 121,39 121,48 121,47 121,50 123,44 124,55 125,34 125,53 129,49 129,59 129,50 132,50 133,32 133,34 135,32 137,50 138,45 140,46 141,34 144,47 144,53 145,54 147,32 148,44 149,42 151,33 156,46 156,59 158,48 159,55 161,46 164,55 165,41 165,36 166,33 166,35 167,39 170,33 176,54 177,38 179,47 181,41 182,32 186,42 188,58 189,41 190,46 197,52 197,52 198,37 198,46 199,58 199,43 200,36 203,37 204,50 207,35 213,45 215,33 220,52 221,43 222,50 224,47 237,43 249,48 250,41 251,45 253,55 265,39 269,56 269,36 275,46 275,49 275,41 278,36 281,38 293,59 305,50 328,50 362,42 546,51 1,86 1,72 4,77 5,83 7,68 7,77 8,84 10,91 14,72 16,95 17,87 21,90 22,76 23,91 23,83 23,98 24,87 25,90 33,90 35,64 40,82 40,92 41,90 43,73 43,62 43,86 44,64 45,79 46,90 46,63 46,82 49,98 54,59 59,67 60,98 60,97 61,96 62,62 62,71 65,83 66,73 71,98 72,78 72,80 74,60 74,79 82,67 82,80 84,79 85,84 87,94 87,89 87,96 87,95 88,62 95,95 95,71 96,81 97,86 97,93 97,93 99,87 102,80 105,91 107,81 116,99 118,85 120,70 123,66 126,72 128,68 128,79 129,73 131,59 131,96 132,83 132,63 133,85 133,69 136,62 137,86 137,78 138,90 138,64 139,63 139,82 140,84 140,88 143,76 146,95 147,73 149,97 149,60 150,88 152,98 152,74 154,98 155,95 158,79 160,95 160,90 161,99 161,71 166,86 167,79 169,89 171,87 173,67 174,89 175,66 177,79 177,83 178,71 181,81 183,92 186,80 187,65 188,62 189,97 190,73 191,99 192,78 193,98 195,94 199,87 200,97 201,97 203,99 205,66 213,82 214,96 215,98 219,97 219,70 223,98 226,90 234,89 236,76 240,68 245,81 246,89 248,90 250,69 255,94 257,60 258,93 261,80 262,83 263,80 263,63 266,69 268,91 268,95 270,66 272,72 274,70 276,76 280,85 284,92 286,79 289,75 290,89 298,85 310,83 322,84 324,83 324,88 329,90 341,82 346,98 348,95 349,98 351,82 432,68 452,67 510,84 0,121 1,114 2,119 3,125 12,128 13,122 15,123 17,116 17,100 18,137 21,103 23,128 24,114 27,130 28,113 28,129 28,128 30,126 30,99 32,131 33,133 40,136 42,111 42,123 44,126 46,121 46,126 46,125 47,131 48,106 48,125 56,133 56,133 57,122 57,118 57,135 60,128 60,104 60,119 60,100 61,126 62,131 63,105 63,135 65,124 67,119 68,102 69,127 71,116 73,103 74,114 74,127 75,122 75,129 76,135 78,106 79,130 80,137 82,102 82,110 82,119 83,101 84,107 84,119 84,110 85,105 86,135 87,110 89,99 90,121 91,104 91,112 92,129 93,106 94,107 94,134 94,101 95,130 95,136 96,112 96,137 97,104 97,134 99,104 100,136 102,99 102,138 102,136 103,102 104,110 105,114 105,133 106,125 106,121 108,101 110,100 113,103 115,116 116,105 116,101 116,100 118,126 118,133 118,131 120,120 122,112 122,120 122,106 123,129 124,131 126,127 127,138 128,123 128,128 130,136 130,139 131,108 132,107 133,135 134,101 134,117 140,139 141,120 141,109 142,105 142,115 143,135 143,106 143,134 144,131 144,137 145,131 146,122 148,128 149,101 150,120 151,120 151,124 153,135 154,103 154,138 155,124 158,101 159,132 159,119 160,115 161,107 162,107 164,124 167,116 168,133 170,108 174,115 180,104 182,104 183,135 183,131 183,100 184,113 184,121 185,107 186,115 187,125 188,113 189,125 190,114 193,136 194,133 199,107 202,99 203,109 206,134 208,103 208,115 210,122 210,119 212,103 212,126 213,132 213,104 213,107 214,121 215,109 216,132 218,132 219,126 220,131 221,125 222,131 225,128 226,121 226,136 226,119 228,118 228,116 233,115 234,101 234,100 235,134 238,119 238,123 239,125 242,103 246,109 247,111 247,124 248,112 248,105 249,137 251,121 251,126 252,126 252,107 254,109 254,122 254,131 255,128 258,115 259,128 260,132 261,116 263,137 266,129 268,107 269,114 271,104 273,129 275,121 277,114 280,138 284,103 289,129 290,120 291,139 295,116 301,130 301,136 302,114 303,120 303,104 303,105 308,110 309,127 311,110 320,116 326,123 328,105 328,99 332,133 334,131 335,119 341,110 349,110 1,150 3,148 5,140 10,142 11,161 11,157 15,151 15,154 16,152 16,162 16,166 16,163 17,142 18,165 21,161 21,156 22,139 22,162 22,159 28,153 28,171 32,148 33,179 34,173 35,166 36,141 36,162 36,140 37,161 40,152 42,146 42,152 43,153 43,140 44,168 45,144 45,149 46,145 48,178 48,168 49,141 50,178 50,165 51,144 51,145 51,158 52,154 53,144 54,156 56,159 56,154 56,174 56,159 57,146 58,151 59,176 59,161 59,163 61,152 62,175 63,168 64,177 66,155 67,140 69,171 69,149 70,144 70,169 71,140 72,140 72,168 73,145 75,141 77,165 77,165 78,142 81,164 83,177 83,153 86,154 90,157 91,173 91,143 92,160 93,156 94,161 94,177 95,147 95,167 97,146 99,154 99,168 101,146 102,161 102,155 103,159 104,158 107,170 112,143 116,150 117,165 117,149 118,165 120,158 121,153 122,171 122,141 124,170 124,166 126,169 127,172 128,152 128,170 128,166 128,157 131,141 132,141 132,155 132,157 133,165 133,160 135,172 135,169 137,167 137,162 137,162 138,155 139,176 141,145 141,146 143,168 143,164 144,172 146,148 146,177 148,153 148,149 153,144 154,164 155,179 155,160 157,176 157,157 160,172 161,166 161,174 162,153 162,149 164,142 164,147 164,163 164,173 165,158 165,143 166,166 168,178 169,178 169,165 171,166 172,165 173,139 174,159 175,155 177,144 178,173 178,161 178,174 179,149 179,165 179,143 183,149 184,171 191,161 192,169 193,174 194,155 194,177 197,143 198,177 198,169 200,168 200,145 201,160 202,150 204,162 205,160 206,163 206,176 206,171 214,169 214,168 215,144 219,167 220,156 220,148 221,174 221,176 222,164 228,154 229,141 230,169 230,175 230,149 232,146 236,172 236,173 241,176 241,172 242,156 242,150 242,167 246,146 248,160 249,155 253,156 255,140 258,171 259,151 259,161 259,147 261,171 268,157 269,172 269,157 272,140 272,178 273,139 273,174 273,172 277,140 278,155 282,144 282,143 283,156 283,149 285,163 288,157 288,163 293,178 294,163 295,143 300,170 301,172 302,153 309,152 316,160 322,141 322,150 325,140 335,164 337,141 349,151 351,146 354,146 381,142 390,172 1,193 2,209 7,213 10,193 10,207 11,210 11,196 13,197 17,207 17,218 18,185 21,197 22,210 23,204 26,184 27,205 30,197 31,186 31,185 31,216 33,215 34,216 34,185 35,193 35,216 38,211 38,205 39,184 39,208 40,213 41,216 41,195 41,209 42,195 43,212 45,200 46,197 47,212 47,191 48,195 49,193 49,215 50,205 51,184 51,210 51,187 52,194 52,211 53,201 55,183 55,206 55,188 56,194 56,192 57,189 57,201 58,202 59,211 60,202 60,202 60,212 61,211 61,184 62,217 62,209 62,212 63,194 63,199 65,192 67,217 69,182 70,187 71,193 72,198 72,179 75,192 75,182 75,198 76,209 77,211 78,217 78,211 79,189 80,185 80,195 81,207 81,219 82,193 83,186 83,212 83,211 85,207 86,196 87,191 87,187 93,198 94,204 94,192 96,206 96,199 98,210 102,185 103,208 104,206 105,203 106,198 106,205 106,204 107,196 108,212 109,213 112,200 112,190 112,191 113,202 113,200 114,210 115,208 115,190 115,185 117,203 118,210 118,206 119,206 119,211 119,186 120,214 120,218 122,209 123,213 124,199 125,218 126,198 128,179 128,179 128,217 130,188 130,207 130,185 131,207 135,192 135,198 136,205 136,215 138,190 138,184 138,188 140,183 141,201 142,218 143,201 145,184 145,179 145,209 146,182 148,190 148,190 149,189 149,179 149,212 149,205 150,202 150,195 151,209 151,217 151,189 153,215 153,201 155,194 155,203 157,192 159,200 160,215 161,185 162,204 166,204 168,185 168,214 169,206 170,189 172,218 174,203 175,203 176,184 176,196 176,186 177,203 177,187 177,204 178,189 181,200 182,215 184,211 184,186 185,180 186,200 187,202 187,188 187,182 189,194 189,219 190,206 192,200 192,181 192,214 192,189 193,201 194,190 194,185 195,202 196,209 196,179 198,183 199,216 200,195 200,191 200,215 201,216 201,187 203,185 204,185 204,190 204,209 208,205 209,180 211,191 211,201 212,192 213,213 214,193 215,206 215,208 216,188 217,198 217,214 218,205 218,183 219,193 220,190 221,210 224,209 225,213 228,191 229,211 234,214 234,197 234,217 237,212 238,181 238,200 240,197 240,185 240,209 241,214 245,212 248,217 248,213 249,207 249,205 250,202 251,217 252,212 256,193 256,199 259,201 261,185 261,188 262,188 263,184 267,190 268,208 269,192 270,207 271,187 272,180 272,216 274,196 275,212 276,199 276,198 277,196 279,213 279,207 279,219 282,191 284,197 288,200 289,189 291,217 295,209 296,185 297,202 299,207 300,188 306,202 312,181 315,187 315,200 317,211 317,189 320,202 326,189 327,184 337,208 344,215 344,185 348,217 350,199 353,187 355,211 355,201 360,202 374,217 374,190 444,209 566,211 2,231 3,228 6,257 6,258 7,236 7,230 9,255 10,221 10,230 17,225 18,256 19,259 20,237 20,247 20,257 21,240 22,249 23,258 23,254 24,236 25,233 25,232 27,234 28,223 28,240 29,252 30,225 30,246 30,233 32,248 32,255 32,256 33,238 34,253 34,244 35,238 36,225 36,236 36,235 36,231 37,234 37,250 38,242 39,224 39,220 40,244 41,220 41,250 41,234 41,247 41,239 42,237 43,255 44,245 46,229 46,254 47,258 48,238 48,256 49,253 49,249 49,254 51,257 51,237 51,227 51,224 52,228 52,225 53,259 54,252 54,225 54,232 55,237 56,227 56,225 56,259 56,221 57,240 58,234 58,241 59,244 60,224 60,225 60,257 61,256 61,255 62,251 63,254 63,225 63,223 64,229 65,219 65,220 67,244 67,255 67,242 68,236 70,250 71,240 71,228 71,240 72,238 72,238 73,242 73,236 74,223 75,251 75,241 77,240 77,230 78,240 78,246 79,254 79,259 79,228 80,254 80,238 81,234 81,228 82,230 84,254 84,241 85,220 85,239 86,230 87,248 88,242 88,252 88,248 90,231 90,236 91,228 91,237 92,258 93,230 93,257 94,256 94,251 94,240 95,256 96,242 97,251 97,244 97,245 97,245 97,230 98,235 98,258 99,249 100,259 102,231 103,253 104,239 104,257 104,255 105,254 106,235 106,254 107,250 108,258 108,222 109,240 110,222 110,257 110,238 110,244 111,243 111,244 113,222 114,252 116,237 116,231 117,233 117,246 117,225 118,243 118,238 119,254 120,231 120,253 120,221 122,232 122,229 122,235 122,253 123,222 123,228 123,259 123,225 123,237 124,224 124,234 124,222 125,242 125,219 126,258 127,255 127,243 127,252 127,253 128,256 129,243 129,252 129,231 129,255 130,225 130,227 130,245 130,246 131,247 131,254 132,252 133,231 134,226 136,224 136,247 136,221 137,245 139,259 140,242 141,224 141,232 144,235 144,258 145,225 145,255 145,252 146,241 147,224 148,244 151,254 154,231 154,248 155,224 155,258 156,256 156,223 157,226 158,251 159,253 160,252 164,241 165,254 165,239 167,225 168,242 169,241 170,250 170,236 170,227 170,254 170,258 171,224 171,238 172,233 172,247 174,247 174,230 175,255 178,220 179,239 179,256 180,243 180,236 180,226 181,247 182,252 182,259 182,236 182,247 182,234 183,241 184,258 185,228 187,227 187,235 187,249 188,222 189,224 189,221 191,237 192,223 192,254 193,228 193,234 194,246 194,241 195,224 197,237 198,241 198,232 199,243 199,251 202,251 202,243 203,241 204,251 205,255 205,259 205,251 205,234 206,233 206,249 208,244 208,244 209,220 210,220 211,228 212,221 213,242 215,220 215,227 215,236 216,223 216,231 217,258 217,232 218,242 219,246 222,246 223,257 223,225 225,222 225,238 225,225 226,246 228,243 231,247 231,247 231,239 236,221 237,252 237,241 237,236 238,252 238,229 238,253 240,251 241,235 242,244 243,231 244,230 245,254 247,247 247,250 248,242 250,245 251,258 252,241 254,245 256,252 257,249 257,227 258,236 258,223 259,223 259,245 261,248 261,223 262,232 262,222 263,232 268,246 269,242 270,239 270,235 270,238 271,248 271,256 272,235 274,259 274,236 276,241 279,249 280,253 281,259 286,241 289,253 295,235 297,227 298,238 299,225 299,220 301,223 302,234 302,259 303,227 305,230 306,250 307,223 308,254 310,256 311,247 312,246 313,222 318,227 321,258 324,249 327,254 327,220 327,258 331,222 332,222 334,255 334,246 338,255 339,247 340,227 342,255 345,254 346,229 350,219 350,235 356,242 362,246 368,239 413,227 429,223 441,248 455,233 463,229 537,221 1,281 2,295 6,297 7,265 12,287 14,287 15,274 17,274 17,295 18,286 20,270 20,276 21,267 22,271 23,282 23,293 24,282 24,282 26,274 27,279 28,298 28,271 29,292 30,262 30,276 33,284 33,268 34,282 34,290 35,274 35,289 36,259 36,283 36,295 37,295 37,297 39,264 40,273 40,267 40,281 42,286 43,295 43,270 43,296 44,289 44,284 45,261 47,273 47,267 49,278 49,271 50,281 50,289 51,287 51,286 51,271 52,284 52,271 52,275 53,293 53,290 53,292 54,279 56,297 56,292 58,273 59,288 59,270 59,259 60,291 60,267 62,282 63,280 64,298 64,287 65,261 65,299 67,265 67,264 68,271 68,288 68,274 68,261 69,260 70,268 71,279 71,265 72,295 72,273 72,295 73,292 75,271 78,283 78,276 78,277 79,278 79,281 79,287 80,284 82,281 83,263 84,288 84,286 84,284 84,260 85,278 85,272 85,293 86,276 88,274 88,284 88,298 89,288 89,299 90,260 91,268 91,284 91,292 91,298 92,296 92,281 93,294 94,298 94,268 94,290 94,270 96,285 96,298 97,297 98,295 98,260 99,298 100,295 100,264 102,269 102,281 104,290 105,260 105,288 105,273 105,291 105,266 107,272 107,293 108,263 109,263 110,274 110,269 111,274 112,262 115,268 116,297 116,277 116,298 117,272 117,299 118,270 118,260 120,284 120,262 121,273 121,260 121,271 123,293 123,264 124,288 124,291 124,285 124,267 125,279 125,272 126,280 127,260 128,278 130,297 131,265 131,260 131,281 131,260 131,276 132,299 132,286 133,289 133,271 134,267 136,286 136,279 137,277 137,277 137,290 140,289 140,266 141,261 141,291 141,273 143,275 143,298 144,268 144,289 146,267 147,274 149,275 150,285 150,284 150,297 151,298 152,273 152,282 153,291 154,288 156,270 156,283 157,260 157,263 157,280 157,276 158,260 158,293 162,274 162,263 163,275 164,285 164,279 164,279 165,290 167,285 168,294 168,294 170,269 172,268 172,262 173,279 176,260 177,259 177,278 178,269 178,270 178,271 179,269 180,267 180,275 180,277 181,267 181,288 181,282 184,266 185,288 185,284 187,270 188,281 189,299 190,270 190,270 190,270 191,280 192,285 192,272 193,290 193,279 193,269 193,281 194,272 195,290 195,283 197,290 198,296 200,267 201,289 202,280 202,273 203,286 203,282 204,260 205,283 208,267 209,290 209,270 209,274 210,278 211,288 211,270 212,274 212,268 213,292 213,263 213,265 214,295 216,284 217,273 217,281 218,263 219,294 220,294 220,270 222,291 222,264 222,271 223,259 225,291 225,268 226,271 227,292 228,275 228,271 229,277 229,288 232,287 233,293 233,273 234,277 234,293 236,261 236,281 238,263 238,290 238,260 239,263 239,294 239,280 240,259 240,294 242,277 242,263 245,265 245,279 246,278 246,282 248,270 248,270 249,293 249,270 251,271 251,288 252,275 254,269 256,271 256,287 258,295 258,279 260,273 262,280 266,297 266,262 269,278 271,295 273,269 274,292 275,283 276,263 277,274 278,265 278,264 285,292 285,265 286,296 288,290 289,282 292,288 293,271 294,285 295,275 296,273 298,271 299,275 300,298 300,264 301,284 302,297 309,292 311,289 311,270 317,273 319,267 319,273 321,269 322,279 325,296 326,294 328,269 328,265 330,263 333,279 339,276 343,294 344,291 345,280 348,276 353,292 354,262 359,261 364,271 368,281 369,268 384,298 510,282 532,264 2,337 3,308 4,327 5,322 5,335 5,315 6,321 7,304 7,305 8,314 8,321 9,315 10,313 10,313 10,307 11,302 11,313 11,320 11,325 12,310 13,331 14,328 15,320 15,329 17,320 18,319 19,316 20,301 20,339 21,312 22,299 23,321 24,328 25,307 25,313 26,333 26,306 26,326 27,322 27,330 28,327 28,320 29,301 29,319 29,338 29,306 29,330 30,323 32,318 32,302 32,335 33,308 33,308 34,301 34,300 36,322 37,320 37,313 38,326 39,314 39,320 39,302 41,330 41,338 42,324 42,299 43,309 44,330 44,311 45,306 45,318 45,335 47,321 47,299 49,304 49,317 49,321 50,320 50,303 52,330 53,327 53,312 55,310 55,307 56,330 57,338 58,316 58,302 59,320 59,339 59,319 60,328 60,327 64,319 64,334 64,316 65,314 65,302 65,334 65,320 66,311 66,326 66,308 69,308 70,308 73,337 74,304 74,334 74,330 76,322 76,331 77,309 77,330 78,309 78,315 79,330 79,321 79,327 79,314 80,304 82,324 82,318 82,324 83,336 84,318 84,326 84,302 85,337 86,334 86,337 87,319 87,330 87,302 87,301 88,330 88,323 88,331 88,309 89,323 90,316 90,316 91,332 91,336 91,310 92,328 93,337 93,318 93,329 94,323 95,306 95,309 95,324 95,317 97,330 97,303 97,336 98,303 98,313 99,300 100,329 100,332 100,303 101,322 103,302 104,330 104,314 105,318 105,336 106,324 106,317 107,330 107,323 108,312 108,322 110,311 110,325 110,308 110,317 112,305 112,306 114,302 116,303 117,311 118,319 118,324 119,301 119,308 120,305 120,331 120,315 121,320 123,318 123,302 125,337 126,313 126,318 127,322 128,316 129,311 129,318 129,313 129,334 130,310 130,332 130,336 132,323 132,322 134,313 135,323 136,337 138,336 138,333 139,308 139,311 141,316 141,300 143,316 143,305 143,315 144,330 145,318 145,304 146,317 146,307 147,311 147,338 148,325 148,313 148,307 148,337 149,307 149,336 150,323 152,336 152,320 153,330 154,337 154,322 154,303 154,325 155,328 155,301 155,304 155,329 156,302 156,308 157,328 157,328 158,319 159,299 159,323 159,320 159,303 159,302 159,325 160,337 160,337 162,301 163,306 163,322 163,303 164,301 164,301 164,319 165,337 165,338 166,301 166,338 168,305 168,313 169,319 169,337 170,313 170,338 170,311 171,309 173,332 173,304 174,310 174,328 174,304 174,333 174,328 175,321 176,306 178,311 180,302 181,319 183,301 183,327 183,319 184,338 185,307 185,300 185,302 185,319 186,308 186,314 188,314 188,305 188,321 188,330 190,315 190,313 192,309 193,300 193,320 194,314 196,310 196,317 197,314 197,328 198,308 199,316 199,328 201,301 201,334 201,312 203,327 203,313 205,302 205,329 205,321 205,339 206,308 206,317 208,322 209,306 209,325 210,316 210,333 211,315 212,314 212,324 213,312 213,331 214,317 215,314 216,302 216,316 216,327 217,325 217,302 218,299 218,325 219,334 220,329 221,305 222,320 224,307 226,337 226,299 227,313 227,329 227,327 228,324 229,338 229,314 230,332 230,325 231,327 232,321 233,305 234,330 235,316 236,324 236,325 237,323 238,326 239,304 239,330 242,308 243,317 243,308 243,326 244,335 244,322 244,319 245,320 245,332 246,321 247,335 249,303 249,337 250,306 250,303 252,338 254,311 254,338 254,302 255,319 255,323 255,326 255,302 257,327 257,334 258,301 259,329 259,320 259,307 261,310 262,302 263,327 267,330 267,333 267,304 269,320 270,316 270,309 273,327 273,310 279,316 281,337 281,329 282,313 285,333 285,317 288,313 290,336 291,337 291,324 292,312 292,301 293,329 293,331 294,332 294,324 295,318 295,309 297,308 301,329 301,330 303,337 304,329 304,299 307,323 307,308 307,336 308,307 309,313 310,327 311,320 313,301 314,334 314,336 316,300 317,338 317,300 319,319 323,324 325,330 328,334 330,301 332,316 337,328 339,315 346,327 347,324 348,326 349,337 350,337 351,327 351,310 352,331 356,302 362,317 363,316 364,314 367,336 368,321 385,330 407,303 463,333 493,327 -0,369 1,359 2,367 2,347 3,342 4,359 4,342 4,346 5,339 5,347 6,354 7,377 8,349 8,360 8,375 9,358 10,358 10,365 10,351 11,366 12,349 13,364 13,361 13,361 13,361 14,377 15,348 15,357 15,346 15,350 17,368 17,359 17,341 17,346 18,342 19,344 19,350 19,370 20,371 20,357 20,354 20,356 21,369 21,357 22,368 23,354 26,359 27,366 27,342 28,351 28,377 29,351 29,349 29,354 29,359 30,350 30,347 31,350 32,375 33,371 34,340 34,367 35,366 35,372 35,359 35,353 35,378 36,378 36,368 37,358 37,367 38,353 38,379 38,368 40,369 42,350 43,348 44,341 44,355 45,374 45,368 45,359 45,351 46,343 46,357 49,358 50,378 51,364 52,372 52,357 52,367 54,362 54,343 55,371 55,373 56,346 57,370 58,340 59,357 60,347 64,374 67,350 67,341 67,342 68,362 68,344 69,372 69,360 70,361 71,352 71,368 74,360 74,354 75,362 76,367 76,352 76,379 76,362 76,343 76,379 78,342 79,343 81,378 82,364 82,365 83,346 84,349 84,345 84,349 85,369 86,341 86,359 86,352 86,368 87,343 87,374 87,366 88,345 88,342 89,367 89,364 90,366 91,341 93,358 93,345 94,363 96,357 98,357 98,365 98,348 99,377 100,373 104,371 105,353 106,346 107,361 108,375 109,362 110,361 110,360 110,379 111,345 112,368 113,352 113,350 114,376 114,354 116,369 116,368 116,342 117,354 117,346 118,350 118,364 118,355 119,344 119,372 120,346 120,343 120,344 120,340 120,377 120,379 121,375 122,358 123,350 124,349 125,372 125,362 125,368 125,354 125,348 126,347 126,339 126,350 126,372 127,345 128,378 128,356 129,344 129,352 129,342 130,362 130,364 131,370 131,347 131,367 133,344 134,362 134,361 136,371 137,364 137,373 138,375 139,376 140,340 140,362 140,357 141,376 142,364 142,354 143,364 143,340 143,376 144,369 144,345 144,368 145,377 146,363 147,366 147,350 147,356 148,344 148,359 148,365 148,350 149,366 149,369 149,360 152,368 153,348 153,365 153,379 154,344 154,367 155,355 155,354 157,345 159,366 159,340 159,340 160,349 161,342 162,366 162,376 163,351 164,363 165,357 166,354 166,368 166,349 166,372 167,360 168,340 169,373 172,340 172,361 173,379 174,377 174,360 174,360 174,356 175,369 175,340 175,347 176,347 177,366 177,343 178,346 179,362 179,351 181,374 181,373 181,342 182,357 182,348 183,366 183,342 183,360 183,368 183,367 184,355 184,348 184,352 185,379 185,351 187,361 188,350 189,374 190,349 190,354 190,368 191,352 192,373 193,350 193,342 194,351 195,352 195,346 195,342 196,363 198,357 199,354 201,360 202,347 202,349 203,370 203,350 204,364 205,346 205,350 205,368 207,350 208,356 208,357 208,359 208,365 208,345 209,361 209,354 209,341 209,348 210,349 210,355 211,357 211,357 214,378 214,351 215,375 217,366 217,344 217,367 218,342 219,346 220,369 221,357 221,372 222,348 222,362 222,349 223,342 225,343 226,371 226,360 226,351 227,357 227,347 228,356 228,378 228,355 229,361 230,350 231,343 231,359 231,350 233,378 233,374 234,355 234,345 234,348 235,365 236,378 237,351 238,376 241,341 241,367 246,368 246,373 246,359 246,378 247,350 248,357 248,365 250,358 250,356 251,350 251,362 251,373 252,355 252,372 252,373 252,357 254,366 254,374 255,344 255,361 257,365 259,353 260,355 260,348 261,343 261,354 261,346 263,359 264,348 265,364 266,361 266,365 267,378 267,346 267,344 267,356 268,367 269,352 269,366 270,357 270,355 270,364 270,362 272,366 272,355 272,347 274,351 275,373 275,373 275,349 276,359 276,361 278,354 278,355 280,349 284,375 284,347 285,340 286,348 287,364 288,355 288,351 288,356 289,367 289,352 289,347 291,369 293,370 295,362 296,350 297,358 298,353 299,376 299,378 301,371 301,344 302,359 303,365 303,351 308,369 309,353 309,355 310,377 313,355 316,357 316,351 320,351 321,353 322,369 322,347 323,341 323,375 323,362 324,368 325,364 329,374 331,375 332,340 337,345 338,370 340,349 341,342 341,376 343,346 344,374 347,362 349,373 358,369 362,374 367,372 370,347 393,354 399,350 464,365 518,361 0,383 1,388 1,399 1,417 1,419 2,395 3,418 4,396 5,405 5,398 5,415 5,386 7,381 8,418 8,399 9,393 9,409 9,417 10,398 11,416 11,391 12,383 12,415 12,406 12,415 12,388 13,416 14,388 15,412 15,410 15,405 15,415 16,410 16,405 16,386 16,382 17,384 18,384 18,402 19,406 20,406 20,398 20,386 21,391 21,400 21,400 21,399 22,384 23,394 23,407 23,408 23,402 24,415 25,384 26,387 26,409 26,379 26,415 27,414 28,405 28,415 29,392 29,416 30,380 31,394 32,418 34,409 34,384 34,417 34,417 35,404 36,381 36,412 36,418 37,399 37,416 37,395 38,406 38,412 38,418 38,414 38,409 38,384 39,399 39,385 40,384 42,393 43,400 44,395 44,388 45,400 46,398 46,379 47,387 48,384 48,406 48,419 49,389 49,417 50,383 50,396 51,399 51,407 51,408 51,400 51,407 52,418 52,398 52,396 53,415 53,380 54,407 57,418 57,417 58,382 60,382 60,406 60,386 62,413 62,390 62,398 62,419 63,416 63,410 64,385 64,396 65,403 65,419 66,407 66,404 66,399 68,393 69,416 70,398 70,412 70,407 71,389 71,418 71,395 72,409 73,414 73,400 74,400 74,402 75,398 75,396 76,385 76,404 77,403 77,398 78,392 78,416 78,401 80,396 81,381 81,390 82,385 83,381 83,381 83,381 84,409 84,396 85,415 86,412 86,381 88,409 88,395 89,414 90,404 91,388 93,410 94,379 96,397 96,409 97,418 97,414 98,415 99,418 99,411 100,389 102,383 103,382 103,402 103,416 104,416 106,418 108,395 109,380 109,402 109,398 111,392 111,402 112,411 112,409 112,383 112,407 114,411 115,404 115,383 116,413 116,389 118,382 119,411 119,403 119,381 121,382 121,419 122,400 123,407 123,404 127,416 127,417 127,415 130,399 130,395 130,414 131,412 131,401 132,385 133,389 133,379 134,384 134,385 134,397 135,380 135,398 136,391 137,418 137,414 140,410 141,397 141,393 142,393 142,413 144,384 144,405 144,398 145,387 145,384 145,388 146,381 149,409 150,398 150,400 151,389 152,379 153,408 153,417 154,415 154,385 154,396 155,380 156,401 157,394 158,410 158,404 159,396 159,391 159,393 159,384 160,396 161,405 162,381 163,384 163,399 165,408 166,391 166,398 167,415 169,386 170,407 171,383 171,386 171,402 175,380 176,385 176,407 177,397 177,403 178,391 178,403 178,383 178,383 179,409 180,387 180,393 180,400 181,395 181,411 181,411 181,397 181,416 183,415 183,406 183,384 184,380 184,407 185,406 185,405 186,397 186,394 187,401 188,394 188,382 189,396 189,401 190,380 190,403 191,402 192,388 192,416 192,406 193,379 193,411 195,381 195,402 195,417 196,419 197,396 198,412 198,413 198,386 198,390 199,409 200,385 202,410 202,402 202,391 202,385 202,408 203,387 203,417 204,384 206,408 207,394 207,417 208,393 208,382 208,404 209,401 210,418 210,379 211,414 211,386 212,412 213,396 214,396 214,397 215,382 215,393 216,390 216,379 216,408 217,408 218,399 219,414 219,382 220,406 220,408 220,403 224,391 224,381 224,382 226,383 226,396 228,399 228,404 228,403 228,396 229,386 229,416 229,379 230,410 230,386 230,399 231,392 232,400 232,414 232,381 232,388 233,386 233,407 233,383 234,392 234,380 234,417 235,388 235,380 236,395 236,419 238,391 238,404 239,416 240,385 240,390 241,388 241,380 243,390 244,398 244,409 245,380 245,391 245,412 246,406 248,399 249,415 250,388 250,387 250,408 250,397 251,387 251,407 251,406 251,389 252,408 253,419 253,385 254,384 254,410 255,396 255,418 256,412 256,407 256,385 256,385 256,392 258,414 261,380 263,396 265,388 265,392 265,415 266,392 268,409 268,393 271,394 271,380 272,381 273,409 274,380 274,405 275,389 276,417 276,397 277,406 277,391 278,409 279,415 280,401 281,400 281,407 282,396 283,401 284,408 285,392 285,382 285,397 285,413 286,395 288,397 288,386 290,398 290,392 290,408 291,412 291,384 291,418 292,397 292,385 292,408 292,392 293,409 295,408 296,413 298,411 300,402 300,389 300,402 301,413 302,398 302,413 303,417 304,387 305,401 305,408 306,391 307,382 307,415 307,408 308,407 309,391 309,409 309,406 310,406 311,411 312,381 312,402 312,382 313,404 316,394 321,397 321,416 321,416 321,384 327,382 329,402 333,414 334,396 336,402 336,404 336,393 337,395 338,381 340,415 340,406 344,406 351,407 354,383 358,402 365,386 369,407 371,402 382,395 384,386 473,409 492,414 498,413 539,381 -0,440 0,449 2,458 2,455 2,448 2,421 2,439 3,430 3,453 4,453 4,447 4,449 4,444 4,449 5,430 6,423 6,445 7,451 8,458 8,423 9,428 9,438 11,442 13,456 14,444 14,449 14,421 15,454 16,444 18,450 19,427 19,441 20,442 20,432 21,428 21,446 21,455 21,430 21,437 23,431 23,457 23,448 25,457 25,453 25,453 25,423 26,443 27,457 28,428 28,458 28,433 28,436 30,453 30,433 31,437 31,444 32,429 33,456 33,432 39,424 40,457 40,451 41,421 41,423 42,429 43,424 43,447 43,427 45,433 45,443 46,430 46,458 46,438 47,436 49,433 50,446 50,455 50,454 51,438 51,425 52,435 52,429 53,428 54,455 55,435 56,430 57,423 57,434 58,426 59,446 60,427 61,423 61,426 62,423 64,440 65,451 65,450 65,450 66,444 67,427 68,423 68,457 69,430 69,437 69,458 69,442 70,432 71,422 73,449 74,447 74,458 75,447 75,429 76,443 76,447 76,423 77,455 78,433 78,457 79,435 80,444 80,458 81,427 81,453 82,428 83,451 84,456 86,442 86,448 86,436 89,438 89,431 89,438 91,425 91,438 91,439 92,441 93,438 95,435 95,446 95,423 96,419 96,446 96,435 96,451 96,428 97,424 97,452 97,423 98,425 99,455 99,437 100,437 100,451 100,428 100,445 101,446 103,444 103,445 103,452 103,435 103,453 104,431 104,432 105,451 105,427 105,450 107,450 108,453 108,435 108,458 108,419 109,421 111,446 113,426 114,429 114,440 116,421 116,427 117,431 117,443 118,435 118,451 119,451 120,421 121,449 121,449 121,446 125,430 125,434 125,436 126,446 127,438 129,443 129,422 129,444 130,421 130,434 131,456 131,452 131,438 132,424 132,426 132,440 133,457 133,423 134,428 135,437 135,453 136,434 137,437 137,428 138,443 138,425 138,438 139,423 140,456 140,438 140,453 141,423 143,436 144,435 145,429 146,431 147,426 148,432 148,431 148,419 149,452 150,448 150,446 150,425 151,438 153,435 153,458 154,450 154,453 154,454 155,441 155,458 156,450 156,426 157,429 157,457 158,438 158,458 159,444 160,436 161,443 162,448 162,428 163,434 164,456 166,453 166,456 166,434 167,453 169,442 169,454 169,455 169,438 170,430 170,444 171,429 171,450 171,444 172,432 172,457 173,445 173,438 174,456 174,453 175,450 175,436 175,439 176,436 176,456 177,438 177,429 178,444 178,420 178,432 178,442 178,425 178,455 179,445 179,428 180,453 180,446 181,426 182,454 182,456 182,452 183,426 183,424 183,445 184,457 185,423 186,419 186,440 187,443 187,448 187,441 187,430 189,436 190,435 190,454 191,421 191,431 192,432 192,421 192,449 193,448 193,423 193,422 194,436 195,450 195,441 195,425 195,453 196,420 198,441 198,452 198,457 199,458 202,442 202,427 203,428 203,444 204,439 205,458 206,423 206,423 207,439 207,451 208,454 208,452 210,424 210,425 210,446 214,443 215,422 215,449 216,420 216,443 217,432 218,431 218,433 219,457 221,450 221,450 221,430 222,440 222,442 223,438 224,423 224,455 224,438 225,438 227,443 228,436 228,448 231,442 233,448 233,421 234,443 235,441 235,436 236,453 237,453 239,441 240,436 240,422 240,440 241,421 243,420 244,448 244,450 245,449 245,456 246,435 247,452 248,452 249,449 249,427 250,454 250,428 251,458 252,455 253,423 254,451 255,447 255,454 256,436 257,425 257,449 258,426 258,454 259,442 261,436 262,444 262,429 263,435 264,438 266,458 266,451 267,451 267,455 268,435 269,443 271,426 272,443 272,421 274,437 279,452 279,455 280,457 280,425 282,449 282,442 282,452 283,440 283,446 283,458 284,430 284,444 285,434 285,429 286,442 286,438 286,441 288,423 289,425 289,436 289,455 291,446 291,424 294,450 296,423 297,442 299,430 300,429 301,456 303,435 306,433 307,428 307,431 307,429 309,444 311,424 312,430 312,435 313,458 313,420 313,428 313,449 313,421 314,430 314,451 316,437 318,450 318,431 320,449 320,440 321,452 321,428 322,447 324,446 329,423 330,457 330,431 331,431 331,433 332,458 334,454 334,431 334,423 334,433 335,424 336,449 336,445 336,419 336,429 342,435 342,432 342,447 344,428 345,431 345,444 347,434 349,422 358,434 360,423 364,455 375,423 387,420 392,442 407,423 0,487 0,482 1,490 1,483 2,461 2,470 2,480 2,473 3,483 3,487 4,489 4,490 4,493 5,497 7,476 7,466 8,483 8,473 8,496 8,468 9,470 9,483 11,467 11,462 12,494 12,476 13,466 13,474 14,477 14,464 15,486 15,493 15,461 15,486 16,492 18,491 18,476 19,497 20,473 20,481 24,464 24,495 25,478 26,492 27,463 27,460 28,466 28,493 28,477 28,473 29,471 29,486 31,494 31,490 31,464 31,491 32,465 33,489 33,462 34,468 34,494 35,477 35,483 35,468 35,477 36,473 36,496 37,470 38,466 38,497 38,465 39,461 39,494 40,461 41,492 42,497 43,465 44,484 46,480 46,483 47,469 48,482 49,482 49,465 50,491 52,474 52,487 52,460 53,483 54,495 55,479 55,473 55,467 55,466 57,482 58,488 59,475 59,476 60,468 60,464 61,484 61,484 63,476 63,487 64,497 65,498 66,487 67,481 68,466 68,469 69,487 69,478 69,480 70,466 72,499 73,497 73,469 74,472 75,482 75,488 75,472 75,488 75,490 76,470 76,470 76,466 77,476 78,460 78,472 79,470 79,489 80,494 80,469 81,460 81,481 81,460 81,498 81,487 83,478 83,490 83,495 83,490 83,481 84,481 85,463 86,478 86,476 87,491 87,490 87,476 89,464 89,479 89,487 91,484 92,464 93,469 94,464 94,479 95,476 96,462 97,496 98,471 98,474 98,462 100,468 100,466 101,464 102,477 102,496 105,492 105,492 107,459 108,494 108,463 109,475 109,468 109,496 111,492 111,469 113,491 114,496 116,480 118,478 118,467 119,465 120,498 120,460 120,467 120,492 121,479 121,483 123,492 123,480 125,461 125,496 125,479 125,493 127,467 129,496 129,462 131,460 133,494 133,480 134,460 135,480 135,498 136,460 136,487 137,499 138,475 138,479 140,467 140,462 141,483 141,483 141,494 144,465 144,463 145,467 147,483 147,479 147,473 147,464 147,471 148,472 149,468 149,480 150,459 150,459 150,472 150,477 151,465 151,468 152,467 152,487 152,469 156,476 156,461 158,475 159,487 160,493 160,474 161,476 162,469 162,467 163,459 163,485 163,479 164,480 164,482 165,497 166,492 167,459 167,463 167,497 167,488 168,491 168,493 170,493 171,469 172,466 174,496 175,482 176,479 177,491 177,486 178,464 179,469 179,480 180,469 181,468 181,461 182,467 183,467 183,497 183,463 183,473 183,490 185,462 185,470 185,483 186,479 186,499 186,480 186,499 187,464 188,473 188,474 188,480 188,478 189,491 190,492 193,488 194,489 194,464 194,471 196,482 196,479 197,495 199,486 201,484 201,498 203,471 204,481 204,476 205,497 206,465 207,477 208,486 208,487 210,477 210,472 211,477 211,494 211,478 212,498 212,498 213,460 213,467 213,481 214,459 215,476 216,478 216,459 216,465 217,493 217,488 218,466 218,481 220,469 221,483 221,472 221,482 222,472 222,465 223,470 224,498 224,481 225,478 226,495 226,479 228,489 229,476 230,484 231,472 231,481 232,488 233,464 233,466 233,485 233,477 234,496 235,482 236,481 236,482 236,466 236,479 237,467 237,466 238,481 240,483 240,481 240,459 240,485 241,484 241,497 241,469 241,460 242,498 242,486 243,471 244,479 244,461 244,475 244,471 245,464 246,489 246,488 247,486 248,478 249,492 249,479 249,488 249,479 250,464 250,464 250,475 250,480 250,479 251,463 251,466 252,477 252,475 253,489 253,495 253,465 253,483 254,479 255,470 255,459 255,461 256,495 257,490 257,498 257,482 258,489 258,466 258,470 258,468 258,467 259,469 259,464 260,474 261,486 261,477 261,482 261,496 262,460 263,480 263,495 264,490 265,491 265,463 266,477 267,464 267,480 267,475 268,460 268,476 268,483 268,482 269,466 270,478 270,462 270,472 270,463 271,469 271,477 272,478 272,478 273,481 274,468 276,470 276,495 277,497 277,465 278,478 278,469 278,459 279,463 282,496 284,462 284,469 284,498 284,493 285,465 285,498 286,482 287,470 287,474 287,483 288,476 289,497 289,466 289,471 290,485 292,483 292,468 293,466 293,477 294,470 295,484 295,490 296,464 296,486 297,465 298,487 298,493 301,493 301,487 302,487 302,463 303,466 303,472 303,495 304,467 305,463 305,468 306,491 306,496 307,472 308,482 308,488 309,474 309,467 309,467 311,497 312,498 313,488 313,477 314,466 315,466 315,490 316,497 317,487 319,477 320,473 322,485 322,484 323,497 323,465 323,482 323,485 323,497 324,484 324,492 324,476 325,471 326,485 328,472 329,498 330,461 331,498 333,484 334,485 337,495 338,469 339,476 340,469 341,492 343,493 344,461 344,499 344,471 348,493 348,466 349,493 352,492 353,475 357,499 360,483 361,494 361,481 363,459 365,487 367,479 367,490 368,477 369,486 377,496 377,483 378,497 379,473 396,497 407,488 407,478 410,462 439,486 459,487 481,464 481,470 490,472 522,480 526,496 0,508 0,517 0,535 2,506 2,513 2,530 2,532 3,510 4,499 4,524 4,535 5,502 5,514 6,537 6,500 6,509 6,501 7,521 7,512 7,503 8,510 8,504 9,524 9,507 10,520 12,500 13,500 13,538 14,537 15,527 16,539 16,522 18,535 18,538 20,509 21,516 23,538 23,500 24,502 24,499 26,523 27,507 27,535 28,535 28,504 29,522 30,517 30,518 31,500 32,537 33,514 34,528 34,527 34,525 35,523 35,514 36,518 36,512 36,500 36,511 37,536 38,538 40,519 40,503 40,531 42,522 43,514 45,516 46,506 48,511 48,517 48,528 49,538 49,503 50,530 51,511 52,538 53,503 53,514 54,519 55,522 56,533 57,531 58,522 60,527 60,534 61,499 61,512 61,528 62,504 62,504 62,531 62,526 63,510 63,504 63,518 64,528 64,529 65,501 65,538 65,531 65,518 67,514 67,512 68,512 68,518 70,510 70,523 70,511 70,517 70,508 71,536 72,528 72,531 72,530 74,532 74,521 74,531 75,522 76,505 77,533 80,528 81,537 81,508 81,528 82,535 83,513 84,515 84,531 85,516 85,514 85,522 87,536 88,519 89,539 89,510 90,515 90,516 90,531 90,528 91,500 91,517 92,538 93,533 95,508 95,525 95,511 96,529 97,534 97,503 98,512 99,505 99,532 99,509 100,518 101,517 102,517 104,524 104,533 104,519 105,506 109,510 109,520 109,535 110,522 110,500 110,535 110,522 111,516 112,518 113,510 114,512 114,520 115,524 115,529 116,526 116,539 117,521 117,526 119,507 119,531 120,530 121,534 121,529 121,501 122,528 122,519 123,507 123,530 123,535 123,503 124,509 124,533 125,521 127,531 127,524 128,538 129,535 129,523 130,504 133,525 133,519 134,511 134,503 135,512 135,511 135,508 135,525 136,516 136,536 136,514 137,510 137,505 138,520 140,531 140,502 140,502 140,504 140,535 141,519 142,525 142,516 142,508 143,511 144,519 144,515 144,517 146,508 147,502 147,538 147,526 148,535 148,506 149,512 150,528 150,508 151,534 151,509 153,534 153,511 154,535 154,524 155,537 158,522 158,527 160,526 160,506 160,507 161,539 162,520 165,501 166,508 166,534 167,523 168,499 169,533 169,529 169,507 170,536 172,522 172,529 176,524 176,506 179,521 180,512 181,522 181,506 181,529 183,521 183,535 183,538 183,528 184,501 185,526 185,520 187,521 189,537 193,529 193,509 195,514 195,509 195,523 196,519 196,517 196,524 197,527 197,511 198,510 199,506 199,531 200,522 200,508 200,508 201,514 201,518 202,499 203,536 204,528 204,512 204,508 204,525 205,520 205,535 205,518 205,520 206,499 207,538 209,523 209,518 209,511 209,511 210,536 210,529 210,520 211,502 212,507 213,532 213,502 215,508 215,532 215,511 216,532 216,530 217,535 220,534 220,516 220,511 224,529 224,526 225,533 226,519 226,504 228,503 229,505 230,535 232,531 233,534 233,520 233,536 234,538 234,500 235,535 235,524 235,513 235,530 236,510 237,537 238,537 240,500 240,532 240,527 240,523 240,500 241,518 242,525 242,527 242,530 244,509 244,519 246,537 246,503 247,521 248,502 249,507 250,514 250,518 251,516 252,535 252,507 252,508 253,520 254,502 254,512 255,526 256,527 256,520 257,528 257,537 258,504 261,526 262,538 265,533 265,531 265,535 265,523 266,519 269,509 269,518 270,507 270,513 271,529 272,507 274,535 274,520 275,536 276,504 277,534 278,507 278,515 279,515 279,533 279,529 282,528 282,503 282,532 283,505 283,534 283,536 283,530 284,511 285,520 285,523 286,526 286,536 286,517 289,507 289,508 289,523 291,507 291,529 291,537 291,535 293,527 294,519 294,528 296,512 297,513 299,517 299,510 299,528 299,537 300,499 302,524 303,538 303,538 305,501 305,524 305,520 305,511 306,532 308,506 310,528 311,514 311,538 311,500 311,531 311,538 312,526 312,515 313,535 313,511 313,505 316,507 317,508 318,536 318,522 318,515 320,527 320,530 321,500 322,521 322,522 322,530 323,529 326,504 327,519 327,531 327,525 328,527 328,538 328,511 329,509 329,530 330,512 331,539 331,523 331,509 332,505 332,502 333,519 333,532 336,499 336,521 337,538 337,511 337,505 338,521 338,505 339,512 341,501 343,524 343,520 343,506 344,526 344,501 345,522 346,533 347,513 347,528 347,512 347,536 347,529 348,537 349,515 353,504 354,518 356,537 359,533 362,529 365,511 372,528 375,519 381,505 385,503 387,517 393,534 403,508 404,509 419,509 422,502 435,514 444,522 491,520 511,509 511,534 530,502 537,526 0,543 1,548 1,549 1,546 2,542 3,549 3,546 4,547 4,559 5,543 7,543 7,540 7,559 8,573 8,562 9,575 10,546 10,558 10,571 10,574 11,550 11,547 11,546 11,546 13,565 14,547 14,556 14,562 15,557 15,567 16,573 17,541 17,563 19,550 19,577 19,545 20,574 22,558 23,555 23,558 24,571 26,575 26,569 26,554 27,552 28,574 29,553 30,564 30,569 32,545 35,557 36,560 38,575 38,554 38,557 39,546 39,578 39,555 40,544 41,552 41,552 41,547 42,554 44,578 44,574 45,562 46,557 46,556 51,571 51,550 51,570 52,547 53,539 54,551 54,579 55,564 56,561 58,566 58,557 59,577 62,568 62,561 63,559 64,572 65,549 65,566 66,548 66,551 67,561 67,541 68,561 71,551 72,569 72,569 73,560 74,562 74,554 76,579 77,578 78,571 78,574 79,544 79,564 79,540 80,573 80,562 82,561 82,559 83,565 83,556 83,569 85,557 85,541 85,563 85,540 86,566 86,576 87,566 87,542 88,550 90,547 90,562 90,558 91,574 92,566 93,578 93,572 93,579 93,570 93,572 96,560 97,567 97,556 98,574 98,568 99,541 99,568 99,577 99,553 100,549 102,560 103,574 103,556 104,565 106,570 106,563 107,579 107,554 108,561 109,569 109,543 110,545 110,543 111,550 111,549 112,567 112,565 113,545 114,572 114,542 114,558 116,566 117,557 118,558 118,566 118,559 121,553 122,568 122,561 123,546 123,570 124,539 125,571 127,563 128,562 129,556 129,555 130,577 130,547 131,554 133,565 135,568 136,565 137,567 138,575 139,545 140,577 140,578 140,569 141,549 142,577 144,566 144,553 145,545 145,542 146,557 146,557 147,571 148,563 149,575 149,558 149,564 149,560 151,571 151,578 153,547 155,548 155,577 155,564 155,545 158,560 158,564 158,560 159,570 162,559 162,552 163,570 163,543 163,565 163,570 164,568 165,543 166,571 167,555 167,566 168,552 168,577 170,557 171,557 171,556 172,543 172,560 173,561 175,577 176,568 176,544 178,550 180,555 182,573 182,560 182,576 183,562 183,578 185,554 186,567 186,541 186,554 187,553 188,557 189,561 189,566 189,541 190,563 190,557 191,567 191,550 192,552 193,543 193,548 194,553 194,579 195,540 195,553 195,572 196,577 196,560 196,566 198,540 200,563 200,540 201,564 201,574 201,559 201,570 201,560 202,543 203,570 203,540 204,565 205,551 205,545 206,565 206,554 207,569 207,548 207,548 207,574 209,564 210,570 210,549 211,567 211,543 212,573 212,570 212,558 214,556 215,554 215,579 215,573 215,568 216,554 216,574 216,557 217,557 217,556 217,566 218,562 219,570 220,573 221,561 223,551 223,578 223,577 224,568 224,544 226,574 227,545 227,554 227,548 227,573 228,546 229,559 229,564 230,557 230,547 231,539 233,569 233,540 233,558 234,559 234,553 235,541 235,557 235,567 236,567 236,570 236,551 237,540 237,572 240,566 241,566 242,547 243,555 244,574 246,557 247,563 247,577 248,565 248,565 249,544 250,558 250,554 251,540 251,542 252,577 252,545 252,562 252,574 253,578 254,549 257,575 257,545 257,546 258,547 259,562 260,562 262,567 262,558 262,559 263,552 263,564 263,555 263,563 264,564 264,560 264,554 265,572 265,578 267,555 269,571 269,556 269,562 270,578 270,560 270,550 271,541 273,567 274,568 275,557 275,577 275,568 275,543 276,546 277,558 279,551 279,556 280,539 280,558 280,572 280,550 280,575 280,551 281,550 281,540 284,554 284,559 286,552 286,578 286,542 287,555 288,565 289,578 289,566 290,578 292,539 292,550 292,542 293,546 294,544 294,543 295,572 295,554 295,554 296,552 298,570 299,567 300,559 301,562 301,567 302,561 302,545 303,557 304,576 304,573 304,558 304,550 306,578 306,561 306,568 306,559 306,568 307,572 307,564 308,560 308,572 308,573 310,550 310,554 310,560 311,557 311,560 312,546 312,568 313,559 313,555 314,565 316,554 316,564 318,548 318,578 318,540 318,572 319,558 319,577 320,572 320,544 321,551 321,539 321,563 322,559 322,550 322,553 323,555 323,561 324,549 324,566 325,556 325,575 325,562 326,566 326,546 326,557 327,562 329,543 329,557 329,543 330,571 330,547 331,550 331,548 333,540 333,571 334,554 335,556 336,571 336,554 338,555 338,573 339,573 340,545 340,558 342,552 343,555 344,554 344,571 345,570 345,541 348,550 349,578 350,559 350,577 352,555 353,560 355,562 355,569 355,547 355,562 356,543 356,563 358,575 358,549 361,578 362,549 362,572 362,573 363,541 363,548 365,572 365,564 367,563 367,548 367,567 368,570 370,541 373,572 385,576 387,563 387,571 390,574 391,573 397,575 398,539 399,575 401,551 403,552 408,549 410,545 412,564 414,552 427,574 434,553 448,563 461,575 465,576 510,557 510,573 516,546 522,577 524,572 527,551 551,569 553,559 562,555 0,602 0,605 0,613 1,605 2,602 2,615 2,590 3,588 3,609 5,580 8,613 8,584 8,606 9,595 11,615 11,582 12,603 12,609 14,593 14,581 14,587 15,584 16,582 16,607 17,616 19,593 20,582 22,611 22,588 23,602 23,615 24,592 24,604 24,607 25,595 25,581 26,599 26,611 26,588 26,586 27,619 27,590 28,581 28,580 28,612 29,592 29,604 30,596 32,579 33,615 34,618 34,588 35,580 35,613 35,593 36,613 37,593 38,585 38,608 39,619 39,582 41,580 42,608 42,605 42,611 44,590 44,615 44,604 44,582 45,611 46,614 47,615 48,611 48,615 49,600 49,605 49,580 49,593 50,606 51,595 53,602 56,610 57,585 59,611 60,603 60,613 65,607 65,598 66,603 67,609 67,595 67,590 68,611 71,581 72,585 73,587 74,607 74,603 76,586 76,580 76,615 76,597 77,590 78,586 78,601 78,612 78,583 79,581 79,584 79,595 80,616 81,594 81,585 81,581 81,601 82,592 83,610 84,612 85,600 85,581 86,618 87,607 88,611 89,588 90,580 90,610 90,614 91,603 92,597 93,586 94,602 96,584 96,610 97,584 97,602 98,609 98,591 98,605 98,614 99,614 99,616 99,590 102,581 102,614 104,592 106,594 106,591 107,593 108,611 109,590 110,616 111,597 112,583 112,600 114,584 114,580 115,602 115,588 115,585 116,589 116,582 118,588 118,606 118,587 118,596 122,610 122,607 122,617 123,598 124,616 125,582 125,601 126,615 128,601 128,611 128,617 128,602 128,590 129,610 129,605 130,617 134,603 135,599 135,612 136,587 136,608 136,615 137,605 137,607 138,581 140,610 140,582 142,611 142,619 143,613 143,613 144,589 144,604 145,611 145,611 146,596 146,579 147,588 147,585 147,589 148,597 148,594 148,603 149,585 149,584 150,585 150,599 151,592 152,588 153,579 153,593 154,610 154,594 154,594 155,582 155,598 156,616 156,619 158,616 158,619 159,607 160,591 161,581 162,597 162,614 163,599 164,595 165,603 166,616 166,588 169,583 169,585 170,600 170,601 172,600 172,587 173,609 173,613 173,587 174,607 174,589 175,585 175,587 178,593 178,594 178,611 178,614 178,603 181,596 181,607 182,612 183,608 183,602 184,611 185,617 185,607 186,586 186,595 186,608 187,605 188,599 189,592 190,594 190,612 191,616 192,586 192,600 194,596 195,606 195,590 195,608 195,608 195,613 198,579 198,586 199,611 200,591 204,593 204,588 205,593 205,602 207,617 207,611 207,591 207,599 208,586 208,608 210,585 210,612 212,611 213,603 213,606 214,611 214,597 214,580 216,615 216,590 217,597 218,604 218,579 220,619 222,590 222,611 222,579 222,584 222,611 222,605 224,596 226,608 226,585 227,597 227,583 229,596 229,601 231,607 231,611 232,603 233,580 233,586 234,612 234,600 234,598 235,606 235,605 236,611 237,618 238,602 239,585 239,613 240,585 241,589 241,605 243,591 243,579 243,591 244,613 245,618 245,592 246,584 246,583 248,602 248,616 248,601 249,592 249,611 250,614 251,582 251,589 252,589 254,605 256,603 257,615 257,612 257,600 257,617 258,616 260,607 260,611 260,599 261,582 262,590 262,603 263,596 264,584 265,584 266,603 266,587 266,601 269,614 269,613 270,606 270,597 271,595 273,595 275,616 276,614 278,607 278,580 279,585 279,605 280,600 281,584 281,598 281,618 282,585 283,589 283,607 284,619 285,580 285,581 288,599 288,591 288,607 291,618 292,581 292,601 293,600 293,612 293,585 294,593 296,592 296,611 297,599 298,597 299,592 301,597 301,603 301,614 302,582 302,614 304,590 304,581 304,592 305,605 306,607 306,594 307,592 307,618 308,614 309,596 310,587 310,595 310,582 310,618 313,618 314,592 314,590 315,596 315,605 315,602 315,610 315,603 316,607 316,593 316,606 317,589 317,592 317,585 317,609 318,589 318,612 320,608 321,582 323,618 324,612 325,612 326,602 327,595 327,614 329,582 331,609 331,604 331,616 331,584 332,618 332,589 333,614 335,610 335,587 336,600 336,610 336,605 336,594 337,599 337,619 341,614 341,604 342,582 342,586 343,591 343,612 343,590 344,604 344,617 345,602 345,610 346,604 346,588 346,613 346,583 347,606 347,592 349,600 350,596 351,596 353,586 353,584 354,610 357,588 358,613 358,580 359,593 363,593 363,580 363,582 363,590 364,609 364,615 365,600 368,608 370,582 370,586 371,586 373,591 375,610 378,603 380,601 382,613 382,579 385,611 388,601 389,612 392,591 392,580 394,584 394,605 404,599 404,592 404,594 406,613 408,590 408,595 409,604 421,601 422,585 424,582 426,602 428,615 440,587 446,619 450,596 469,582 477,581 487,610 493,618 494,605 508,593 518,589 534,614 540,599 550,600 561,616 562,584 2,627 2,644 3,621 3,651 3,647 3,630 4,651 4,641 4,649 6,659 6,644 9,637 9,629 10,631 12,631 12,643 13,653 13,642 13,658 13,629 14,620 15,625 16,652 17,622 18,636 18,649 18,645 18,619 19,655 20,651 21,646 21,630 21,640 22,640 24,650 25,635 25,657 26,656 26,643 26,625 28,656 28,628 29,632 30,655 30,644 30,638 30,657 33,627 34,619 34,637 34,656 36,648 36,654 36,637 37,655 37,630 38,631 38,643 39,643 40,644 40,644 40,656 41,658 42,647 44,650 44,637 45,624 45,626 46,619 47,636 48,636 50,624 51,632 52,646 52,627 52,648 53,640 53,654 53,654 54,622 55,658 58,651 59,627 60,653 61,640 61,639 62,636 62,621 62,647 63,621 64,647 64,632 65,650 67,623 67,623 68,636 68,627 69,650 71,626 71,643 71,624 72,620 72,621 72,636 72,650 73,642 73,632 73,631 74,629 75,638 77,621 77,633 77,650 78,640 78,639 79,626 80,647 80,640 80,651 81,639 82,639 82,623 83,624 85,633 85,641 85,654 85,650 85,648 86,631 86,648 89,656 90,631 90,642 90,646 90,630 91,648 91,655 92,628 92,654 92,634 94,638 94,624 95,640 95,657 95,647 97,629 98,642 98,646 99,646 100,646 101,637 102,657 102,652 103,629 104,652 104,644 105,635 105,629 105,643 106,650 106,635 106,640 107,644 107,654 107,639 107,627 108,648 109,622 109,622 109,644 111,632 112,654 113,636 113,642 114,630 115,622 116,647 116,622 116,632 118,621 118,641 118,653 118,647 119,658 120,630 122,634 122,653 123,657 123,642 123,653 123,650 126,640 127,655 127,631 127,642 127,633 128,641 129,648 131,639 132,627 133,629 133,653 134,627 135,623 135,648 136,632 136,634 136,627 137,644 137,624 137,635 139,655 139,628 140,647 140,629 140,624 141,631 141,647 141,621 143,623 143,646 143,650 144,627 146,629 146,639 146,646 147,631 147,643 147,636 149,654 150,626 150,629 151,644 154,627 154,625 157,620 157,622 158,629 158,620 159,635 159,651 159,646 160,636 162,656 162,653 164,620 165,646 165,628 166,657 167,623 167,636 169,631 170,632 170,634 171,623 172,625 172,637 173,622 173,628 173,639 175,639 175,651 176,626 177,643 178,643 179,622 179,647 180,645 180,642 181,631 181,654 182,645 183,657 183,642 184,633 185,644 186,647 186,641 186,621 187,636 188,636 189,655 190,650 192,628 193,622 195,643 195,632 195,640 196,627 196,635 196,622 200,644 200,640 200,650 200,620 201,636 203,619 203,630 204,627 204,623 205,641 206,627 207,625 207,630 207,638 208,644 208,657 208,656 208,646 209,633 209,625 210,654 210,651 211,632 211,633 212,640 212,659 212,627 212,633 213,620 213,649 214,623 214,630 214,647 215,657 215,645 217,634 219,620 222,631 222,657 223,657 223,647 226,641 226,655 227,650 229,626 230,631 232,628 232,653 233,651 234,630 234,621 236,649 236,621 237,650 238,650 239,637 241,651 242,642 242,636 242,622 244,633 244,635 245,624 245,634 245,649 245,643 247,640 247,647 248,633 248,635 250,648 250,651 252,640 252,654 253,635 253,656 253,628 253,657 254,646 254,629 256,649 256,633 257,632 258,630 258,628 258,632 259,659 261,628 262,625 263,638 263,656 263,647 264,632 264,626 264,624 265,632 266,632 267,658 267,633 268,653 269,659 270,649 270,630 270,641 271,625 271,652 272,639 272,632 272,643 273,624 273,633 273,654 274,631 275,629 275,657 275,644 275,646 275,633 275,642 275,645 276,643 276,626 276,629 277,632 277,619 280,650 280,619 280,659 280,646 281,650 281,628 282,645 283,628 285,632 286,651 286,645 286,627 286,623 287,645 288,626 289,639 289,625 290,631 291,650 291,641 291,630 291,630 293,635 293,635 293,624 293,635 294,624 295,630 296,658 297,646 297,659 297,655 297,651 298,628 301,641 301,642 301,642 302,646 303,629 303,620 304,645 304,633 305,652 305,640 307,641 308,637 309,640 309,652 309,625 309,634 309,655 313,650 313,650 314,650 314,640 315,621 315,632 316,646 317,624 318,624 319,630 321,635 321,619 322,622 322,628 323,631 323,643 324,658 324,634 325,636 325,631 326,630 327,630 328,651 329,629 329,654 331,642 332,629 332,655 333,647 334,651 335,635 335,635 336,620 337,647 337,650 339,630 339,620 341,653 341,624 342,641 342,632 343,639 344,626 345,643 345,649 346,626 346,625 347,642 347,628 348,631 348,632 349,637 349,622 349,657 350,632 351,646 352,630 352,635 353,638 353,652 354,648 354,638 354,625 354,640 354,633 356,632 357,626 357,636 359,647 360,632 361,633 361,652 361,626 361,621 361,640 362,623 362,633 363,632 367,628 371,642 371,638 372,630 372,638 374,629 374,633 374,625 375,647 376,623 376,631 378,642 381,625 381,635 382,633 383,641 383,633 384,639 384,622 384,629 389,626 391,647 393,631 399,622 405,623 405,630 405,629 406,642 406,634 410,634 410,635 412,636 413,620 424,629 426,626 426,636 426,620 428,624 429,639 435,632 442,625 446,649 448,629 457,652 462,624 463,651 473,643 474,626 475,643 486,631 487,626 490,620 492,628 493,629 496,653 500,635 510,623 517,628 518,647 529,634 538,634 543,621 551,633 553,637 37,662 62,661 65,662 67,662 73,660 78,659 85,662 130,661 135,661 152,661 162,660 204,659 284,660 302,659"/>
<path class="cv" d="M744.4,1351.3 750.4,1351.2 756.3,1351.2 762.3,1351.1 768.3,1351.1 774.2,1351.0 780.2,1350.9 786.2,1350.8 792.1,1350.6 798.1,1350.4 804.1,1350.1 810.0,1349.8 816.0,1349.4 821.9,1348.9 827.9,1348.3 833.8,1347.7 839.7,1346.9 845.7,1346.0 851.6,1345.0 857.5,1343.8 863.3,1342.5 869.1,1340.9 874.7,1339.0 880.3,1336.9 885.7,1334.4 891.0,1331.7 896.2,1328.8 901.4,1325.7 906.5,1322.6 911.6,1319.5 916.8,1316.5 921.9,1313.5 927.1,1310.6 932.4,1307.8 937.7,1305.1 943.2,1302.6 948.7,1300.2 954.2,1298.0 959.9,1296.0 965.6,1294.2 971.3,1292.7 977.1,1291.3 983.0,1290.2 988.9,1289.3 994.8,1288.4 1000.8,1287.7 1006.7,1287.1 1012.7,1286.6 1018.6,1286.2 1024.6,1285.9 1030.5,1285.6 1036.5,1285.5 1042.5,1285.5 1048.5,1285.6 1054.4,1285.7 1060.4,1286.0 1066.4,1286.4 1072.3,1286.9 1078.3,1287.4 1084.2,1288.1 1090.1,1289.0 1096.0,1289.9 1101.9,1290.9 1107.7,1292.1 1113.6,1293.3 1119.4,1294.7 1125.2,1296.1 1131.0,1297.6 1136.7,1299.2 1142.5,1300.9 1148.2,1302.6 1153.9,1304.4 1159.6,1306.3 1165.3,1308.3 1170.9,1310.3 1176.5,1312.4 1182.0,1314.6 1187.6,1316.9 1193.0,1319.3 1198.5,1321.7 1203.8,1324.3 1209.2,1327.0 1214.4,1329.8 1219.7,1332.7 1224.8,1335.6 1230.0,1338.7 1235.1,1341.8 1240.1,1345.0 1245.2,1348.2 1250.2,1351.5 1255.1,1354.8 1260.1,1358.1 1265.0,1361.5 1270.0,1364.9 1274.8,1368.3 1279.7,1371.8 1284.4,1375.4 1289.2,1379.0 1293.8,1382.7 1298.4,1386.5 1303.0,1390.4 1307.4,1394.4 1311.8,1398.5"/>
</g>
<g clip-path="url(#c6)">
<g filter="url(#bl)">
<path fill="#000" fill-opacity="0.062" d="M1460,869h8v8h-8zM1460,877h8v8h-8zM1460,885h8v8h-8zM1468,1125h8v8h-8zM1468,1133h8v8h-8zM1468,1141h8v8h-8zM1468,1149h8v8h-8zM1468,1157h8v8h-8zM1476,1301h8v8h-8zM1476,1309h8v8h-8zM1476,1317h8v8h-8zM1484,1389h8v8h-8zM1492,1445h8v8h-8zM1476,1485h8v8h-8z"/>
<path fill="#000" fill-opacity="0.125" d="M1404,845h32v8h-32zM1460,893h8v8h-8zM1468,1165h8v8h-8zM1484,1397h8v8h-8zM1492,1461h8v8h-8zM1484,1477h8v8h-8z"/>
<path fill="#000" fill-opacity="0.188" d="M1436,845h8v8h-8zM1460,901h8v8h-8zM1460,917h8v8h-8zM1460,925h8v8h-8zM1468,1173h8v8h-8zM1476,1325h8v8h-8zM1476,1333h8v8h-8zM1492,1453h8v8h-8z"/>
<path fill="#000" fill-opacity="0.250" d="M1460,909h8v8h-8zM1460,933h8v8h-8zM1460,957h8v8h-8zM1468,1181h8v8h-8zM1468,1205h8v8h-8zM1468,1213h8v8h-8zM1476,1341h8v8h-8zM1484,1405h8v8h-8z"/>
<path fill="#000" fill-opacity="0.312" d="M1460,965h8v8h-8zM1460,973h8v8h-8zM1460,989h8v8h-8zM1460,997h8v8h-8zM1468,1189h8v8h-8zM1468,1197h8v8h-8zM1476,1349h8v8h-8zM1484,1413h8v8h-8zM1484,1421h8v8h-8z"/>
<path fill="#000" fill-opacity="0.375" d="M1460,941h8v8h-8zM1460,949h8v8h-8zM1460,981h8v8h-8zM1460,1005h8v8h-8zM1468,1221h8v8h-8zM1476,1357h8v8h-8zM1484,1429h8v8h-8zM1468,1493h8v8h-8zM1468,1501h8v8h-8zM1468,1509h8v8h-8zM1468,1517h8v8h-8z"/>
<path fill="#000" fill-opacity="0.438" d="M1452,853h8v8h-8zM1460,1013h8v8h-8zM1460,1021h8v8h-8zM1468,1229h8v8h-8zM1468,1245h8v8h-8zM1468,1253h8v8h-8zM1476,1365h8v8h-8z"/>
<path fill="#000" fill-opacity="0.500" d="M1460,1029h8v8h-8zM1468,1237h8v8h-8zM1468,1261h8v8h-8zM1476,1373h8v8h-8zM1484,1437h8v8h-8zM1484,1469h8v8h-8z"/>
<path fill="#000" fill-opacity="0.562" d="M1452,861h8v8h-8zM1452,869h8v8h-8zM1460,1037h8v8h-8zM1460,1061h8v8h-8zM1468,1269h8v8h-8zM1468,1277h8v8h-8zM1468,1285h8v8h-8zM1476,1381h8v8h-8zM1484,1445h8v8h-8z"/>
<path fill="#000" fill-opacity="0.625" d="M1452,877h8v8h-8zM1452,885h8v8h-8zM1452,893h8v8h-8zM1460,1045h8v8h-8zM1460,1053h8v8h-8zM1460,1069h8v8h-8zM1460,1077h8v8h-8zM1460,1085h8v8h-8zM1476,1389h8v8h-8zM1484,1453h8v8h-8zM1484,1461h8v8h-8z"/>
<path fill="#000" fill-opacity="0.688" d="M1444,853h8v8h-8zM1452,901h8v8h-8zM1452,909h8v8h-8zM1452,917h8v8h-8zM1452,925h8v8h-8zM1460,1093h8v8h-8zM1460,1101h8v8h-8zM1468,1293h8v8h-8zM1476,1397h8v8h-8z"/>
<path fill="#000" fill-opacity="0.750" d="M1452,933h8v8h-8zM1452,949h8v8h-8zM1452,957h8v8h-8zM1452,965h8v8h-8zM1460,1109h8v8h-8zM1460,1117h8v8h-8zM1468,1301h8v8h-8zM1468,1309h8v8h-8zM1476,1405h8v8h-8zM1476,1477h8v8h-8z"/>
<path fill="#000" fill-opacity="0.812" d="M1404,853h40v8h-40zM1444,861h8v8h-8zM1444,869h8v8h-8zM1444,885h8v8h-8zM1444,893h8v8h-8zM1444,909h8v8h-8zM1452,941h8v8h-8zM1452,973h8v8h-8zM1452,981h8v8h-8zM1452,989h8v8h-8zM1452,997h8v8h-8zM1460,1125h8v8h-8zM1460,1133h8v8h-8zM1460,1141h8v8h-8zM1460,1149h8v8h-8zM1460,1157h8v8h-8zM1460,1165h8v8h-8zM1468,1317h8v8h-8zM1468,1325h8v8h-8zM1476,1413h8v8h-8zM1468,1485h8v8h-8z"/>
<path fill="#000" fill-opacity="0.875" d="M1404,861h40v8h-40zM1404,869h40v8h-40zM1404,877h48v8h-48zM1404,885h32v8h-32zM1436,893h8v8h-8zM1436,901h16v8h-16zM1444,917h8v8h-8zM1444,925h8v8h-8zM1444,933h8v8h-8zM1452,1005h8v8h-8zM1452,1013h8v8h-8zM1452,1021h8v8h-8zM1452,1029h8v8h-8zM1452,1037h8v8h-8zM1460,1173h8v8h-8zM1460,1181h8v8h-8zM1460,1189h8v8h-8zM1460,1197h8v8h-8zM1460,1205h8v8h-8zM1460,1213h8v8h-8zM1468,1333h8v8h-8zM1468,1341h8v8h-8zM1468,1349h8v8h-8zM1476,1421h8v8h-8zM1476,1429h8v8h-8z"/>
<path fill="#000" fill-opacity="0.938" d="M1436,885h8v8h-8zM1404,893h32v8h-32zM1404,901h32v8h-32zM1404,909h40v8h-40zM1404,917h40v8h-40zM1404,925h40v8h-40zM1404,933h40v8h-40zM1404,941h48v8h-48zM1404,949h48v8h-48zM1404,957h48v8h-48zM1404,965h48v8h-48zM1436,973h16v8h-16zM1444,981h8v8h-8zM1444,989h8v8h-8zM1444,997h8v8h-8zM1444,1005h8v8h-8zM1444,1013h8v8h-8zM1444,1021h8v8h-8zM1444,1029h8v8h-8zM1444,1037h8v8h-8zM1452,1045h8v8h-8zM1452,1053h8v8h-8zM1452,1061h8v8h-8zM1452,1069h8v8h-8zM1452,1077h8v8h-8zM1452,1085h8v8h-8zM1452,1093h8v8h-8zM1452,1101h8v8h-8zM1452,1109h8v8h-8zM1452,1117h8v8h-8zM1460,1221h8v8h-8zM1460,1229h8v8h-8zM1460,1237h8v8h-8zM1460,1245h8v8h-8zM1460,1253h8v8h-8zM1460,1261h8v8h-8zM1460,1269h8v8h-8zM1460,1277h8v8h-8zM1468,1357h8v8h-8zM1468,1365h8v8h-8zM1468,1373h8v8h-8zM1476,1437h8v8h-8zM1476,1445h8v8h-8zM1476,1453h8v8h-8zM1476,1461h8v8h-8zM1476,1469h8v8h-8zM1460,1493h8v8h-8zM1460,1501h8v8h-8zM1460,1509h8v8h-8zM1460,1517h8v8h-8z"/>
<path fill="#000" fill-opacity="1.000" d="M1404,973h32v8h-32zM1404,981h40v8h-40zM1404,989h40v8h-40zM1404,997h40v8h-40zM1404,1005h40v8h-40zM1404,1013h40v8h-40zM1404,1021h40v8h-40zM1404,1029h40v8h-40zM1404,1037h40v8h-40zM1404,1045h48v8h-48zM1404,1053h48v8h-48zM1404,1061h48v8h-48zM1404,1069h48v8h-48zM1404,1077h48v8h-48zM1404,1085h48v8h-48zM1404,1093h48v8h-48zM1404,1101h48v8h-48zM1404,1109h48v8h-48zM1404,1117h48v8h-48zM1404,1125h56v8h-56zM1404,1133h56v8h-56zM1404,1141h56v8h-56zM1404,1149h56v8h-56zM1404,1157h56v8h-56zM1404,1165h56v8h-56zM1404,1173h56v8h-56zM1404,1181h56v8h-56zM1404,1189h56v8h-56zM1404,1197h56v8h-56zM1404,1205h56v8h-56zM1404,1213h56v8h-56zM1404,1221h56v8h-56zM1404,1229h56v8h-56zM1404,1237h56v8h-56zM1404,1245h56v8h-56zM1404,1253h56v8h-56zM1404,1261h56v8h-56zM1404,1269h56v8h-56zM1404,1277h56v8h-56zM1404,1285h64v8h-64zM1404,1293h64v8h-64zM1404,1301h64v8h-64zM1404,1309h64v8h-64zM1404,1317h64v8h-64zM1404,1325h64v8h-64zM1404,1333h64v8h-64zM1404,1341h64v8h-64zM1404,1349h64v8h-64zM1404,1357h64v8h-64zM1404,1365h64v8h-64zM1404,1373h64v8h-64zM1404,1381h72v8h-72zM1404,1389h72v8h-72zM1404,1397h72v8h-72zM1404,1405h72v8h-72zM1404,1413h72v8h-72zM1404,1421h72v8h-72zM1404,1429h72v8h-72zM1404,1437h72v8h-72zM1404,1445h72v8h-72zM1404,1453h72v8h-72zM1404,1461h72v8h-72zM1404,1469h72v8h-72zM1404,1477h72v8h-72zM1404,1485h64v8h-64zM1404,1493h56v8h-56zM1404,1501h56v8h-56zM1404,1509h56v8h-56zM1404,1517h56v8h-56z"/>
</g>
<polyline class="d" fill="none" stroke="none" marker-start="url(#m)" marker-mid="url(#m)" marker-end="url(#m)" transform="translate(1420.5,821.0)" points="-0,50 1,40 1,33 1,45 2,59 3,39 3,44 4,57 4,55 5,40 6,42 6,57 6,43 7,55 7,42 12,45 13,53 14,56 14,50 16,38 19,51 19,36 19,46 20,53 20,49 22,52 22,56 24,36 25,32 28,37 28,47 30,35 30,33 32,33 32,35 34,51 35,56 35,56 35,34 36,42 38,38 39,58 40,33 40,38 43,34 46,46 46,44 58,37 61,57 404,58 0,87 1,96 1,89 2,90 2,68 2,67 2,90 3,88 3,75 3,62 3,60 4,69 4,63 4,80 5,84 5,83 5,68 6,75 8,81 8,94 8,71 9,63 10,87 10,75 10,67 10,79 12,67 13,66 14,63 16,63 17,73 17,60 17,78 18,77 18,87 18,62 19,82 20,97 21,70 21,85 22,92 23,98 23,61 24,96 24,73 24,93 25,89 25,80 26,80 26,64 31,80 32,69 33,98 34,90 34,98 36,97 36,71 37,77 37,60 40,76 41,86 42,80 43,99 44,89 44,72 45,86 45,71 49,69 52,87 53,71 57,72 57,82 76,94 78,60 82,88 85,98 88,60 102,60 316,84 0,119 0,119 1,102 1,102 1,111 2,131 3,107 5,138 6,105 8,118 9,99 10,125 11,125 11,108 11,118 12,132 13,128 16,123 19,136 19,111 19,101 20,112 21,99 21,127 22,134 23,118 23,115 24,114 25,133 25,103 25,124 26,121 26,124 28,112 28,121 28,134 28,132 28,118 30,109 30,119 31,134 32,129 33,138 34,137 36,102 36,113 37,113 37,137 37,122 38,121 40,135 41,129 42,111 44,135 45,107 47,131 47,112 48,137 51,108 53,116 54,136 55,117 56,136 63,113 73,116 73,133 74,133 75,137 96,107 116,118 135,114 136,124 162,112 232,106 258,110 1,163 1,171 1,142 2,161 2,157 3,145 3,145 3,165 3,172 3,139 4,159 5,155 6,173 7,152 7,141 7,144 7,172 9,156 9,166 10,174 11,161 11,162 12,156 12,147 13,165 13,161 13,164 13,175 13,178 14,170 16,174 17,142 17,160 17,173 17,143 17,172 17,152 18,157 19,155 19,142 20,140 20,150 22,163 23,164 23,159 23,140 24,148 24,149 24,165 25,157 26,139 26,174 27,154 27,157 29,141 29,174 29,139 29,148 29,158 30,175 30,146 31,150 31,174 31,146 32,159 34,179 34,174 35,172 36,166 36,178 36,155 37,172 38,155 38,158 38,177 39,160 39,159 39,144 40,174 40,153 41,152 41,176 42,154 42,165 43,169 43,155 44,167 45,179 46,143 47,146 50,154 50,148 52,154 52,142 61,144 61,170 74,168 144,140 210,145 317,169 0,216 1,196 2,205 2,194 2,203 2,182 2,191 2,192 2,211 3,195 3,189 3,203 3,196 3,189 4,186 4,183 4,219 4,201 4,188 5,216 5,183 5,211 5,200 5,196 6,186 6,186 6,207 7,183 7,183 8,204 8,203 8,209 9,195 9,186 9,188 10,186 10,213 10,196 13,207 13,199 13,181 13,211 13,191 14,209 14,203 15,213 16,215 17,185 17,201 17,181 18,213 18,218 19,200 19,186 19,207 20,202 20,216 22,214 22,194 23,196 24,206 24,205 25,218 25,202 27,197 28,204 29,210 29,201 29,185 29,195 30,198 30,205 30,206 30,204 32,196 32,219 33,198 33,205 35,216 36,191 36,212 37,189 37,182 38,199 39,200 39,197 39,200 40,198 40,200 41,185 42,184 42,184 43,184 45,192 45,198 46,203 47,201 47,213 48,210 48,191 48,180 49,184 51,208 52,196 55,208 55,199 64,180 74,208 77,199 81,203 84,203 90,195 90,184 94,210 105,205 106,191 109,187 1,227 1,236 2,220 2,245 3,223 3,257 3,243 4,244 5,220 5,236 6,228 6,246 6,245 6,252 7,237 7,254 8,236 8,254 8,245 8,224 9,254 9,241 9,229 11,237 11,228 13,221 13,243 14,220 14,249 14,254 15,236 15,224 17,253 17,256 17,252 17,236 17,238 18,247 18,219 19,228 20,220 20,242 21,256 21,251 21,222 21,224 22,255 22,226 22,238 23,241 24,228 26,229 26,235 26,249 27,235 27,245 28,244 30,226 30,232 30,225 31,244 32,253 32,246 32,254 33,252 33,236 34,236 35,238 35,250 35,221 35,249 36,222 36,242 37,250 37,230 38,234 38,227 40,239 41,248 42,257 42,221 43,230 43,232 44,257 44,231 45,247 46,227 46,252 53,222 54,223 54,252 59,248 64,238 64,240 66,237 67,237 90,228 98,257 100,252 101,224 102,241 125,256 160,252 0,283 1,289 1,277 2,299 3,287 3,279 4,268 4,280 4,284 4,291 4,271 5,265 5,294 5,292 5,263 6,261 6,275 6,271 6,270 7,265 7,274 8,297 8,286 8,268 9,283 9,259 10,276 10,262 10,270 10,265 11,292 12,268 13,281 13,273 13,294 14,272 15,291 16,295 17,282 17,261 17,259 18,270 18,272 19,273 20,299 20,276 20,273 21,263 21,265 22,281 22,298 22,270 22,278 23,292 26,285 26,264 27,298 28,297 28,284 29,294 29,261 29,292 29,269 30,292 31,287 32,296 32,284 32,262 34,269 35,276 36,262 36,272 36,293 36,263 37,279 38,271 39,274 39,276 40,264 40,274 40,286 41,276 42,290 42,262 42,281 43,285 44,286 44,293 45,260 50,276 50,282 51,267 52,265 53,285 54,286 54,264 55,286 59,269 60,288 65,282 65,271 66,286 66,264 67,286 67,284 68,270 73,261 77,265 77,275 80,268 81,288 82,272 90,287 99,283 104,274 143,286 146,298 0,330 1,309 2,328 2,327 2,300 5,303 5,333 6,309 6,306 7,334 7,304 7,319 8,310 9,319 10,317 11,330 13,334 13,339 14,319 14,324 16,336 16,326 16,328 18,315 18,320 21,321 23,305 23,327 24,336 24,312 24,328 24,319 24,330 25,338 25,319 27,327 27,311 28,337 28,306 28,315 29,309 30,331 30,304 32,303 33,302 33,320 34,307 34,304 35,336 36,332 36,308 38,325 38,302 39,303 40,312 40,337 40,319 40,338 42,317 42,328 42,331 43,314 43,328 44,303 45,319 45,331 46,322 49,338 49,326 49,328 50,310 50,329 51,305 53,337 53,301 54,333 55,320 57,306 57,320 58,310 59,314 59,306 66,300 69,318 69,318 72,301 79,332 80,334 90,307 102,334 115,318 129,314 133,312 1,368 1,343 1,365 2,352 2,342 3,341 3,353 4,369 5,357 6,340 6,378 8,339 9,341 9,376 9,369 10,352 11,359 11,378 12,344 13,355 13,357 13,356 13,362 14,343 14,340 14,340 15,359 18,373 18,373 19,350 19,350 19,346 20,354 20,375 21,376 21,357 22,363 23,376 25,368 26,355 27,361 27,366 27,367 29,355 29,360 30,348 31,340 32,378 33,349 34,359 36,363 36,362 36,351 37,367 37,348 37,339 39,358 39,341 42,378 42,362 43,345 43,376 45,362 48,349 48,379 49,363 49,360 49,360 51,354 51,361 52,355 54,376 57,366 60,365 63,347 64,365 66,363 66,356 69,365 71,369 71,341 73,373 75,345 75,375 80,353 99,340 120,363 1,415 1,419 2,415 2,394 3,384 4,405 4,400 4,386 5,386 5,414 6,401 6,391 7,405 8,389 8,383 8,398 10,387 11,379 12,382 13,412 15,393 17,397 17,412 17,412 18,382 18,403 18,384 19,404 20,380 20,382 20,383 21,403 21,384 22,394 22,403 22,417 23,388 24,393 24,403 25,407 25,382 25,381 26,381 26,411 27,393 29,380 30,413 31,419 32,409 33,403 33,381 33,390 36,386 37,382 38,399 38,403 39,383 39,414 40,419 40,390 40,396 41,389 42,387 42,407 42,383 44,394 44,417 45,419 45,413 46,396 46,383 46,411 47,401 52,419 52,380 54,383 55,409 60,387 60,387 61,388 63,409 63,410 64,387 68,386 72,388 75,388 79,400 80,401 87,385 91,387 94,392 97,413 103,409 103,402 114,417 120,406 163,407 278,411 1,426 1,425 1,427 2,458 2,450 2,433 2,457 2,450 3,420 3,458 3,437 4,458 4,453 4,452 4,439 5,441 5,446 6,453 6,438 8,458 8,434 8,453 9,429 10,441 11,443 11,426 11,437 12,420 13,422 13,441 13,428 14,421 16,458 16,452 19,444 21,456 22,451 22,433 22,444 23,429 23,458 23,455 23,428 24,428 24,441 25,440 25,453 26,452 26,423 26,423 27,424 28,432 29,448 29,448 30,424 30,420 30,442 30,433 30,436 31,443 31,434 31,427 32,449 32,439 33,459 35,459 36,425 36,458 36,452 36,420 36,434 36,440 37,425 37,420 38,459 38,444 40,426 41,438 41,426 41,436 41,427 42,444 42,440 43,443 43,443 44,447 45,450 47,448 47,457 48,450 50,431 50,427 50,442 51,443 52,453 53,444 54,434 54,446 54,437 55,432 55,437 57,437 59,440 59,426 64,459 64,437 65,456 65,437 67,433 76,446 77,422 79,456 84,433 93,428 93,447 96,444 100,429 103,427 104,423 126,424 186,458 0,479 0,480 0,496 0,462 0,488 1,467 2,491 2,497 3,496 4,472 5,473 6,492 6,492 7,496 7,464 9,467 9,470 9,494 10,472 10,496 11,467 11,469 12,471 13,480 15,495 15,464 15,466 17,469 17,490 18,462 18,472 18,467 19,469 20,470 20,474 21,469 23,493 23,496 25,490 25,474 26,471 26,484 26,483 26,489 26,476 27,495 29,478 29,465 30,474 31,464 31,471 31,478 31,490 32,485 33,486 34,495 34,473 35,490 35,478 36,471 37,463 38,464 40,478 41,491 42,466 44,489 44,481 47,463 49,478 50,488 50,462 52,462 53,470 54,497 56,497 57,471 59,486 59,493 59,481 61,480 62,462 62,488 63,495 63,460 63,486 64,489 64,460 65,494 65,464 66,477 68,482 74,475 80,481 80,482 86,472 90,485 92,471 92,460 94,487 94,475 95,464 96,492 100,477 100,490 111,480 263,460 0,509 1,515 1,528 1,523 2,526 2,507 3,500 4,519 4,507 4,538 4,533 6,521 6,522 6,521 7,525 7,509 8,524 8,533 9,518 9,517 11,511 11,517 11,520 11,511 12,534 13,519 14,510 15,506 15,535 15,510 16,537 16,511 17,526 18,518 18,510 18,519 19,526 20,525 20,511 21,524 21,538 21,530 21,535 23,529 23,510 23,528 24,526 24,514 24,533 25,524 25,500 27,538 27,513 29,537 31,503 32,533 33,531 33,525 34,507 34,510 34,522 35,519 35,520 35,511 36,516 36,533 37,522 37,529 39,500 40,500 40,532 42,510 43,538 44,507 45,515 45,516 48,525 50,509 51,525 51,508 54,520 55,515 55,525 55,510 55,507 56,532 56,514 56,535 57,530 59,508 59,519 60,515 61,509 62,529 63,517 64,508 65,530 66,530 67,530 68,527 71,511 72,526 77,520 77,516 78,508 82,506 83,517 84,535 87,535 87,529 89,506 94,514 99,523 108,539 111,521 132,538 140,514 143,510 144,514 146,527 153,521 154,514 191,527 211,507 268,511 276,510 282,539 499,513 0,576 1,573 1,554 2,561 2,554 3,548 3,576 4,541 6,557 6,563 7,574 7,554 8,563 10,540 12,563 12,548 12,559 12,563 12,577 14,579 14,545 14,567 15,546 15,570 16,573 17,573 17,568 18,576 19,561 19,562 19,575 20,558 21,558 22,569 22,547 22,572 23,576 24,567 26,558 27,573 27,548 28,557 30,575 30,568 31,548 31,567 32,546 33,574 34,542 34,565 34,549 35,550 36,549 37,565 37,553 38,547 39,541 39,547 40,549 40,560 40,557 41,554 42,578 43,545 43,577 43,555 45,562 49,568 50,570 50,550 52,572 52,575 52,561 53,564 53,564 56,570 57,573 57,560 58,541 59,566 60,570 62,556 62,549 63,578 64,556 66,578 66,552 66,558 68,545 68,554 69,557 72,578 75,575 75,540 84,571 84,540 85,543 87,556 89,575 91,575 93,560 97,557 101,564 105,561 106,552 116,559 120,548 125,554 128,547 134,577 147,575 149,540 149,558 197,545 0,596 1,605 1,592 1,601 2,612 2,595 3,588 3,601 3,617 3,607 3,603 4,607 4,610 5,596 5,600 6,614 6,613 8,608 8,598 9,611 9,581 10,595 10,617 10,592 10,601 10,597 12,600 12,592 13,618 13,585 15,593 16,616 16,595 17,597 17,586 18,594 19,612 19,608 20,589 20,601 21,598 21,581 21,583 22,610 24,589 25,609 25,582 26,600 27,605 28,580 28,615 29,610 30,614 30,588 30,594 30,610 32,610 32,595 33,589 34,597 35,597 37,615 37,609 37,592 38,618 38,590 38,603 38,617 39,603 41,592 42,593 43,588 43,598 43,586 44,598 45,593 46,610 50,588 52,618 52,584 52,609 54,604 54,610 56,589 58,607 59,581 60,604 62,590 64,600 64,596 67,581 69,619 69,610 70,592 71,598 71,619 73,590 74,612 74,591 74,600 74,614 75,596 75,591 77,588 77,611 79,591 85,609 85,584 87,599 90,606 93,611 94,585 95,617 95,615 97,589 97,592 104,599 107,601 113,591 115,591 120,585 122,602 122,618 135,613 146,604 154,593 157,596 159,612 165,605 184,581 228,596 263,588 0,640 1,656 2,634 2,651 3,658 4,622 4,649 4,633 5,630 5,656 5,622 6,619 7,658 7,646 10,657 10,659 10,658 12,626 13,649 14,641 14,619 15,657 16,630 16,627 19,631 20,634 20,648 21,641 22,642 23,644 23,638 24,629 25,644 25,643 29,646 29,628 30,632 30,649 31,637 32,623 33,628 33,635 34,642 34,650 35,634 37,641 37,644 38,657 38,640 38,659 38,642 39,638 39,636 39,638 40,650 41,651 42,652 42,643 43,628 44,641 44,621 45,625 46,648 47,645 48,632 48,651 49,631 51,632 51,620 51,641 51,652 52,636 53,629 53,631 54,645 54,625 54,634 55,655 56,639 56,658 58,620 58,638 59,641 59,657 60,648 61,656 63,631 63,650 65,658 66,625 66,642 66,645 66,632 67,657 67,643 67,659 67,643 68,646 68,651 68,620 70,634 71,648 73,627 74,648 75,641 76,656 76,630 77,643 77,648 78,628 78,619 79,658 80,654 80,649 81,652 84,625 90,629 91,653 94,641 95,629 101,621 102,637 107,655 108,655 111,637 114,655 118,620 119,633 126,633 127,657 138,652 140,644 143,650 144,656 145,622 149,636 160,634 186,631 0,668 1,675 1,662 1,660 1,661 1,662 2,673 2,673 2,662 3,664 4,661 6,671 10,663 12,661 12,662 15,668 16,665 16,674 19,668 20,674 25,664 30,678 30,672 33,668 36,662 38,671 38,674 40,669 45,679 48,672 48,659 53,673 54,666 54,664 58,673 58,664 59,662 64,660 69,668 79,665 81,659 82,665 85,668 87,668 94,676 106,668 110,674 115,660 133,664 183,659"/>
<path class="cv" d="M1426.9,1376.5 1426.7,1370.4 1426.9,1364.3 1427.6,1358.4 1428.6,1352.5 1430.0,1346.7 1431.7,1341.0 1433.5,1335.3 1435.6,1329.7 1437.7,1324.1 1439.9,1318.5 1442.2,1312.9 1444.4,1307.3 1446.7,1301.8 1449.0,1296.3 1451.3,1290.8 1453.8,1285.3 1456.2,1279.8 1458.8,1274.4 1461.5,1269.1 1464.2,1263.8 1467.0,1258.5 1470.0,1253.3 1473.0,1248.1 1476.0,1242.9 1479.2,1237.8 1482.4,1232.7 1485.6,1227.7 1488.9,1222.7 1492.3,1217.8 1495.7,1212.8 1499.1,1208.0 1502.7,1203.1 1506.2,1198.3 1509.9,1193.5 1513.5,1188.8 1517.3,1184.1 1521.1,1179.5 1525.0,1174.9 1529.0,1170.4 1533.0,1166.0 1537.2,1161.7 1541.5,1157.6 1546.0,1153.6 1550.6,1149.7 1555.3,1146.0 1560.1,1142.5 1565.0,1139.1 1570.1,1135.8 1575.2,1132.7 1580.5,1129.8 1585.8,1127.0 1591.2,1124.4 1596.7,1121.9 1602.3,1119.7 1607.9,1117.7 1613.6,1115.8 1619.4,1114.2 1625.2,1112.8 1631.1,1111.7 1637.0,1110.7 1643.0,1109.9 1648.9,1109.2 1654.9,1108.8 1660.9,1108.4 1666.9,1108.2 1672.9,1108.2 1678.9,1108.3 1684.9,1108.5 1690.8,1108.8 1696.8,1109.2 1702.8,1109.7 1708.7,1110.4 1714.7,1111.1 1720.6,1111.9 1726.6,1112.7 1732.5,1113.6 1738.4,1114.5 1744.3,1115.3 1750.2,1116.2 1756.2,1117.1 1762.1,1118.0 1768.0,1118.8 1774.0,1119.6 1779.9,1120.3 1785.9,1121.0 1791.8,1121.6 1797.8,1122.1 1803.8,1122.6 1809.7,1122.9 1815.7,1123.2 1821.7,1123.4 1827.7,1123.4 1833.7,1123.3 1839.7,1123.1 1845.7,1122.8 1851.6,1122.3 1857.6,1121.6 1863.5,1120.7 1869.4,1119.7 1875.3,1118.4 1881.1,1117.0 1886.9,1115.4 1892.6,1113.5 1898.2,1111.5 1903.8,1109.3 1909.3,1106.8 1914.6,1104.2 1919.9,1101.3"/>
</g>
<path class="ti" d="M100.5,680.0H111.0M100.5,517.9H111.0M100.5,355.8H111.0M100.5,193.7H111.0M100.5,31.6H111.0M111.0,680.0V690.5M243.7,680.0V690.5M376.4,680.0V690.5M509.1,680.0V690.5M641.0,680.0V690.5"/>
<path class="ax" d="M111.0,0.0V682.1M108.9,680.0H643.0"/>
<text class="tk" text-anchor="end" x="92.0" y="693.6">0</text>
<text class="tk" text-anchor="end" x="92.0" y="531.5">5</text>
<text class="tk" text-anchor="end" x="92.0" y="369.4">10</text>
<text class="tk" text-anchor="end" x="92.0" y="207.3">15</text>
<text class="tk" text-anchor="end" x="92.0" y="45.2">20</text>
<text class="tk" text-anchor="middle" x="111.0" y="724.6">1</text>
<text class="tk" text-anchor="middle" x="243.7" y="724.6">6</text>
<text class="tk" text-anchor="middle" x="376.4" y="724.6">11</text>
<text class="tk" text-anchor="middle" x="509.1" y="724.6">16</text>
<text class="tk" text-anchor="middle" x="641.0" y="724.6">21</text>
<text class="tt" text-anchor="middle" x="376.5" y="768.5">Sea surface Temperature (°C)</text>
<text class="tt" text-anchor="middle" transform="translate(34,340.0) rotate(-90) scale(0.996,1.06)">Monthly deaths per 1,000 fish</text>
<path class="ti" d="M731.3,680.0H741.8M731.3,517.9H741.8M731.3,355.8H741.8M731.3,193.7H741.8M731.3,31.6H741.8M741.8,680.0V690.5M832.2,680.0V690.5M922.6,680.0V690.5M1013.0,680.0V690.5M1103.4,680.0V690.5M1193.8,680.0V690.5M1283.6,680.0V690.5"/>
<path class="ax" d="M741.8,0.0V682.1M739.7,680.0H1319.6"/>
<text class="tk" text-anchor="end" x="722.8" y="693.6">0</text>
<text class="tk" text-anchor="end" x="722.8" y="531.5">5</text>
<text class="tk" text-anchor="end" x="722.8" y="369.4">10</text>
<text class="tk" text-anchor="end" x="722.8" y="207.3">15</text>
<text class="tk" text-anchor="end" x="722.8" y="45.2">20</text>
<text class="tk" text-anchor="middle" x="741.8" y="724.6">3</text>
<text class="tk" text-anchor="middle" x="832.2" y="724.6">8</text>
<text class="tk" text-anchor="middle" x="922.6" y="724.6">13</text>
<text class="tk" text-anchor="middle" x="1013.0" y="724.6">18</text>
<text class="tk" text-anchor="middle" x="1103.4" y="724.6">23</text>
<text class="tk" text-anchor="middle" x="1193.8" y="724.6">28</text>
<text class="tk" text-anchor="middle" x="1283.6" y="724.6">33</text>
<text class="tt" text-anchor="middle" x="1030.7" y="768.5">Sea surface salinity (‰)</text>
<path class="ti" d="M1409.9,680.0H1420.4M1409.9,517.9H1420.4M1409.9,355.8H1420.4M1409.9,193.7H1420.4M1409.9,31.6H1420.4M1420.4,680.0V690.5M1557.5,680.0V690.5M1743.5,680.0V690.5M1930.3,680.0V690.5"/>
<path class="ax" d="M1420.4,0.0V682.1M1418.3,680.0H1998.4"/>
<text class="tk" text-anchor="end" x="1401.4" y="693.6">0</text>
<text class="tk" text-anchor="end" x="1401.4" y="531.5">5</text>
<text class="tk" text-anchor="end" x="1401.4" y="369.4">10</text>
<text class="tk" text-anchor="end" x="1401.4" y="207.3">15</text>
<text class="tk" text-anchor="end" x="1401.4" y="45.2">20</text>
<text class="tk" text-anchor="middle" x="1420.4" y="724.6">40</text>
<text class="tk" text-anchor="middle" x="1557.5" y="724.6">150</text>
<text class="tk" text-anchor="middle" x="1743.5" y="724.6">300</text>
<text class="tk" text-anchor="middle" x="1930.3" y="724.6">450</text>
<text class="tt" text-anchor="middle" x="1709.4" y="768.5">Weight upon stocking at sea (g)</text>
<path class="ti" d="M100.5,1501.1H111.0M100.5,1339.1H111.0M100.5,1177.1H111.0M100.5,1015.1H111.0M100.5,853.1H111.0M111.3,1501.1V1511.6M195.8,1501.1V1511.6M284.8,1501.1V1511.6M373.9,1501.1V1511.6M462.9,1501.1V1511.6M552.0,1501.1V1511.6"/>
<path class="ax" d="M111.0,821.0V1503.2M108.9,1501.1H643.0"/>
<text class="tk" text-anchor="end" x="92.0" y="1514.7">0</text>
<text class="tk" text-anchor="end" x="92.0" y="1352.7">5</text>
<text class="tk" text-anchor="end" x="92.0" y="1190.7">10</text>
<text class="tk" text-anchor="end" x="92.0" y="1028.7">15</text>
<text class="tk" text-anchor="end" x="92.0" y="866.7">20</text>
<text class="tk" text-anchor="middle" x="111.3" y="1545.6">50</text>
<text class="tk" text-anchor="middle" x="195.8" y="1545.6">1000</text>
<text class="tk" text-anchor="middle" x="284.8" y="1545.6">2000</text>
<text class="tk" text-anchor="middle" x="373.9" y="1545.6">3000</text>
<text class="tk" text-anchor="middle" x="462.9" y="1545.6">4000</text>
<text class="tk" text-anchor="middle" x="552.0" y="1545.6">5000</text>
<text class="tt" text-anchor="middle" x="376.5" y="1589.4">Fish weight (g)</text>
<text class="tt" text-anchor="middle" transform="translate(34,1161.0) rotate(-90) scale(0.996,1.06)">Monthly deaths per 1,000 fish</text>
<path class="ti" d="M731.5,1484.0H742.0M731.5,1326.1H742.0M731.5,1168.2H742.0M731.5,1010.3H742.0M731.5,852.4H742.0M742.0,1484.0V1494.5M982.6,1484.0V1494.5M1223.4,1484.0V1494.5"/>
<path class="ax" d="M742.0,821.0V1486.1M739.9,1484.0H1319.4"/>
<text class="tk" text-anchor="end" x="723.0" y="1497.6">0</text>
<text class="tk" text-anchor="end" x="723.0" y="1339.7">5</text>
<text class="tk" text-anchor="end" x="723.0" y="1181.8">10</text>
<text class="tk" text-anchor="end" x="723.0" y="1023.9">15</text>
<text class="tk" text-anchor="end" x="723.0" y="866.0">20</text>
<text class="tk" text-anchor="middle" font-size="37" x="686.0" y="1541.6" style="font-size:37px">5</text><text class="tk" text-anchor="middle" x="716.0" y="1546.1" style="font-size:44px">×</text><text class="tk" text-anchor="middle" x="756.6" y="1541.6" style="font-size:37px">10</text><text class="tk" text-anchor="middle" x="792.4" y="1521.6" style="font-size:27px">+5</text>
<text class="tk" text-anchor="middle" font-size="37" x="926.6" y="1541.6" style="font-size:37px">1</text><text class="tk" text-anchor="middle" x="956.6" y="1546.1" style="font-size:44px">×</text><text class="tk" text-anchor="middle" x="997.2" y="1541.6" style="font-size:37px">10</text><text class="tk" text-anchor="middle" x="1033.0" y="1521.6" style="font-size:27px">+9</text>
<text class="tk" text-anchor="middle" font-size="37" x="1167.4" y="1541.6" style="font-size:37px">2</text><text class="tk" text-anchor="middle" x="1197.4" y="1546.1" style="font-size:44px">×</text><text class="tk" text-anchor="middle" x="1238.0" y="1541.6" style="font-size:37px">10</text><text class="tk" text-anchor="middle" x="1273.8" y="1521.6" style="font-size:27px">+9</text>
<text class="tt" text-anchor="middle" x="1030.7" y="1589.4">Local biomass density*</text>
<path class="ti" d="M1410.0,1501.1H1420.5M1410.0,1339.1H1420.5M1410.0,1177.1H1420.5M1410.0,1015.1H1420.5M1410.0,853.1H1420.5M1420.5,1501.1V1511.6M1535.9,1501.1V1511.6M1651.3,1501.1V1511.6M1766.7,1501.1V1511.6M1882.2,1501.1V1511.6M1997.6,1501.1V1511.6"/>
<path class="ax" d="M1420.5,821.0V1503.2M1418.4,1501.1H1998.6"/>
<text class="tk" text-anchor="end" x="1401.5" y="1514.7">0</text>
<text class="tk" text-anchor="end" x="1401.5" y="1352.7">5</text>
<text class="tk" text-anchor="end" x="1401.5" y="1190.7">10</text>
<text class="tk" text-anchor="end" x="1401.5" y="1028.7">15</text>
<text class="tk" text-anchor="end" x="1401.5" y="866.7">20</text>
<text class="tk" text-anchor="middle" x="1420.5" y="1545.6">0</text>
<text class="tk" text-anchor="middle" x="1535.9" y="1545.6">1</text>
<text class="tk" text-anchor="middle" x="1651.3" y="1545.6">2</text>
<text class="tk" text-anchor="middle" x="1766.7" y="1545.6">3</text>
<text class="tk" text-anchor="middle" x="1882.2" y="1545.6">4</text>
<text class="tk" text-anchor="middle" x="1997.6" y="1545.6">5</text>
<text class="tt" text-anchor="middle" x="1709.5" y="1589.4">Sea lice count</text>
</svg></body></html>
